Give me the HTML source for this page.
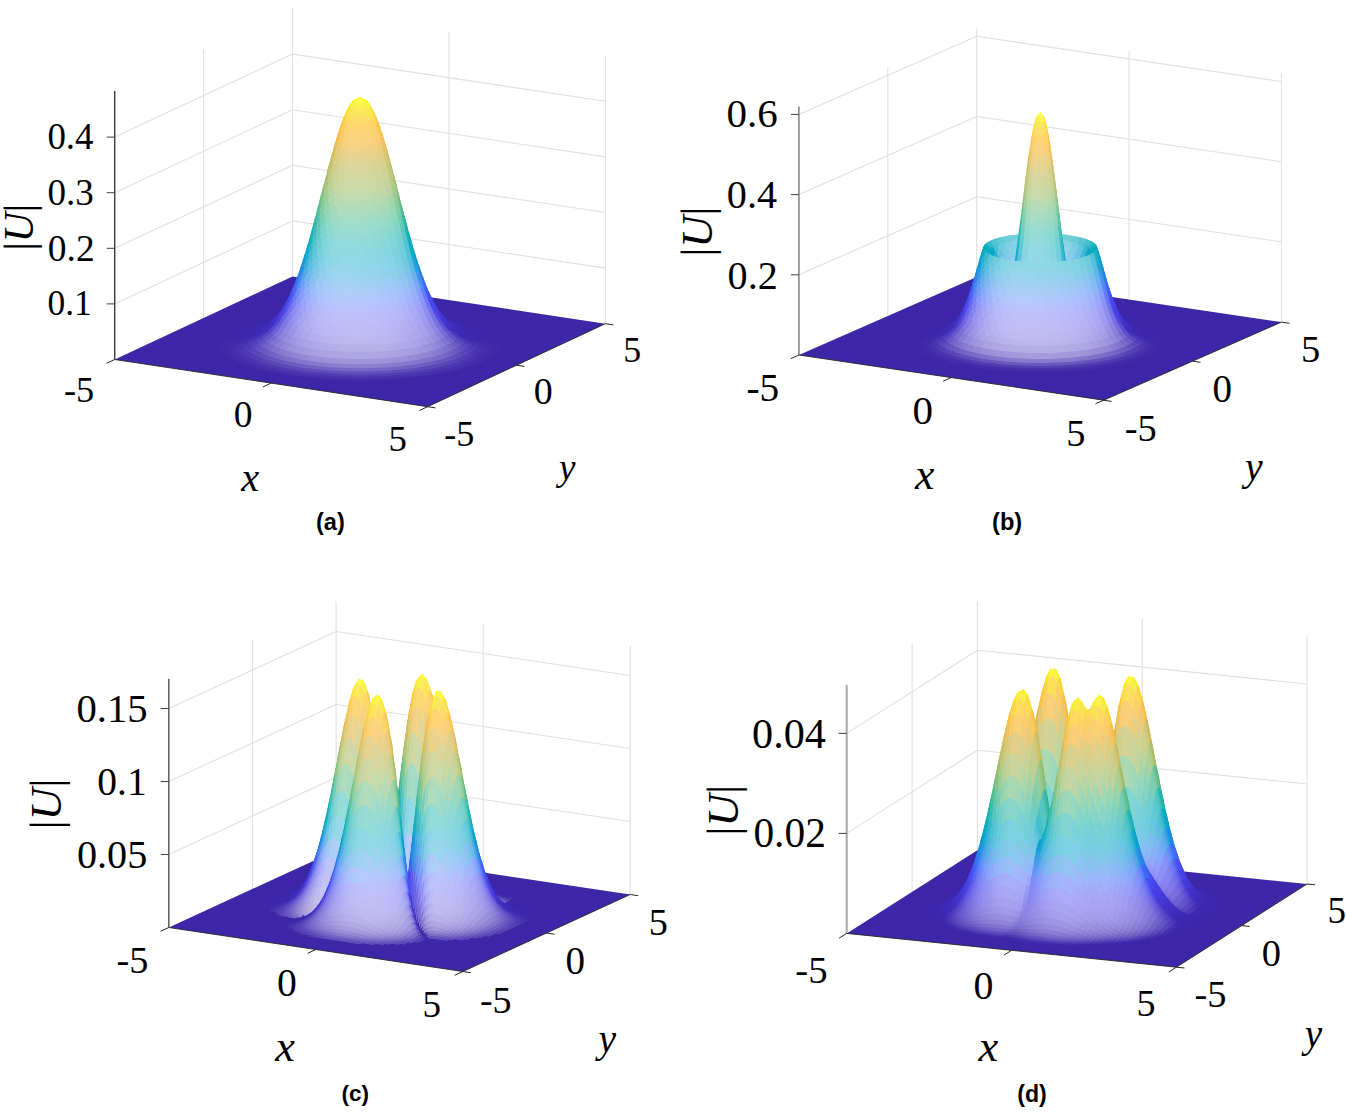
<!DOCTYPE html>
<html><head><meta charset="utf-8"><style>html,body{margin:0;padding:0;background:#fff;overflow:hidden}svg{display:block}.s{font-family:"Liberation Serif",serif}.i{font-style:italic}.b{font-family:"Liberation Sans",sans-serif;font-weight:bold}</style></head>
<body><svg width="1346" height="1113" viewBox="0 0 1346 1113">
<rect width="1346" height="1113" fill="#fff"/>
<g><line x1="114.7" y1="303.9" x2="292.5" y2="220.9" stroke="#e0e0e0" stroke-width="1.10"/>
<line x1="292.5" y1="220.9" x2="605.4" y2="268.1" stroke="#e0e0e0" stroke-width="1.10"/>
<line x1="114.7" y1="248.3" x2="292.5" y2="165.3" stroke="#e0e0e0" stroke-width="1.10"/>
<line x1="292.5" y1="165.3" x2="605.4" y2="212.5" stroke="#e0e0e0" stroke-width="1.10"/>
<line x1="114.7" y1="192.7" x2="292.5" y2="109.7" stroke="#e0e0e0" stroke-width="1.10"/>
<line x1="292.5" y1="109.7" x2="605.4" y2="156.9" stroke="#e0e0e0" stroke-width="1.10"/>
<line x1="114.7" y1="137.1" x2="292.5" y2="54.1" stroke="#e0e0e0" stroke-width="1.10"/>
<line x1="292.5" y1="54.1" x2="605.4" y2="101.3" stroke="#e0e0e0" stroke-width="1.10"/>
<line x1="203.6" y1="318.0" x2="203.6" y2="49.5" stroke="#e0e0e0" stroke-width="1.10"/>
<line x1="292.5" y1="276.5" x2="292.5" y2="8.0" stroke="#e0e0e0" stroke-width="1.10"/>
<line x1="448.9" y1="300.1" x2="448.9" y2="31.6" stroke="#e0e0e0" stroke-width="1.10"/>
<line x1="605.4" y1="323.7" x2="605.4" y2="55.2" stroke="#e0e0e0" stroke-width="1.10"/></g>
<g><path d="M114.7 359.5 L427.6 406.7 L605.4 323.7 L292.5 276.5 Z" fill="#3d26a7"/>
<path d="M442.9 311.1l1.6-.8-9.1-1.9-1.5.9z" fill="#3e26a9"/>
<path d="M284.5 309.5l-1.5-.8-9 1.9 1.6.8z" fill="#3e26a9"/>
<path d="M438.7 312.5l4.9-1.9-9-1.8-4.4 1.9z" fill="#3e27a9"/>
<path d="M288.4 310.9l-4.5-1.9-8.9 1.9 4.9 1.8z" fill="#3e27a9"/>
<path d="M450.8 312.8l1.7-.8-8.7-2.1-1.6.8z" fill="#3e26a9"/>
<path d="M276.3 311l-1.6-.8-8.6 2.1 1.7.8z" fill="#3e26a9"/>
<path d="M446.2 314l5.2-1.7-8.5-2.1-4.9 1.8z" fill="#3e27a9"/>
<path d="M280.6 312.3l-4.9-1.8-8.5 2.1 5.3 1.7z" fill="#3e27a9"/>
<path d="M458.2 314.5l1.8-.7-8.2-2.3-1.7.8z" fill="#3e26a9"/>
<path d="M268.5 312.6l-1.7-.8-8.1 2.3 1.8.7z" fill="#3e26a9"/>
<path d="M286.9 313l-4.8-1.6-8.6 2 5.3 1.6z" fill="#3e27aa"/>
<path d="M453.2 315.7l5.7-1.7-8.2-2.2-5.2 1.7z" fill="#3e27a9"/>
<path d="M442.4 315.2l5.3-1.5-8.5-2.1-4.9 1.6z" fill="#3e27aa"/>
<path d="M273.2 313.8l-5.3-1.7-8.1 2.3 5.8 1.6z" fill="#3e27a9"/>
<path d="M465.1 316.4l1.9-.7-7.7-2.4-1.8.7z" fill="#3e26a9"/>
<path d="M261.2 314.4l-1.9-.8-7.6 2.5 2 .7z" fill="#3e26a9"/>
<path d="M279.4 314.5l-5.2-1.5-8.1 2.2 5.7 1.4z" fill="#3e27aa"/>
<path d="M449.3 316.9l5.7-1.4-8-2.2-5.3 1.4z" fill="#3e27aa"/>
<path d="M459.8 317.4l6-1.5-7.6-2.3-5.7 1.6z" fill="#3e27a9"/>
<path d="M266.2 315.5l-5.7-1.6-7.5 2.4 6.1 1.5z" fill="#3e27a9"/>
<path d="M285.7 314.8l-5.2-1.1-8.1 2.1 5.6 1.1z" fill="#3e27ab"/>
<path d="M471.5 318.4l2.1-.7-7.2-2.5-1.9.7z" fill="#3e26a9"/>
<path d="M272.5 316.1l-5.7-1.4-7.5 2.4 6 1.3z" fill="#3e27aa"/>
<path d="M254.3 316.3l-1.9-.7-7.1 2.5 2.1.7z" fill="#3e26a9"/>
<path d="M445.3 317.8l5.8-1-7.8-2.3-5.4 1.1z" fill="#3e27ab"/>
<path d="M455.7 318.7l6.1-1.3-7.5-2.4-5.7 1.4z" fill="#3e27aa"/>
<path d="M465.9 319.3l6.3-1.3-7-2.5-6.1 1.4z" fill="#3e27a9"/>
<path d="M259.7 317.3l-6.1-1.5-6.9 2.6 6.4 1.3z" fill="#3e27a9"/>
<path d="M278.7 316.4l-5.6-1-7.6 2.3 6 1z" fill="#3e27ab"/>
<path d="M477.4 320.5l2.1-.6-6.6-2.7-2 .7z" fill="#3e26a9"/>
<path d="M265.9 317.9l-6-1.3-7 2.5 6.4 1.2z" fill="#3e27aa"/>
<path d="M451.6 319.6l6.2-.9-7.3-2.4-5.8.9z" fill="#3e27ab"/>
<path d="M461.6 320.6l6.5-1.1-6.9-2.6-6.1 1.3z" fill="#3e27aa"/>
<path d="M248 318.3l-2-.7-6.5 2.7 2.1.6z" fill="#3e26a9"/>
<path d="M471.5 321.4l6.6-1.3-6.5-2.6-6.4 1.3z" fill="#3e27a9"/>
<path d="M272.1 318.1l-6-.9-7 2.5 6.4.8z" fill="#3e27ab"/>
<path d="M281.8 316.9l-5.7-.4-7.4 2.4 6.1.3z" fill="#3e28ad"/>
<path d="M253.7 319.2l-6.4-1.3-6.4 2.6 6.7 1.2z" fill="#3e27a9"/>
<path d="M446.3 319.5l6.2-.3-7.3-2.4-5.9.4z" fill="#3e28ad"/>
<path d="M457.3 321.5l6.6-.8-6.8-2.5-6.1.8z" fill="#3e27ab"/>
<path d="M259.9 319.7l-6.4-1.1-6.4 2.7 6.7 1z" fill="#3e27aa"/>
<path d="M482.7 322.7l2.2-.5-6-2.8-2.1.6z" fill="#3e26a9"/>
<path d="M467 322.6l6.8-1-6.3-2.7-6.5 1.1z" fill="#3e27aa"/>
<path d="M242.2 320.4l-2.1-.6-5.9 2.8 2.2.6z" fill="#3e26a9"/>
<path d="M476.5 323.5l6.9-1.1-5.9-2.8-6.7 1.2z" fill="#3e27a9"/>
<path d="M275.5 318.7l-6.2-.3-6.8 2.6 6.5.1z" fill="#3e28ad"/>
<path d="M266.1 320l-6.4-.8-6.3 2.6 6.7.7z" fill="#3e27ab"/>
<path d="M248.2 321.2l-6.7-1.2-5.8 2.8 7 1.1z" fill="#3e27a9"/>
<path d="M452 321.5l6.5-.2-6.6-2.6-6.3.3z" fill="#3e28ad"/>
<path d="M462.5 323.5l6.8-.6-6-2.7-6.6.7z" fill="#3e27ab"/>
<path d="M254.4 321.7l-6.7-1-5.8 2.8 7 .9z" fill="#3e27aa"/>
<path d="M487.4 325.1l2.3-.5-5.4-3-2.2.6z" fill="#3e26a9"/>
<path d="M471.8 324.7l7.1-.8-5.7-2.8-6.8.9z" fill="#3e27aa"/>
<path d="M446.6 320.6l6.6.8-6.6-2.7-6.3-.6z" fill="#3f29b0"/>
<path d="M237 322.6l-2.2-.5-5.2 2.9 2.2.5z" fill="#3e26a9"/>
<path d="M278.8 318.4l-6.3.6-6.5 2.7 6.7-.8z" fill="#3f29b0"/>
<path d="M269.6 320.6l-6.5-.2-6.1 2.7 6.8.1z" fill="#3e28ad"/>
<path d="M481 325.7l7.2-1-5.3-2.9-7 1.1z" fill="#3e27a9"/>
<path d="M260.7 321.9l-6.8-.6-5.7 2.8 7 .5z" fill="#3e27ab"/>
<path d="M457.1 323.5l6.9 0-6-2.7-6.6.1z" fill="#3e28ad"/>
<path d="M243.3 323.3l-7-1.1-5.2 3 7.2.9z" fill="#3e27a9"/>
<path d="M467 325.6l7.2-.4-5.4-2.8-6.9.5z" fill="#3e27ab"/>
<path d="M249.5 323.8l-7-.8-5.1 2.9 7.2.7z" fill="#3e27aa"/>
<path d="M451.6 322.7l7 .9-5.9-2.8-6.7-.8z" fill="#3f29b0"/>
<path d="M476 326.9l7.3-.7-5-2.9-7.1.8z" fill="#3e27aa"/>
<path d="M491.5 327.5l2.3-.5-4.7-3-2.3.5z" fill="#3e26a9"/>
<path d="M273.2 320.3l-6.7.8-5.8 2.9 7.1-1z" fill="#3f29b0"/>
<path d="M264.4 322.6l-6.9 0-5.4 2.8 7.2-.1z" fill="#3e28ad"/>
<path d="M232.4 324.9l-2.3-.5-4.5 3.1 2.3.4z" fill="#3e26a9"/>
<path d="M255.8 324l-7-.5-5.1 2.9 7.3.3z" fill="#3e27ab"/>
<path d="M484.8 328l7.5-.9-4.7-3-7.2 1z" fill="#3e27a9"/>
<path d="M461.5 325.7l7.2.1-5.3-2.9-6.9 0z" fill="#3e28ad"/>
<path d="M238.9 325.5l-7.3-.9-4.5 3 7.5.8z" fill="#3e27a9"/>
<path d="M446.1 320.7l7.1 2.2-5.8-2.9-6.7-2.1z" fill="#402bb5"/>
<path d="M471 327.9l7.4-.3-4.8-3-7.1.4z" fill="#3e27ab"/>
<path d="M245.2 326l-7.3-.7-4.4 3 7.5.6z" fill="#3e27aa"/>
<path d="M455.9 324.9l7.3 1.1-5.1-3-7-.9z" fill="#3f29b0"/>
<path d="M276.9 318.9l-6.9 2.1-5.3 3 7.2-2.3z" fill="#402bb5"/>
<path d="M479.6 329.2l7.5-.5-4.3-3.1-7.3.7z" fill="#3e27aa"/>
<path d="M268.3 322.4l-7.1.9-5 3 7.4-1.1z" fill="#3f29b0"/>
<path d="M494.9 329.9l2.4-.4-4-3.1-2.4.4z" fill="#3e26a9"/>
<path d="M259.8 324.7l-7.2.1-4.6 3 7.4-.3z" fill="#3e28ad"/>
<path d="M251.5 326.1l-7.3-.3-4.3 3 7.5.2z" fill="#3e27ab"/>
<path d="M488.1 330.3l7.6-.6-4-3.2-7.4.8z" fill="#3e27a9"/>
<path d="M228.4 327.3l-2.3-.4-3.9 3.1 2.4.4z" fill="#3e26a9"/>
<path d="M465.3 327.9l7.4.4-4.5-3.1-7.2-.2z" fill="#3e28ad"/>
<path d="M235.1 327.7l-7.5-.7-3.8 3.1 7.6.6z" fill="#3e27a9"/>
<path d="M450.3 322.9l7.4 2.4-5-3.1-7-2.2z" fill="#402bb5"/>
<path d="M474.2 330.1l7.6 0-4-3.1-7.4.2z" fill="#3e27ab"/>
<path d="M241.5 328.2l-7.5-.5-3.7 3.1 7.6.4z" fill="#3e27aa"/>
<path d="M459.5 327.1l7.5 1.3-4.3-3.1-7.3-1.1z" fill="#3f29b0"/>
<path d="M272.3 321l-7.2 2.3-4.5 3.2 7.5-2.6z" fill="#402bb5"/>
<path d="M482.5 331.6l7.7-.4-3.6-3.1-7.5.5z" fill="#3e27aa"/>
<path d="M264 324.5l-7.3 1.2-4.2 3.1 7.6-1.3z" fill="#3f29b0"/>
<path d="M255.9 326.8l-7.4.4-3.9 3.1 7.6-.5z" fill="#3e28ad"/>
<path d="M497.7 332.5l2.4-.4-3.3-3.2-2.8.2z" fill="#3e26a9"/>
<path d="M445.6 318.7l7 5.1-4.9-2.4-6.7-4.9z" fill="#412dbc"/>
<path d="M247.9 328.3l-7.5-.1-3.6 3.1 7.7 0z" fill="#3e27ab"/>
<path d="M490.7 332.7l7.8-.5-3.3-3.2-7.6.6z" fill="#3e27a9"/>
<path d="M468.3 330.2l7.7.6-3.7-3.2-7.5-.4z" fill="#3e28ad"/>
<path d="M278.6 316.8l-6.8 4.9-4.8 2.4 7-5.1z" fill="#412dbc"/>
<path d="M225.5 329.5l-2.8-.1-3.6 3.4 2.8.1z" fill="#3e26a9"/>
<path d="M453.7 325.1l7.6 2.7-4-3.2-7.4-2.5z" fill="#402bb5"/>
<path d="M232.4 329.9l-8.1-.4-3.2 3.2 7.8.4z" fill="#3e27a9"/>
<path d="M476.8 332.5l7.8.1-3.2-3.2-7.7.1z" fill="#3e27ab"/>
<path d="M238.9 330.3l-8.2-.1-3 3.2 7.9.2z" fill="#3e27aa"/>
<path d="M462.3 329.5l7.8 1.5-3.5-3.2-7.5-1.4z" fill="#3f29b0"/>
<path d="M268.5 323.2l-7.5 2.6-3.6 3.2 7.7-2.8z" fill="#402bb5"/>
<path d="M484.8 334l8.3 0-3.3-3.5-8.1.2z" fill="#3e27aa"/>
<path d="M260.5 326.8l-7.6 1.3-3.3 3.3 7.8-1.6z" fill="#3f29b0"/>
<path d="M252.7 329.1l-7.7.6-3 3.2 7.8-.7z" fill="#3e28ad"/>
<path d="M448.1 321.7l7.7 4.6-3.5-3.2-7.5-4.4z" fill="#412dbc"/>
<path d="M281.5 312.9l-5.5 5.9-4.3 2.5 5.8-6z" fill="#4331c7"/>
<path d="M499.8 335l2.8-.1-2.9-3.4-2.8.1z" fill="#3e26a9"/>
<path d="M244.9 330.6l-7.7.1-2.8 3.2 7.8-.2z" fill="#3e27ab"/>
<path d="M470.6 332.6l7.9.7-2.9-3.2-7.7-.6z" fill="#3e28ad"/>
<path d="M274.8 319l-7.5 4.4-3.4 3.2 7.8-4.6z" fill="#412dbc"/>
<path d="M492.7 335.1l8.2-.1-2.8-3.5-8.1.3z" fill="#3e27a9"/>
<path d="M222.7 332.1l-2.8-.2-2.7 3.5 2.8.1z" fill="#3e26a9"/>
<path d="M456.2 327.5l7.8 2.9-3.1-3.3-7.6-2.7z" fill="#402bb5"/>
<path d="M229.7 332.3l-8.1-.3-2.7 3.5 8.2.1z" fill="#3e27a9"/>
<path d="M478.7 334.9l8.3.5-2.8-3.5-8.2-.3z" fill="#3e27ab"/>
<path d="M444 316.6l5.8 6.1-3.7-2.6-5.6-6z" fill="#4331c7"/>
<path d="M236.3 332.7l-8.2 0-2.5 3.5 8.3-.2z" fill="#3e27aa"/>
<path d="M464.3 331.9l7.9 1.7-2.5-3.3-7.8-1.6z" fill="#3f29b0"/>
<path d="M265.4 325.5l-7.7 2.8-2.6 3.3 7.9-3z" fill="#402bb5"/>
<path d="M283.8 308.8l-4.5 6.2-3.6 2.7 4.7-6.4z" fill="#4436d2"/>
<path d="M486.4 336.4l8.3.2-2.4-3.5-8.1 0z" fill="#3e27aa"/>
<path d="M257.8 329.1l-7.8 1.5-2.4 3.4 7.9-1.8z" fill="#3f29b0"/>
<path d="M250.6 331.2l-8.3 1-2.6 3.6 8.4-1.2z" fill="#3e28ad"/>
<path d="M450.1 324.1l7.9 4.8-2.5-3.3-7.7-4.7z" fill="#412dbc"/>
<path d="M278.2 315.2l-6.3 5.4-2.5 3.3 6.4-5.5z" fill="#4331c7"/>
<path d="M242.9 332.8l-8.2.4-2.3 3.5 8.3-.6z" fill="#3e27ab"/>
<path d="M436.6 306.5l3.6 6.2-3.3-2.8-3.6-6.1z" fill="#463cdd"/>
<path d="M501.2 337.6l2.7 0-2-3.5-2.7 0z" fill="#3e26a9"/>
<path d="M271.9 321.2l-7.7 4.7-2.4 3.3 8-4.8z" fill="#412dbc"/>
<path d="M472.2 335l8.4 1.2-2.5-3.6-8.2-1z" fill="#3e28ad"/>
<path d="M494 337.6l8.2 0-1.9-3.5-8.1.1z" fill="#3e27a9"/>
<path d="M457.9 329.9l7.9 3.1-2.1-3.4-7.8-2.9z" fill="#402bb5"/>
<path d="M220.5 334.6l-2.7 0-1.7 3.5 2.6 0z" fill="#3e26a9"/>
<path d="M440.8 312.7l4.6 6.4-3-2.8-4.5-6.3z" fill="#4436d2"/>
<path d="M227.6 334.7l-8.1-.1-1.8 3.5 8.2 0z" fill="#3e27a9"/>
<path d="M479.9 337.3l8.2.7-1.8-3.6-8.1-.4z" fill="#3e27ab"/>
<path d="M445.1 319.7l6.5 5.7-2-3.4-6.4-5.6z" fill="#4331c7"/>
<path d="M429.1 291.9l2.3 5.7-3.1-2.8-2.2-5.7z" fill="#484cf0"/>
<path d="M296.3 283.8l-2.2 6-3 2.8 2.3-6.1z" fill="#4557f4"/>
<path d="M288.2 300.1l-2.9 5.7-2.7 2.9 2.9-5.8z" fill="#4741e4"/>
<path d="M234.3 335.1l-8.1.2-1.5 3.5 8.2-.3z" fill="#3e27aa"/>
<path d="M465.6 334.3l8.3 2.2-1.9-3.7-8.3-2z" fill="#3f29b0"/>
<path d="M431.7 297.3l2.9 6.5-2.7-2.9-2.8-6.3z" fill="#4747ea"/>
<path d="M281.1 311.1l-5.3 5.8-1.7 3.4 5.3-6z" fill="#4436d2"/>
<path d="M263.2 327.8l-7.9 3.1-1.6 3.4 8-3.3z" fill="#402bb5"/>
<path d="M290.8 294.8l-2.8 6.3-2.6 2.9 2.9-6.4z" fill="#4747ea"/>
<path d="M415.2 253.8l1.8 6.7-3.2-2.8-1.7-6.7z" fill="#0a9bd3"/>
<path d="M487.3 338.9l8.2.3-1.4-3.5-8.1-.2z" fill="#3e27aa"/>
<path d="M256.1 331.1l-8.3 2.1-1.7 3.7 8.3-2.3z" fill="#3f29b0"/>
<path d="M434.9 303.5l2.9 5.8-2.5-2.9-2.8-5.7z" fill="#4741e4"/>
<path d="M417.2 260l1.8 6.5-3-2.9-1.7-6.4z" fill="#1491dc"/>
<path d="M248.5 333.6l-8.1 1.2-1.5 3.5 8.2-1.3z" fill="#3e28ad"/>
<path d="M451.3 326.4l8 5.2-1.4-3.5-7.9-4.9z" fill="#412dbc"/>
<path d="M292.8 290.1l-2.2 5.7-2.4 2.9 2.3-5.7z" fill="#484cf0"/>
<path d="M275.9 317.5l-6.4 5.7-1.4 3.4 6.5-5.8z" fill="#4331c7"/>
<path d="M241.1 335.2l-8.1.5-1.3 3.6 8.2-.8z" fill="#3e27ab"/>
<path d="M437.2 309.5l4.4 5.8-1.4-3.4-4.3-5.7z" fill="#463cdd"/>
<path d="M323.2 196.9l-1.3 6.5-3.5 2.8 1.5-6.6z" fill="#5cbe8a"/>
<path d="M419.3 266.2l1.8 6.2-2.5-2.8-1.8-6.2z" fill="#2087e5"/>
<path d="M401.8 205.5l1.4 6.6-3.3-2.9-1.3-6.4z" fill="#4bbc93"/>
<path d="M269.9 323.5l-7.9 5-1.2 3.4 7.9-5.2z" fill="#412dbc"/>
<path d="M473 337.4l8.2 1.4-1.2-3.6-8.2-1.2z" fill="#3e28ad"/>
<path d="M501.9 340.2l2.6.1-1.1-3.6-2.6 0z" fill="#3e26a9"/>
<path d="M334.5 156.7l-1.3 6.2-4.2 2.7 1.5-6.3z" fill="#bfbc60"/>
<path d="M314.9 225.6l-1.3 6.2-2.9 2.9 1.4-6.3z" fill="#15b1b4"/>
<path d="M421.3 271.9l1.7 6-2.3-2.9-1.7-6z" fill="#2c7cee"/>
<path d="M494.7 340.1l8.1.2-1-3.6-8.1 0z" fill="#3e27a9"/>
<path d="M403.4 211.5l1.4 6.5-3-2.9-1.3-6.4z" fill="#3bb99c"/>
<path d="M335.9 151.4l-1.3 6.1-4.1 2.6 1.5-6.3z" fill="#c8bc5c"/>
<path d="M325.9 185.6l-1.3 6.5-3.3 2.8 1.4-6.6z" fill="#80bf7a"/>
<path d="M306.8 252l-1.7 6.6-2.4 3 1.7-6.8z" fill="#0a9bd3"/>
<path d="M423.2 277.3l1.8 5.8-2.2-3-1.7-5.6z" fill="#3672f6"/>
<path d="M405.1 217.5l1.4 6.4-2.9-2.9-1.3-6.4z" fill="#2db7a5"/>
<path d="M337.2 146.2l-1.3 6-3.9 2.5 1.5-6.2z" fill="#d3bb57"/>
<path d="M458.7 332.3l8.3 3.8-1.3-3.8-8.3-3.6z" fill="#402bb5"/>
<path d="M441.1 315.7l5.3 6.1-1-3.4-5.3-6z" fill="#4436d2"/>
<path d="M425.2 282.5l2.2 6.6-2.1-3-2.1-6.5z" fill="#4063f8"/>
<path d="M317.6 214.8l-1.3 6.3-2.7 3 1.4-6.5z" fill="#2db7a5"/>
<path d="M338.5 141.2l-1.3 5.8-3.8 2.4 1.5-6z" fill="#dfbb50"/>
<path d="M298.8 274.7l-1.7 5.6-2.1 3 1.8-5.7z" fill="#3672f6"/>
<path d="M219 337.2l-2.6 0-.8 3.6 2.6-.1z" fill="#3e26a9"/>
<path d="M406.6 223.3l1.4 6.4-2.5-2.9-1.4-6.3z" fill="#20b4ad"/>
<path d="M226.2 337.2l-8.1 0-.8 3.6 8.1-.2z" fill="#3e27a9"/>
<path d="M339.8 136.3l-1.3 5.7-3.6 2.2 1.5-5.8z" fill="#ebba4a"/>
<path d="M309.5 242.3l-1.3 5.8-2.2 3 1.3-5.9z" fill="#06a6c7"/>
<path d="M390 160l1.5 6.4-3.4-2.8-1.3-6.3z" fill="#bfbc60"/>
<path d="M341.4 130.5l-1.6 6.6-3.4 2.1 1.9-6.7z" fill="#f6bb43"/>
<path d="M388.5 154.6l1.5 6.2-3.2-2.7-1.3-6.2z" fill="#c8bc5c"/>
<path d="M320.3 203.7l-1.4 6.4-2.4 3 1.4-6.6z" fill="#4bbc93"/>
<path d="M426.8 289.2l3 5.8-.9-3.3-3-5.8z" fill="#4557f4"/>
<path d="M357.7 99l-1.8 5.5-4 .7 3-5.7z" fill="#f9f047"/>
<path d="M283.4 307.2l-4.3 5.9-.8 3.4 4.4-6z" fill="#463cdd"/>
<path d="M302.3 264.3l-1.7 6.2-1.8 3 1.7-6.3z" fill="#2087e5"/>
<path d="M409.8 234.8l1.3 6.2-2.1-3-1.3-6.1z" fill="#0dadbb"/>
<path d="M343.1 125.1l-1.7 6.2-3.2 2 1.9-6.4z" fill="#f9bf3e"/>
<path d="M391.6 165.9l1.5 6.4-3-2.9-1.3-6.3z" fill="#b6bd64"/>
<path d="M387 149.2l1.5 6.2-3.1-2.6-1.3-6.1z" fill="#d3bb57"/>
<path d="M480.3 339.7l8.2.9-.8-3.6-8.1-.6z" fill="#3e27ab"/>
<path d="M365.7 99.6l3.3 5.8-3.9-.8-2.2-5.6z" fill="#f9ef41"/>
<path d="M445.8 322.1l6.5 6-.8-3.5-6.4-5.8z" fill="#4331c7"/>
<path d="M331.2 163.2l-1.3 6.3-2.9 3 1.4-6.5z" fill="#b6bd64"/>
<path d="M429.2 294.8l3 5.5-.8-3.4-3-5.4z" fill="#484cf0"/>
<path d="M385.5 144l1.5 6-3-2.4-1.3-5.9z" fill="#dfbb50"/>
<path d="M294 286.1l-3 5.8-.8 3.4 3.1-5.9z" fill="#4557f4"/>
<path d="M344.7 120l-1.6 5.9-3 1.8 1.9-6z" fill="#fcc239"/>
<path d="M411.3 240.4l1.4 6-1.9-3-1.3-5.9z" fill="#07aac1"/>
<path d="M384 139l1.5 5.9-2.9-2.4-1.3-5.7z" fill="#ebba4a"/>
<path d="M322.9 192.4l-1.3 6.5-2.1 3 1.3-6.6z" fill="#6ebf81"/>
<path d="M382.2 133l1.8 6.8-2.7-2.2-1.7-6.6z" fill="#f6bb43"/>
<path d="M346.4 115.3l-1.7 5.5-2.8 1.7 1.9-5.7z" fill="#fdc734"/>
<path d="M303.9 258.9l-1.6 6.5-1.7 3 1.7-6.5z" fill="#1491dc"/>
<path d="M412.9 245.9l1.3 5.8-1.7-3-1.3-5.8z" fill="#06a6c7"/>
<path d="M286.2 302.5l-3.7 5.5-.5 3.3 3.6-5.5z" fill="#4741e4"/>
<path d="M394.8 177.8l1.3 6.6-2.3-3-1.3-6.5z" fill="#a2be6c"/>
<path d="M355.7 99.4l-2.7 5.5-2.9.8 3.4-5.8z" fill="#f9ee32"/>
<path d="M233.1 337.6l-8.1.3-.6 3.5 8.2-.5z" fill="#3e27aa"/>
<path d="M380.3 127.4l1.8 6.5-2.5-2.1-1.7-6.3z" fill="#f9bf3e"/>
<path d="M465.9 336.7l8.2 2.4-.7-3.6-8.1-2.2z" fill="#3f29b0"/>
<path d="M348.4 110.2l-2.1 6-2.5 1.5 2.3-6.2z" fill="#fbd22c"/>
<path d="M431.6 300.2l3.6 6.2-.5-3.4-3.6-6.1z" fill="#4747ea"/>
<path d="M314.9 221.4l-1.2 6.3-1.8 3 1.3-6.3z" fill="#20b4ad"/>
<path d="M296.1 280.6l-2.9 6.3-.6 3.4 3-6.4z" fill="#4063f8"/>
<path d="M414.4 251.2l1.3 5.7-1.6-3-1.2-5.7z" fill="#06a2cb"/>
<path d="M378.4 122.1l1.9 6.1-2.5-1.9-1.6-5.9z" fill="#fcc239"/>
<path d="M279.4 313.5l-5.3 6-.5 3.5 5.3-6.3z" fill="#4436d2"/>
<path d="M396.3 183.8l1.3 6.7-2-3-1.3-6.6z" fill="#94bf72"/>
<path d="M366.9 100.1l3.6 5.8-2.7-.8-2.9-5.6z" fill="#f8ed28"/>
<path d="M262 329.9l-8.2 3.6-.6 3.8 8.2-3.8z" fill="#402bb5"/>
<path d="M376.5 117.3l1.9 5.6-2.3-1.7-1.7-5.5z" fill="#fdc734"/>
<path d="M325.6 181l-1.2 6.6-1.9 3 1.3-6.6z" fill="#94bf72"/>
<path d="M307.1 248.4l-2.1 5.4-.6 3.3 2.2-5.5z" fill="#06a2cb"/>
<path d="M415.1 256.6l2.5 6.5-.6-3.3-2.4-6.4z" fill="#0a9bd3"/>
<path d="M351 104.8l-2.6 6.2-2.3 1.3 2.9-6.5z" fill="#f9df23"/>
<path d="M288.9 297.2l-3.6 6.1-.4 3.4 3.6-6.2z" fill="#4747ea"/>
<path d="M397.8 189.9l1.3 6.7-1.7-3.1-1.3-6.5z" fill="#80bf7a"/>
<path d="M254.6 333.6l-8.1 2.3-.5 3.6 8.2-2.4z" fill="#3f29b0"/>
<path d="M487.5 341.3l8.1.5-.4-3.5-8.1-.4z" fill="#3e27aa"/>
<path d="M374.2 111.8l2.3 6.3-2.1-1.6-2.1-6.1z" fill="#fbd22c"/>
<path d="M434.5 306.3l3.6 5.6-.3-3.3-3.6-5.5z" fill="#4741e4"/>
<path d="M317.7 210.4l-1.3 6.5-1.4 3 1.3-6.5z" fill="#3bb99c"/>
<path d="M360 96.4l1.9 3.2-3 0z" fill="#f9f920"/>
<path d="M416.9 262.8l2.5 6.3-.3-3.3-2.5-6.3z" fill="#1491dc"/>
<path d="M299.7 270.8l-2.5 5.7-.3 3.4 2.5-5.8z" fill="#2c7cee"/>
<path d="M399.3 196l1.3 6.7-1.5-3.1-1.2-6.6z" fill="#6ebf81"/>
<path d="M359.8 96.7l4.1 3-2.5-.1z" fill="#f9f91a"/>
<path d="M247.3 336.1l-8.1 1.3-.3 3.5 8.1-1.5z" fill="#3e28ad"/>
<path d="M354.3 99.8l-3.4 5.8-2 1 3.8-6z" fill="#f8ec1b"/>
<path d="M451.5 328.8l8.2 5.8-.5-3.8-8.1-5.6z" fill="#412dbc"/>
<path d="M309.9 238.4l-2.1 5.8-.3 3.3 2.1-5.8z" fill="#07aac1"/>
<path d="M291.1 292.5l-3 5.5-.2 3.4 3-5.6z" fill="#484cf0"/>
<path d="M274.5 319.9l-6.5 6-.1 3.4 6.5-6.1z" fill="#4331c7"/>
<path d="M367.5 100.8l3.8 6.1-1.7-1.1-3.4-5.8z" fill="#f8ec1b"/>
<path d="M240 337.6l-8 .7-.3 3.6 8.1-.9z" fill="#3e27ab"/>
<path d="M437.4 311.9l4.4 6.1-.1-3.4-4.3-6z" fill="#463cdd"/>
<path d="M320.4 199.2l-2.1 6.3-.2 3.4 2.1-6.5z" fill="#5cbe8a"/>
<path d="M418.8 269l2.4 6 0-3.3-2.5-6z" fill="#2087e5"/>
<path d="M401.4 208.3l2.1 6.4-.2-3.3-2.1-6.3z" fill="#4bbc93"/>
<path d="M268.9 325.5l-8.1 5.6-.3 3.8 8.1-5.8z" fill="#412dbc"/>
<path d="M473.1 339.9l8.1 1.5-.2-3.6-8.1-1.3z" fill="#3e28ad"/>
<path d="M331 158.9l-2 6.1-.2 3.3 2.1-6.2z" fill="#bfbc60"/>
<path d="M332.5 153.5l-2.1 5.9-.1 3.3 2.1-6.1z" fill="#c8bc5c"/>
<path d="M312.7 228l-2.1 6 .1 3.3 2-6.1z" fill="#15b1b4"/>
<path d="M360.3 96.8l-6.6 3.3-1 1z" fill="#f9f916"/>
<path d="M334 148.2l-2.1 5.8-.1 3.1 2.1-6z" fill="#d3bb57"/>
<path d="M420.6 274.7l2.5 5.8.1-3.3-2.5-5.8z" fill="#2c7cee"/>
<path d="M335.5 143l-2.1 5.7-.1 3 2.1-5.8z" fill="#dfbb50"/>
<path d="M337 138l-2.1 5.6-.1 2.8 2.1-5.6z" fill="#ebba4a"/>
<path d="M402.8 214.3l2.1 6.4.1-3.4-2.1-6.2z" fill="#3bb99c"/>
<path d="M338.8 132.1l-2.4 6.5-.1 2.7 2.5-6.6z" fill="#f6bb43"/>
<path d="M340.7 126.5l-2.5 6.2 0 2.5 2.4-6.3z" fill="#f9bf3e"/>
<path d="M359.8 96.8l7.7 4.5-.8-1z" fill="#f9f916"/>
<path d="M501.8 342.9l2.6 0-.1-3.5-2.6-.1z" fill="#3e26a9"/>
<path d="M494.6 342.6l8.1.3-.1-3.5-8.1-.2z" fill="#3e27a9"/>
<path d="M342.5 121.3l-2.4 5.7-.1 2.5 2.5-5.9z" fill="#fcc239"/>
<path d="M344.4 116.5l-2.5 5.3 0 2.3 2.5-5.5z" fill="#fdc734"/>
<path d="M346.7 111.1l-2.9 5.9 0 2.1 2.9-6.1z" fill="#fbd22c"/>
<path d="M349.6 105.5l-3.5 6.1 0 2 3.6-6.4z" fill="#f9df23"/>
<path d="M323.2 187.9l-2.1 6.4.3 3.3 2-6.5z" fill="#80bf7a"/>
<path d="M305 254.4l-2.5 6.5.3 3.3 2.4-6.6z" fill="#0a9bd3"/>
<path d="M422.4 280.1l2.5 5.6.3-3.3-2.5-5.5z" fill="#3672f6"/>
<path d="M353.3 100.3l-4.3 5.6 0 1.8 4.3-6z" fill="#f8ec1b"/>
<path d="M404.3 220.2l2 6.3.3-3.3-2.1-6.2z" fill="#2db7a5"/>
<path d="M360.3 96.8l-7.5 3.9-.2 1.2z" fill="#f9f916"/>
<path d="M458.6 334.7l8.1 3.9 0-3.6-8.1-3.7z" fill="#402bb5"/>
<path d="M359.8 96.8l7.5 5.2.2-1.1z" fill="#f9f916"/>
<path d="M441 318.1l5.2 6.3.3-3.4-5.3-6.2z" fill="#4436d2"/>
<path d="M315.5 217.2l-2.1 6.2.5 3.3 2-6.3z" fill="#2db7a5"/>
<path d="M424.3 285.3l2.9 6.5.4-3.4-3-6.4z" fill="#4063f8"/>
<path d="M366.6 101.8l4.2 6.1.5-1.6-4.2-5.9z" fill="#f8ec1b"/>
<path d="M297.3 277.1l-2.4 5.5.4 3.3 2.4-5.6z" fill="#3672f6"/>
<path d="M405.7 226.1l2 6.2.5-3.3-2-6.1z" fill="#20b4ad"/>
<path d="M370.2 107.4l3.5 6.5.6-1.9-3.5-6.3z" fill="#f9df23"/>
<path d="M373.1 113.3l2.9 6.2.6-2-2.9-6.1z" fill="#fbd22c"/>
<path d="M375.4 118.9l2.4 5.6.7-2.2-2.4-5.4z" fill="#fdc734"/>
<path d="M377.3 123.9l2.4 6.1.7-2.4-2.4-5.9z" fill="#fcc239"/>
<path d="M225.5 339.7l-8.1.2.1 3.5 8.1-.4z" fill="#3e27a9"/>
<path d="M218.3 339.8l-2.6.1.1 3.5 2.6 0z" fill="#3e27a9"/>
<path d="M360.3 96.8l-7.8 4.6 1 1z" fill="#f9f924"/>
<path d="M379.1 129.3l2.4 6.5.7-2.5-2.4-6.3z" fill="#f9bf3e"/>
<path d="M326 176.6l-2 6.4.7 3.3 2-6.5z" fill="#a2be6c"/>
<path d="M381 135.1l2.3 6.8.8-2.7-2.4-6.6z" fill="#f6bb43"/>
<path d="M382.8 141.3l2 5.7.8-2.8-2-5.6z" fill="#ebba4a"/>
<path d="M307.8 244.7l-2 5.7.6 3.3 2-5.8z" fill="#06a6c7"/>
<path d="M384.3 146.4l2 5.9.8-2.9-2-5.8z" fill="#dfbb50"/>
<path d="M385.8 151.7l2 6.1.8-3-2-6z" fill="#d3bb57"/>
<path d="M359.8 96.8l6.5 5.7 1.2-.8z" fill="#f9f92a"/>
<path d="M407.1 231.8l2 6.2.7-3.3-2-6.1z" fill="#15b1b4"/>
<path d="M387.3 157.2l1.9 6.2.9-3.2-2-6.1z" fill="#c8bc5c"/>
<path d="M388.8 162.7l1.9 6.4.9-3.3-2-6.2z" fill="#bfbc60"/>
<path d="M318.3 206l-2 6.5.9 3.2 2-6.5z" fill="#4bbc93"/>
<path d="M426.5 291.5l2.9 6.1.6-3.3-2.9-6z" fill="#4557f4"/>
<path d="M301 266.7l-2.4 6.2.7 3.2 2.4-6.2z" fill="#2087e5"/>
<path d="M360.3 96.7l-7.3 5.4 1.8.7z" fill="#faf933"/>
<path d="M408.5 237.5l2 6.1.8-3.3-2-6z" fill="#0dadbb"/>
<path d="M282.4 309.7l-4.3 6.1.6 3.3 4.3-6.2z" fill="#463cdd"/>
<path d="M390.1 168.5l2 6.5 1.1-3.3-2-6.3z" fill="#b6bd64"/>
<path d="M359.8 96.7l5 6.2 2-.6z" fill="#faf937"/>
<path d="M480.1 342.2l8 1 .3-3.6-8.1-.8z" fill="#3e27ab"/>
<path d="M352.8 100.8l-4.1 6.3 1.5 1.5 3.9-6.6z" fill="#f8ed2c"/>
<path d="M328.8 165.5l-1.9 6.4 1.2 3.2 2-6.5z" fill="#b6bd64"/>
<path d="M445.4 324.5l6.6 6.6.4-3.8-6.6-6.4z" fill="#4331c7"/>
<path d="M310.7 234.5l-2 6 1 3.3 2-6.1z" fill="#0dadbb"/>
<path d="M428.8 297.2l2.9 5.7.7-3.3-2.9-5.6z" fill="#484cf0"/>
<path d="M360.3 96.7l-6 6 2.3.5z" fill="#fafa3c"/>
<path d="M292.9 288.5l-2.9 6.1.8 3.3 2.9-6.1z" fill="#4557f4"/>
<path d="M409.9 243.1l2 5.9 1-3.2-2-5.9z" fill="#07aac1"/>
<path d="M391.5 174.4l1.9 6.6 1.4-3.2-2-6.5z" fill="#adbe68"/>
<path d="M359.9 96.7l3 6.6 2.4-.5z" fill="#fafa3e"/>
<path d="M365.7 102.1l3.7 6.7 1.9-1.4-4.1-6.4z" fill="#f9ee36"/>
<path d="M349.1 106.3l-3.3 6.7 1.8 1.8 3.1-7z" fill="#f9e232"/>
<path d="M360.2 96.6l-4.1 6.5 2.7.3z" fill="#fafa40"/>
<path d="M321.2 194.8l-1.9 6.5 1.3 3.2 1.9-6.6z" fill="#6ebf81"/>
<path d="M360 96.6l.7 6.8 2.7-.2z" fill="#fafa41"/>
<path d="M302.8 261.4l-2.4 6.4 1 3.3 2.4-6.5z" fill="#1491dc"/>
<path d="M360.1 96.6l-1.8 6.8 2.8 0z" fill="#fafa42"/>
<path d="M411.4 248.5l1.9 5.8 1.1-3.2-2-5.8z" fill="#06a6c7"/>
<path d="M285.3 305l-3.6 5.6.9 3.4 3.5-5.8z" fill="#4741e4"/>
<path d="M392.9 180.4l1.9 6.6 1.5-3.2-1.9-6.5z" fill="#a2be6c"/>
<path d="M346.1 112.1l-2.7 6.5 2.1 2 2.5-6.7z" fill="#fbd53a"/>
<path d="M232.6 340l-8.1.5.4 3.5 8.1-.6z" fill="#3f28aa"/>
<path d="M465.5 339.1l8 2.6.5-3.6-8-2.3z" fill="#3f29b0"/>
<path d="M313.7 223.9l-2 6.2 1.4 3.2 1.9-6.3z" fill="#20b4ad"/>
<path d="M431 302.6l3.5 6.4.9-3.3-3.5-6.3z" fill="#4747ea"/>
<path d="M369 108l2.9 7 2.3-1.6-3.3-6.8z" fill="#f9e33d"/>
<path d="M412.8 253.8l1.9 5.7 1.3-3.2-2-5.7z" fill="#06a2cb"/>
<path d="M295.2 283.1l-2.9 6.5 1.1 3.3 2.9-6.6z" fill="#4063f8"/>
<path d="M278.8 315.5l-5.4 6.7.8 3.8 5.3-6.9z" fill="#4436d2"/>
<path d="M394.2 186.4l1.9 6.7 1.7-3.2-1.9-6.6z" fill="#94bf72"/>
<path d="M343.8 117.7l-2.2 5.9 2.2 2.1 2-6.1z" fill="#fdca41"/>
<path d="M261.3 332.5l-8 3.7.6 3.6 8-3.9z" fill="#412cb5"/>
<path d="M353.3 101.5l-3.8 6.6 2.7 1.1 3.1-6.9z" fill="#f9ef43"/>
<path d="M324.2 183.5l-2 6.5 1.9 3.2 1.9-6.7z" fill="#94bf72"/>
<path d="M341.9 122.6l-2.2 6.3 2.4 2.3 2-6.4z" fill="#fcc646"/>
<path d="M306.1 250.8l-2 5.7 1.4 3.2 2-5.7z" fill="#06a2cb"/>
<path d="M414.1 259l2.4 6.7 1.3-3.2-2.3-6.7z" fill="#0a9bd3"/>
<path d="M288.2 299.6l-3.5 6.4 1.1 3.3 3.5-6.4z" fill="#4747ea"/>
<path d="M371.5 114.1l2.4 6.7 2.6-1.8-2.7-6.4z" fill="#fbd846"/>
<path d="M395.6 192.5l1.8 6.7 2-3.2-2-6.6z" fill="#80bf7a"/>
<path d="M254.1 336.1l-8.1 2.4.7 3.6 8-2.6z" fill="#432db1"/>
<path d="M340 128l-2.2 6.7 2.6 2.5 2-6.9z" fill="#f9c34b"/>
<path d="M487 343.8l8.1.6.5-3.5-8.1-.5z" fill="#3e27aa"/>
<path d="M364.3 102.4l2.8 7 3.1-1-3.7-6.7z" fill="#f9f048"/>
<path d="M316.6 212.9l-1.9 6.4 1.9 3.2 1.8-6.5z" fill="#3bb99c"/>
<path d="M433.7 308.7l3.5 5.9 1.2-3.3-3.6-6.2z" fill="#4741e4"/>
<path d="M299 273.3l-2.4 5.9 1.4 3.2 2.3-6z" fill="#2c7cee"/>
<path d="M415.9 265.2l2.3 6.5 1.5-3.2-2.3-6.5z" fill="#1491dc"/>
<path d="M373.6 119.9l1.9 6.1 2.8-2-2.2-5.8z" fill="#fdce4e"/>
<path d="M338.1 133.7l-2.2 7.1 2.8 2.6 2-7.2z" fill="#f6c050"/>
<path d="M396.9 198.5l1.9 6.7 2.1-3.1-1.9-6.6z" fill="#6ebf81"/>
<path d="M246.9 338.5l-8.1 1.5.8 3.5 8-1.6z" fill="#422cae"/>
<path d="M336.2 139.8l-1.7 6.1 2.8 2.7 1.6-6.2z" fill="#edbf56"/>
<path d="M450.8 331.2l7.9 5.8.9-3.5-7.9-5.7z" fill="#412dbc"/>
<path d="M327.1 171.9l-1.8 6.9 2.6 3.5 1.7-7z" fill="#aebe69"/>
<path d="M309.1 240.9l-1.9 6 1.8 3.1 1.9-6z" fill="#07aac1"/>
<path d="M375.2 125.1l2 6.5 2.9-2.1-2.1-6.3z" fill="#fcca53"/>
<path d="M349.9 107.3l-3 7 3.2 1.3 2.5-7.2z" fill="#fae54c"/>
<path d="M398.3 204.6l1.7 7.1 2.3-3.6-1.8-7z" fill="#5cbe8a"/>
<path d="M334.7 144.9l-1.7 6.3 2.9 2.8 1.7-6.4z" fill="#e1c05c"/>
<path d="M290.5 295l-2.9 5.7 1.5 3.3 2.8-5.8z" fill="#484cf0"/>
<path d="M274.2 322.1l-6.5 6.5 1.1 3.6 6.4-6.6z" fill="#4331c7"/>
<path d="M354.5 102l-3.1 7 3.6.7 2.1-7.1z" fill="#f9f04e"/>
<path d="M239.7 340.1l-8.1.9.8 3.5 8.1-1.1z" fill="#412aac"/>
<path d="M333.2 150.2l-1.7 6.4 3.1 3 1.6-6.6z" fill="#d6c063"/>
<path d="M376.9 130.7l1.9 6.8 3.2-2.2-2.2-6.7z" fill="#fac758"/>
<path d="M319.6 201.3l-1.8 7 2.4 3.5 1.8-7.1z" fill="#5cbe8a"/>
<path d="M417.6 271.3l2.3 6.3 1.7-3.2-2.4-6.2z" fill="#2087e5"/>
<path d="M436.5 314.3l4.2 6.6 1.3-3.6-4.3-6.6z" fill="#463cdd"/>
<path d="M362.5 102.6l1.7 7.2 3.8-.6-2.8-7z" fill="#faf04f"/>
<path d="M399.6 210.6l1.8 7.1 2.4-3.6-1.8-6.9z" fill="#4bbc93"/>
<path d="M331.7 155.6l-1.7 6.5 3.2 3.2 1.6-6.7z" fill="#ccc168"/>
<path d="M366.8 108.5l2.3 7.3 3.6-1.2-2.9-7z" fill="#fae652"/>
<path d="M268.5 328.1l-8 5.7 1.1 3.6 7.9-5.9z" fill="#4531be"/>
<path d="M472.3 342.3l8 1.7.9-3.5-8-1.5z" fill="#4029ad"/>
<path d="M378.5 136.6l1.9 7.2 3.4-2.4-2.1-7z" fill="#f7c45d"/>
<path d="M330.2 161.2l-1.7 6.6 3.3 3.2 1.6-6.8z" fill="#c4c16c"/>
<path d="M312.1 230.1l-1.8 6.6 2.3 3.6 1.8-6.8z" fill="#15b1b4"/>
<path d="M347.2 113.4l-2.5 6.6 3.7 1.5 2-6.8z" fill="#fcdb55"/>
<path d="M419.3 277l2.3 6.5 1.8-3.6-2.3-6.5z" fill="#2c7cee"/>
<path d="M401 216.6l1.7 7 2.6-3.5-1.8-6.9z" fill="#3bb99c"/>
<path d="M356.2 102.4l-2.1 7.2 4.2.4.8-7.3z" fill="#faf153"/>
<path d="M380.2 142.9l1.5 6.2 3.6-2.5-1.7-6.1z" fill="#eec463"/>
<path d="M360.4 102.8l.4 7.3 4.3-.4-1.7-7.2z" fill="#faf153"/>
<path d="M493.9 345.1l8.1.4.8-3.5-8.1-.3z" fill="#3e27a9"/>
<path d="M322.7 190.1l-1.7 7 3 3.3 1.7-7.1z" fill="#86c281"/>
<path d="M358.2 102.7l-.8 7.3 4.3 0-.4-7.3z" fill="#faf154"/>
<path d="M501.1 345.5l2.6.1.8-3.5-2.6-.1z" fill="#3e27a9"/>
<path d="M304.6 256.4l-2.2 7.2 2.2 3.6 2.2-7.3z" fill="#0a9bd3"/>
<path d="M421.1 282.5l2.2 6.2 2-3.6-2.3-6.2z" fill="#3672f6"/>
<path d="M381.5 148.1l1.5 6.4 3.8-2.6-1.8-6.3z" fill="#e4c56a"/>
<path d="M402.3 222.5l1.7 6.9 2.7-3.4-1.8-6.8z" fill="#2db7a5"/>
<path d="M368.8 114.9l1.9 6.9 4-1.4-2.3-6.6z" fill="#fcdd5c"/>
<path d="M345 119.2l-2 5.9 4 1.6 1.6-6.1z" fill="#fed25d"/>
<path d="M351.7 108.1l-2.5 7.2 4.4.9 1.6-7.3z" fill="#fae758"/>
<path d="M382.8 153.6l1.5 6.5 4-2.8-1.8-6.4z" fill="#d9c570"/>
<path d="M457.6 337.1l7.9 4.1 1.3-3.5-8-3.9z" fill="#412cb5"/>
<path d="M315.2 219.4l-1.7 6.7 2.8 3.4 1.7-6.9z" fill="#34b9a8"/>
<path d="M439.8 320.4l5.2 6.9 1.6-3.6-5.3-6.7z" fill="#4436d2"/>
<path d="M297.2 279.2l-2.3 6.1 2.1 3.6 2.2-6.2z" fill="#3672f6"/>
<path d="M403.7 228.4l1.7 6.7 2.7-3.3-1.8-6.7z" fill="#20b4ad"/>
<path d="M422.8 287.7l2.7 7 2.1-3.5-2.8-7z" fill="#4063f8"/>
<path d="M384.1 159.1l1.5 6.7 4.1-2.9-1.7-6.5z" fill="#d0c675"/>
<path d="M364 109l1.4 7.4 4.6-.8-2.3-7.3z" fill="#fae759"/>
<path d="M326 178.9l-1.8 6.9 3.7 3.1 1.6-7z" fill="#acc57c"/>
<path d="M343.3 124.3l-2 6.4 4.3 1.7 1.6-6.5z" fill="#fccf63"/>
<path d="M225.4 342.2l-8.1.3 1 3.5 8.1-.5z" fill="#3f28aa"/>
<path d="M307.8 246.9l-1.8 6.2 2.6 3.4 1.7-6.3z" fill="#0da9c8"/>
<path d="M370.4 120.9l1.5 6.1 4.4-1.4-1.9-6z" fill="#fed464"/>
<path d="M405 234.1l1.7 6.7 2.9-3.4-1.8-6.5z" fill="#15b1b4"/>
<path d="M385.4 164.8l1.6 6.8 4.2-3-1.7-6.6z" fill="#c9c779"/>
<path d="M218.2 342.5l-2.6.1 1.1 3.5 2.5-.1z" fill="#3f27a9"/>
<path d="M318.5 208.3l-1.8 6.9 3.4 3.2 1.6-6.9z" fill="#5bc29d"/>
<path d="M301.1 268.9l-2.3 6.6 2.5 3.4 2.2-6.7z" fill="#268ae5"/>
<path d="M424.9 293.9l2.7 6.6 2.2-3.5-2.8-6.5z" fill="#4557f4"/>
<path d="M341.6 129.8l-2 6.8 4.6 1.8 1.6-6.9z" fill="#facd68"/>
<path d="M406.3 239.8l1.7 6.5 3-3.3-1.8-6.4z" fill="#10aebc"/>
<path d="M386.7 170.7l1.6 6.8 4.3-3-1.7-6.7z" fill="#c2c87e"/>
<path d="M354.3 108.7l-1.6 7.4 5 .5.6-7.5z" fill="#fae85d"/>
<path d="M282.5 311.9l-4.2 6.6 2 3.4 4.1-6.6z" fill="#4c42de"/>
<path d="M349.5 114.5l-2 6.7 4.9 1.1 1.3-7z" fill="#fcde62"/>
<path d="M479 344.6l8.1 1.1 1.2-3.4-8.1-1z" fill="#402aac"/>
<path d="M371.7 126.2l1.5 6.5 4.8-1.6-1.9-6.4z" fill="#fcd16a"/>
<path d="M329.3 167.9l-1.7 6.7 4.5 3 1.5-6.9z" fill="#c2c87d"/>
<path d="M360.8 109.2l.4 7.4 5.1-.3-1.4-7.4z" fill="#fae85c"/>
<path d="M311 236.8l-1.8 6.4 3.1 3.3 1.7-6.6z" fill="#1fb3c0"/>
<path d="M444.1 326.9l6.3 6.6 1.8-3.4-6.4-6.5z" fill="#4332c7"/>
<path d="M388.1 176.6l1.5 6.9 4.4-3-1.7-6.8z" fill="#bbc983"/>
<path d="M407.7 245.4l1.7 6.4 3-3.3-1.8-6.3z" fill="#0fadc3"/>
<path d="M293.1 290.8l-2.7 6.5 2.3 3.4 2.7-6.6z" fill="#4b5df5"/>
<path d="M357.4 109.1l-.6 7.4 5.3.1-.4-7.5z" fill="#fae85e"/>
<path d="M427.1 299.6l2.7 6.1 2.3-3.4-2.8-6.1z" fill="#484cf0"/>
<path d="M365.2 115.5l1.2 6.9 5.1-.9-1.8-6.8z" fill="#fcde63"/>
<path d="M339.9 135.7l-2 7.1 4.9 2 1.6-7.2z" fill="#f8cb6e"/>
<path d="M321.8 197.1l-1.7 6.9 3.9 3.1 1.6-7z" fill="#83c893"/>
<path d="M389.4 182.5l1.5 7 4.4-2.9-1.7-6.9z" fill="#b4cb88"/>
<path d="M409 250.8l1.7 6.2 3.1-3.2-1.8-6.2z" fill="#12abc9"/>
<path d="M373 131.8l1.4 7 5.2-1.7-1.9-6.8z" fill="#facf70"/>
<path d="M303.1 263.7l-2.1 6.8 2.9 3.3 2.1-6.9z" fill="#2599df"/>
<path d="M285.6 307.3l-3.4 6 2.2 3.4 3.4-6.2z" fill="#514be6"/>
<path d="M347.8 120.4l-1.7 6.1 5.4 1.1 1.1-6.2z" fill="#fed66b"/>
<path d="M338.1 142l-1.6 6.1 5.2 2.1 1.3-6.3z" fill="#f0cb74"/>
<path d="M464.2 341.5l8 2.7 1.6-3.4-8-2.5z" fill="#4630b2"/>
<path d="M232.8 342.5l-8.2.6 1.4 3.5 8.1-.8z" fill="#412aab"/>
<path d="M314.3 226.2l-1.8 6.6 3.6 3.2 1.6-6.8z" fill="#3cbdb7"/>
<path d="M390.7 188.6l1.5 6.9 4.5-2.9-1.7-6.9z" fill="#a9cc8e"/>
<path d="M410.3 256.1l1.7 6.1 3.2-3.2-1.8-6.1z" fill="#17a9cf"/>
<path d="M429.1 305l3.3 6.8 2.5-3.4-3.4-6.7z" fill="#4847ea"/>
<path d="M295.7 285.4l-2.7 6.9 2.7 3.4 2.6-7z" fill="#4e6ff9"/>
<path d="M279.1 318.2l-5.2 6.7 2.2 3.4 5-6.8z" fill="#5245d5"/>
<path d="M352.9 115.2l-1.4 6.9 5.7.6.5-7z" fill="#fcdf67"/>
<path d="M325.2 185.9l-1.6 6.9 4.6 2.8 1.5-6.9z" fill="#a8cb8c"/>
<path d="M374.3 137.9l1.4 7.3 5.5-1.8-1.8-7.2z" fill="#f8cd75"/>
<path d="M261.6 335l-8 3.9 1.8 3.5 7.9-4.2z" fill="#4e3bba"/>
<path d="M336.7 147.2l-1.6 6.2 5.5 2.2 1.3-6.3z" fill="#e7cb7b"/>
<path d="M366.2 121.5l.9 6.3 5.7-1-1.5-6.1z" fill="#fed66b"/>
<path d="M361.1 115.7l.3 7.1 5.9-.5-1.2-6.9z" fill="#fcdf66"/>
<path d="M306.8 253.2l-1.8 6 3.3 3.1 1.7-6z" fill="#22add1"/>
<path d="M392 194.6l1.5 7 4.5-2.9-1.6-6.9z" fill="#9acd96"/>
<path d="M411.7 261.3l2 7.1 3.3-3.2-2.2-7.1z" fill="#1fa4d7"/>
<path d="M288.7 302l-3.4 6.7 2.6 3.3 3.3-6.8z" fill="#5656ec"/>
<path d="M346.4 125.6l-1.6 6.5 5.8 1.3 1-6.7z" fill="#fdd371"/>
<path d="M356.9 115.6l-.6 7.1 6 0-.3-7z" fill="#fcdf68"/>
<path d="M254.5 338.6l-8.1 2.6 1.8 3.4 7.9-2.7z" fill="#4b36b5"/>
<path d="M317.7 215.3l-1.7 6.7 4.1 3 1.6-6.8z" fill="#5dc5ad"/>
<path d="M485.8 346.2l8.1.8 1.5-3.4-8.1-.7z" fill="#4029aa"/>
<path d="M335.4 152.6l-1.6 6.4 5.7 2.3 1.3-6.5z" fill="#decc81"/>
<path d="M393.3 200.7l1.5 7 4.6-2.9-1.7-6.9z" fill="#8ecd9d"/>
<path d="M375.5 144.3l1.2 6.3 5.8-2-1.5-6.1z" fill="#f1cd7c"/>
<path d="M299.7 275.6l-2.2 6.3 3.1 3.2 2.1-6.4z" fill="#438bef"/>
<path d="M431.8 311.1l3.3 6.2 2.6-3.4-3.4-6z" fill="#504ae6"/>
<path d="M413.4 267.5l2 6.9 3.4-3.2-2.2-6.8z" fill="#2d9de0"/>
<path d="M328.8 174.7l-1.6 6.8 5.4 2.7 1.4-6.9z" fill="#c0cd8b"/>
<path d="M247.3 341l-8.1 1.7 1.8 3.4 8-1.8z" fill="#4731b0"/>
<path d="M367 126.9l.9 6.7 6.2-1.1-1.5-6.6z" fill="#fdd371"/>
<path d="M334 158.1l-1.6 6.6 6 2.4 1.3-6.7z" fill="#d6cd86"/>
<path d="M449.2 333.5l7.7 6 2.2-3.3-7.9-5.9z" fill="#4f3cc1"/>
<path d="M310.1 243.3l-1.7 6.2 3.8 3.1 1.6-6.4z" fill="#2fb7cb"/>
<path d="M394.6 206.7l1.5 7 4.6-2.9-1.6-6.9z" fill="#82cda5"/>
<path d="M351.7 121.2l-1.1 6.3 6.2.6.5-6.3z" fill="#fed770"/>
<path d="M376.6 149.7l1.1 6.4 6.1-2-1.5-6.3z" fill="#e8ce82"/>
<path d="M345 131.3l-1.6 6.9 6.2 1.3 1.1-7z" fill="#fbd277"/>
<path d="M291.3 297.4l-2.7 6 2.9 3.3 2.7-6.1z" fill="#5d61f1"/>
<path d="M361.4 121.9l.2 6.3 6.4-.5-.9-6.3z" fill="#fed76e"/>
<path d="M321.2 204.1l-1.7 6.8 4.8 2.9 1.5-7z" fill="#80cca3"/>
<path d="M274.7 324.7l-6.3 6.6 2.4 3.3 6.2-6.7z" fill="#5848cd"/>
<path d="M240.2 342.5l-8.1 1.1 1.7 3.4 8-1.2z" fill="#442dad"/>
<path d="M415 273.5l2 6.7 3.4-3.2-2.1-6.5z" fill="#3e97e8"/>
<path d="M395.9 212.8l1.5 6.9 4.7-2.9-1.7-6.8z" fill="#76ccad"/>
<path d="M332.6 163.8l-1.6 6.6 6.3 2.6 1.3-6.8z" fill="#d0ce8a"/>
<path d="M434.4 316.6l4.1 6.7 2.7-3.3-4.2-6.6z" fill="#564de0"/>
<path d="M356.4 121.8l-.5 6.3 6.6 0-.2-6.3z" fill="#fed770"/>
<path d="M377.6 155.2l1.2 6.6 6.4-2.2-1.6-6.4z" fill="#e0cf88"/>
<path d="M269.1 330.7l-7.9 5.8 2.3 3.3 7.7-6z" fill="#5745c4"/>
<path d="M313.6 232.9l-1.7 6.5 4.3 2.9 1.6-6.6z" fill="#45c1c3"/>
<path d="M367.8 132.7l.9 7 6.6-1.1-1.4-7z" fill="#fbd177"/>
<path d="M470.8 344.7l8 1.8 1.9-3.4-8.1-1.7z" fill="#452faf"/>
<path d="M397.2 218.7l1.6 6.9 4.6-2.9-1.6-6.7z" fill="#6ccbb5"/>
<path d="M416.6 279.3l2.1 6.3 3.5-3.1-2.2-6.3z" fill="#4b90f0"/>
<path d="M350.7 126.6l-1 6.6 6.8.7.4-6.7z" fill="#fdd576"/>
<path d="M343.6 137.3l-1.6 7.3 6.7 1.4 1.1-7.4z" fill="#f9d07d"/>
<path d="M324.9 192.8l-1.7 6.9 5.4 2.7 1.5-7z" fill="#a0cf9c"/>
<path d="M378.6 160.9l1.2 6.7 6.7-2.3-1.5-6.6z" fill="#d8d08e"/>
<path d="M398.6 224.7l1.5 6.8 4.7-2.9-1.7-6.7z" fill="#64cabc"/>
<path d="M361.6 127.3l.2 6.7 7-.5-.9-6.7z" fill="#fdd474"/>
<path d="M306.1 259.2l-2.1 7.1 3.9 3 2-7.1z" fill="#39aedb"/>
<path d="M492.5 347.5l8.1.6 1.8-3.4-8.2-.5z" fill="#3f28aa"/>
<path d="M418.3 284.8l2.1 6 3.5-3.1-2.2-6z" fill="#5789f7"/>
<path d="M317.2 222.1l-1.7 6.7 4.8 2.8 1.6-6.8z" fill="#60c8bb"/>
<path d="M499.6 348.1l2.7.2 1.7-3.6-2.6-.1z" fill="#3f27a9"/>
<path d="M356 127.2l-.4 6.7 7.1 0-.2-6.7z" fill="#fdd576"/>
<path d="M368.6 138.8l.9 7.4 7.1-1.2-1.5-7.3z" fill="#f9d07d"/>
<path d="M399.9 230.5l1.5 6.7 4.7-2.8-1.7-6.6z" fill="#5dc8c3"/>
<path d="M379.6 166.7l1.2 6.8 7-2.4-1.5-6.6z" fill="#d3d192"/>
<path d="M328.7 181.5l-1.6 6.9 6.2 2.5 1.3-7z" fill="#bdd196"/>
<path d="M342.2 143.7l-1.3 6.2 7.1 1.5.8-6.3z" fill="#f2d084"/>
<path d="M437.6 322.7l5 6.9 2.9-3.2-5.1-6.8z" fill="#5d51d8"/>
<path d="M298.5 282l-2.1 6 3.6 3 2.1-6.1z" fill="#5b8cf7"/>
<path d="M455.7 339.5l7.8 4.2 2.4-3.3-7.9-4.1z" fill="#513ebb"/>
<path d="M420 290l2.5 7 3.6-3.2-2.6-6.9z" fill="#637ff9"/>
<path d="M349.8 132.3l-1.1 7.1 7.4.7.4-7.1z" fill="#fbd37c"/>
<path d="M309.6 249.6l-1.7 6.1 4.4 2.9 1.5-6.2z" fill="#3fbbd4"/>
<path d="M401.2 236.3l1.5 6.6 4.8-2.8-1.7-6.6z" fill="#57c7c9"/>
<path d="M381 172.5l1.2 6.9 6.9-2.3-1.5-6.8z" fill="#cdd295"/>
<path d="M332.7 170.4l-1.5 6.8 7.1 2.3 1.1-6.9z" fill="#cdd294"/>
<path d="M320.9 210.9l-1.6 6.9 5.4 2.7 1.4-7z" fill="#7dceb1"/>
<path d="M361.8 133.1l.2 7.1 7.6-.6-.9-7z" fill="#fbd37a"/>
<path d="M226.1 344.6l-8.2.6 2 3.4 8-.6z" fill="#4029aa"/>
<path d="M341.1 149l-1.3 6.4 7.4 1.6.9-6.5z" fill="#ead18a"/>
<path d="M302.7 271.6l-2.1 6.5 4.1 3 1.9-6.7z" fill="#51a1eb"/>
<path d="M369.4 145.3l.7 6.3 7.5-1.3-1.2-6.2z" fill="#f2d083"/>
<path d="M402.5 242l1.5 6.4 4.8-2.8-1.7-6.4z" fill="#53c5cf"/>
<path d="M382.3 178.4l1.2 7 6.9-2.4-1.5-6.8z" fill="#c8d399"/>
<path d="M422 296.2l2.6 6.5 3.6-3.1-2.6-6.4z" fill="#6b79f6"/>
<path d="M218.9 345.1l-2.7.1 2 3.5 2.6-.1z" fill="#3f28a9"/>
<path d="M355.6 133l-.4 7.1 7.7 0-.2-7.1z" fill="#fbd37c"/>
<path d="M283.8 314.6l-4.1 6.5 3.3 3.2 4-6.7z" fill="#6860e3"/>
<path d="M313.2 239.4l-1.7 6.4 4.9 2.8 1.6-6.5z" fill="#4ec3cd"/>
<path d="M403.8 247.5l1.5 6.4 4.8-2.8-1.6-6.3z" fill="#51c3d4"/>
<path d="M477.3 347l8 1.3 2.3-3.4-8.2-1.2z" fill="#432dad"/>
<path d="M383.7 184.4l1.2 7 6.8-2.3-1.5-7z" fill="#c2d49d"/>
<path d="M348.9 138.5l-1.1 7.3 7.9.8.4-7.4z" fill="#f9d282"/>
<path d="M324.8 199.6l-1.6 7 6.1 2.5 1.4-7z" fill="#9bd2a8"/>
<path d="M339.9 154.5l-1.3 6.5 7.9 1.7.8-6.6z" fill="#e2d290"/>
<path d="M294.7 293.4l-2.6 6.5 3.8 3 2.5-6.5z" fill="#6d7bf7"/>
<path d="M441.7 329.2l6.1 6.8 3.1-3.2-6.3-6.7z" fill="#6253d0"/>
<path d="M370 150.8l.7 6.4 7.9-1.3-1.2-6.5z" fill="#ead189"/>
<path d="M424.1 301.9l2.6 6.1 3.7-3.1-2.6-6z" fill="#7074f3"/>
<path d="M362 139.3l.3 7.4 8.1-.6-.9-7.4z" fill="#f9d180"/>
<path d="M405.1 253l1.5 6.2 4.9-2.8-1.7-6.2z" fill="#52c2d8"/>
<path d="M385 190.4l1.3 7.1 6.7-2.4-1.5-6.9z" fill="#b9d5a2"/>
<path d="M305.2 266.3l-2.1 6.8 4.6 2.9 1.9-6.9z" fill="#51aee5"/>
<path d="M316.9 228.7l-1.6 6.7 5.5 2.6 1.4-6.7z" fill="#63cac6"/>
<path d="M328.8 188.3l-1.5 6.9 6.9 2.4 1.2-7.1z" fill="#b7d4a1"/>
<path d="M287.1 309.9l-3.3 6.1 3.6 3.1 3.2-6.3z" fill="#6e6aea"/>
<path d="M338.8 160.1l-1.3 6.7 8.2 1.7.9-6.7z" fill="#dbd395"/>
<path d="M355.2 139.2l-.4 7.4 8.4.1-.3-7.5z" fill="#f9d282"/>
<path d="M406.4 258.3l1.6 6 4.8-2.8-1.7-6z" fill="#55c0dc"/>
<path d="M386.4 196.5l1.2 7 6.7-2.3-1.5-7z" fill="#acd6a9"/>
<path d="M347.9 145l-.8 6.2 8.3.9.3-6.4z" fill="#f2d289"/>
<path d="M370.6 156.3l.7 6.7 8.3-1.5-1.1-6.5z" fill="#e2d28f"/>
<path d="M462.2 343.9l7.8 2.9 2.7-3.3-8-2.8z" fill="#4f3bb6"/>
<path d="M426.2 307.2l3.1 6.9 3.8-3.1-3.3-6.7z" fill="#7373ef"/>
<path d="M233.7 345l-8.2.8 2.3 3.4 8.1-.9z" fill="#422cab"/>
<path d="M297.6 288l-2.6 6.9 4.3 3 2.4-7z" fill="#708bfa"/>
<path d="M333.1 177l-1.4 6.9 7.7 2.1 1.1-7z" fill="#cad59d"/>
<path d="M280.5 320.8l-5 6.8 3.4 3.1 4.9-7z" fill="#6c61db"/>
<path d="M309.2 255.7l-1.6 6 4.9 2.8 1.6-6.1z" fill="#4fbdda"/>
<path d="M387.7 202.6l1.3 7 6.6-2.4-1.5-6.9z" fill="#a2d6af"/>
<path d="M407.7 263.4l1.9 7.2 4.9-2.8-2-7.1z" fill="#5abce1"/>
<path d="M362.2 145.8l.2 6.4 8.6-.7-.7-6.3z" fill="#f2d186"/>
<path d="M320.8 217.7l-1.5 6.8 6.1 2.6 1.3-6.9z" fill="#7bd0bd"/>
<path d="M262.8 337.5l-7.9 4.1 2.9 3.3 7.7-4.3z" fill="#5b49bf"/>
<path d="M337.7 165.9l-1.3 6.8 8.6 1.8.8-6.9z" fill="#d6d49a"/>
<path d="M290.5 304.6l-3.2 6.7 3.9 3 3.1-6.8z" fill="#7474ef"/>
<path d="M371.2 162.1l.8 6.8 8.6-1.6-1.1-6.7z" fill="#dbd395"/>
<path d="M301.9 278.1l-2.1 6.3 4.6 2.9 2-6.4z" fill="#67a1f3"/>
<path d="M389.1 208.6l1.2 7 6.7-2.3-1.5-7z" fill="#98d6b5"/>
<path d="M347.2 150.4l-.9 6.4 8.8.9.3-6.5z" fill="#ebd38f"/>
<path d="M354.8 145.7l-.3 6.3 8.8.1-.2-6.3z" fill="#f2d288"/>
<path d="M255.6 341.1l-7.9 2.8 2.8 3.3 7.8-3z" fill="#533fb8"/>
<path d="M409.4 269.7l1.8 6.9 5-2.8-2.1-6.9z" fill="#63b6e8"/>
<path d="M483.9 348.6l8 1 2.5-3.4-8.1-.8z" fill="#412bab"/>
<path d="M428.7 313.4l3.2 6.2 3.8-3-3.2-6.2z" fill="#7672eb"/>
<path d="M313 245.8l-1.6 6.3 5.5 2.6 1.4-6.3z" fill="#57c5d5"/>
<path d="M324.9 206.5l-1.5 6.9 6.8 2.3 1.2-7z" fill="#96d5b3"/>
<path d="M362.4 151.3l.2 6.5 9-.7-.7-6.5z" fill="#ead28d"/>
<path d="M390.4 214.7l1.3 6.9 6.6-2.4-1.5-6.8z" fill="#8ed5bc"/>
<path d="M248.5 343.4l-8.1 1.9 2.8 3.3 7.9-2z" fill="#4c37b2"/>
<path d="M446.7 335.7l7.5 6.3 3.3-3.2-7.8-6z" fill="#6453c9"/>
<path d="M371.9 168l.7 6.8 9.1-1.6-1.2-6.8z" fill="#d6d499"/>
<path d="M411 275.7l1.9 6.6 4.9-2.7-2.1-6.6z" fill="#6db0ee"/>
<path d="M293.4 300l-2.6 6 4.3 3 2.5-6.2z" fill="#7a7ef4"/>
<path d="M329.2 195.1l-1.4 6.9 7.4 2.2 1.2-7.1z" fill="#afd7ab"/>
<path d="M346.4 155.9l-.8 6.6 9.2 1 .3-6.7z" fill="#e3d495"/>
<path d="M391.8 220.7l1.2 6.9 6.6-2.4-1.5-6.8z" fill="#86d4c2"/>
<path d="M276.4 327.3l-6.2 6.7 3.6 3.1 6-6.9z" fill="#6d60d3"/>
<path d="M316.9 235.3l-1.5 6.5 6 2.6 1.4-6.6z" fill="#67ccce"/>
<path d="M354.5 151.1l-.3 6.5 9.3.2-.2-6.6z" fill="#ebd38f"/>
<path d="M241.4 345l-8.2 1.2 2.7 3.4 8-1.4z" fill="#4731ae"/>
<path d="M431.3 318.9l3.8 6.7 4-3-4-6.6z" fill="#7871e6"/>
<path d="M333.7 183.6l-1.3 7 8.3 1.9.9-7z" fill="#c6d7a4"/>
<path d="M373.3 173.8l.8 7 8.9-1.6-1.1-6.9z" fill="#d1d59d"/>
<path d="M412.6 281.4l1.9 6.4 5-2.8-2.1-6.3z" fill="#76aaf4"/>
<path d="M270.6 333.1l-7.7 6.1 3.4 3.1 7.5-6.3z" fill="#6757ca"/>
<path d="M362.6 156.9l.2 6.7 9.4-.7-.7-6.7z" fill="#e2d393"/>
<path d="M393.1 226.6l1.3 6.8 6.5-2.4-1.5-6.7z" fill="#7fd3c8"/>
<path d="M338.6 172.3l-1.2 6.9 9 1.6.8-6.9z" fill="#d2d7a0"/>
<path d="M468.5 347l8 2.1 2.9-3.3-8.1-1.9z" fill="#4b36b2"/>
<path d="M321 224.4l-1.5 6.8 6.6 2.4 1.3-6.9z" fill="#7bd2c6"/>
<path d="M309.1 261.7l-2 7.1 5.5 2.6 1.8-7.1z" fill="#5fbee2"/>
<path d="M345.7 161.6l-.9 6.8 9.7 1 .3-6.8z" fill="#ddd59a"/>
<path d="M374.8 179.8l.8 7 8.8-1.7-1.2-6.9z" fill="#ccd6a0"/>
<path d="M394.4 232.5l1.3 6.7 6.5-2.4-1.5-6.7z" fill="#79d2ce"/>
<path d="M414.3 286.9l1.9 6.1 4.9-2.7-2-6.1z" fill="#7ea5f9"/>
<path d="M354.2 156.7l-.3 6.7 9.8.1-.2-6.6z" fill="#e3d495"/>
<path d="M490.5 349.9l8 .8 2.7-3.4-8.2-.6z" fill="#4029aa"/>
<path d="M362.7 162.7l.2 6.8 9.9-.8-.7-6.7z" fill="#dcd498"/>
<path d="M325.3 213.2l-1.4 6.9 7.2 2.2 1.2-7z" fill="#91d6bd"/>
<path d="M376.2 185.8l.9 7.1 8.7-1.7-1.2-7z" fill="#c6d7a4"/>
<path d="M395.8 238.3l1.3 6.6 6.4-2.4-1.5-6.6z" fill="#74d0d3"/>
<path d="M301.3 284.4l-2 6.1 5.1 2.7 1.9-6.1z" fill="#79a1f9"/>
<path d="M313 252l-1.5 6.2 5.9 2.5 1.4-6.2z" fill="#62c7db"/>
<path d="M415.9 292.2l2.3 7 5.1-2.8-2.5-6.9z" fill="#869dfb"/>
<path d="M434.4 325l4.8 7 4.1-3-5-6.9z" fill="#7a70df"/>
<path d="M344.9 167.5l-.8 6.9 10.1 1 .3-6.9z" fill="#d8d79f"/>
<path d="M453.1 341.8l7.6 4.4 3.5-3.2-7.9-4.2z" fill="#5f4dc1"/>
<path d="M329.8 201.8l-1.3 7 7.9 2 1-7.1z" fill="#a9d9b4"/>
<path d="M397.1 243.9l1.3 6.6 6.4-2.5-1.5-6.4z" fill="#71cfd7"/>
<path d="M497.5 350.6l2.7.3 2.7-3.5-2.8-.2z" fill="#3f28a9"/>
<path d="M377.7 191.9l.8 7.1 8.6-1.8-1.2-7z" fill="#bed8a9"/>
<path d="M353.9 162.5l-.3 6.8 10.2.1-.2-6.8z" fill="#ddd59a"/>
<path d="M305.8 274l-1.9 6.6 5.4 2.6 1.8-6.7z" fill="#71b2ee"/>
<path d="M334.5 190.3l-1.2 7 8.7 1.8.9-7.1z" fill="#c0d9ac"/>
<path d="M339.6 178.8l-1.1 7 9.4 1.4.7-7z" fill="#ced8a6"/>
<path d="M317.1 241.7l-1.5 6.5 6.5 2.4 1.4-6.5z" fill="#6ccdd6"/>
<path d="M362.9 168.6l.2 6.9 10.4-.8-.8-6.9z" fill="#d7d69c"/>
<path d="M398.4 249.5l1.4 6.4 6.4-2.4-1.6-6.4z" fill="#6fcedb"/>
<path d="M417.9 298.3l2.4 6.6 5-2.7-2.5-6.5z" fill="#8b96f8"/>
<path d="M379.1 198l.9 7.1 8.5-1.8-1.2-7z" fill="#b3d9af"/>
<path d="M227.4 347.1l-8.2.7 2.8 3.4 8.1-.8z" fill="#412aaa"/>
<path d="M286.2 317.1l-3.9 6.6 4.5 2.9 3.8-6.8z" fill="#8079e8"/>
<path d="M399.7 254.9l1.4 6.3 6.4-2.4-1.6-6.2z" fill="#70ccdf"/>
<path d="M321.4 231l-1.5 6.7 7.2 2.2 1.2-6.7z" fill="#7cd3cf"/>
<path d="M297.7 295.9l-2.6 6.5 5.2 2.7 2.3-6.6z" fill="#8792f8"/>
<path d="M353.6 168.4l-.3 6.9 10.7.2-.2-7z" fill="#d8d69e"/>
<path d="M380.5 204.1l1 7.1 8.4-1.8-1.3-7.1z" fill="#aad9b5"/>
<path d="M364.5 174.5l.2 7 10.3-.8-.8-7z" fill="#d2d7a0"/>
<path d="M474.9 349.3l8 1.5 3.1-3.3-8.1-1.3z" fill="#4630ae"/>
<path d="M220.3 347.7l-2.7.2 2.8 3.5 2.7-.3z" fill="#4029aa"/>
<path d="M346.3 173.8l-.8 6.9 10.3.9.3-7.1z" fill="#d4d8a3"/>
<path d="M420 304.1l2.4 6.2 5-2.8-2.5-6.1z" fill="#8e91f5"/>
<path d="M308.8 268.7l-1.9 6.9 6 2.5 1.7-6.9z" fill="#70bcea"/>
<path d="M438.4 331.4l5.9 7 4.2-3-6.1-6.8z" fill="#796cd7"/>
<path d="M401.1 260.3l1.3 6.1 6.4-2.5-1.6-6z" fill="#72cae2"/>
<path d="M325.8 219.9l-1.3 6.9 7.7 2 1.1-6.9z" fill="#8fd7c6"/>
<path d="M381.9 210.2l1 7.1 8.3-1.9-1.3-7z" fill="#a0d9bb"/>
<path d="M289.8 312.3l-3.1 6.2 4.8 2.8 3-6.3z" fill="#8582ed"/>
<path d="M340.7 185.3l-.9 7.1 9.7 1.2.5-7.1z" fill="#cadaab"/>
<path d="M366 180.6l.3 7.1 10.2-1-.8-7z" fill="#cdd8a4"/>
<path d="M330.5 208.5l-1.2 7 8.4 1.8.9-7z" fill="#a3dabd"/>
<path d="M313.2 258.1l-1.5 6 6.5 2.4 1.3-6.1z" fill="#6dc8e0"/>
<path d="M335.5 196.9l-1.1 7.1 9 1.6.8-7.2z" fill="#b7dbb4"/>
<path d="M402.4 265.4l1.7 7.2 6.3-2.4-1.8-7.2z" fill="#76c7e6"/>
<path d="M300.9 290.5l-2.4 6.9 5.6 2.7 2.2-7.1z" fill="#899ffb"/>
<path d="M355.2 174.5l-.3 7 10.7 0-.2-7z" fill="#d3d7a2"/>
<path d="M422 309.4l2.9 7 5.1-2.8-3.1-6.8z" fill="#8f8ef2"/>
<path d="M383.4 216.3l.9 7 8.3-1.9-1.3-7z" fill="#98d8c1"/>
<path d="M459.3 346.1l7.7 3.2 3.7-3.2-7.9-3z" fill="#5845ba"/>
<path d="M283.1 323.2l-4.9 7 4.6 2.9 4.6-7.2z" fill="#8077e0"/>
<path d="M235.3 347.4l-8.2 1 3.2 3.3 8-1.1z" fill="#442dac"/>
<path d="M317.5 248l-1.5 6.4 7 2.2 1.3-6.4z" fill="#72cfdc"/>
<path d="M347.7 180.1l-.7 7 10.5.7.1-7.1z" fill="#cfd9a7"/>
<path d="M367.5 186.7l.4 7.1 10.1-1-.9-7.1z" fill="#c8d9a8"/>
<path d="M305.6 280.5l-2 6.3 6 2.6 1.7-6.4z" fill="#81b1f5"/>
<path d="M404 271.7l1.7 7 6.4-2.5-1.9-6.9z" fill="#7dc2ec"/>
<path d="M293.6 307l-3.1 6.8 5.2 2.8 2.9-7z" fill="#8b8bf2"/>
<path d="M384.8 222.3l1 6.9 8.1-1.9-1.3-6.9z" fill="#90d8c7"/>
<path d="M264.9 339.9l-7.8 4.4 4 3.1 7.5-4.6z" fill="#6655c4"/>
<path d="M321.9 237.5l-1.4 6.6 7.6 2.1 1.1-6.7z" fill="#7ed4d6"/>
<path d="M356.7 180.7l-.1 7.1 10.6-.2-.3-7.1z" fill="#cfd9a6"/>
<path d="M424.6 315.5l2.9 6.3 5.1-2.7-3.1-6.2z" fill="#8f8cef"/>
<path d="M369.1 192.8l.4 7.2 9.9-1.1-.8-7.1z" fill="#c1daad"/>
<path d="M386.2 228.2l1 6.9 8.1-1.9-1.3-6.8z" fill="#8ad7cd"/>
<path d="M257.7 343.5l-8 3 3.9 3.2 7.7-3.2z" fill="#5b48bb"/>
<path d="M405.8 277.7l1.7 6.7 6.2-2.5-1.9-6.6z" fill="#85bdf1"/>
<path d="M342 191.8l-.9 7.1 10 1.1.4-7.1z" fill="#c3dbb0"/>
<path d="M481.4 351l8 1.1 3.3-3.3-8.1-1z" fill="#432cac"/>
<path d="M326.6 226.5l-1.3 6.8 8.1 1.9 1-6.9z" fill="#8dd8ce"/>
<path d="M443.3 337.9l7.3 6.5 4.3-3-7.5-6.2z" fill="#7566ce"/>
<path d="M296.8 302.4l-2.4 6.1 5.6 2.7 2.3-6.2z" fill="#9093f6"/>
<path d="M336.6 203.5l-1.1 7.1 9.4 1.4.7-7.1z" fill="#b1dcbb"/>
<path d="M331.4 215.1l-1.1 7 8.7 1.7.9-7z" fill="#9edbc5"/>
<path d="M250.4 345.8l-8 2.1 3.8 3.2 7.8-2.2z" fill="#513cb4"/>
<path d="M387.6 234.1l1 6.8 8-2-1.3-6.7z" fill="#85d6d2"/>
<path d="M349.1 186.4l-.5 7.1 10.5.5.1-7.1z" fill="#cadaab"/>
<path d="M370.6 199l.5 7.1 9.8-1.1-.9-7.1z" fill="#b6dab3"/>
<path d="M407.4 283.4l1.7 6.5 6.3-2.5-1.9-6.3z" fill="#8cb8f6"/>
<path d="M358.3 186.9l-.1 7.1 10.6-.3-.4-7.1z" fill="#cadaaa"/>
<path d="M279 329.7l-6 6.9 4.7 2.9 5.8-7.1z" fill="#7f72d9"/>
<path d="M313.6 263.9l-1.8 7.2 6.9 2.3 1.6-7.2z" fill="#78c8e7"/>
<path d="M427.1 321l3.6 6.9 5.2-2.8-3.9-6.7z" fill="#8f89eb"/>
<path d="M243.2 347.4l-8.1 1.4 3.7 3.3 7.9-1.6z" fill="#4934b0"/>
<path d="M389 239.9l1 6.7 7.9-2-1.3-6.6z" fill="#81d5d7"/>
<path d="M273.1 335.5l-7.5 6.3 4.5 2.9 7.2-6.5z" fill="#7667cf"/>
<path d="M372.1 205.1l.6 7.2 9.6-1.3-.9-7z" fill="#addbb8"/>
<path d="M409 289l1.7 6.1 6.3-2.5-1.9-6z" fill="#93b3fa"/>
<path d="M318 254.2l-1.4 6.2 7.4 2.1 1.2-6.3z" fill="#7ad0e1"/>
<path d="M343.3 198.3l-.8 7.1 10.2 1 .3-7.2z" fill="#badcb7"/>
<path d="M465.6 349.3l7.8 2.2 3.9-3.2-8-2z" fill="#503bb4"/>
<path d="M390.3 245.6l1.1 6.6 7.9-2-1.3-6.5z" fill="#7ed3db"/>
<path d="M359.8 193.1l.1 7.2 10.5-.4-.4-7.1z" fill="#c2dbaf"/>
<path d="M350.6 192.8l-.4 7.1 10.6.4-.1-7.2z" fill="#c3dbb0"/>
<path d="M305.4 286.7l-1.9 6.1 6.4 2.5 1.7-6.2z" fill="#8fb0fa"/>
<path d="M322.6 243.8l-1.3 6.5 7.9 2 1.1-6.6z" fill="#80d4db"/>
<path d="M373.6 211.3l.6 7.1 9.6-1.3-1-7.1z" fill="#a5dbbe"/>
<path d="M410.6 294.2l2.2 7.1 6.3-2.5-2.4-7z" fill="#9aacfb"/>
<path d="M337.7 210.1l-.9 7.1 9.6 1.2.6-7.1z" fill="#aaddc2"/>
<path d="M391.7 251.2l1.1 6.4 7.8-2-1.3-6.4z" fill="#7dd2de"/>
<path d="M310.3 276.2l-1.8 6.6 6.8 2.4 1.6-6.8z" fill="#87bef1"/>
<path d="M327.4 233l-1.2 6.7 8.5 1.8.9-6.8z" fill="#8cd8d5"/>
<path d="M332.4 221.7l-1.1 6.9 9.1 1.6.8-7z" fill="#9adbcc"/>
<path d="M430.3 327.1l4.5 7.2 5.2-2.8-4.8-7z" fill="#8d85e4"/>
<path d="M487.8 352.3l8 1 3.6-3.4-8.2-.8z" fill="#412aaa"/>
<path d="M361.4 199.4l.1 7.1 10.5-.4-.5-7.2z" fill="#b8dbb5"/>
<path d="M375.1 217.4l.7 7.1 9.4-1.4-1-7z" fill="#9ddac4"/>
<path d="M393.1 256.7l1.1 6.3 7.8-2.1-1.4-6.2z" fill="#7ed1e2"/>
<path d="M449.6 344l7.4 4.7 4.5-3.1-7.7-4.4z" fill="#6b5bc6"/>
<path d="M412.8 300.4l2.1 6.6 6.2-2.5-2.3-6.5z" fill="#9da6f9"/>
<path d="M352.1 199.2l-.3 7.1 10.6.2-.1-7.1z" fill="#b9dcb6"/>
<path d="M344.7 204.8l-.7 7.1 10.3.8.2-7.2z" fill="#b2ddbc"/>
<path d="M394.5 262l1.1 6.1 7.7-2-1.4-6.1z" fill="#7fcfe4"/>
<path d="M376.6 223.5l.7 7 9.4-1.4-1-7z" fill="#96daca"/>
<path d="M494.6 353.1l2.8.3 3.6-3.4-2.8-.2z" fill="#4029aa"/>
<path d="M313.8 270.9l-1.8 6.9 7.4 2.2 1.5-7z" fill="#86c6ed"/>
<path d="M301.8 298.2l-2.3 6.6 6.3 2.4 2.1-6.7z" fill="#99a3f9"/>
<path d="M363 205.6l.1 7.2 10.5-.6-.6-7.1z" fill="#b0dcba"/>
<path d="M289.8 319.4l-3.8 6.8 5.6 2.7 3.6-6.9z" fill="#918beb"/>
<path d="M318.6 260.1l-1.3 6.1 7.8 2.1 1.1-6.2z" fill="#81d0e5"/>
<path d="M229.4 349.6l-8.2.8 3.7 3.3 8-.9z" fill="#412bab"/>
<path d="M414.7 306.1l2.2 6.3 6.3-2.5-2.4-6.2z" fill="#9fa2f7"/>
<path d="M339 216.6l-.9 7.1 9.9 1.1.5-7.1z" fill="#a3ddc8"/>
<path d="M395.8 267.2l1.5 7.2 7.6-2.1-1.6-7.2z" fill="#83cde9"/>
<path d="M378.1 229.5l.7 6.9 9.3-1.5-1-6.8z" fill="#90d9cf"/>
<path d="M323.4 250l-1.3 6.4 8.3 1.9 1-6.5z" fill="#84d5e0"/>
<path d="M353.7 205.5l-.3 7.2 10.6.1-.1-7.2z" fill="#b1dcbc"/>
<path d="M333.5 228.2l-1 6.8 9.4 1.4.7-6.9z" fill="#97dbd2"/>
<path d="M328.4 239.3l-1.2 6.7 8.8 1.6.9-6.7z" fill="#8cd8da"/>
<path d="M471.8 351.6l7.9 1.7 4.1-3.2-8.1-1.6z" fill="#4934b0"/>
<path d="M434.3 333.6l5.5 7.1 5.3-2.8-5.9-7z" fill="#8a7fdc"/>
<path d="M364.5 211.8l.3 7.2 10.3-.7-.6-7.1z" fill="#a8dcc0"/>
<path d="M293.7 314.6l-3 6.3 6 2.6 2.7-6.4z" fill="#9794f0"/>
<path d="M346.1 211.2l-.6 7.2 10.4.6.2-7.1z" fill="#aaddc2"/>
<path d="M305.5 292.7l-2.3 7.1 6.8 2.3 2.1-7.1z" fill="#9badfb"/>
<path d="M379.6 235.4l.7 6.8 9.2-1.5-1.1-6.7z" fill="#8bd8d4"/>
<path d="M222.4 350.3l-2.9.2 3.8 3.4 2.8-.3z" fill="#4029aa"/>
<path d="M397.5 273.5l1.4 7 7.7-2.1-1.7-7z" fill="#8ac8ee"/>
<path d="M310.5 282.7l-1.8 6.4 7.2 2.2 1.5-6.5z" fill="#94bdf6"/>
<path d="M416.9 311.5l2.6 7 6.3-2.5-3-7z" fill="#9f9ff4"/>
<path d="M286.6 325.5l-4.6 7.1 5.6 2.7 4.4-7.3z" fill="#9088e4"/>
<path d="M366.1 218l.3 7.1 10.3-.7-.7-7.1z" fill="#a0dcc6"/>
<path d="M355.2 211.8l-.2 7.2 10.7-.1-.3-7.1z" fill="#a9ddc1"/>
<path d="M399.4 279.4l1.5 6.8 7.4-2.1-1.7-6.7z" fill="#92c4f2"/>
<path d="M381 241.2l.8 6.7 9.1-1.5-1.1-6.7z" fill="#88d7d9"/>
<path d="M297.7 309.3l-2.8 6.9 6.3 2.5 2.7-7.1z" fill="#9c9bf4"/>
<path d="M340.3 223.1l-.8 7 10 .9.5-7z" fill="#9edcce"/>
<path d="M455.7 348.4l7.6 3.3 4.6-3-7.8-3.2z" fill="#604dbd"/>
<path d="M237.5 349.8l-8.1 1.2 4.1 3.2 7.9-1.3z" fill="#452fad"/>
<path d="M419.4 317.6l2.7 6.4 6.2-2.5-2.9-6.3z" fill="#9f9cf1"/>
<path d="M347.6 217.6l-.5 7.1 10.4.5.2-7.1z" fill="#a3ddc8"/>
<path d="M267.8 342.3l-7.6 4.5 5 3 7.3-4.8z" fill="#7060c7"/>
<path d="M382.5 246.9l.8 6.7 9-1.6-1.1-6.6z" fill="#85d6dd"/>
<path d="M319.4 265.9l-1.6 7.3 8.2 1.9 1.3-7.3z" fill="#8acfea"/>
<path d="M334.7 234.5l-.9 6.8 9.6 1.3.6-6.8z" fill="#94dbd8"/>
<path d="M401.1 285.2l1.4 6.5 7.5-2.1-1.7-6.4z" fill="#98c0f7"/>
<path d="M367.7 224.2l.3 7 10.2-.8-.7-7z" fill="#99dbcc"/>
<path d="M324.3 256l-1.2 6.3 8.6 1.8.9-6.4z" fill="#89d5e4"/>
<path d="M329.4 245.5l-1.1 6.6 9.1 1.5.8-6.6z" fill="#8dd8df"/>
<path d="M301.4 304.6l-2.3 6.3 6.8 2.3 2.1-6.2z" fill="#a0a3f7"/>
<path d="M356.8 218.1l-.2 7.1 10.7-.1-.3-7.1z" fill="#a2dcc7"/>
<path d="M260.5 345.8l-7.8 3.3 4.8 3 7.5-3.4z" fill="#6250be"/>
<path d="M383.9 252.6l.9 6.4 8.9-1.6-1.1-6.4z" fill="#85d5e0"/>
<path d="M439.2 340.1l6.9 6.6 5.3-2.8-7.3-6.5z" fill="#8275d3"/>
<path d="M478.2 353.3l7.9 1.3 3.7-3.1-7.6-1.3z" fill="#452ead"/>
<path d="M402.7 290.8l1.5 6.2 7.4-2.2-1.7-6.1z" fill="#9ebbfb"/>
<path d="M369.2 230.2l.4 7 10.1-.9-.7-6.9z" fill="#94dad1"/>
<path d="M341.7 229.4l-.7 6.9 10.1.9.4-7z" fill="#99dcd3"/>
<path d="M253.1 348.2l-7.9 2.3 4.7 3 7.6-2.4z" fill="#5542b6"/>
<path d="M422 323.1l3.3 7 6.3-2.6-3.7-6.8z" fill="#9e98ed"/>
<path d="M282.7 332l-5.8 7 5.8 2.8 5.4-7.3z" fill="#8c82dd"/>
<path d="M349.1 224l-.4 7 10.5.4 0-7.1z" fill="#9ddcce"/>
<path d="M385.4 258l.9 6.4 8.8-1.6-1.1-6.3z" fill="#86d4e4"/>
<path d="M310.8 288.8l-1.7 6.2 7.5 2.1 1.5-6.2z" fill="#9ebbfb"/>
<path d="M316 278.2l-1.6 6.7 7.9 2 1.3-6.8z" fill="#97c7f3"/>
<path d="M358.3 224.3l0 7.1 10.6-.3-.3-7z" fill="#9cdccd"/>
<path d="M276.5 337.7l-7.3 6.6 5.5 2.7 6.9-6.7z" fill="#8174d3"/>
<path d="M245.8 349.7l-8 1.6 4.5 3.2 7.8-1.8z" fill="#4c37b1"/>
<path d="M404.3 296l1.8 7.2 7.5-2.2-2.1-7.1z" fill="#a4b5fc"/>
<path d="M370.7 236.2l.5 6.9 10-1-.7-6.8z" fill="#90d9d6"/>
<path d="M336 240.8l-.9 6.7 9.8 1.1.6-6.7z" fill="#92dbdc"/>
<path d="M386.8 263.4l.9 6.2 8.8-1.7-1.1-6.1z" fill="#88d3e6"/>
<path d="M330.5 251.6l-1 6.5 9.4 1.4.7-6.5z" fill="#8fd8e3"/>
<path d="M325.3 261.9l-1.1 6.2 8.8 1.6.9-6.2z" fill="#8ed5e8"/>
<path d="M461.9 351.5l7.7 2.4 4.8-3-8-2.3z" fill="#5541b6"/>
<path d="M320 272.8l-1.5 7 8.5 1.8 1.2-7z" fill="#95cdef"/>
<path d="M359.9 230.5l0 6.9 10.6-.3-.4-6.9z" fill="#97dbd2"/>
<path d="M350.6 230.2l-.4 7 10.6.2 0-6.9z" fill="#98dcd3"/>
<path d="M372.3 242.1l.4 6.7 10-1-.8-6.7z" fill="#8cd9da"/>
<path d="M406.5 302.2l1.9 6.7 7.3-2.2-2.1-6.6z" fill="#a7b0fa"/>
<path d="M343.1 235.7l-.6 6.8 10.3.8.2-6.9z" fill="#96dbd8"/>
<path d="M425.2 329.1l4.2 7.4 6.2-2.6-4.5-7.2z" fill="#9b94e7"/>
<path d="M388.3 268.6l1.1 7.3 8.7-1.7-1.4-7.2z" fill="#8bd0ea"/>
<path d="M307.1 300.2l-2.2 6.7 7.5 2.2 1.8-6.8z" fill="#a7affa"/>
<path d="M373.8 247.9l.5 6.6 9.9-1.1-.8-6.6z" fill="#8ad8de"/>
<path d="M445.3 346.1l7.1 4.9 5.5-2.8-7.5-4.7z" fill="#7566c9"/>
<path d="M485 354.5l7.5 1.2 3.8-3.1-7.6-1.1z" fill="#422bab"/>
<path d="M361.5 236.5l.1 6.9 10.5-.4-.5-6.9z" fill="#93dad7"/>
<path d="M337.3 246.9l-.8 6.6 10 1 .4-6.6z" fill="#91dae0"/>
<path d="M389.9 274.9l1.1 7.1 8.8-1.7-1.5-7z" fill="#92ccef"/>
<path d="M408.5 308l1.9 6.3 7.4-2.2-2.2-6.3z" fill="#a9acf8"/>
<path d="M294.3 321.6l-3.5 6.9 6.7 2.5 3.2-7.1z" fill="#9f9aed"/>
<path d="M352.1 236.3l-.2 6.9 10.6.2-.1-6.9z" fill="#95dbd8"/>
<path d="M316.5 284.6l-1.5 6.4 8.2 1.9 1.3-6.5z" fill="#a1c5f7"/>
<path d="M311.2 294.7l-2 7.2 7.9 2 1.7-7.2z" fill="#a8b8fc"/>
<path d="M331.8 257.6l-1 6.3 9.5 1.3.7-6.4z" fill="#91d8e6"/>
<path d="M375.3 253.5l.6 6.5 9.8-1.1-.9-6.5z" fill="#8ad7e2"/>
<path d="M344.6 241.8l-.6 6.8 10.4.6.2-6.8z" fill="#93dbdc"/>
<path d="M392.1 280.9l1.2 6.8 8.5-1.7-1.5-6.8z" fill="#99c8f3"/>
<path d="M326.4 267.6l-1.3 7.3 9.2 1.5.9-7.3z" fill="#95d4ec"/>
<path d="M298.6 316.8l-2.8 6.4 7 2.3 2.5-6.5z" fill="#a4a1f2"/>
<path d="M363.1 242.5l.1 6.7 10.4-.4-.4-6.8z" fill="#90dadb"/>
<path d="M410.7 313.3l2.4 7.1 7.3-2.2-2.7-7z" fill="#a9a9f5"/>
<path d="M491.7 355.4l2.3.5 3.9-3.1-2.4-.5z" fill="#4029aa"/>
<path d="M429.2 335.6l5.2 7.3 6.3-2.6-5.6-7.1z" fill="#968ce0"/>
<path d="M232 352l-7.6 1.1 4 3.1 7.4-1.3z" fill="#422cab"/>
<path d="M376.8 259l.6 6.4 9.7-1.1-.8-6.4z" fill="#8bd6e5"/>
<path d="M393.7 286.7l1.3 6.6 8.4-1.8-1.5-6.5z" fill="#a0c4f7"/>
<path d="M353.7 242.4l-.2 6.8 10.6 0-.1-6.7z" fill="#92dadc"/>
<path d="M468.6 353.7l7.2 2 4.4-3-7.4-1.8z" fill="#4c37b1"/>
<path d="M303 311.4l-2.6 7 7.3 2.2 2.4-7.1z" fill="#a8a8f5"/>
<path d="M338.7 252.9l-.7 6.5 10 .9.4-6.5z" fill="#92d9e4"/>
<path d="M291.2 327.7l-4.4 7.3 6.6 2.4 4-7.4z" fill="#9c95e7"/>
<path d="M364.6 248.3l.2 6.7 10.4-.6-.5-6.6z" fill="#8ed9df"/>
<path d="M346 247.8l-.4 6.7 10.4.5.2-6.7z" fill="#92dae0"/>
<path d="M378.4 264.4l.6 6.3 9.6-1.2-.9-6.2z" fill="#8dd4e7"/>
<path d="M413.3 319.4l2.5 6.5 7.2-2.2-2.7-6.4z" fill="#a9a6f3"/>
<path d="M333 263.4l-.8 6.2 9.7 1.1.5-6.2z" fill="#95d7e9"/>
<path d="M395.4 292.3l1.2 6.3 8.4-1.8-1.5-6.3z" fill="#a5c0fb"/>
<path d="M322.7 279.9l-1.3 6.8 8.8 1.6 1.1-6.9z" fill="#a1ccf4"/>
<path d="M307.1 306.7l-2.1 6.3 7.8 2.1 1.8-6.4z" fill="#acaef8"/>
<path d="M225.2 352.8l-2.4.5 4 3.1 2.4-.5z" fill="#412aaa"/>
<path d="M451.5 350.5l7.2 3.5 5.6-2.8-7.6-3.4z" fill="#6755c0"/>
<path d="M355.3 248.3l-.2 6.7 10.6 0-.2-6.7z" fill="#90dae0"/>
<path d="M317.2 290.7l-1.5 6.2 8.5 1.8 1.3-6.3z" fill="#a9c3fb"/>
<path d="M366.2 254l.2 6.6 10.4-.6-.6-6.6z" fill="#8dd8e3"/>
<path d="M271.6 344.5l-7.3 4.8 5.8 2.8 7-5z" fill="#796acb"/>
<path d="M379.9 269.7l.7 7.3 9.7-1.2-1.2-7.3z" fill="#91d2eb"/>
<path d="M327.3 274.4l-1.2 7.1 9.4 1.4.9-7.1z" fill="#9dd1f1"/>
<path d="M240.5 352.2l-7.5 1.4 4.3 3 7.3-1.5z" fill="#4731ad"/>
<path d="M340.1 258.7l-.7 6.4 10.2.8.4-6.4z" fill="#94d9e7"/>
<path d="M397 297.6l1.5 7.2 8.5-1.8-1.8-7.2z" fill="#abbbfc"/>
<path d="M347.6 253.7l-.5 6.5 10.5.5.1-6.6z" fill="#92d9e4"/>
<path d="M416 324.9l3 7.1 7.2-2.2-3.4-7z" fill="#a8a3ef"/>
<path d="M434.3 342l6.5 6.9 6.2-2.6-7-6.7z" fill="#8c80d7"/>
<path d="M264 348.1l-7.5 3.4 5.7 2.9 7.2-3.6z" fill="#6857c1"/>
<path d="M367.7 259.6l.3 6.4 10.3-.7-.6-6.3z" fill="#8fd7e6"/>
<path d="M356.8 254.1l-.1 6.5 10.6-.1-.2-6.5z" fill="#90d9e3"/>
<path d="M287.2 334.1l-5.4 7.3 6.7 2.5 5-7.4z" fill="#988ee0"/>
<path d="M381.5 276l.8 7.2 9.6-1.3-1.1-7.1z" fill="#97cff0"/>
<path d="M474.9 355.4l7.2 1.6 4.5-3-7.4-1.5z" fill="#4630ad"/>
<path d="M399.4 303.7l1.6 6.9 8.3-1.9-1.9-6.8z" fill="#aeb6fa"/>
<path d="M334.3 269l-.9 7.3 9.9 1.1.6-7.4z" fill="#9ad6ed"/>
<path d="M256.5 350.5l-7.2 2.5 5 2.9 7.5-2.6z" fill="#5a46b8"/>
<path d="M280.7 339.9l-6.9 6.7 6.3 2.6 6.5-6.9z" fill="#8b7fd6"/>
<path d="M384 282.1l.9 6.8 9.3-1.3-1.2-6.9z" fill="#9ecbf4"/>
<path d="M313.4 302.1l-1.9 6.8 8.4 1.8 1.5-6.8z" fill="#b1b8fa"/>
<path d="M323.6 286.2l-1.3 6.5 9.1 1.5 1-6.5z" fill="#a9caf8"/>
<path d="M369.3 265.1l.3 6.2 10.3-.7-.7-6.3z" fill="#91d6e8"/>
<path d="M349.1 259.5l-.4 6.4 10.6.3 0-6.4z" fill="#93d9e7"/>
<path d="M341.5 264.4l-.5 6.3 10.2.7.3-6.3z" fill="#96d8e9"/>
<path d="M249.1 352l-7.4 1.9 4.8 2.9 7.1-2z" fill="#4f3ab2"/>
<path d="M358.4 259.8l0 6.4 10.5-.2-.3-6.4z" fill="#91d8e6"/>
<path d="M419.3 331l3.8 7.5 7.2-2.3-4.2-7.4z" fill="#a59ee9"/>
<path d="M318 296.5l-1.8 7.2 8.9 1.7 1.4-7.2z" fill="#b1bffc"/>
<path d="M401.3 309.6l1.6 6.4 8.4-1.9-2-6.4z" fill="#b0b2f8"/>
<path d="M457.6 353.6l7.4 2.7 5.2-2.9-7.3-2.5z" fill="#5946b8"/>
<path d="M385.6 287.9l1 6.6 9.2-1.4-1.2-6.5z" fill="#a5c7f8"/>
<path d="M370.9 270.4l.4 7.4 10.2-.9-.8-7.3z" fill="#95d4ec"/>
<path d="M299.8 323.6l-3.2 7.1 7.6 2.1 2.9-7.1z" fill="#a9a5ef"/>
<path d="M360 265.3l0 6.2 10.5-.2-.3-6.3z" fill="#93d7e9"/>
<path d="M330.4 281.3l-1.1 6.8 9.6 1.2.8-6.9z" fill="#a6cff5"/>
<path d="M350.6 265.1l-.3 6.2 10.6.2 0-6.2z" fill="#95d8e9"/>
<path d="M335.6 275.7l-1 7.1 10.1 1 .6-7.2z" fill="#a1d3f1"/>
<path d="M403.7 314.9l2 7.2 8.3-1.9-2.4-7.1z" fill="#b0b0f6"/>
<path d="M440.3 348.1l6.8 5.1 6.3-2.6-7.1-4.9z" fill="#7e70cd"/>
<path d="M304.5 318.8l-2.5 6.4 7.9 2.1 2.2-6.6z" fill="#aeacf3"/>
<path d="M343 269.9l-.6 7.4 10.4.6.3-7.4z" fill="#9ad6ed"/>
<path d="M387.3 293.5l.9 6.3 9.3-1.4-1.3-6.3z" fill="#aac4fb"/>
<path d="M372.5 276.8l.5 7.1 10.2-.8-.8-7.2z" fill="#9bd0f0"/>
<path d="M309.2 313.2l-2.3 7.2 8.3 1.9 2-7.2z" fill="#b2b1f6"/>
<path d="M324.6 292.2l-1.3 6.3 9.4 1.4.9-6.3z" fill="#b0c8fb"/>
<path d="M481.2 356.8l7.2 1.4 4.6-3.1-7.5-1.2z" fill="#422cab"/>
<path d="M423.3 337.5l4.8 7.5 7.2-2.4-5.2-7.3z" fill="#9f96e2"/>
<path d="M361.5 270.6l.1 7.4 10.6-.3-.4-7.4z" fill="#97d5ec"/>
<path d="M313.8 308.5l-1.8 6.4 8.7 1.7 1.5-6.4z" fill="#b5b7f9"/>
<path d="M352.2 270.5l-.3 7.4 10.6.1-.1-7.4z" fill="#99d6ed"/>
<path d="M406.4 321.1l2.1 6.6 8.1-2-2.4-6.5z" fill="#b0adf4"/>
<path d="M296.6 329.7l-4 7.4 7.5 2.2 3.6-7.5z" fill="#a69fea"/>
<path d="M375.3 282.9l.6 6.9 9.9-1-.9-6.8z" fill="#a2cdf4"/>
<path d="M388.9 298.8l1.2 7.3 9.3-1.4-1.5-7.3z" fill="#b0befc"/>
<path d="M331.5 287.5l-1 6.6 9.8 1.1.7-6.6z" fill="#adccf8"/>
<path d="M235.2 354.3l-7.4 1.3 4.7 3 7.2-1.4z" fill="#432cab"/>
<path d="M464.3 355.8l7 2.2 5.1-2.9-7.2-2z" fill="#4f3ab2"/>
<path d="M344.4 276.6l-.6 7.1 10.6.5.2-7.1z" fill="#a1d3f1"/>
<path d="M487.7 357.8l2.3.6 4.6-3.1-2.4-.5z" fill="#412aaa"/>
<path d="M363.1 277.1l.2 7.2 10.6-.4-.5-7.2z" fill="#9ed2f1"/>
<path d="M391.5 305.1l1.3 6.8 9.1-1.5-1.6-6.8z" fill="#b3bafb"/>
<path d="M338.8 282.4l-.8 6.8 10.2.8.4-6.9z" fill="#a8d0f5"/>
<path d="M376.9 288.8l.6 6.6 9.9-1-.9-6.6z" fill="#a8c9f8"/>
<path d="M409.1 326.6l2.7 7.2 8.1-2-3.1-7.1z" fill="#afaaf0"/>
<path d="M320.6 303.7l-1.6 6.8 9.2 1.5 1.2-6.8z" fill="#b7befb"/>
<path d="M353.7 277.1l-.2 7.1 10.7.1-.2-7.2z" fill="#a0d3f1"/>
<path d="M446.5 352.5l6.9 3.8 6.4-2.7-7.3-3.6z" fill="#6d5cc3"/>
<path d="M325.6 298l-1.4 7.3 9.6 1.3 1.1-7.3z" fill="#b6c4fc"/>
<path d="M276.1 346.7l-6.9 5 6.7 2.5 6.5-5.1z" fill="#8072ce"/>
<path d="M428.6 343.9l6.1 7.1 7-2.4-6.5-6.9z" fill="#958ada"/>
<path d="M228.6 355.3l-2.3.5 4.7 3 2.3-.5z" fill="#412aaa"/>
<path d="M366.2 283.3l.2 6.9 10.4-.5-.6-6.9z" fill="#a5cef4"/>
<path d="M292.6 336.2l-5 7.4 7.5 2.2 4.6-7.5z" fill="#a098e3"/>
<path d="M378.5 294.4l.7 6.4 9.9-1.1-1-6.3z" fill="#aec6fb"/>
<path d="M393.3 310.9l1.4 6.5 9.1-1.6-1.6-6.4z" fill="#b5b7f9"/>
<path d="M244 354.5l-7.2 1.6 5 2.9 7.1-1.8z" fill="#4832ae"/>
<path d="M268.4 350.3l-7.3 3.6 6.5 2.7 6.8-3.8z" fill="#6e5ec3"/>
<path d="M332.7 293.5l-.9 6.3 10 1 .6-6.3z" fill="#b3cafb"/>
<path d="M347.7 283.1l-.4 6.9 10.4.3.1-6.9z" fill="#a8d0f5"/>
<path d="M285.7 342l-6.5 6.9 7.2 2.3 5.9-7.1z" fill="#9488d9"/>
<path d="M356.9 283.4l-.1 6.9 10.5-.1-.2-6.9z" fill="#a7cff5"/>
<path d="M340.1 288.5l-.7 6.6 10.3.7.4-6.6z" fill="#aecdf8"/>
<path d="M412.6 332.7l3.4 7.6 8-2.1-3.8-7.5z" fill="#aca6eb"/>
<path d="M260.7 352.7l-7 2.7 5.7 2.7 6.7-2.8z" fill="#5e4bba"/>
<path d="M367.8 289.3l.3 6.6 10.3-.6-.6-6.6z" fill="#abcbf8"/>
<path d="M470.6 357.6l7 1.7 5.1-2.9-7.2-1.6z" fill="#4832ae"/>
<path d="M395.9 316.3l1.7 7.3 9-1.7-2-7.2z" fill="#b5b5f6"/>
<path d="M380.2 299.8l.8 7.3 10-1.1-1.2-7.3z" fill="#b3c1fc"/>
<path d="M306.2 325.5l-2.8 7.1 8.4 1.9 2.5-7.2z" fill="#b1adf1"/>
<path d="M311.2 320.5l-2.2 6.6 8.7 1.7 1.9-6.6z" fill="#b5b3f4"/>
<path d="M316.3 314.9l-2 7.2 9.1 1.6 1.6-7.3z" fill="#b8b8f7"/>
<path d="M253 354.2l-7.1 2.1 5.5 2.8 6.8-2.2z" fill="#513cb3"/>
<path d="M321.3 310l-1.5 6.5 9.4 1.4 1.2-6.5z" fill="#babcf9"/>
<path d="M349.2 289.2l-.4 6.6 10.5.3.1-6.7z" fill="#aecdf8"/>
<path d="M358.5 289.4l-.1 6.7 10.6-.2-.3-6.6z" fill="#adccf8"/>
<path d="M453.1 355.6l6.7 2.9 5.9-2.7-7-2.7z" fill="#5e4bba"/>
<path d="M369.4 295l.3 6.4 10.4-.7-.7-6.4z" fill="#b0c8fb"/>
<path d="M383 306.1l.9 6.9 9.8-1.2-1.3-6.9z" fill="#b6bdfb"/>
<path d="M334 299.2l-1.1 7.3 10.2.9.7-7.3z" fill="#b9c6fc"/>
<path d="M341.5 294.4l-.6 6.4 10.3.6.4-6.4z" fill="#b4cafc"/>
<path d="M398.7 322.5l1.8 6.6 8.9-1.6-2.1-6.6z" fill="#b5b2f4"/>
<path d="M328.5 305l-1.2 6.9 9.8 1.2.9-7z" fill="#bbc1fb"/>
<path d="M434.7 350l6.3 5.3 7.1-2.4-6.8-5.1z" fill="#8578d0"/>
<path d="M416.8 339.2l4.2 7.6 8-2.1-4.8-7.5z" fill="#a69ee4"/>
<path d="M302.8 331.5l-3.6 7.6 8.3 1.9 3.2-7.6z" fill="#aea8eb"/>
<path d="M360 295.2l0 6.3 10.6-.2-.3-6.4z" fill="#b2c9fb"/>
<path d="M350.7 295l-.4 6.3 10.6.2 0-6.3z" fill="#b3cafb"/>
<path d="M371 300.4l.5 7.4 10.4-.7-.8-7.4z" fill="#b6c3fc"/>
<path d="M384.8 312l1 6.5 9.8-1.2-1.4-6.5z" fill="#b8baf9"/>
<path d="M476.8 358.9l7 1.6 5.2-2.9-7.2-1.4z" fill="#432dab"/>
<path d="M401.5 328.1l2.3 7.2 8.9-1.7-2.7-7.2z" fill="#b4aff1"/>
<path d="M342.9 300l-.7 7.4 10.6.5.3-7.4z" fill="#b9c6fc"/>
<path d="M459.4 357.9l6.7 2.3 5.8-2.8-7-2.1z" fill="#513db3"/>
<path d="M374 306.7l.6 7 10.2-.8-.9-6.9z" fill="#b8bffb"/>
<path d="M387.5 317.4l1.3 7.3 9.7-1.3-1.7-7.2z" fill="#b8b8f7"/>
<path d="M361.6 300.6l.1 7.4 10.7-.3-.5-7.3z" fill="#b8c5fc"/>
<path d="M329.5 311.3l-1.2 6.5 10.1 1 .8-6.5z" fill="#bdbff9"/>
<path d="M337.1 306l-.9 7 10.3.7.5-6.9z" fill="#bcc3fb"/>
<path d="M239.1 356.6l-7.2 1.4 5.4 2.9 6.9-1.6z" fill="#442dac"/>
<path d="M352.2 300.5l-.3 7.4 10.7.1-.1-7.4z" fill="#b9c6fc"/>
<path d="M324.2 316.3l-1.7 7.3 9.7 1.2 1.3-7.3z" fill="#bcbcf7"/>
<path d="M298.8 338l-4.6 7.6 8.4 2 4-7.7z" fill="#a79fe5"/>
<path d="M422.3 345.6l5.5 7.3 7.8-2.2-6.1-7.1z" fill="#9b91dc"/>
<path d="M281.4 348.7l-6.6 5.2 7.5 2.3 6.1-5.3z" fill="#8779d0"/>
<path d="M440.9 354.4l6.5 4 7.2-2.5-7-3.8z" fill="#7363c5"/>
<path d="M483.1 360.1l2.2.6 5.2-2.9-2.2-.6z" fill="#412baa"/>
<path d="M318.7 322l-1.9 6.7 9.5 1.4 1.5-6.7z" fill="#bab8f5"/>
<path d="M405.3 334.2l2.9 7.6 8.7-1.7-3.4-7.6z" fill="#b1abec"/>
<path d="M313.4 327.1l-2.5 7.2 9.2 1.6 2.1-7.3z" fill="#b7b3f2"/>
<path d="M291.4 343.8l-6 7.2 7.9 2.1 5.5-7.3z" fill="#9a90dc"/>
<path d="M390.4 323.6l1.4 6.7 9.6-1.3-1.8-6.7z" fill="#b8b6f5"/>
<path d="M273.4 352.4l-7 3.8 7.3 2.5 6.5-4z" fill="#7363c5"/>
<path d="M375.7 312.7l.7 6.5 10.3-.8-1-6.5z" fill="#bbbcf9"/>
<path d="M364.7 307.1l.2 6.9 10.6-.4-.6-6.9z" fill="#bac1fb"/>
<path d="M346.1 306.7l-.5 7 10.5.4.2-7z" fill="#bcc3fb"/>
<path d="M248.2 356.7l-7 1.7 5.8 2.8 6.7-1.9z" fill="#4a34af"/>
<path d="M232.7 357.7l-2.3.6 5.4 2.9 2.2-.7z" fill="#422bab"/>
<path d="M355.4 307.1l-.2 6.9 10.6 0-.2-6.9z" fill="#bcc2fb"/>
<path d="M265.4 354.8l-6.6 2.8 6.4 2.6 6.3-3z" fill="#614fbc"/>
<path d="M338.3 312.3l-.8 6.5 10.4.7.5-6.6z" fill="#bec0fa"/>
<path d="M309.8 333.2l-3.2 7.6 9.1 1.7 2.7-7.8z" fill="#b3aeed"/>
<path d="M465.7 359.6l6.6 1.9 5.9-2.7-7-1.8z" fill="#4933af"/>
<path d="M378.6 318.2l.9 7.4 10.2-1-1.3-7.3z" fill="#bbbbf7"/>
<path d="M409.5 340.7l3.7 7.8 8.8-1.9-4.3-7.6z" fill="#aca4e6"/>
<path d="M393.3 329.2l1.9 7.4 9.5-1.4-2.3-7.3z" fill="#b7b3f2"/>
<path d="M257.6 356.4l-6.8 2.2 6.1 2.6 6.5-2.3z" fill="#533fb4"/>
<path d="M332.6 317.4l-1.3 7.3 10.3.9.8-7.3z" fill="#bebef8"/>
<path d="M366.4 313.1l.3 6.6 10.6-.5-.7-6.5z" fill="#bcbef9"/>
<path d="M447.6 357.6l6.3 3 6.5-2.6-6.6-2.9z" fill="#624fbc"/>
<path d="M428.3 351.8l5.8 5.4 7.9-2.2-6.3-5.3z" fill="#8b7ed2"/>
<path d="M347.5 312.9l-.5 6.5 10.7.3.1-6.5z" fill="#bec0fa"/>
<path d="M326.9 323.3l-1.5 6.7 9.9 1.1 1.1-6.8z" fill="#bdbbf5"/>
<path d="M356.9 313.2l-.1 6.5 10.8-.1-.3-6.5z" fill="#bebff9"/>
<path d="M381.7 324.5l1 6.7 10-1-1.4-6.7z" fill="#bbb9f5"/>
<path d="M321.3 328.5l-2.1 7.3 9.8 1.3 1.6-7.4z" fill="#bbb7f3"/>
<path d="M369.5 318.7l.4 7.4 10.5-.6-.9-7.4z" fill="#bdbdf7"/>
<path d="M397.3 335.4l2.4 7.8 9.4-1.5-2.9-7.7z" fill="#b5afed"/>
<path d="M341.5 318.2l-.8 7.4 10.5.5.4-7.4z" fill="#bfbff8"/>
<path d="M305.7 339.7l-4.1 7.7 9.1 1.7 3.4-7.8z" fill="#ada5e6"/>
<path d="M471.9 361l6.7 1.7 5.8-2.8-7-1.5z" fill="#442dac"/>
<path d="M415.3 347.1l4.9 7.4 8.5-1.9-5.5-7.2z" fill="#a197de"/>
<path d="M360.1 318.8l0 7.4 10.7-.2-.4-7.4z" fill="#bebef8"/>
<path d="M350.7 318.7l-.4 7.4 10.7.1 0-7.4z" fill="#bfbff8"/>
<path d="M287.4 350.6l-6.1 5.4 8.2 2.1 5.5-5.5z" fill="#8c80d2"/>
<path d="M454 359.8l6.3 2.5 6.4-2.6-6.6-2.3z" fill="#543fb4"/>
<path d="M297.8 345.6l-5.4 7.3 8.6 1.8 4.8-7.4z" fill="#a096de"/>
<path d="M335.5 324.2l-1.1 6.8 10.4.7.7-6.7z" fill="#bfbdf6"/>
<path d="M434.7 356.2l6.1 4.1 7.8-2.3-6.6-4z" fill="#7868c7"/>
<path d="M384.7 330.2l1.3 7.4 10.1-1.1-1.9-7.4z" fill="#bab6f2"/>
<path d="M317.5 334.6l-2.7 7.7 9.6 1.4 2.2-7.8z" fill="#b7b2ee"/>
<path d="M372.6 325.1l.5 6.7 10.5-.6-1-6.8z" fill="#bdbbf5"/>
<path d="M243.6 358.8l-6.9 1.6 5.9 2.7 6.7-1.7z" fill="#442eac"/>
<path d="M279 354.3l-6.5 4 7.9 2.3 6.1-4.2z" fill="#7868c7"/>
<path d="M477.9 362.3l2.1.7 5.9-2.8-2.2-.6z" fill="#422bab"/>
<path d="M401.7 342l3.1 7.9 9.4-1.6-3.8-7.8z" fill="#b0a8e7"/>
<path d="M329.7 329.6l-1.6 7.4 10.2.9 1.1-7.4z" fill="#bdbaf3"/>
<path d="M344.6 324.9l-.7 6.8 10.6.4.3-6.8z" fill="#bfbdf6"/>
<path d="M363.2 325.3l.2 6.8 10.6-.3-.5-6.8z" fill="#bebcf6"/>
<path d="M253.1 358.8l-6.8 1.9 6.4 2.6 6.4-2z" fill="#4b35af"/>
<path d="M270.8 356.8l-6.3 3 7.1 2.4 5.9-3.1z" fill="#6553bd"/>
<path d="M388.9 336.4l1.8 7.8 9.9-1.2-2.4-7.7z" fill="#b8b2ee"/>
<path d="M353.9 325.3l-.3 6.8 10.7 0-.2-6.8z" fill="#bfbdf6"/>
<path d="M237.4 360l-2.2.6 6 2.8 2.1-.7z" fill="#422cab"/>
<path d="M421.4 353.4l5.2 5.6 8.6-2-5.8-5.5z" fill="#9084d4"/>
<path d="M375.6 330.8l.9 7.4 10.4-.7-1.3-7.4z" fill="#bcb9f3"/>
<path d="M460.2 361.6l6.3 2.1 6.5-2.7-6.7-1.9z" fill="#4a35af"/>
<path d="M262.7 358.4l-6.5 2.4 6.8 2.5 6.1-2.5z" fill="#5641b5"/>
<path d="M441.5 359.4l5.9 3.1 7.2-2.4-6.3-3z" fill="#6553bd"/>
<path d="M313.2 341.1l-3.5 7.9 9.6 1.4 2.9-7.9z" fill="#b1aae8"/>
<path d="M338.5 330.4l-1.1 7.4 10.5.6.7-7.4z" fill="#bfbbf3"/>
<path d="M325.7 335.8l-2.2 7.8 10.1 1 1.6-7.8z" fill="#bab5ee"/>
<path d="M407.8 348.5l4.3 7.5 9.1-1.6-5-7.5z" fill="#a59bdf"/>
<path d="M366.4 331.2l.3 7.4 10.7-.4-.9-7.4z" fill="#bebaf3"/>
<path d="M304.9 347.1l-4.9 7.5 9.2 1.6 4.2-7.5z" fill="#a49bdf"/>
<path d="M347.7 331l-.7 7.4 10.8.3.1-7.5z" fill="#bfbbf3"/>
<path d="M357 331.2l-.1 7.5 10.7-.1-.3-7.5z" fill="#bfbbf3"/>
<path d="M294 352.3l-5.6 5.5 8.9 1.9 4.9-5.6z" fill="#9185d4"/>
<path d="M380 337.1l1.3 7.9 10.3-.9-1.8-7.8z" fill="#bab5ee"/>
<path d="M393.3 343.1l2.6 7.9 9.8-1.3-3.1-7.9z" fill="#b3ace8"/>
<path d="M427.9 357.8l5.6 4.3 8.4-2.1-6.1-4.1z" fill="#7c6dc9"/>
<path d="M466.4 363.1l6.4 1.8 6.4-2.7-6.7-1.7z" fill="#452eac"/>
<path d="M448 361.7l5.9 2.5 7.1-2.4-6.3-2.4z" fill="#5642b5"/>
<path d="M334.3 336.7l-1.6 7.8 10.4.8 1.1-7.9z" fill="#bcb7ef"/>
<path d="M285.3 356.1l-6 4.2 8.5 2 5.5-4.3z" fill="#7c6dc9"/>
<path d="M321.3 342.4l-2.9 7.9 10.1 1.2 2.2-8z" fill="#b4ade9"/>
<path d="M370.9 337.6l.8 7.9 10.6-.5-1.4-7.9z" fill="#bbb6ef"/>
<path d="M248.6 360.9l-6.6 1.7 6.5 2.7 6.4-1.9z" fill="#452fac"/>
<path d="M414 354.8l4.6 5.7 9.1-1.7-5.3-5.6z" fill="#9488d5"/>
<path d="M343.3 337.3l-1.1 7.9 10.7.4.4-7.9z" fill="#bdb8ef"/>
<path d="M276.8 358.6l-5.9 3.2 7.7 2.2 5.5-3.2z" fill="#6856be"/>
<path d="M472.1 364.5l2 .7 6.5-2.7-2.1-.7z" fill="#422cab"/>
<path d="M258.4 360.8l-6.4 2.1 7 2.5 6-2.2z" fill="#4c37b0"/>
<path d="M361.7 337.8l.1 7.9 10.8-.2-.8-7.9z" fill="#bcb7ef"/>
<path d="M399.8 349.6l3.6 7.7 9.6-1.4-4.3-7.6z" fill="#a89fe1"/>
<path d="M384.6 343.9l1.9 8 10.3-1-2.6-7.9z" fill="#b5aee9"/>
<path d="M352.4 337.7l-.4 7.9 10.7.1-.1-7.9z" fill="#bdb8ef"/>
<path d="M312.4 348.5l-4.1 7.6 9.6 1.3 3.5-7.6z" fill="#a89fe0"/>
<path d="M434.9 361.1l5.4 3.2 7.8-2.2-5.9-3.1z" fill="#6856be"/>
<path d="M268.5 360.3l-6.2 2.5 7.4 2.4 5.7-2.6z" fill="#5844b6"/>
<path d="M454.2 363.5l6 2.2 7-2.5-6.4-2.1z" fill="#4c36b0"/>
<path d="M242.7 362.2l-2.1.7 6.6 2.7 2-.8z" fill="#432cab"/>
<path d="M329.8 343.4l-2.2 8 10.4.8 1.6-8z" fill="#b6b0e9"/>
<path d="M301.2 353.9l-5 5.6 9.4 1.7 4.3-5.8z" fill="#9589d6"/>
<path d="M375.6 344.5l1.2 8 10.6-.7-1.9-8z" fill="#b7b0e9"/>
<path d="M420.6 359.3l5.1 4.4 8.9-1.9-5.6-4.3z" fill="#8071ca"/>
<path d="M338.7 344.1l-1.6 8.1 10.7.5.9-8.1z" fill="#b8b1ea"/>
<path d="M292.2 357.8l-5.5 4.3 9 1.8 4.9-4.4z" fill="#8071ca"/>
<path d="M391.5 350.6l2.8 7.7 10-1.1-3.5-7.7z" fill="#aba2e1"/>
<path d="M441.4 363.4l5.6 2.7 7.6-2.3-5.9-2.6z" fill="#5844b6"/>
<path d="M406 356l4 5.9 9.6-1.5-4.6-5.8z" fill="#988cd7"/>
<path d="M366.4 344.8l.5 8.1 10.8-.4-1.2-8.1z" fill="#b8b1ea"/>
<path d="M320.5 349.7l-3.5 7.6 10.1 1.1 2.7-7.7z" fill="#aba2e1"/>
<path d="M460.4 365l6 1.9 7-2.5-6.4-1.9z" fill="#452fac"/>
<path d="M347.8 344.6l-.9 8.1 10.9.2.2-8.1z" fill="#b8b2ea"/>
<path d="M357.1 344.8l-.2 8.1 10.9 0-.5-8.2z" fill="#b8b2ea"/>
<path d="M283.4 360.4l-5.5 3.3 8.3 2 5-3.4z" fill="#6b59bf"/>
<path d="M254.2 362.9l-6.3 1.9 7.1 2.5 6-2z" fill="#462fad"/>
<path d="M308.9 355.2l-4.3 5.8 9.8 1.5 3.6-6z" fill="#988dd7"/>
<path d="M427.7 362.6l4.9 3.4 8.4-2-5.4-3.3z" fill="#6b59c0"/>
<path d="M264.3 362.7l-6 2.2 7.5 2.4 5.7-2.3z" fill="#4d38b0"/>
<path d="M382.8 351.3l2 7.8 10.4-.9-2.8-7.7z" fill="#ada4e2"/>
<path d="M274.7 362.1l-5.7 2.7 7.9 2.1 5.3-2.7z" fill="#5946b7"/>
<path d="M465.8 366.5l1.9.7 7.1-2.5-2.1-.8z" fill="#432cab"/>
<path d="M328.9 350.6l-2.7 7.7 10.4.9 2-7.8z" fill="#ada4e2"/>
<path d="M447.6 365.2l5.7 2.3 7.5-2.3-6-2.2z" fill="#4d37b0"/>
<path d="M412.9 360.6l4.4 4.5 9.5-1.6-5.1-4.5z" fill="#8374cc"/>
<path d="M248.6 364.3l-2.1.8 7.2 2.5 1.9-.8z" fill="#432dab"/>
<path d="M397.7 357.1l3.3 5.9 10-1.2-4-5.9z" fill="#9a8fd8"/>
<path d="M299.5 359.3l-4.9 4.4 9.5 1.6 4.3-4.6z" fill="#8374cc"/>
<path d="M373.8 351.8l1.3 7.8 10.6-.6-2-7.8z" fill="#aea6e3"/>
<path d="M337.6 351.3l-1.9 7.8 10.6.6 1.2-7.9z" fill="#aea6e3"/>
<path d="M434.4 365l5.1 2.8 8.2-2.1-5.6-2.7z" fill="#5a46b7"/>
<path d="M317 356.4l-3.6 5.9 10.2 1.2 2.9-6z" fill="#9b90d8"/>
<path d="M364.8 352l.4 7.9 10.8-.3-1.2-7.9z" fill="#afa6e3"/>
<path d="M346.6 351.8l-1.2 7.8 10.8.3.4-7.9z" fill="#afa7e3"/>
<path d="M290.4 362l-5 3.4 8.8 1.8 5-3.6z" fill="#6d5cc0"/>
<path d="M355.7 352l-.4 7.9 10.8 0-.4-7.9z" fill="#afa7e3"/>
<path d="M453.9 366.7l5.7 2.1 7.5-2.4-6-1.9z" fill="#4630ad"/>
<path d="M419.7 363.8l4.8 3.7 8.9-1.8-4.9-3.5z" fill="#6d5cc1"/>
<path d="M389 357.9l2.6 6 10.3-1-3.2-6z" fill="#9c91d9"/>
<path d="M260.3 364.8l-6 2 7.6 2.4 5.7-2.1z" fill="#4630ad"/>
<path d="M404.8 361.7l3.7 4.6 9.9-1.3-4.4-4.6z" fill="#8577cd"/>
<path d="M281.5 363.8l-5.3 2.7 8.4 2.1 4.9-2.9z" fill="#5b48b7"/>
<path d="M270.8 364.5l-5.7 2.3 8 2.2 5.3-2.4z" fill="#4e39b1"/>
<path d="M307.4 360.6l-4.3 4.6 9.9 1.3 3.6-4.7z" fill="#8577cd"/>
<path d="M325.6 357.4l-2.9 6 10.5.9 2.1-6.1z" fill="#9d92d9"/>
<path d="M440.7 366.9l5.2 2.4 8.1-2.2-5.7-2.3z" fill="#4e39b1"/>
<path d="M458.9 368.3l1.9.9 7.6-2.4-2-.8z" fill="#432dab"/>
<path d="M380.1 358.5l1.8 6.1 10.6-.8-2.5-6z" fill="#9e93d9"/>
<path d="M255 366.3l-1.9.8 7.7 2.4 1.8-.8z" fill="#442dab"/>
<path d="M427 366.4l4.6 2.9 8.6-1.9-5.1-2.8z" fill="#5c48b8"/>
<path d="M334.4 358.1l-2.2 6.1 10.7.6 1.4-6.1z" fill="#9e93d9"/>
<path d="M297.9 363.4l-4.4 3.5 9.2 1.7 4.3-3.8z" fill="#6f5ec1"/>
<path d="M396.3 362.6l3.1 4.8 10.2-1.2-3.8-4.7z" fill="#877ace"/>
<path d="M371 358.9l1 6.1 10.8-.5-1.8-6.1z" fill="#9f94da"/>
<path d="M411.7 365l4.2 3.8 9.8-1.5-4.8-3.7z" fill="#705fc2"/>
<path d="M315.6 361.7l-3.7 4.7 10.3 1.1 2.9-4.8z" fill="#8779cd"/>
<path d="M343.4 358.7l-1.4 6.1 10.9.3.6-6.1z" fill="#9f94da"/>
<path d="M361.8 359l.2 6.2 10.9-.2-1-6.2z" fill="#9f95da"/>
<path d="M446.9 368.4l5.3 2.2 8.1-2.2-5.7-2.1z" fill="#4730ad"/>
<path d="M352.6 359l-.6 6.1 10.9.1-.2-6.2z" fill="#9f95da"/>
<path d="M288.7 365.3l-4.8 2.9 8.9 1.8 4.3-3z" fill="#5d49b8"/>
<path d="M277.7 366.2l-5.3 2.4 8.5 2 4.9-2.5z" fill="#4f3ab1"/>
<path d="M266.9 366.6l-5.7 2.1 8.2 2.2 5.2-2.2z" fill="#4731ad"/>
<path d="M433.2 368.3l4.8 2.6 8.6-2-5.2-2.5z" fill="#4f3ab1"/>
<path d="M387.6 363.3l2.3 4.9 10.5-.9-3.1-4.8z" fill="#897bce"/>
<path d="M324.1 362.6l-2.9 4.8 10.5.9 2.2-4.9z" fill="#897bce"/>
<path d="M305.9 364.7l-4.4 3.7 10.1 1.3 3.7-3.8z" fill="#7160c2"/>
<path d="M419.1 367.6l4.1 3.1 9.1-1.8-4.6-2.9z" fill="#5d4ab8"/>
<path d="M451.6 370.1l1.7.9 8.1-2.3-1.8-.8z" fill="#442dab"/>
<path d="M403.5 366l3.5 3.9 10.1-1.3-4.2-3.7z" fill="#7161c2"/>
<path d="M261.9 368.2l-1.8.9 8.2 2.2 1.7-.9z" fill="#442dac"/>
<path d="M378.6 363.9l1.6 4.8 10.7-.6-2.4-4.8z" fill="#8a7dcf"/>
<path d="M333 363.3l-2.3 4.9 10.7.6 1.5-4.9z" fill="#8a7dcf"/>
<path d="M296.4 366.7l-4.4 3 9.3 1.6 3.8-3.1z" fill="#5e4bb9"/>
<path d="M439.5 369.9l4.9 2.3 8.5-2-5.3-2.2z" fill="#4731ad"/>
<path d="M369.5 364.2l.8 4.9 10.8-.4-1.6-4.9z" fill="#8b7ecf"/>
<path d="M314.1 365.7l-3.6 3.9 10.3 1.1 3-4z" fill="#7362c3"/>
<path d="M342 363.9l-1.5 4.9 10.8.3.7-4.9z" fill="#8b7dcf"/>
<path d="M285 367.7l-4.8 2.5 8.9 1.9 4.4-2.6z" fill="#503bb2"/>
<path d="M394.9 366.9l2.9 3.9 10.3-1-3.5-3.9z" fill="#7362c3"/>
<path d="M360.3 364.3l.1 4.9 10.8-.1-.8-4.9z" fill="#8b7ecf"/>
<path d="M351.1 364.2l-.7 4.9 10.9.1-.1-4.9z" fill="#8b7ecf"/>
<path d="M273.9 368.3l-5.2 2.2 8.6 2 4.8-2.3z" fill="#4731ad"/>
<path d="M425.4 369.7l4.3 2.6 9-1.8-4.7-2.6z" fill="#503bb2"/>
<path d="M410.5 368.6l4 3.3 9.5-1.6-4.1-3z" fill="#5e4bb9"/>
<path d="M322.7 366.6l-3 4 10.6.8 2.2-4z" fill="#7463c3"/>
<path d="M443.8 371.7l1.6.9 8.6-2.1-1.7-.8z" fill="#442dac"/>
<path d="M304.4 367.9l-3.9 3.1 9.7 1.4 3.7-3.3z" fill="#5f4cb9"/>
<path d="M386.1 367.5l2.2 4 10.5-.8-2.9-3.9z" fill="#7464c3"/>
<path d="M269.3 370l-1.7.9 8.7 2 1.6-.9z" fill="#442eac"/>
<path d="M292.8 369.1l-4.4 2.6 9.3 1.7 3.9-2.7z" fill="#513cb2"/>
<path d="M402.1 369.5l3.4 3.4 9.8-1.3-3.6-3.2z" fill="#5f4cb9"/>
<path d="M431.7 371.3l4.5 2.4 8.9-1.9-4.9-2.3z" fill="#4831ad"/>
<path d="M331.6 367.3l-2.3 4.1 10.6.6 1.6-4.1z" fill="#7564c4"/>
<path d="M377.1 368l1.4 4 10.7-.5-2.1-4z" fill="#7565c4"/>
<path d="M417.3 370.8l3.8 2.8 9.4-1.6-4.3-2.7z" fill="#513cb2"/>
<path d="M281.4 369.8l-4.9 2.3 9.1 1.9 4.3-2.4z" fill="#4832ad"/>
<path d="M340.6 367.9l-1.6 4 10.8.4.8-4.1z" fill="#7565c4"/>
<path d="M312.7 368.9l-3.7 3.4 10.4 1 3-3.4z" fill="#604dba"/>
<path d="M368 368.2l.7 4.1 10.8-.3-1.5-4.1z" fill="#7565c4"/>
<path d="M349.7 368.2l-.8 4.1 10.8.1 0-4.1z" fill="#7665c4"/>
<path d="M358.8 368.3l0 4.1 10.8-.1-.7-4.1z" fill="#7665c4"/>
<path d="M393.4 370.3l2.7 3.4 10.5-.9-3.4-3.4z" fill="#604dba"/>
<path d="M435.6 373.2l1.5.9 9-1.9-1.6-.9z" fill="#442eac"/>
<path d="M300.9 370.3l-3.9 2.8 9.7 1.4 3.4-2.8z" fill="#523db2"/>
<path d="M277.2 371.6l-1.6.9 9.1 1.9 1.5-1z" fill="#452eac"/>
<path d="M321.3 369.8l-3 3.4 10.5.9 2.4-3.5z" fill="#614eba"/>
<path d="M408.8 371.8l3.3 2.9 9.7-1.4-3.8-2.8z" fill="#513db2"/>
<path d="M423.6 372.5l4 2.5 9.3-1.7-4.4-2.4z" fill="#4832ae"/>
<path d="M384.6 370.9l2 3.5 10.6-.8-2.7-3.4z" fill="#614eba"/>
<path d="M289.2 371.2l-4.4 2.4 9.4 1.7 3.9-2.5z" fill="#4832ae"/>
<path d="M330.1 370.5l-2.3 3.5 10.7.6 1.6-3.5z" fill="#614fba"/>
<path d="M375.6 371.3l1.3 3.5 10.7-.5-2-3.5z" fill="#624fba"/>
<path d="M309.3 371.4l-3.4 2.8 10 1.3 3.2-3.1z" fill="#523db3"/>
<path d="M399.7 372.5l3.1 3.1 10.1-1.2-3.3-2.9z" fill="#523db2"/>
<path d="M339.1 371l-1.6 3.6 10.7.3.9-3.5z" fill="#624fba"/>
<path d="M427 374.5l1.4 1 9.4-1.8-1.5-.9z" fill="#452eac"/>
<path d="M366.5 371.5l.6 3.5 10.7-.2-1.2-3.6z" fill="#624fba"/>
<path d="M348.2 371.4l-.9 3.5 10.8.2.2-3.6z" fill="#624fba"/>
<path d="M415.2 373.6l3.5 2.6 9.7-1.5-4-2.5z" fill="#4832ae"/>
<path d="M357.4 371.5l-.2 3.6 10.8-.1-.6-3.5z" fill="#624fba"/>
<path d="M285.4 373l-1.5 1 9.5 1.7 1.4-1z" fill="#452eac"/>
<path d="M297.4 372.4l-3.9 2.5 9.7 1.5 3.4-2.6z" fill="#4933ae"/>
<path d="M318 372.3l-3.3 3.1 10.7.8 2.5-3.1z" fill="#533eb3"/>
<path d="M390.9 373.2l2.4 3.1 10.7-.8-3.1-3.1z" fill="#533eb3"/>
<path d="M326.8 373l-2.5 3.1 10.8.7 1.8-3.2z" fill="#533eb3"/>
<path d="M418.2 375.6l1.2 1.1 9.8-1.6-1.4-1z" fill="#452fac"/>
<path d="M406.5 374.5l3 2.7 10-1.3-3.5-2.6z" fill="#4933ae"/>
<path d="M381.9 373.7l1.7 3.2 10.8-.6-2.5-3.2z" fill="#533eb3"/>
<path d="M305.8 373.5l-3.4 2.6 10.1 1.3 3.3-2.8z" fill="#4933ae"/>
<path d="M294 374.3l-1.3 1.1 9.8 1.5 1.2-1.1z" fill="#452fac"/>
<path d="M335.9 373.6l-1.9 3.2 10.9.4 1.1-3.2z" fill="#533fb3"/>
<path d="M372.8 374l1 3.2 10.8-.4-1.7-3.2z" fill="#533fb3"/>
<path d="M345.1 374l-1.2 3.2 10.9.2.4-3.2z" fill="#533fb3"/>
<path d="M363.5 374.2l.4 3.2 10.8-.2-1-3.2z" fill="#533fb3"/>
<path d="M354.3 374.2l-.4 3.2 10.9 0-.3-3.2z" fill="#533fb3"/>
<path d="M397.2 375.2l2.8 2.8 10.3-1.1-3-2.6z" fill="#4933ae"/>
<path d="M314.6 374.4l-2.9 2.7 10.3 1.1 2.7-2.9z" fill="#4933ae"/>
<path d="M409 376.6l1.1 1.1 10.1-1.4-1.3-1z" fill="#452fac"/>
<path d="M303 375.5l-1.3 1.1 10.2 1.2 1.1-1.1z" fill="#452fac"/>
<path d="M388.2 375.7l2.2 3 10.8-.7-2.9-2.9z" fill="#4933ae"/>
<path d="M323.5 375.2l-2.7 2.9 10.9.7 2-3z" fill="#4a34ae"/>
<path d="M399.2 377.2l1.3 1.3 10.4-1.1-1.1-1.1z" fill="#452fac"/>
<path d="M312.2 376.5l-1.1 1.1 10.4 1 1.3-1.3z" fill="#462fac"/>
<path d="M379.1 376.2l1.4 3 10.9-.6-2.1-2.9z" fill="#4a34ae"/>
<path d="M332.6 375.8l-2 3 10.9.4 1.4-3z" fill="#4a34ae"/>
<path d="M369.8 376.4l.8 3.1 10.9-.4-1.5-3z" fill="#4a34ae"/>
<path d="M341.9 376.2l-1.4 3 11 .3.6-3z" fill="#4a34ae"/>
<path d="M360.5 376.5l.1 3.1 10.9-.2-.8-3z" fill="#4a34ae"/>
<path d="M351.2 376.4l-.7 3.1 11 .1-.1-3.1z" fill="#4a34ae"/>
<path d="M389.7 377.8l1 1.4 11-.8-1.3-1.3z" fill="#462fac"/>
<path d="M321.6 377.3l-1.3 1.3 11 .7 1-1.4z" fill="#462fac"/>
<path d="M380.1 378.3l.7 1.3 11-.5-1-1.3z" fill="#462fac"/>
<path d="M331.2 377.9l-1 1.3 11.1.5.6-1.3z" fill="#462fac"/>
<path d="M370.4 378.6l.3 1.3 11.1-.3-.7-1.3z" fill="#462fac"/>
<path d="M340.9 378.3l-.6 1.4 11.1.3.3-1.4z" fill="#4630ac"/>
<path d="M360.6 378.7l0 1.3 11.1-.1-.4-1.4z" fill="#4630ac"/>
<path d="M350.7 378.6l-.3 1.4 11.1 0 0-1.3z" fill="#4630ac"/></g>
<g stroke-linecap="butt"><line x1="114.7" y1="359.5" x2="114.7" y2="91.0" stroke="#3a3a3a" stroke-width="1.40"/>
<line x1="114.7" y1="359.5" x2="427.6" y2="406.7" stroke="#262626" stroke-width="0.90"/>
<line x1="427.6" y1="406.7" x2="605.4" y2="323.7" stroke="#262626" stroke-width="0.90"/>
<line x1="114.7" y1="359.5" x2="106.5" y2="363.3" stroke="#262626" stroke-width="1.00"/>
<line x1="271.2" y1="383.1" x2="263.0" y2="386.9" stroke="#262626" stroke-width="1.00"/>
<line x1="427.6" y1="406.7" x2="419.4" y2="410.5" stroke="#262626" stroke-width="1.00"/>
<line x1="427.6" y1="406.7" x2="435.5" y2="407.9" stroke="#262626" stroke-width="1.00"/>
<line x1="516.5" y1="365.2" x2="524.4" y2="366.4" stroke="#262626" stroke-width="1.00"/>
<line x1="605.4" y1="323.7" x2="613.3" y2="324.9" stroke="#262626" stroke-width="1.00"/>
<line x1="114.7" y1="303.9" x2="106.7" y2="303.9" stroke="#404040" stroke-width="1.00"/>
<line x1="114.7" y1="248.3" x2="106.7" y2="248.3" stroke="#404040" stroke-width="1.00"/>
<line x1="114.7" y1="192.7" x2="106.7" y2="192.7" stroke="#404040" stroke-width="1.00"/>
<line x1="114.7" y1="137.1" x2="106.7" y2="137.1" stroke="#404040" stroke-width="1.00"/></g>
<g><line x1="798.9" y1="274.8" x2="976.7" y2="196.7" stroke="#e0e0e0" stroke-width="1.10"/>
<line x1="976.7" y1="196.7" x2="1281.5" y2="241.9" stroke="#e0e0e0" stroke-width="1.10"/>
<line x1="798.9" y1="194.6" x2="976.7" y2="116.5" stroke="#e0e0e0" stroke-width="1.10"/>
<line x1="976.7" y1="116.5" x2="1281.5" y2="161.7" stroke="#e0e0e0" stroke-width="1.10"/>
<line x1="798.9" y1="114.4" x2="976.7" y2="36.3" stroke="#e0e0e0" stroke-width="1.10"/>
<line x1="976.7" y1="36.3" x2="1281.5" y2="81.5" stroke="#e0e0e0" stroke-width="1.10"/>
<line x1="887.8" y1="316.0" x2="887.8" y2="67.6" stroke="#e0e0e0" stroke-width="1.10"/>
<line x1="976.7" y1="276.9" x2="976.7" y2="28.5" stroke="#e0e0e0" stroke-width="1.10"/>
<line x1="1129.1" y1="299.5" x2="1129.1" y2="51.1" stroke="#e0e0e0" stroke-width="1.10"/>
<line x1="1281.5" y1="322.1" x2="1281.5" y2="73.7" stroke="#e0e0e0" stroke-width="1.10"/></g>
<g><path d="M798.9 355.0 L1103.7 400.2 L1281.5 322.1 L976.7 276.9 Z" fill="#3d26a7"/>
<path d="M966.9 308.1l-.9-.7-8.9 1.8.9.7z" fill="#3e26a8"/>
<path d="M1123.4 309.9l.9-.6-8.8-1.8-.9.6z" fill="#3e26a8"/>
<path d="M970.6 309.6l-4.3-2.1-8.9 1.8 4.7 2z" fill="#3e26a8"/>
<path d="M1119.2 311.3l4.8-1.9-8.8-1.8-4.4 2z" fill="#3e26a8"/>
<path d="M958.7 309.4l-.9-.6-8.5 2 1 .6z" fill="#3e26a8"/>
<path d="M1131.1 311.5l1-.6-8.5-2-.9.6z" fill="#3e26a8"/>
<path d="M962.8 310.9l-4.7-2-8.5 2 5.2 1.8z" fill="#3e26a8"/>
<path d="M1126.5 312.8l5.3-1.8-8.5-2-4.8 1.9z" fill="#3e26a8"/>
<path d="M973.4 311.1l-4.4-1.9-8.8 1.8 4.8 1.9z" fill="#3e26a9"/>
<path d="M951 311l-1-.6-8.1 2.1 1.1.6z" fill="#3e26a8"/>
<path d="M1138.3 313.1l1.1-.5-8-2.2-1 .6z" fill="#3e26a8"/>
<path d="M1121.2 313.9l5.2-1.8-8.6-1.9-4.7 1.8z" fill="#3e26a9"/>
<path d="M955.5 312.3l-5.2-1.8-8 2.1 5.5 1.7z" fill="#3e26a8"/>
<path d="M1133.4 314.4l5.6-1.7-7.9-2.2-5.3 1.8z" fill="#3e26a8"/>
<path d="M965.7 312.4l-4.8-1.8-8.5 2 5.3 1.8z" fill="#3e26a9"/>
<path d="M943.6 312.6l-1-.5-7.5 2.3 1 .5z" fill="#3e26a8"/>
<path d="M1145.1 314.9l1.1-.5-7.5-2.3-1 .6z" fill="#3e26a8"/>
<path d="M971.8 313.3l-4.7-1.7-8.5 1.9 5.2 1.7z" fill="#3e27a9"/>
<path d="M1117.4 315.2l5.2-1.6-8.4-2-4.8 1.7z" fill="#3e27a9"/>
<path d="M1128.1 315.5l5.6-1.7-8-2.1-5.2 1.8z" fill="#3e26a9"/>
<path d="M948.5 313.9l-5.5-1.7-7.6 2.2 5.9 1.7z" fill="#3e26a8"/>
<path d="M1139.9 316.1l5.9-1.6-7.5-2.3-5.6 1.7z" fill="#3e26a8"/>
<path d="M958.4 313.9l-5.3-1.7-7.9 2.2 5.7 1.6z" fill="#3e26a9"/>
<path d="M964.5 314.7l-5.2-1.6-8 2.2 5.6 1.5z" fill="#3e27a9"/>
<path d="M1124.2 316.8l5.7-1.5-7.9-2.2-5.3 1.7z" fill="#3e27a9"/>
<path d="M936.8 314.4l-1.1-.5-7 2.4 1.1.5z" fill="#3e26a8"/>
<path d="M1151.4 316.9l1.1-.5-7-2.5-1 .6z" fill="#3e26a8"/>
<path d="M1134.6 317.2l5.9-1.5-7.5-2.3-5.6 1.6z" fill="#3e26a9"/>
<path d="M951.5 315.5l-5.6-1.6-7.4 2.3 6 1.6z" fill="#3e26a9"/>
<path d="M942 315.6l-5.9-1.6-7 2.4 6.2 1.5z" fill="#3e26a8"/>
<path d="M1145.8 317.9l6.3-1.5-7-2.4-5.9 1.6z" fill="#3e26a8"/>
<path d="M1118.9 317.5l5.7-1.2-8-2.2-5.2 1.3z" fill="#3e27aa"/>
<path d="M957.6 316.3l-5.6-1.5-7.4 2.3 6 1.4z" fill="#3e27a9"/>
<path d="M1130.5 318.5l6.1-1.3-7.4-2.4-5.6 1.5z" fill="#3e27a9"/>
<path d="M967.4 315.9l-5.3-1.3-7.8 2.2 5.7 1.2z" fill="#3e27aa"/>
<path d="M1140.5 319l6.3-1.4-6.9-2.4-6 1.5z" fill="#3e26a9"/>
<path d="M930.4 316.3l-1.1-.5-6.4 2.6 1.1.4z" fill="#3e26a8"/>
<path d="M1157.1 318.9l1.1-.5-6.4-2.5-1.1.5z" fill="#3e26a8"/>
<path d="M945.2 317.3l-6.1-1.5-6.8 2.4 6.4 1.4z" fill="#3e26a9"/>
<path d="M936 317.4l-6.3-1.5-6.4 2.5 6.5 1.4z" fill="#3e26a8"/>
<path d="M1151.2 319.9l6.6-1.4-6.4-2.6-6.2 1.5z" fill="#3e26a8"/>
<path d="M1125.3 319.2l6-1.1-7.4-2.3-5.6 1.2z" fill="#3e27aa"/>
<path d="M960.7 317.5l-5.8-1.2-7.2 2.4 6.1 1.1z" fill="#3e27aa"/>
<path d="M951.2 318l-6-1.4-6.8 2.5 6.3 1.2z" fill="#3e27a9"/>
<path d="M1136.3 320.4l6.4-1.3-6.8-2.4-6 1.3z" fill="#3e27a9"/>
<path d="M1145.9 321l6.6-1.3-6.3-2.6-6.3 1.4z" fill="#3e26a9"/>
<path d="M1120 319.3l6-.4-7.4-2.4-5.6.6z" fill="#3e27ab"/>
<path d="M924.6 318.3l-1.1-.5-5.9 2.7 1.2.5z" fill="#3e26a8"/>
<path d="M1162.2 321l1.2-.4-5.8-2.7-1.1.5z" fill="#3e26a8"/>
<path d="M939.3 319.1l-6.4-1.4-6.2 2.7 6.7 1.2z" fill="#3e26a9"/>
<path d="M930.5 319.3l-6.6-1.4-5.8 2.7 6.8 1.2z" fill="#3e26a8"/>
<path d="M1156.1 321.9l6.9-1.2-5.8-2.7-6.6 1.3z" fill="#3e26a8"/>
<path d="M1131 321.1l6.4-1-6.7-2.5-6.1 1.1z" fill="#3e27aa"/>
<path d="M963.7 318.1l-5.9-.5-7 2.5 6.3.4z" fill="#3e27ab"/>
<path d="M954.4 319.2l-6.1-1-6.6 2.6 6.5.9z" fill="#3e27aa"/>
<path d="M945.4 319.8l-6.4-1.2-6.2 2.6 6.7 1.1z" fill="#3e27a9"/>
<path d="M1141.5 322.3l6.7-1.1-6.1-2.6-6.4 1.2z" fill="#3e27a9"/>
<path d="M1150.7 323l7-1.1-5.8-2.7-6.6 1.2z" fill="#3e26a9"/>
<path d="M1125.7 321.2l6.5-.3-6.8-2.6-6 .5z" fill="#3e27ab"/>
<path d="M919.4 320.4l-1.2-.4-5.3 2.8 1.3.4z" fill="#3e26a8"/>
<path d="M1166.8 323.3l1.2-.5-5.2-2.8-1.2.5z" fill="#3e26a8"/>
<path d="M934 321l-6.7-1.2-5.6 2.8 7 1.1z" fill="#3e26a9"/>
<path d="M1136.2 323l6.7-.7-6.1-2.7-6.4.9z" fill="#3e27aa"/>
<path d="M925.5 321.3l-6.8-1.3-5.3 2.8 7.1 1.1z" fill="#3e26a8"/>
<path d="M1160.4 324l7.1-1.1-5.1-2.8-6.9 1.2z" fill="#3e26a8"/>
<path d="M957.7 319.9l-6.3-.3-6.4 2.6 6.7.2z" fill="#3e27ab"/>
<path d="M948.8 321.1l-6.5-.9-6 2.7 6.9.8z" fill="#3e27aa"/>
<path d="M940.1 321.7l-6.7-1.1-5.5 2.8 6.9.9z" fill="#3e27a9"/>
<path d="M1121.4 320.6l6.6.9-6.5-2.7-6.2-.7z" fill="#3f28ae"/>
<path d="M1146.1 324.4l7-1-5.5-2.7-6.7 1.1z" fill="#3e27a9"/>
<path d="M1130.8 323.2l6.8-.2-6-2.7-6.5.3z" fill="#3e27ab"/>
<path d="M1155 325.2l7.1-1-5-2.9-7 1.2z" fill="#3e26a9"/>
<path d="M963.7 318.6l-6.3.8-6.3 2.7 6.7-.9z" fill="#3f28ae"/>
<path d="M914.7 322.6l-1.2-.4-4.6 2.9 1.2.4z" fill="#3e26a8"/>
<path d="M1170.7 325.5l1.3-.3-4.6-2.9-1.2.4z" fill="#3e26a8"/>
<path d="M929.3 323.1l-7-1.1-4.9 2.9 7.2.9z" fill="#3e26a9"/>
<path d="M1140.6 325.1l7.1-.6-5.4-2.8-6.7.8z" fill="#3e27aa"/>
<path d="M921.1 323.3l-7.1-1-4.6 2.9 7.3.9z" fill="#3e26a8"/>
<path d="M1164.2 326.2l7.3-1-4.5-2.9-7.1 1.1z" fill="#3e26a8"/>
<path d="M952.3 321.8l-6.7-.1-5.6 2.8 7.1 0z" fill="#3e27ab"/>
<path d="M1065 234.6l1 6-10-1-.6-5.9z" fill="#8bd6e4"/>
<path d="M943.8 323.1l-6.9-.7-5.2 2.8 7.2.6z" fill="#3e27aa"/>
<path d="M1126.2 322.6l6.9 1-5.7-2.8-6.6-.9z" fill="#3f28ae"/>
<path d="M935.4 323.7l-7-.9-4.8 2.9 7.2.8z" fill="#3e27a9"/>
<path d="M1150 326.5l7.3-.8-4.8-2.8-7 .9z" fill="#3e27a9"/>
<path d="M1135.2 325.3l7.1 0-5.2-2.9-6.9.2z" fill="#3e27ab"/>
<path d="M1019.6 234.2l-.8 5.9-9.6 1.3 1.1-6z" fill="#83d3e2"/>
<path d="M958.4 320.5l-6.7 1-5.5 2.8 7-1.1z" fill="#3f28ae"/>
<path d="M1158.5 327.4l7.4-.9-4.3-2.9-7.2.9z" fill="#3e26a9"/>
<path d="M1029.2 239.8l-1.9-6.2-10.6.9 3.3 6.1z" fill="#77d1db"/>
<path d="M1073.1 235.8l1.2 6.1-9.3-1.4-.9-6z" fill="#84d4e2"/>
<path d="M1063.5 241l3.8-6.1-10.4-1.1-2.5 6.2z" fill="#75d0da"/>
<path d="M910.7 324.8l-1.3-.3-3.9 3 1.3.3z" fill="#3e26a8"/>
<path d="M1174 327.9l1.3-.3-3.9-3-1.2.3z" fill="#3e26a8"/>
<path d="M1144.4 327.3l7.3-.5-4.6-2.9-7 .6z" fill="#3e27aa"/>
<path d="M925.2 325.2l-7.2-.9-4.2 3 7.4.7z" fill="#3e26a9"/>
<path d="M917.2 325.5l-7.3-1-3.9 3 7.5.8z" fill="#3e26a8"/>
<path d="M1167.3 328.4l7.5-.8-3.9-3-7.3.9z" fill="#3e26a8"/>
<path d="M1011.3 235.2l-1.1 6-8.8 1.7 1.4-6.1z" fill="#7bd1e0"/>
<path d="M1020.9 240.5l-3.3-6.1-10 1.4 4.6 5.9z" fill="#73cfda"/>
<path d="M947.6 323.9l-7 0-4.8 2.9 7.3-.1z" fill="#3e27ab"/>
<path d="M939.4 325.1l-7.1-.5-4.4 3 7.3.3z" fill="#3e27aa"/>
<path d="M1130.2 324.7l7.3 1.2-4.9-2.9-6.9-1.1z" fill="#3f28ae"/>
<path d="M1070.9 242.2l5-5.8-9.6-1.6-3.8 6z" fill="#70cfd9"/>
<path d="M1064.8 246.2l.9-5.8-9.7-1.2-.6 5.9z" fill="#90d7e6"/>
<path d="M1080.3 237.4l1.5 6.1-8.4-1.8-1.3-6z" fill="#76cfdf"/>
<path d="M931.4 325.8l-7.3-.7-4.1 2.9 7.5.7z" fill="#3e27a9"/>
<path d="M1153.3 328.7l7.4-.6-4-3-7.3.8z" fill="#3e27a9"/>
<path d="M962 318.2l-6.5 3.9-5.4 2.2 6.8-4.1z" fill="#402ab4"/>
<path d="M1025.4 251l-.5-6.7-9.8 1.1.9 6.8z" fill="#8cd4e8"/>
<path d="M1138.8 327.4l7.4.3-4.4-3-7.2-.1z" fill="#3e27ab"/>
<path d="M953.7 322.5l-7 1.2-4.7 3 7.4-1.4z" fill="#3f28ae"/>
<path d="M1161.5 329.6l7.5-.6-3.6-3.1-7.4.8z" fill="#3e26a9"/>
<path d="M1019.6 245.7l-.8-5.9-9.2 1.5 1.1 5.8z" fill="#85d3e4"/>
<path d="M1013.2 241.5l-4.5-5.8-9 1.8 5.7 5.7z" fill="#6ccdd8"/>
<path d="M1003.8 236.6l-1.5 6.1-7.8 2 1.7-6.2z" fill="#6eccdd"/>
<path d="M1124.6 321.8l7.3 3.3-4.6-3-7-3.2z" fill="#402ab4"/>
<path d="M1022.4 256.5l-.6-6-9.4 1.4.8 5.9z" fill="#90d0ec"/>
<path d="M1067.5 257.9l.8-6-9.3-1.4-.6 6z" fill="#98d3ee"/>
<path d="M1069.9 253.1l1.1-6.7-9.1-1.5-.7 6.7z" fill="#8fd5e8"/>
<path d="M1072.5 247.7l1.1-5.8-8.8-1.7-.8 5.9z" fill="#88d4e5"/>
<path d="M1147.5 329.5l7.5-.3-3.8-3-7.3.4z" fill="#3e27aa"/>
<path d="M907.7 327l-1.7-.1-3.2 3.1 1.3.2z" fill="#3e26a8"/>
<path d="M1077.4 243.8l6-5.6-8.5-2-5 5.8z" fill="#67ccd6"/>
<path d="M921.7 327.4l-7.4-.8-3.5 3.1 7.6.6z" fill="#3e26a9"/>
<path d="M1176.6 330.3l1.8-.1-3.6-3.3-1.7.2z" fill="#3e26a8"/>
<path d="M1016.9 252l-.9-6.7-8.7 1.7 1.1 6.6z" fill="#86d1e6"/>
<path d="M914.4 327.5l-7.9-.6-3.2 3.1 7.6.6z" fill="#3e26a8"/>
<path d="M1086.4 239.2l1.8 6.2-7.4-2.1-1.5-6.2z" fill="#5fc7d9"/>
<path d="M1169.8 330.7l7.6-.6-3.1-3.1-8 .6z" fill="#3e26a8"/>
<path d="M943.6 326l-7.3.2-3.9 3 7.5-.3z" fill="#3e27ab"/>
<path d="M1019.4 262.4l-.7-6.4-8.9 1.7.9 6.2z" fill="#94cbf0"/>
<path d="M1133.4 326.9l7.5 1.4-3.9-3-7.3-1.3z" fill="#3f28ae"/>
<path d="M935.8 327.3l-7.4-.4-3.6 3.1 7.5.2z" fill="#3e27aa"/>
<path d="M1011.6 247l-1.1-5.9-8 1.9 1.3 5.8z" fill="#7dd0e2"/>
<path d="M928 328l-7.5-.6-3.3 3.1 7.6.4z" fill="#3e27a9"/>
<path d="M1155.9 331l7.6-.4-3.3-3.1-7.4.5z" fill="#3e27a9"/>
<path d="M1072.3 264.5l1-6.2-8.5-1.8-.7 6.3z" fill="#96ccf0"/>
<path d="M957.7 320.3l-7.2 3.3-4 3.1 7.5-3.5z" fill="#402ab4"/>
<path d="M1006.4 242.9l-5.7-5.6-7.7 2.3 6.6 5.3z" fill="#62cad5"/>
<path d="M1014.1 257.7l-.8-6-8.2 1.9 1.1 5.9z" fill="#88cceb"/>
<path d="M1074.5 259.5l1-5.9-8.1-1.9-.8 6z" fill="#8acdeb"/>
<path d="M1141.6 329.7l7.6.4-3.5-3.1-7.4-.2z" fill="#3e27ab"/>
<path d="M1076.6 254.8l1.3-6.6-7.8-2-1.1 6.7z" fill="#80cfe5"/>
<path d="M949.8 324.6l-7.3 1.4-3.7 3.1 7.5-1.6z" fill="#3f28ae"/>
<path d="M1078.9 249.5l1.4-5.8-7.6-2-1.1 5.8z" fill="#78cee1"/>
<path d="M997.3 238.2l-1.8 6.2-6.6 2.4 2-6.3z" fill="#54c3d7"/>
<path d="M1163.7 331.9l8.1-.3-3.2-3.3-8 .5z" fill="#3e26a9"/>
<path d="M1082.6 245.6l6.9-5.2-7.1-2.5-6 5.5z" fill="#5ac7d3"/>
<path d="M1009.3 253.4l-1.2-6.6-7.4 2.1 1.4 6.6z" fill="#7bcde4"/>
<path d="M962.6 315.4l-5.4 5.7-4.4 2.5 5.7-5.9z" fill="#412ebe"/>
<path d="M1127.6 324l7.6 3.6-3.6-3.2-7.4-3.4z" fill="#402ab4"/>
<path d="M1011.6 263.7l-.9-6.3-7.6 2.2 1.1 6.2z" fill="#8ac6ef"/>
<path d="M1091.3 241.3l2 6.4-6.1-2.6-1.9-6.3z" fill="#3fbcd2"/>
<path d="M1149.8 331.8l7.7-.1-2.9-3.1-7.6.2z" fill="#3e27aa"/>
<path d="M919.2 329.5l-7.9-.5-3.1 3.4 8.1.3z" fill="#3e26a9"/>
<path d="M904.8 329.4l-1.6-.1-2.8 3.3 1.6.1z" fill="#3e26a8"/>
<path d="M1178.6 332.8l1.6-.1-2.7-3.3-1.6.1z" fill="#3e26a8"/>
<path d="M911.7 329.8l-8-.5-2.8 3.4 8.1.3z" fill="#3e26a8"/>
<path d="M1004.7 248.6l-1.3-5.8-6.6 2.3 1.5 5.7z" fill="#6fcbdf"/>
<path d="M1171.6 333l8.1-.3-2.7-3.3-8 .4z" fill="#3e26a8"/>
<path d="M940.4 328.2l-7.5.4-3 3.2 7.7-.6z" fill="#3e27ab"/>
<path d="M1078.2 266.5l1.2-6.2-7-2.3-1 6.3z" fill="#7fc1ed"/>
<path d="M1135.8 329.1l7.7 1.7-2.9-3.2-7.6-1.5z" fill="#3f28ae"/>
<path d="M1007 259.3l-1-6-6.6 2.3 1.2 5.9z" fill="#79c6e8"/>
<path d="M1080 261.5l1.2-5.9-6.5-2.3-1.1 6z" fill="#71c3e7"/>
<path d="M933.2 329.3l-8 0-2.8 3.2 7.8 0z" fill="#3e27aa"/>
<path d="M1000.6 244.5l-6.5-5.2-6.2 2.7 7.3 4.9z" fill="#52c4d1"/>
<path d="M1081.8 256.9l1.5-6.6-6.2-2.4-1.4 6.7z" fill="#66c5e0"/>
<path d="M925.6 330.1l-8-.3-2.9 3.4 8.2 0z" fill="#3e27a9"/>
<path d="M1157.7 333.3l8.1-.1-2.7-3.3-8 .2z" fill="#3e27a9"/>
<path d="M1083.8 251.6l1.6-5.7-6-2.5-1.4 5.8z" fill="#5ec5db"/>
<path d="M954.3 322.4l-7.5 3.6-3 3.2 7.7-3.7z" fill="#402ab4"/>
<path d="M1123.8 319.3l5.7 6-3.6-2.6-5.5-5.8z" fill="#412ebe"/>
<path d="M991.7 240.4l-1.7 6-5 2.5 1.8-6.2z" fill="#1fb0ca"/>
<path d="M1143.6 332l7.8.7-2.6-3.2-7.6-.5z" fill="#3e27ab"/>
<path d="M946.7 326.8l-7.6 1.6-2.7 3.2 7.7-1.8z" fill="#3f28ae"/>
<path d="M1003 255.2l-1.4-6.6-5.8 2.5 1.6 6.5z" fill="#65c5e0"/>
<path d="M1086.5 247.6l7.5-4.8-5.5-2.8-6.8 5.2z" fill="#48c1ce"/>
<path d="M1165.3 334.3l8.1-.2-2.4-3.4-7.9.4z" fill="#3e26a9"/>
<path d="M959.2 317.6l-6.2 5.2-2.6 3.2 6.3-5.3z" fill="#412ebe"/>
<path d="M1129.7 326.3l7.7 3.8-2.5-3.2-7.6-3.7z" fill="#402ab4"/>
<path d="M1094.8 243.5l1.8 6.2-4.4-2.5-1.7-6.1z" fill="#13acc7"/>
<path d="M1151.4 334.1l8.1.3-2.4-3.4-8-.1z" fill="#3e27aa"/>
<path d="M999.1 250.5l-1.5-5.8-4.9 2.7 1.7 5.7z" fill="#4fbfd8"/>
<path d="M916.9 331.8l-8-.3-2.1 3.4 8.1.1z" fill="#3e26a9"/>
<path d="M902.6 331.8l-1.5 0-2 3.3 1.6.1z" fill="#3e26a8"/>
<path d="M1118.3 310.7l2.9 5.7-3.1-2.7-2.8-5.6z" fill="#4537d4"/>
<path d="M1179.9 335.3l1.5-.1-1.8-3.4-1.5.1z" fill="#3e26a8"/>
<path d="M909.5 332.1l-7.9-.3-2 3.4 8.1.1z" fill="#3e26a8"/>
<path d="M1172.8 335.4l8.1-.2-1.8-3.3-8 .3z" fill="#3e26a8"/>
<path d="M1001.4 261.2l-1.2-6-4.8 2.8 1.3 5.8z" fill="#54b6e2"/>
<path d="M1083.8 263.9l1.4-5.9-4.8-2.8-1.2 6z" fill="#4bb2e1"/>
<path d="M938.3 330.2l-8.1.8-2.4 3.5 8.2-1z" fill="#3e27ab"/>
<path d="M1121.5 316.1l3.6 5.6-2.8-2.7-3.6-5.5z" fill="#4332c9"/>
<path d="M1137.4 331.4l7.8 2-2-3.3-7.7-1.8z" fill="#3f28ae"/>
<path d="M996 246.4l-7.1-4.9-4.3 3 7.6 4.6z" fill="#38bcca"/>
<path d="M1085.3 259.2l1.7-6.5-4.5-2.8-1.5 6.6z" fill="#3eb6d8"/>
<path d="M930.8 331.6l-8 .2-2.1 3.4 8.1-.4z" fill="#3e27aa"/>
<path d="M1087 253.9l1.7-5.6-4.1-2.9-1.6 5.8z" fill="#38b7d3"/>
<path d="M923.4 332.3l-8 0-1.8 3.4 8-.1z" fill="#3e27a9"/>
<path d="M1158.9 335.6l8 .1-1.7-3.4-8 .1z" fill="#3e27a9"/>
<path d="M951.8 324.7l-7.7 3.8-1.9 3.3 7.8-4z" fill="#402ab4"/>
<path d="M968.9 299l-2.2 6-2.7 2.8 2.2-6.1z" fill="#4742e5"/>
<path d="M1124.8 322.2l6.4 5.6-1.8-3.3-6.3-5.4z" fill="#412ebe"/>
<path d="M987.6 242.5l-1.7 6.1-3.5 2.7 1.8-6.2z" fill="#06a8c4"/>
<path d="M944.4 329l-7.7 1.9-1.8 3.3 7.9-2.1z" fill="#3f28ae"/>
<path d="M961 314.2l-4.2 5-1.9 3.3 4.4-5.1z" fill="#4332c9"/>
<path d="M1144.8 334.4l8.1 1-1.8-3.5-8.1-.8z" fill="#3e27ab"/>
<path d="M998.2 257.2l-1.6-6.6-3.9 2.9 1.7 6.6z" fill="#2eb0d5"/>
<path d="M1110.7 292l1.7 5.9-2.7-2.8-1.7-5.9z" fill="#474df0"/>
<path d="M1088.9 249.9l7.7-4.5-3.5-3.1-7.4 4.8z" fill="#2eb8c7"/>
<path d="M970.5 294.6l-1.7 5.4-2.7 2.8 1.8-5.5z" fill="#4747ea"/>
<path d="M1112.6 297.4l1.8 5.5-2.6-2.8-1.7-5.5z" fill="#4747ea"/>
<path d="M963.6 309.6l-2.8 5.6-2.4 2.8 2.8-5.7z" fill="#4537d4"/>
<path d="M1166.2 336.7l8-.1-1.4-3.4-7.9.2z" fill="#3e26a9"/>
<path d="M956.8 319.8l-6.3 5.5-1.5 3.3 6.4-5.6z" fill="#412ebe"/>
<path d="M973.8 284.2l-1.7 6.3-2.5 2.8 1.8-6.4z" fill="#4459f5"/>
<path d="M1130.8 328.6l7.8 4.1-1.4-3.3-7.7-4z" fill="#402ab4"/>
<path d="M1096.8 245.9l1.8 6.3-2.8-2.8-1.7-6.2z" fill="#06a8c4"/>
<path d="M1114.7 302.6l2.2 6.1-2.3-2.9-2.2-6z" fill="#4742e5"/>
<path d="M965.6 305.3l-2.2 5.3-2.2 2.9 2.2-5.5z" fill="#463cde"/>
<path d="M984.4 248.8l-1.4 5.7-2.7 2.8 1.4-5.7z" fill="#06a3ca"/>
<path d="M1117.1 308.1l2.2 5.4-2.2-2.8-2.2-5.4z" fill="#463cde"/>
<path d="M1098.8 251.6l1.3 5.7-2.6-2.8-1.3-5.6z" fill="#06a3ca"/>
<path d="M995.2 252.6l-1.7-5.8-3 3.2 1.8 5.7z" fill="#08a6c8"/>
<path d="M976.5 274.8l-1.3 5.7-2.4 2.9 1.4-5.8z" fill="#3474f5"/>
<path d="M1152.1 336.5l8.1.5-1.3-3.5-7.9-.3z" fill="#3e27aa"/>
<path d="M1100.3 256.8l1.4 5.9-2.4-2.8-1.3-5.9z" fill="#089dd0"/>
<path d="M915.2 334.1l-7.9-.1-1.1 3.4 8 0z" fill="#3e26a9"/>
<path d="M1118.7 313.6l3.6 5.3-1.1-3.3-3.6-5.2z" fill="#4537d4"/>
<path d="M1101.9 262.2l1.3 6-2.2-2.9-1.3-5.9z" fill="#1194da"/>
<path d="M901 334.3l-1.4 0-1 3.4 1.4 0z" fill="#3e26a8"/>
<path d="M908 334.4l-7.9-.1-1 3.4 8 0z" fill="#3e26a8"/>
<path d="M1180.4 337.8l1.5-.1-.9-3.4-1.5.1z" fill="#3e26a8"/>
<path d="M979.1 264.8l-1.3 6-2.1 2.8 1.3-6z" fill="#1d8ae2"/>
<path d="M1103.4 267.7l1.4 6-2.1-2.9-1.3-6z" fill="#1d8ae2"/>
<path d="M1173.4 337.8l7.9 0-.8-3.5-8 .2z" fill="#3e26a8"/>
<path d="M936.4 332.6l-8 1-1.2 3.5 8.1-1.2z" fill="#3e27ab"/>
<path d="M971 290.7l-1.6 6-1.9 2.9 1.7-6z" fill="#474df0"/>
<path d="M992.9 248.4l-7.6-4.5-2.3 3.3 7.9 4.2z" fill="#10aebf"/>
<path d="M1086.9 261.9l1.8-6.6-2.5-3.4-1.7 6.7z" fill="#09a2cd"/>
<path d="M1121.7 319l4.3 5.3-.9-3.3-4.3-5.2z" fill="#4332c9"/>
<path d="M1105 273.1l1.3 5.9-1.9-2.9-1.3-5.8z" fill="#297feb"/>
<path d="M1138.1 333.7l8.1 2.5-1.2-3.6-8-2.2z" fill="#3f28ae"/>
<path d="M929.1 333.9l-7.9.4-1 3.4 8-.5z" fill="#3e27aa"/>
<path d="M981.8 254.7l-1.3 5.9-2 2.9 1.4-5.9z" fill="#089dd0"/>
<path d="M1088.4 256.7l1.8-5.8-2.1-3.5-1.8 5.9z" fill="#07a5c8"/>
<path d="M1106.5 278.5l1.3 5.7-1.8-2.9-1.2-5.7z" fill="#3474f5"/>
<path d="M921.9 334.7l-7.9.1-.9 3.4 8-.3z" fill="#3e27a9"/>
<path d="M974.1 280.8l-1.3 5.5-1.7 2.9 1.3-5.6z" fill="#3e66f8"/>
<path d="M1108 283.7l1.3 5.5-1.6-2.9-1.3-5.5z" fill="#3e66f8"/>
<path d="M1159.3 338l8 .2-.8-3.4-7.9-.1z" fill="#3e27a9"/>
<path d="M1065.5 258.9l.7 5.8-2.8-2.4-.6-5.7z" fill="#0a9cd3"/>
<path d="M950.1 326.9l-7.8 4.1-.8 3.4 7.9-4.3z" fill="#402ab4"/>
<path d="M966.8 301.3l-2.9 5.7-.7 3.3 3-5.8z" fill="#4742e5"/>
<path d="M984.9 244.7l-1.7 6.2-1.8 2.9 1.7-6.2z" fill="#06a8c4"/>
<path d="M1064.8 253.8l.6 6-2.7-2.4-.6-5.8z" fill="#06a2cb"/>
<path d="M1125.4 324.6l6.4 5.8-.6-3.3-6.4-5.7z" fill="#412ebe"/>
<path d="M1109.5 288.7l1.7 6.3-1.5-2.9-1.6-6.3z" fill="#4459f5"/>
<path d="M1064 248.6l.7 6.1-2.7-2.3-.6-6z" fill="#06a7c6"/>
<path d="M1063.3 243.2l.6 6.2-2.6-2.2-.6-6.2z" fill="#08abc0"/>
<path d="M1027 188l-.7 5.9-2.8 1.9.7-6z" fill="#a2c379"/>
<path d="M1062.5 237.6l.6 6.4-2.5-2.2-.6-6.3z" fill="#10afb9"/>
<path d="M943.1 331.1l-8 2.3-.9 3.5 8.1-2.4z" fill="#3f28ae"/>
<path d="M959.2 316.5l-4.3 5.3-.6 3.3 4.3-5.4z" fill="#4332c9"/>
<path d="M995.2 259.3l-1.9-6.3-1.7 3.1 1.9 6.3z" fill="#06a1cd"/>
<path d="M976.8 271l-1.2 5.9-1.5 2.9 1.2-5.9z" fill="#297feb"/>
<path d="M1110.5 294.7l2.5 5.7-.5-3.2-2.4-5.6z" fill="#474df0"/>
<path d="M1145.2 336.7l8 1.3-.7-3.5-7.9-1.1z" fill="#3e27ab"/>
<path d="M1089.6 252.2l7.9-4-1.4-3.5-7.7 4.4z" fill="#0eadbf"/>
<path d="M1061.3 228.5l.5 5.4-2.4-2-.5-5.4z" fill="#23b5ab"/>
<path d="M1028.6 174l-.7 5.8-2.7 1.7.8-5.8z" fill="#bbc16d"/>
<path d="M1060.1 219.1l.5 5.6-2.4-2-.4-5.5z" fill="#3bba9c"/>
<path d="M1059.5 214.4l.5 5.5-2.3-1.9-.4-5.5z" fill="#4abc94"/>
<path d="M968.5 296.9l-2.5 5.2-.5 3.3 2.5-5.3z" fill="#4747ea"/>
<path d="M1058.9 209.6l.5 5.6-2.3-1.9-.4-5.5z" fill="#59bd8c"/>
<path d="M1029.6 164.9l-.7 5.7-2.5 1.7.8-5.8z" fill="#c9c066"/>
<path d="M1112.4 300.1l2.5 5.3-.4-3.2-2.5-5.3z" fill="#4747ea"/>
<path d="M1058.3 204.8l.5 5.6-2.2-1.8-.4-5.6z" fill="#69be84"/>
<path d="M1057.7 199.9l.5 5.7-2.2-1.8-.4-5.6z" fill="#79bf7d"/>
<path d="M1057.1 195.1l.5 5.7-2.1-1.8-.5-5.5z" fill="#88bf77"/>
<path d="M1030.9 154.2l-.8 6.4-2.4 1.6.9-6.5z" fill="#e0be5a"/>
<path d="M1056.5 190.3l.5 5.6-2.1-1.6-.4-5.6z" fill="#9bbf6f"/>
<path d="M961.9 311.9l-3.6 5.4-.3 3.2 3.5-5.4z" fill="#4537d4"/>
<path d="M979.5 260.9l-2.1 5.7-.4 3.3 2.1-5.9z" fill="#1194da"/>
<path d="M1055.9 185.5l.5 5.6-2-1.6-.5-5.5z" fill="#a5be6b"/>
<path d="M1055.3 180.8l.5 5.6-2-1.6-.4-5.5z" fill="#aebe67"/>
<path d="M1166.3 339l8 .2-.4-3.5-7.9.1z" fill="#3e26a9"/>
<path d="M1054.7 176.1l.5 5.5-1.9-1.5-.5-5.5z" fill="#b6bd64"/>
<path d="M1054.1 171.5l.5 5.4-1.9-1.5-.4-5.4z" fill="#bebc60"/>
<path d="M955.3 322.1l-6.3 5.8-.3 3.3 6.3-5.9z" fill="#412ebe"/>
<path d="M971.9 286.5l-2.4 6.1-.2 3.2 2.4-6.1z" fill="#4459f5"/>
<path d="M1052.7 161.4l.6 6.4-1.7-1.4-.6-6.3z" fill="#d0bb58"/>
<path d="M1096.4 248.7l2.5 6-.2-3.2-2.5-6z" fill="#06a8c4"/>
<path d="M1131 330.9l8 4.7-.4-3.6-8-4.6z" fill="#402ab4"/>
<path d="M1114.2 305.3l2.9 5.9-.1-3.3-2.9-5.8z" fill="#4742e5"/>
<path d="M1052 156l.6 6.2-1.7-1.3-.6-6.2z" fill="#debb51"/>
<path d="M1051.2 150.8l.6 6-1.6-1.2-.6-6z" fill="#ecba4a"/>
<path d="M1038.4 115.6l-1.2 5.5-2.1.6 1.6-5.6z" fill="#f9ee45"/>
<path d="M1050.4 145.9l.7 5.8-1.6-1.3-.6-5.7z" fill="#f6bb43"/>
<path d="M964 307.6l-2.9 5.1-.2 3.3 3-5.2z" fill="#463cde"/>
<path d="M982.3 251.1l-2.1 5.5-.1 3.2 2-5.5z" fill="#06a3ca"/>
<path d="M1049.7 141.2l.6 5.5-1.5-1.1-.6-5.5z" fill="#f8be3f"/>
<path d="M1098.2 254.3l2.1 5.5 0-3.2-2.1-5.4z" fill="#06a3ca"/>
<path d="M1116.5 310.8l2.9 5.3 0-3.3-2.9-5.1z" fill="#463cde"/>
<path d="M1048.7 135.7l.9 6.3-1.5-1.1-.7-6.2z" fill="#fbc23a"/>
<path d="M1047.8 130.7l.9 5.8-1.4-1-.8-5.8z" fill="#fdc734"/>
<path d="M1046.9 126.2l.8 5.3-1.3-.9-.8-5.3z" fill="#fbd32c"/>
<path d="M974.7 277.1l-2 5.6 0 3.2 2.1-5.6z" fill="#3474f5"/>
<path d="M992.9 254.7l-1.9-5.3-.8 3.2 2 5.3z" fill="#06a5c8"/>
<path d="M1099.7 259.5l2 5.7.1-3.2-2-5.7z" fill="#089dd0"/>
<path d="M1152.1 338.8l8 .7-.2-3.4-7.9-.5z" fill="#3e27aa"/>
<path d="M1045.7 121.3l1.1 5.7-1.3-.9-1-5.5z" fill="#f9de24"/>
<path d="M1044.2 116.6l1.4 5.5-1.1-.7-1.3-5.4z" fill="#f8ea1c"/>
<path d="M914.3 336.5l-8 0-.1 3.5 8-.2z" fill="#3e26a9"/>
<path d="M1101.1 264.8l2 5.9.3-3.2-2-5.8z" fill="#1194da"/>
<path d="M1118.7 315.9l3.5 5.5.2-3.2-3.5-5.5z" fill="#4537d4"/>
<path d="M1028.4 160.6l-.4 6.3-.8 1.6.5-6.3z" fill="#d0bb58"/>
<path d="M900.1 336.8l-1.4 0 0 3.4 1.4 0z" fill="#3e26a8"/>
<path d="M907.2 336.8l-8 0 0 3.4 7.9-.1z" fill="#3e26a8"/>
<path d="M1040.4 111.7l-3.9 4.9 0 .7z" fill="#f9f816"/>
<path d="M977.5 267.1l-2 5.9.3 3.2 2-5.9z" fill="#1d8ae2"/>
<path d="M1102.5 270.3l2 5.9.5-3.2-2.1-5.8z" fill="#1d8ae2"/>
<path d="M1040 111.7l3.8 6 .2-.9z" fill="#f9f816"/>
<path d="M1173.2 340.1l8 .2 0-3.4-7.9 0z" fill="#3e26a8"/>
<path d="M1180.3 340.3l1.4 0 0-3.5-1.4.1z" fill="#3e26a8"/>
<path d="M1043.3 117.1l1.9 5.5.5-1.1-1.9-5.3z" fill="#f8ea1c"/>
<path d="M1044.7 122l1.6 5.6.6-1.2-1.6-5.5z" fill="#f9de24"/>
<path d="M1045.9 126.9l1.4 5.2.5-1.2-1.3-5.2z" fill="#fbd32c"/>
<path d="M1046.8 131.5l1.4 5.7.6-1.3-1.4-5.7z" fill="#fdc734"/>
<path d="M1047.7 136.5l1.4 6.3.6-1.4-1.4-6.2z" fill="#fbc23a"/>
<path d="M1040.4 111.7l-4.1 5.3.6.7z" fill="#f9f824"/>
<path d="M1048.7 142.1l1.1 5.5.7-1.5-1.2-5.4z" fill="#f8be3f"/>
<path d="M1049.4 146.9l1.2 5.7.6-1.5-1.1-5.7z" fill="#f6bb43"/>
<path d="M1050.1 151.9l1.2 5.9.7-1.6-1.2-5.8z" fill="#ecba4a"/>
<path d="M1050.9 157.1l1.1 6.2.7-1.7-1.1-6z" fill="#debb51"/>
<path d="M1040 111.7l3.2 6 .8-.5z" fill="#faf92e"/>
<path d="M1051.6 162.6l1.2 6.3.7-1.7-1.2-6.3z" fill="#d0bb58"/>
<path d="M935.4 335l-8 1.1.1 3.5 7.9-1.4z" fill="#3e27ab"/>
<path d="M1052.4 168.2l1 5.3.7-1.8-1-5.2z" fill="#c6bc5d"/>
<path d="M969.7 293.1l-2.4 5.8.4 3.2 2.4-5.8z" fill="#474df0"/>
<path d="M1052.9 172.8l1.1 5.3.7-1.8-1-5.3z" fill="#bebc60"/>
<path d="M991.2 250.5l-8-4.2.2 3.6 7.9 3.9z" fill="#0aacbe"/>
<path d="M1053.5 177.4l1.1 5.5.7-1.9-1-5.4z" fill="#b6bd64"/>
<path d="M1054.1 182.2l1.1 5.5.7-1.9-1-5.5z" fill="#aebe67"/>
<path d="M1054.7 187l1 5.5.8-1.9-1-5.5z" fill="#a5be6b"/>
<path d="M1104 275.7l2 5.8.5-3.1-2-5.8z" fill="#297feb"/>
<path d="M1055.3 191.8l1 5.5.8-1.9-1-5.5z" fill="#9bbf6f"/>
<path d="M1121.5 321.3l4.3 5.5.4-3.3-4.3-5.4z" fill="#4332c9"/>
<path d="M1055.9 196.6l1 5.6.8-2-1-5.5z" fill="#87bf77"/>
<path d="M1137.8 336l8 2.6.1-3.4-7.9-2.4z" fill="#3f28ae"/>
<path d="M1056.5 201.5l1 5.6.8-2.1-1-5.5z" fill="#79bf7d"/>
<path d="M1057.1 206.4l1 5.5.8-2.1-1-5.5z" fill="#69be84"/>
<path d="M1040.4 111.7l-3.8 5.7 1 .4z" fill="#faf93a"/>
<path d="M1057.7 211.2l1 5.6.8-2.2-1-5.5z" fill="#59bd8c"/>
<path d="M1058.3 216.1l1 5.5.8-2.2-1-5.5z" fill="#49bc94"/>
<path d="M1058.9 220.9l1 5.4.8-2.2-1-5.4z" fill="#3bb99c"/>
<path d="M1059.5 225.6l1 5.4.8-2.3-1-5.3z" fill="#2eb7a4"/>
<path d="M1036.4 116.2l-1.8 5.8 1.2 1.1 1.6-5.9z" fill="#f8eb27"/>
<path d="M1060.1 230.3l1 5.4.8-2.4-1-5.3z" fill="#23b4ab"/>
<path d="M1040 111.7l2.5 6.2 1.2-.4z" fill="#faf940"/>
<path d="M1060.7 235l1 5.3.8-2.4-1-5.3z" fill="#19b2b2"/>
<path d="M1061.2 239.6l1.2 6.3.9-2.5-1.2-6.2z" fill="#0fafb9"/>
<path d="M1062 245.2l1.2 6.1.9-2.5-1.2-6.1z" fill="#08abc0"/>
<path d="M1062.7 250.7l1.2 6 .9-2.6-1.2-6z" fill="#06a7c6"/>
<path d="M1063.5 256l1.1 5.8 1-2.6-1.2-5.8z" fill="#06a2cb"/>
<path d="M1064.2 261.1l1.2 5.7.9-2.7-1.2-5.6z" fill="#0a9cd3"/>
<path d="M1040.3 111.7l-3.1 6 1.3.3z" fill="#faf945"/>
<path d="M1034.9 120.9l-1.4 6 1.2 1.2 1.3-6z" fill="#f9e02d"/>
<path d="M928.3 336.3l-8 .5.2 3.5 7.9-.7z" fill="#3e27aa"/>
<path d="M1040.1 111.7l1.4 6.3 1.4-.2z" fill="#faf947"/>
<path d="M980.3 257.1l-2 5.8.6 3.1 2-5.8z" fill="#089dd0"/>
<path d="M1042.8 117.2l1.5 5.9 1.4-.9-1.7-5.8z" fill="#f9ec35"/>
<path d="M1087.8 258.7l2-5.2.1-3.2-2.1 5.2z" fill="#06a5c8"/>
<path d="M1105.4 281.1l1.9 5.6.7-3.1-2-5.6z" fill="#3474f5"/>
<path d="M1040.3 111.7l-2.2 6.2 1.5.2z" fill="#fafa4a"/>
<path d="M1033.7 125.8l-1.2 5.6 1.4 1.3 1-5.6z" fill="#fbd434"/>
<path d="M1040.1 111.7l.3 6.4 1.5-.1z" fill="#fafa4b"/>
<path d="M1040.2 111.6l-1 6.4 1.6.1z" fill="#fafa4c"/>
<path d="M1032.7 130.4l-1.1 6.1 1.4 1.4 1.1-6.2z" fill="#fdc93b"/>
<path d="M1044.1 122.1l1.2 6 1.5-1-1.3-5.9z" fill="#f9e23b"/>
<path d="M1031.8 135.4l-1.2 6.6 1.6 1.5 1-6.7z" fill="#fcc441"/>
<path d="M921.2 337l-8 .3.2 3.4 8-.4z" fill="#3e27a9"/>
<path d="M972.9 283.1l-2 5.4.7 3.2 2-5.5z" fill="#3e66f8"/>
<path d="M1036.6 116.7l-1.6 5.8 1.7.7 1.3-5.9z" fill="#f9ee44"/>
<path d="M1045.1 127.1l1 5.7 1.7-1.1-1.2-5.6z" fill="#fbd742"/>
<path d="M1030.8 141l-.9 5.8 1.6 1.5.8-5.9z" fill="#f9c146"/>
<path d="M1106.8 286.3l1.9 5.4.8-3.2-2-5.4z" fill="#3e66f8"/>
<path d="M1158.9 340.4l8 .4.3-3.5-8-.2z" fill="#3e27a9"/>
<path d="M1030.1 145.7l-1 6.1 1.7 1.6.8-6.2z" fill="#f6be4a"/>
<path d="M1042.1 117.3l1.1 5.9 1.9-.6-1.5-5.8z" fill="#f9ee4c"/>
<path d="M1046 131.8l.9 6.1 1.8-1.1-1.1-6.1z" fill="#fdcd4a"/>
<path d="M1029.3 150.7l-.9 6.3 1.7 1.7.8-6.4z" fill="#edbd50"/>
<path d="M1028.5 155.9l-.9 6.5 1.8 1.7.8-6.6z" fill="#e0bd57"/>
<path d="M965.9 303.7l-2.9 5.9.7 3.2 2.9-6z" fill="#4742e5"/>
<path d="M1035.2 121.6l-1.3 5.9 2 .8 1-6z" fill="#fae44b"/>
<path d="M949.4 329.1l-7.9 4.5.4 3.6 7.8-4.8z" fill="#402ab4"/>
<path d="M1046.8 137l.9 6.6 1.9-1.3-1.1-6.5z" fill="#fcc950"/>
<path d="M983.6 247.1l-2.4 6.1.9 3.1 2.4-6.1z" fill="#06a8c4"/>
<path d="M1027.8 161.3l-.9 6.7 1.8 1.8.9-6.8z" fill="#d2be5f"/>
<path d="M1108.2 291.2l2.3 6.3.9-3.1-2.3-6.3z" fill="#4459f5"/>
<path d="M1124.9 326.8l6.4 6.5.6-3.6-6.4-6.3z" fill="#412ebe"/>
<path d="M1037.2 117l-1.3 5.9 2.1.5.9-6z" fill="#f9ef53"/>
<path d="M1027 166.9l-.7 5.7 1.9 1.8.7-5.7z" fill="#c8bf63"/>
<path d="M1047.6 142.6l.8 5.8 1.9-1.3-.9-5.7z" fill="#f9c655"/>
<path d="M1026.4 171.5l-.7 5.7 1.9 1.9.7-5.8z" fill="#c1bf67"/>
<path d="M1043.1 122.3l.9 6 2.1-.6-1.2-5.9z" fill="#fae554"/>
<path d="M1041.2 117.4l.7 6 2.2-.4-1.1-5.9z" fill="#f9ef53"/>
<path d="M1034.1 126.6l-1 5.5 2.1.8.8-5.6z" fill="#fcdb53"/>
<path d="M1048.2 147.4l.8 6.1 2.1-1.4-.9-6z" fill="#f7c359"/>
<path d="M1025.8 176.1l-.7 5.9 2 1.9.6-5.9z" fill="#b9c06a"/>
<path d="M942.3 333.5l-7.9 2.4.4 3.5 7.9-2.6z" fill="#402aaf"/>
<path d="M1025.2 180.8l-.7 5.9 2 2 .7-5.9z" fill="#b1c06d"/>
<path d="M958.5 318.4l-4.4 5.9.8 3.3 4.2-5.6z" fill="#4332c9"/>
<path d="M975.8 273.4l-2 5.8 1 3.1 1.9-5.8z" fill="#297feb"/>
<path d="M1048.9 152.5l.8 6.3 2.1-1.4-.9-6.3z" fill="#eec35f"/>
<path d="M1088.4 254.7l8.1-3.8.8-3.5-7.8 3.9z" fill="#0aacbe"/>
<path d="M1024.6 185.6l-.7 5.9 2.1 2.1.6-6z" fill="#a9c171"/>
<path d="M1038 117.2l-.9 6 2.4.3.4-6.1z" fill="#faf058"/>
<path d="M1109.9 297l2.4 6 1-3.2-2.4-5.9z" fill="#474df0"/>
<path d="M1144.6 339.1l8 1.4.5-3.5-7.9-1.2z" fill="#3e27ab"/>
<path d="M1033.2 131.2l-1 6.1 2.3.8.8-6.1z" fill="#fed25b"/>
<path d="M1024 190.4l-.7 6 2.1 2.1.7-6.1z" fill="#9fc175"/>
<path d="M1040.1 117.4l.2 6.1 2.5-.2-.7-6z" fill="#faef56"/>
<path d="M1049.6 157.8l.7 6.5 2.3-1.5-.9-6.4z" fill="#e2c366"/>
<path d="M1043.9 127.4l.7 5.6 2.4-.7-1-5.5z" fill="#fcdd5c"/>
<path d="M1023.4 195.3l-.7 5.9 2.1 2.2.7-6.1z" fill="#8dc27d"/>
<path d="M1039 117.4l-.4 6 2.6 0-.2-6z" fill="#faf058"/>
<path d="M1036 122l-1 6 2.4.5.7-6z" fill="#fae75b"/>
<path d="M1022.8 200.1l-.7 6 2.2 2.2.7-6.1z" fill="#7fc283"/>
<path d="M1050.2 163.3l.8 6.6 2.3-1.5-.9-6.6z" fill="#d6c46d"/>
<path d="M1022.2 205l-.7 5.9 2.2 2.2.7-6z" fill="#70c18a"/>
<path d="M1032.4 136.3l-1 6.6 2.4.9.8-6.6z" fill="#fcce61"/>
<path d="M967.6 299.3l-2.3 5.4 1 3.2 2.3-5.5z" fill="#4747ea"/>
<path d="M1050.9 168.9l.6 5.7 2.4-1.6-.7-5.6z" fill="#cec572"/>
<path d="M1041.8 122.5l.5 6 2.6-.4-.9-6z" fill="#fae75b"/>
<path d="M1021.6 209.8l-.7 6 2.3 2.2.7-6z" fill="#61c191"/>
<path d="M1044.5 132.1l.8 6.2 2.5-.8-1-6.1z" fill="#fed464"/>
<path d="M1111.7 302.5l2.3 5.4 1.1-3.1-2.3-5.5z" fill="#4747ea"/>
<path d="M1051.4 173.6l.6 5.7 2.5-1.6-.7-5.7z" fill="#c7c575"/>
<path d="M1021 214.6l-.8 5.9 2.4 2.3.7-5.9z" fill="#52bf99"/>
<path d="M1020.4 219.4l-.8 5.9 2.5 2.3.7-5.9z" fill="#45bda1"/>
<path d="M1031.5 142l-.8 5.7 2.5 1 .7-5.8z" fill="#facc66"/>
<path d="M1051.9 178.3l.7 5.8 2.5-1.7-.7-5.7z" fill="#c0c679"/>
<path d="M1035.1 127.1l-.8 5.6 2.7.5.5-5.6z" fill="#fcde64"/>
<path d="M1019.8 224.2l-.8 5.8 2.5 2.4.7-5.9z" fill="#39bba8"/>
<path d="M1037.2 122.3l-.7 6 2.8.3.3-6z" fill="#fae761"/>
<path d="M1052.4 183.1l.7 5.8 2.6-1.7-.8-5.8z" fill="#b9c77c"/>
<path d="M1019.2 228.9l-.8 5.7 2.6 2.5.6-5.9z" fill="#2fb8af"/>
<path d="M1045.2 137.4l.7 6.6 2.7-.9-1-6.5z" fill="#fcd16a"/>
<path d="M961.2 314.3l-3.5 5.5 1.1 3.3 3.4-5.7z" fill="#4537d4"/>
<path d="M978.7 263.2l-2 6 1.4 3.1 1.9-6z" fill="#1194da"/>
<path d="M1040.2 122.6l.2 6 2.8-.2-.5-6z" fill="#fae75e"/>
<path d="M1030.8 146.8l-.8 5.9 2.6 1.1.7-6z" fill="#f8ca6b"/>
<path d="M1018.6 233.5l-.8 5.7 2.6 2.5.7-5.8z" fill="#26b6b6"/>
<path d="M1053 187.9l.6 5.9 2.7-1.8-.8-5.8z" fill="#b2c780"/>
<path d="M1042.2 127.6l.5 5.7 2.8-.5-.7-5.6z" fill="#fcde63"/>
<path d="M1038.7 122.5l-.3 6.1 2.9 0-.2-6.1z" fill="#fae760"/>
<path d="M1165.7 341.4l8 .3.6-3.4-8-.2z" fill="#3e26a9"/>
<path d="M1018 238.1l-.9 6.7 2.6 2.5.8-6.8z" fill="#1db3bd"/>
<path d="M1053.5 192.8l.6 5.9 2.7-1.8-.7-5.9z" fill="#a9c884"/>
<path d="M1017.2 243.6l-.9 6.6 2.7 2.6.8-6.6z" fill="#17b0c3"/>
<path d="M1034.4 131.8l-.8 6.1 2.9.6.5-6.2z" fill="#fed66c"/>
<path d="M1045.8 143.1l.6 5.7 2.8-.9-.7-5.7z" fill="#facf70"/>
<path d="M1030.1 151.8l-.8 6.2 2.8 1.1.6-6.2z" fill="#f0ca71"/>
<path d="M1054 197.7l.6 5.9 2.8-1.8-.7-5.9z" fill="#99c98b"/>
<path d="M1016.5 249.1l-.9 6.4 2.7 2.7.8-6.5z" fill="#15acc9"/>
<path d="M1054.5 202.6l.7 5.9 2.8-1.9-.7-5.8z" fill="#8dc991"/>
<path d="M971.3 288.9l-2.3 6.3 1.3 3.1 2.3-6.4z" fill="#4459f5"/>
<path d="M954.9 324.2l-6.4 6.3.9 3.5 6.4-6.4z" fill="#412ebe"/>
<path d="M1036.6 127.5l-.5 5.6 3 .3.2-5.7z" fill="#fce069"/>
<path d="M1015.7 254.4l-.9 6.2 2.8 2.8.9-6.3z" fill="#16a8ce"/>
<path d="M1095.3 250.9l2.3 6.3 1.6-3.1-2.3-6.2z" fill="#06a8c4"/>
<path d="M1029.4 157.1l-.8 6.4 2.9 1.1.7-6.4z" fill="#e6ca78"/>
<path d="M1113.3 307.6l2.8 6.1 1.3-3.2-2.8-6z" fill="#4742e5"/>
<path d="M1042.6 132.4l.5 6.2 3-.5-.7-6.2z" fill="#fed66b"/>
<path d="M1046.3 147.9l.6 6.1 3-1-.8-6z" fill="#f8cd75"/>
<path d="M1055.1 207.5l.6 5.9 2.9-1.9-.7-5.9z" fill="#80c997"/>
<path d="M1130.2 333.2l7.8 4.8 1-3.4-7.9-4.7z" fill="#402ab4"/>
<path d="M1040.4 127.7l.1 5.7 3.1-.2-.5-5.7z" fill="#fcdf66"/>
<path d="M1015 259.6l-.9 6 2.8 2.8.9-6.1z" fill="#1aa2d6"/>
<path d="M1055.6 212.4l.6 5.9 3-2-.7-5.8z" fill="#74c89e"/>
<path d="M1033.7 137l-.8 6.6 3.1.6.6-6.6z" fill="#fcd372"/>
<path d="M1038.4 127.7l-.2 5.6 3.2.1-.1-5.7z" fill="#fcdf68"/>
<path d="M1028.7 162.6l-.8 6.5 3.1 1.2.6-6.6z" fill="#dbcb7f"/>
<path d="M1056.1 217.3l.6 5.8 3.1-2-.7-5.8z" fill="#67c7a5"/>
<path d="M1046.8 153l.6 6.3 3.1-1-.7-6.2z" fill="#f1cd7b"/>
<path d="M981.6 253.5l-1.9 5.7 1.7 3.1 1.9-5.7z" fill="#06a3ca"/>
<path d="M963.5 310l-2.8 5.3 1.3 3.2 2.8-5.4z" fill="#463cde"/>
<path d="M1056.6 222.1l.7 5.8 3.1-2-.7-5.8z" fill="#5cc5ad"/>
<path d="M1028 168.2l-.7 5.5 3.2 1.3.5-5.6z" fill="#d4cc84"/>
<path d="M1036.2 132.2l-.6 6.1 3.3.4.2-6.2z" fill="#fed871"/>
<path d="M1097 256.6l1.9 5.7 1.7-3.1-1.9-5.6z" fill="#06a3ca"/>
<path d="M1043 137.7l.5 6.6 3.3-.6-.8-6.5z" fill="#fcd372"/>
<path d="M1115.5 313.1l2.8 5.9 1.4-3.6-2.8-5.8z" fill="#463cde"/>
<path d="M1057.2 226.9l.6 5.8 3.2-2.1-.7-5.7z" fill="#52c3b3"/>
<path d="M1033 142.7l-.7 5.7 3.3.7.5-5.8z" fill="#fad278"/>
<path d="M1047.3 158.4l.6 6.4 3.3-1-.8-6.4z" fill="#e8ce82"/>
<path d="M1040.5 132.5l.1 6.2 3.4-.2-.5-6.2z" fill="#fed76f"/>
<path d="M1027.5 172.8l-.7 5.7 3.3 1.2.5-5.6z" fill="#cecd88"/>
<path d="M1057.7 231.7l.6 5.7 3.3-2.2-.7-5.6z" fill="#4ac2ba"/>
<path d="M1038.2 132.4l-.2 6.2 3.5.1-.1-6.2z" fill="#fed870"/>
<path d="M1058.2 236.4l.6 5.6 3.4-2.2-.7-5.6z" fill="#43c0c0"/>
<path d="M1026.9 177.5l-.7 5.7 3.4 1.4.5-5.8z" fill="#c9ce8b"/>
<path d="M974.3 279.5l-1.9 5.7 1.6 3.1 1.9-5.7z" fill="#3474f5"/>
<path d="M1047.8 163.9l.6 6.6 3.4-1-.7-6.6z" fill="#decf89"/>
<path d="M991.7 257.4l-1.3-5.4 2.2 2.8 1.3 5.4z" fill="#06a5c8"/>
<path d="M1032.4 147.5l-.6 6 3.5.7.4-6z" fill="#f9d07d"/>
<path d="M1043.4 143.4l.4 5.8 3.5-.6-.6-5.7z" fill="#fad177"/>
<path d="M1098.4 261.7l1.8 6 1.9-3.1-1.9-5.9z" fill="#089dd0"/>
<path d="M1058.7 241l.8 6.7 3.4-2.3-.8-6.6z" fill="#3cbdc6"/>
<path d="M1035.7 137.4l-.6 6.7 3.6.3.2-6.6z" fill="#fdd578"/>
<path d="M1151.3 341.2l7.9.8 1-3.4-8-.7z" fill="#3e27aa"/>
<path d="M1026.3 182.3l-.6 5.7 3.5 1.4.5-5.8z" fill="#c3cf8f"/>
<path d="M1059.4 246.7l.8 6.5 3.5-2.3-.9-6.5z" fill="#37bbcc"/>
<path d="M1048.3 169.6l.5 5.6 3.6-1.1-.7-5.5z" fill="#d7d08e"/>
<path d="M1040.6 137.8l.1 6.6 3.7-.2-.5-6.6z" fill="#fcd475"/>
<path d="M1025.8 187.1l-.7 5.8 3.6 1.4.5-5.8z" fill="#bdd093"/>
<path d="M1031.9 152.6l-.7 6.2 3.7.8.4-6.3z" fill="#f2d083"/>
<path d="M1060 252.2l.8 6.4 3.6-2.4-.9-6.3z" fill="#36b8d1"/>
<path d="M1043.7 148.3l.4 6 3.7-.6-.6-6z" fill="#f9d07c"/>
<path d="M1038 137.7l-.2 6.7 3.8 0-.1-6.6z" fill="#fdd577"/>
<path d="M914.1 338.9l-8 .2.8 3.4 8-.4z" fill="#3e26a9"/>
<path d="M1048.7 174.3l.5 5.7 3.7-1.2-.6-5.6z" fill="#d2d192"/>
<path d="M1099.7 267.1l1.9 6.1 1.9-3.1-1.9-6z" fill="#1194da"/>
<path d="M1117.6 318.2l3.4 6.1 1.6-3.5-3.5-6z" fill="#4537d4"/>
<path d="M1025.2 192l-.6 5.8 3.6 1.4.6-5.8z" fill="#b6d096"/>
<path d="M1060.7 257.6l.8 6.2 3.6-2.4-.8-6.2z" fill="#38b5d5"/>
<path d="M1035.2 143.2l-.5 5.8 3.8.3.2-5.8z" fill="#fbd47e"/>
<path d="M1049.1 179.1l.5 5.7 3.8-1.2-.6-5.7z" fill="#cdd295"/>
<path d="M1061.3 262.8l.8 6 3.8-2.4-.9-6z" fill="#3cb0dc"/>
<path d="M1031.3 157.9l-.7 6.5 3.9.8.4-6.5z" fill="#e9d18a"/>
<path d="M1024.7 196.9l-.7 5.8 3.8 1.5.5-5.9z" fill="#a9d19d"/>
<path d="M1040.7 143.5l0 5.9 4-.3-.4-5.8z" fill="#fbd37b"/>
<path d="M1044 153.4l.4 6.3 3.9-.6-.6-6.3z" fill="#f2d083"/>
<path d="M907 339.2l-7.9.1.8 3.4 8-.3z" fill="#3e26a8"/>
<path d="M977.3 269.5l-1.9 6 2 3.1 1.8-6.1z" fill="#1d8ae2"/>
<path d="M1049.5 183.9l.5 5.8 3.9-1.3-.6-5.7z" fill="#c9d399"/>
<path d="M1037.8 143.5l-.2 5.8 4 0 0-5.8z" fill="#fbd37d"/>
<path d="M1024.1 201.8l-.6 5.8 3.8 1.5.6-5.9z" fill="#9fd1a2"/>
<path d="M1101.1 272.5l1.7 6.6 2.1-3.5-1.8-6.5z" fill="#1d8ae2"/>
<path d="M1034.8 148.1l-.4 6 4 .4.2-6.1z" fill="#f9d283"/>
<path d="M900 339.3l-1.5 0 .9 3.4 1.4 0z" fill="#3e26a8"/>
<path d="M1172.4 342.5l7.9.3 1-3.4-8-.2z" fill="#3e26a8"/>
<path d="M1030.7 163.5l-.6 6.6 4 .8.5-6.6z" fill="#e0d291"/>
<path d="M1023.6 206.7l-.7 5.8 4 1.6.5-5.9z" fill="#95d1a8"/>
<path d="M1049.9 188.8l.5 5.8 4.1-1.3-.7-5.8z" fill="#c3d49d"/>
<path d="M1044.3 158.8l.4 6.5 4.1-.7-.6-6.4z" fill="#e9d189"/>
<path d="M1040.7 148.5l.1 6 4.2-.3-.4-6z" fill="#f9d180"/>
<path d="M1179.4 342.7l1.4.1 1-3.4-1.4 0z" fill="#3e26a8"/>
<path d="M1023 211.5l-.7 5.8 4.1 1.7.6-5.9z" fill="#8bd1ae"/>
<path d="M991.1 252.7l-7.8-3.5 2.1 3.4 7.6 3.1z" fill="#0aacbe"/>
<path d="M1050.3 193.7l.5 5.8 4.2-1.3-.6-5.8z" fill="#bdd5a0"/>
<path d="M1037.7 148.4l-.2 6 4.2.1-.1-6.1z" fill="#f9d282"/>
<path d="M1030.2 169.2l-.6 5.5 4.2.9.4-5.6z" fill="#dad396"/>
<path d="M969.5 295.1l-2.2 6.4 1.9 3.5 2.2-6.5z" fill="#474df0"/>
<path d="M1034.4 153.2l-.4 6.3 4.2.4.2-6.3z" fill="#f3d389"/>
<path d="M935.3 337.4l-8 1.3 1.2 3.4 7.9-1.5z" fill="#422bad"/>
<path d="M1102.4 278l1.8 6.4 2.2-3.5-1.8-6.3z" fill="#297feb"/>
<path d="M1120.2 323.5l4.2 6 1.7-3.4-4.2-5.8z" fill="#4332c9"/>
<path d="M1136.7 338.3l7.9 2.8 1.4-3.4-7.9-2.5z" fill="#402aaf"/>
<path d="M1022.5 216.4l-.7 5.8 4.2 1.6.5-5.8z" fill="#81d0b5"/>
<path d="M1044.6 164.4l.4 6.6 4.3-.7-.6-6.6z" fill="#e0d290"/>
<path d="M1050.7 198.6l.5 5.9 4.3-1.4-.6-5.8z" fill="#b2d6a7"/>
<path d="M1040.8 153.6l.1 6.3 4.4-.3-.4-6.3z" fill="#f2d186"/>
<path d="M1029.7 173.8l-.5 5.7 4.3.9.4-5.7z" fill="#d6d49a"/>
<path d="M1021.9 221.3l-.7 5.7 4.3 1.7.6-5.8z" fill="#79cfbb"/>
<path d="M1034 158.6l-.4 6.4 4.5.5.1-6.5z" fill="#ead490"/>
<path d="M1037.5 153.5l-.2 6.3 4.5.1-.1-6.3z" fill="#f3d288"/>
<path d="M1051.1 203.6l.5 5.8 4.4-1.4-.6-5.8z" fill="#a9d6ac"/>
<path d="M980.3 259.1l-1.8 6.3 2.4 3.4 1.7-6.4z" fill="#0b9fd1"/>
<path d="M928.2 338.7l-7.9.7 1.2 3.4 7.9-.9z" fill="#3f28aa"/>
<path d="M1044.9 170.1l.3 5.6 4.5-.7-.5-5.6z" fill="#dad395"/>
<path d="M1103.7 283.3l1.8 6.2 2.3-3.4-1.8-6.1z" fill="#3474f5"/>
<path d="M1021.3 226l-.6 5.7 4.4 1.8.5-5.8z" fill="#72cec1"/>
<path d="M1085.4 261l1.3-5.4 3-2.8-1.4 5.5z" fill="#06a5c8"/>
<path d="M1029.3 178.6l-.6 5.7 4.5.9.4-5.7z" fill="#d1d59d"/>
<path d="M1040.9 159l.1 6.5 4.6-.3-.4-6.5z" fill="#ead28d"/>
<path d="M1051.5 208.5l.5 5.9 4.5-1.5-.6-5.8z" fill="#a0d6b1"/>
<path d="M1020.8 230.8l-.7 5.6 4.5 1.8.6-5.7z" fill="#6bcdc7"/>
<path d="M1045.2 174.8l.3 5.7 4.6-.7-.5-5.7z" fill="#d5d499"/>
<path d="M1028.8 183.4l-.5 5.7 4.6 1 .4-5.8z" fill="#cdd6a1"/>
<path d="M1033.7 164.1l-.5 6.7 4.7.4.2-6.6z" fill="#e2d597"/>
<path d="M1037.3 158.9l-.1 6.5 4.7.1-.1-6.5z" fill="#ead38f"/>
<path d="M1051.9 213.4l.5 5.9 4.7-1.5-.6-5.8z" fill="#98d6b7"/>
<path d="M973 285.2l-1.9 5.9 2.3 3.4 1.8-6z" fill="#4068f8"/>
<path d="M921.2 339.4l-8 .4 1.3 3.4 7.9-.6z" fill="#3e27a9"/>
<path d="M1020.2 235.5l-.6 5.5 4.6 1.8.5-5.6z" fill="#66cccc"/>
<path d="M1105.1 288.5l1.7 6 2.4-3.4-1.8-5.9z" fill="#3e66f8"/>
<path d="M1157.8 342.7l8 .6 1.3-3.4-8-.4z" fill="#3e27a9"/>
<path d="M1045.4 179.6l.3 5.8 4.8-.8-.5-5.7z" fill="#d1d59c"/>
<path d="M1041 164.6l0 6.7 4.9-.4-.4-6.6z" fill="#e1d494"/>
<path d="M1028.4 188.2l-.6 5.8 4.8 1 .3-5.8z" fill="#c8d8a5"/>
<path d="M1052.4 218.4l.4 5.8 4.8-1.5-.6-5.8z" fill="#90d6bd"/>
<path d="M1019.7 240.1l-.8 6.5 4.7 1.9.7-6.6z" fill="#62cad1"/>
<path d="M1033.3 169.9l-.4 5.6 4.9.4.1-5.6z" fill="#dcd69c"/>
<path d="M1037.2 164.5l-.2 6.7 4.9 0 0-6.6z" fill="#e2d496"/>
<path d="M1052.8 223.3l.4 5.7 4.9-1.5-.6-5.7z" fill="#88d5c3"/>
<path d="M966 305.8l-2.7 6.4 2.2 3.3 2.6-6.5z" fill="#4b46e5"/>
<path d="M983.8 249.2l-2.1 6.6 2.7 3.2 2.1-6.6z" fill="#14acc8"/>
<path d="M1019 245.7l-.8 6.4 4.8 2 .7-6.5z" fill="#5fc8d6"/>
<path d="M1027.9 193.1l-.5 5.9 4.9 1 .3-5.9z" fill="#c3d8a9"/>
<path d="M1045.7 184.5l.2 5.8 5-.8-.5-5.8z" fill="#ccd6a0"/>
<path d="M949.4 331.5l-7.8 4.8 1.7 3.3 7.8-4.9z" fill="#4c38b9"/>
<path d="M1106.4 293.5l2.1 6.8 2.5-3.4-2.2-6.7z" fill="#4459f5"/>
<path d="M1041 170.4l.1 5.6 5-.4-.3-5.6z" fill="#dbd599"/>
<path d="M1123.5 329.1l6.1 6.5 2-3.3-6.3-6.3z" fill="#412ebe"/>
<path d="M1033 174.6l-.4 5.6 5 .5.2-5.7z" fill="#d8d7a0"/>
<path d="M1053.2 228.1l.4 5.7 5-1.6-.6-5.6z" fill="#82d4c8"/>
<path d="M1018.3 251.2l-.8 6.3 5 2 .6-6.4z" fill="#5fc6da"/>
<path d="M1027.5 198.1l-.6 5.8 5.1 1.1.3-5.9z" fill="#b9d9af"/>
<path d="M1045.9 189.4l.3 5.8 5.1-.8-.5-5.8z" fill="#c8d7a4"/>
<path d="M1037 170.3l-.1 5.6 5.1.1-.1-5.7z" fill="#dcd59b"/>
<path d="M1053.6 232.9l.4 5.6 5.2-1.6-.7-5.6z" fill="#7ed3cd"/>
<path d="M976.1 275.5l-1.8 6.3 2.6 3.2 1.8-6.3z" fill="#3083ec"/>
<path d="M1041.1 175.1l.1 5.7 5.2-.4-.3-5.7z" fill="#d7d69c"/>
<path d="M942.5 335.9l-7.9 2.6 1.6 3.4 7.8-2.9z" fill="#4833b2"/>
<path d="M1017.6 256.6l-.8 6.1 5.1 2 .7-6.1z" fill="#61c4de"/>
<path d="M958.7 321.1l-4.2 5.8 2.1 3.3 4-5.9z" fill="#4d3dcc"/>
<path d="M1086.3 256.4l7.4-3 2.9-3.2-7.7 3.3z" fill="#0aacbe"/>
<path d="M1032.7 179.3l-.4 5.8 5.2.5.2-5.8z" fill="#d4d8a3"/>
<path d="M1027 203l-.5 5.8 5.2 1.1.3-5.9z" fill="#b1dab4"/>
<path d="M1108.1 299.3l2.1 6.4 2.5-3.3-2.2-6.3z" fill="#474df0"/>
<path d="M1046.1 194.3l.3 5.9 5.3-.9-.5-5.8z" fill="#c2d8a8"/>
<path d="M1054 237.6l.4 5.6 5.3-1.6-.6-5.6z" fill="#79d2d2"/>
<path d="M1143.3 341.4l7.8 1.6 1.8-3.4-8-1.4z" fill="#402aac"/>
<path d="M1036.9 175l-.2 5.7 5.4 0-.1-5.6z" fill="#d8d69e"/>
<path d="M1041.2 179.9l0 5.7 5.4-.3-.3-5.8z" fill="#d2d7a0"/>
<path d="M1026.5 207.9l-.5 5.9 5.4 1.1.3-5.9z" fill="#aadab9"/>
<path d="M1032.4 184.2l-.4 5.8 5.4.5.1-5.8z" fill="#d0d9a7"/>
<path d="M1054.4 242.3l.6 6.6 5.3-1.7-.7-6.6z" fill="#76d1d7"/>
<path d="M1046.4 199.3l.3 5.8 5.4-.8-.5-5.9z" fill="#b8d9ae"/>
<path d="M968 301.5l-2.2 5.8 2.5 3.3 2.2-5.9z" fill="#5050eb"/>
<path d="M1036.8 179.8l-.2 5.7 5.5.1 0-5.8z" fill="#d3d8a2"/>
<path d="M1109.7 304.7l2.2 5.9 2.6-3.3-2.2-5.8z" fill="#4747ea"/>
<path d="M1026.1 212.9l-.5 5.8 5.5 1.1.3-5.8z" fill="#a2dabe"/>
<path d="M1041.2 184.7l.1 5.8 5.5-.3-.2-5.8z" fill="#ced8a4"/>
<path d="M1054.9 248l.6 6.5 5.5-1.8-.8-6.4z" fill="#74d0db"/>
<path d="M1032.1 189.1l-.4 5.8 5.6.5.1-5.8z" fill="#ccdaab"/>
<path d="M1046.6 204.2l.3 5.9 5.6-.9-.5-5.8z" fill="#b0d9b3"/>
<path d="M979.3 265.4l-1.8 6.4 3 3.2 1.7-6.5z" fill="#229cdc"/>
<path d="M961.7 316.5l-3.4 5.9 2.4 3.3 3.3-6z" fill="#5145d7"/>
<path d="M1025.6 217.8l-.5 5.8 5.7 1.1.3-5.8z" fill="#9bdac4"/>
<path d="M1036.6 184.6l-.1 5.8 5.7.1-.1-5.8z" fill="#cfd9a6"/>
<path d="M1055.4 253.6l.6 6.3 5.7-1.8-.8-6.3z" fill="#75cedf"/>
<path d="M1041.3 189.6l.1 5.9 5.7-.4-.3-5.8z" fill="#cad9a7"/>
<path d="M1031.7 194l-.3 5.8 5.7.6.2-5.9z" fill="#c7dbaf"/>
<path d="M1046.9 209.2l.3 5.9 5.7-1-.5-5.8z" fill="#a9dab8"/>
<path d="M1164.4 343.8l8 .4 1.6-3.4-8-.3z" fill="#3e26a9"/>
<path d="M1025.2 222.7l-.5 5.7 5.7 1.2.4-5.8z" fill="#95d9c9"/>
<path d="M1055.9 259l.6 6.2 5.8-1.9-.8-6.1z" fill="#78cde3"/>
<path d="M1036.5 189.5l-.1 5.9 5.9.1-.1-5.9z" fill="#cbdaaa"/>
<path d="M1047.1 214.2l.3 5.8 5.9-.9-.5-5.9z" fill="#a1dabe"/>
<path d="M971.9 291.1l-2.1 6.7 2.8 3.1 2.1-6.7z" fill="#5165f6"/>
<path d="M1041.3 194.6l.1 5.9 5.9-.4-.3-5.9z" fill="#c5daab"/>
<path d="M1031.4 198.9l-.3 5.9 5.9.6.1-5.9z" fill="#bedcb4"/>
<path d="M1092.7 253.1l2 6.6 3.4-3.1-2.1-6.5z" fill="#1eb0ca"/>
<path d="M955.3 326.7l-6.2 6.4 2.2 3.2 6.2-6.5z" fill="#5341c4"/>
<path d="M1111.3 309.8l2.6 6.5 2.7-3.2-2.7-6.4z" fill="#4843e5"/>
<path d="M1024.7 227.5l-.5 5.7 5.9 1.2.4-5.7z" fill="#90d9cf"/>
<path d="M1128.5 335.4l7.7 5 2.2-3.2-7.8-4.8z" fill="#4b37b9"/>
<path d="M1047.4 219.1l.3 5.9 6-1-.5-5.8z" fill="#9adac3"/>
<path d="M1036.4 194.5l-.2 5.9 6.1 0-.1-5.8z" fill="#c6dbad"/>
<path d="M1041.4 199.6l.1 5.9 6.1-.5-.3-5.8z" fill="#bbdbb1"/>
<path d="M1031.1 203.9l-.3 5.9 6.1.6.1-5.9z" fill="#b7ddb9"/>
<path d="M1024.3 232.3l-.6 5.6 6.1 1.3.4-5.7z" fill="#8dd8d3"/>
<path d="M982.6 255.8l-1.8 6 3.4 3 1.7-6z" fill="#23aed0"/>
<path d="M1094.3 258.8l1.7 6 3.5-3-1.8-6z" fill="#1fadcf"/>
<path d="M964.2 312.3l-2.7 5.6 2.7 3.2 2.6-5.7z" fill="#564de1"/>
<path d="M1047.6 224.1l.3 5.7 6.2-1-.5-5.7z" fill="#94d9c9"/>
<path d="M1113.4 315.4l2.6 5.7 2.8-3.1-2.7-5.7z" fill="#4d44df"/>
<path d="M1036.2 199.5l-.1 5.8 6.3.1-.1-5.9z" fill="#bddbb3"/>
<path d="M1023.8 237l-.5 5.5 6.2 1.3.4-5.6z" fill="#89d8d7"/>
<path d="M1030.8 208.9l-.3 5.8 6.2.7.2-5.9z" fill="#b0ddbe"/>
<path d="M1041.5 204.6l0 5.8 6.3-.4-.3-5.9z" fill="#b4dbb6"/>
<path d="M993.2 259.9l-1.4-5.4 4.2 2.6 1.3 5.3z" fill="#0ea8ca"/>
<path d="M975.2 281.7l-1.8 6.1 3.2 3.1 1.7-6.1z" fill="#4983f6"/>
<path d="M1047.9 228.9l.2 5.7 6.4-1-.5-5.7z" fill="#8fd8ce"/>
<path d="M1095.6 263.9l1.7 6.3 3.5-3-1.7-6.2z" fill="#23a8d5"/>
<path d="M1023.4 241.6l-.7 6.6 6.4 1.4.5-6.7z" fill="#87d7dc"/>
<path d="M1030.5 213.8l-.3 5.9 6.4.6.2-5.8z" fill="#aaddc4"/>
<path d="M1036.1 204.4l-.1 5.9 6.4.1 0-5.9z" fill="#b6dcb8"/>
<path d="M1041.5 209.5l.1 5.9 6.5-.4-.3-5.9z" fill="#addcbb"/>
<path d="M1149.7 343.5l7.9 1 2-3.4-8-.8z" fill="#3f28aa"/>
<path d="M1048.1 233.7l.3 5.7 6.5-1.1-.5-5.6z" fill="#8bd8d3"/>
<path d="M1022.8 247.3l-.6 6.5 6.6 1.4.4-6.5z" fill="#86d6e0"/>
<path d="M1030.2 218.8l-.3 5.8 6.6.6.1-5.8z" fill="#a4ddc9"/>
<path d="M1036 209.4l-.2 5.9 6.7.1-.1-5.9z" fill="#afddbd"/>
<path d="M1041.6 214.5l.1 5.9 6.6-.5-.3-5.8z" fill="#a5dcc1"/>
<path d="M1096.9 269.3l1.7 6.4 3.6-3-1.7-6.4z" fill="#2ea1de"/>
<path d="M1048.3 238.5l.3 5.6 6.7-1.1-.4-5.6z" fill="#88d7d7"/>
<path d="M1115.4 320.4l3.2 6 2.9-3.1-3.3-5.9z" fill="#5448d7"/>
<path d="M914.6 341.3l-8 .3 1.8 3.4 7.9-.5z" fill="#3e26a9"/>
<path d="M1029.9 223.7l-.3 5.8 6.8.6.1-5.8z" fill="#9eddce"/>
<path d="M1022.3 252.9l-.7 6.3 6.8 1.4.4-6.3z" fill="#88d5e4"/>
<path d="M1041.6 219.5l.1 5.8 6.9-.5-.3-5.8z" fill="#9fdbc6"/>
<path d="M1035.9 214.4l-.2 5.9 6.9.1-.1-5.9z" fill="#a8ddc3"/>
<path d="M978.5 271.8l-1.7 6.3 3.5 3 1.7-6.4z" fill="#3d9ae6"/>
<path d="M1048.6 243.2l.3 6.6 6.9-1.1-.5-6.6z" fill="#85d6db"/>
<path d="M1098.2 274.7l1.6 6.4 3.7-3-1.7-6.3z" fill="#3b99e6"/>
<path d="M907.6 341.5l-8.1.3 1.8 3.4 8-.4z" fill="#3e26a8"/>
<path d="M1029.6 228.6l-.4 5.7 7 .7.2-5.8z" fill="#9adcd3"/>
<path d="M1021.7 258.3l-.7 6.2 7 1.4.4-6.2z" fill="#8ad4e7"/>
<path d="M1041.7 224.4l.1 5.8 7-.5-.3-5.8z" fill="#99dbcc"/>
<path d="M1170.9 344.9l7.9.4 2-3.4-8.1-.3z" fill="#3e26a8"/>
<path d="M1035.7 219.4l-.1 5.8 7 .1-.1-5.8z" fill="#a2dcc8"/>
<path d="M992.7 254.9l-7.6-3 4.1 3.1 7.1 2.7z" fill="#0aacbe"/>
<path d="M1048.9 248.9l.3 6.5 7.1-1.1-.5-6.5z" fill="#84d5e0"/>
<path d="M900.5 341.8l-1.5 0 1.8 3.4 1.5-.1z" fill="#3e26a8"/>
<path d="M1099.5 280.2l1.6 6.2 3.7-2.9-1.7-6.2z" fill="#4892ee"/>
<path d="M970.8 297.8l-2.2 6.2 3.4 3.1 2-6.3z" fill="#6166f2"/>
<path d="M1029.3 233.4l-.4 5.6 7.2.7.1-5.6z" fill="#97dcd7"/>
<path d="M1177.8 345.2l1.5.1 2-3.4-1.6 0z" fill="#3e26a8"/>
<path d="M1041.8 229.3l0 5.7 7.2-.5-.2-5.7z" fill="#95dad1"/>
<path d="M1117.9 325.8l4 6 3-3.1-4.1-5.9z" fill="#5a4bd0"/>
<path d="M936 339.7l-7.9 1.6 2.3 3.3 7.9-1.7z" fill="#4630af"/>
<path d="M1035.6 224.3l-.1 5.8 7.2.1-.1-5.8z" fill="#9ddccd"/>
<path d="M1134.8 340.6l7.7 2.9 2.6-3.2-7.9-2.8z" fill="#4a35b3"/>
<path d="M1049.2 254.5l.4 6.4 7.2-1.2-.5-6.3z" fill="#86d4e3"/>
<path d="M981.9 261.8l-1.7 6.2 4 2.9 1.6-6.3z" fill="#35afd9"/>
<path d="M1029 238.1l-.4 5.6 7.4.7.1-5.6z" fill="#95dbdb"/>
<path d="M1100.8 285.5l1.6 6.1 3.8-2.9-1.7-6.1z" fill="#548af7"/>
<path d="M1041.8 234.1l.1 5.7 7.4-.5-.3-5.7z" fill="#91dad5"/>
<path d="M1035.5 229.2l-.2 5.7 7.4.1 0-5.7z" fill="#99dcd2"/>
<path d="M929 341l-8 .9 2.3 3.4 7.9-1.1z" fill="#412aab"/>
<path d="M1049.5 260l.4 6.2 7.5-1.2-.6-6.2z" fill="#88d3e6"/>
<path d="M1028.7 242.8l-.4 6.6 7.5.8.2-6.7z" fill="#93dbdf"/>
<path d="M1041.9 238.9l.1 5.6 7.5-.5-.3-5.6z" fill="#8fd9d9"/>
<path d="M974.5 287.8l-1.7 5.8 3.6 2.9 1.7-5.8z" fill="#5f81f9"/>
<path d="M1035.3 234l-.1 5.7 7.6.1-.1-5.7z" fill="#95dbd7"/>
<path d="M1102.1 290.7l1.6 5.9 3.8-3-1.7-5.8z" fill="#5f81f9"/>
<path d="M922 341.8l-8 .5 2.2 3.4 7.9-.8z" fill="#3f27a9"/>
<path d="M1156 345l7.9.7 2.4-3.3-8-.6z" fill="#3e27a9"/>
<path d="M1028.3 248.5l-.4 6.5 7.7.8.2-6.5z" fill="#93dae3"/>
<path d="M1041.9 243.6l.1 6.7 7.8-.6-.3-6.6z" fill="#8dd9dd"/>
<path d="M985.8 251.8l-2.1 6.5 4.4 2.8 1.9-6.6z" fill="#3ebbd1"/>
<path d="M1035.2 238.8l-.1 5.6 7.8.1-.1-5.6z" fill="#93dbdb"/>
<path d="M967.5 308.3l-2.7 6.4 3.5 3 2.5-6.5z" fill="#6763e9"/>
<path d="M1103.4 295.7l2 6.7 3.8-2.9-2.1-6.7z" fill="#6778f7"/>
<path d="M950.5 333.9l-7.7 5 2.9 3.1 7.6-5.1z" fill="#5a48bf"/>
<path d="M1121 331.3l6 6.6 3.2-3.1-6.2-6.4z" fill="#5f4ec8"/>
<path d="M1027.9 254.1l-.4 6.4 8 .8.2-6.4z" fill="#95d9e7"/>
<path d="M1035.1 243.5l-.2 6.6 8 .1-.1-6.6z" fill="#91dadf"/>
<path d="M1042 249.4l.1 6.5 8-.6-.3-6.5z" fill="#8cd8e1"/>
<path d="M1082.5 258.4l6.9-2.6 4.7-3-7.4 2.8z" fill="#0aacbe"/>
<path d="M977.9 278.1l-1.7 6.2 4.1 2.8 1.6-6.2z" fill="#5599ef"/>
<path d="M960 323.6l-4 5.9 3.3 3 3.9-6z" fill="#6658d3"/>
<path d="M943.6 338.3l-7.9 2.8 2.8 3.2 7.7-3z" fill="#503cb6"/>
<path d="M1105 301.5l2 6.3 3.9-2.9-2.1-6.2z" fill="#6d71f3"/>
<path d="M1027.6 259.6l-.5 6.2 8.2.8.2-6.2z" fill="#98d9e9"/>
<path d="M1042.1 255l.1 6.4 8.2-.6-.3-6.4z" fill="#8ed7e5"/>
<path d="M1034.9 249.2l-.2 6.5 8.3.2-.1-6.6z" fill="#91d9e3"/>
<path d="M1141.1 343.7l7.8 1.8 2.8-3.3-7.9-1.6z" fill="#452fae"/>
<path d="M969.8 304.1l-2.1 5.7 3.8 3 2-5.9z" fill="#6d6def"/>
<path d="M1106.6 307l2 5.8 4-2.9-2.1-5.8z" fill="#6f6fef"/>
<path d="M1042.2 260.5l.1 6.2 8.5-.6-.4-6.2z" fill="#91d6e8"/>
<path d="M1034.8 254.8l-.2 6.4 8.5.1-.1-6.3z" fill="#92d9e6"/>
<path d="M981.4 268l-1.6 6.3 4.5 2.7 1.5-6.3z" fill="#4aaee3"/>
<path d="M963.3 319l-3.2 5.9 3.6 3 3.1-6z" fill="#6c61dd"/>
<path d="M1034.6 260.3l-.2 6.2 8.8.1-.1-6.2z" fill="#95d8e9"/>
<path d="M1088.6 255.2l1.9 6.6 5-2.7-2-6.5z" fill="#52c2d6"/>
<path d="M974 293.6l-2.1 6.6 4.2 2.9 1.9-6.7z" fill="#7080f7"/>
<path d="M1162.4 346.1l8 .6 2.6-3.4-8.1-.4z" fill="#3e26a9"/>
<path d="M1108.2 312l2.4 6.4 4-2.9-2.6-6.3z" fill="#736feb"/>
<path d="M956.8 329.1l-6.1 6.5 3.5 3.1 5.9-6.7z" fill="#6758cb"/>
<path d="M985.1 258.2l-1.6 6 4.9 2.7 1.5-6z" fill="#4abdd9"/>
<path d="M1125.9 337.6l7.5 5.3 3.4-3.1-7.7-5.1z" fill="#5d4bc0"/>
<path d="M1090.2 260.9l1.6 6 5-2.7-1.7-5.9z" fill="#54c0db"/>
<path d="M966.1 314.8l-2.6 5.6 3.9 2.9 2.5-5.7z" fill="#726ae6"/>
<path d="M1110.2 317.6l2.5 5.8 4-2.9-2.6-5.7z" fill="#756de6"/>
<path d="M977.5 284.2l-1.6 6 4.5 2.8 1.6-6.1z" fill="#6a99f8"/>
<path d="M1091.5 266l1.5 6.3 5-2.7-1.6-6.2z" fill="#57bddf"/>
<path d="M1092.8 271.4l1.5 6.4 5-2.7-1.6-6.3z" fill="#5fb7e6"/>
<path d="M1147.3 345.8l7.9 1.1 3.1-3.2-8-1z" fill="#412aab"/>
<path d="M1112.2 322.6l3 6.1 4.1-2.9-3.2-6z" fill="#776ddf"/>
<path d="M981.2 274.2l-1.6 6.3 4.9 2.7 1.5-6.4z" fill="#60aceb"/>
<path d="M915.8 343.6l-8.1.5 2.8 3.3 8-.6z" fill="#3e26a9"/>
<path d="M1094.1 276.8l1.5 6.4 5-2.7-1.6-6.2z" fill="#69b1ec"/>
<path d="M995.5 257.8l-6.7-3.4 6.1 2 6.1 3.2z" fill="#0aacbe"/>
<path d="M908.8 343.9l-8.1.4 2.7 3.3 7.9-.5z" fill="#3e26a8"/>
<path d="M1095.4 282.3l1.5 6.2 5-2.6-1.6-6.2z" fill="#73abf2"/>
<path d="M1168.7 347.2l8 .5 2.8-3.3-8.1-.4z" fill="#3e26a8"/>
<path d="M973.3 300.2l-2.1 6.3 4.7 2.7 1.9-6.3z" fill="#7d81f4"/>
<path d="M985 264.1l-1.6 6.3 5.4 2.5 1.4-6.3z" fill="#58bddf"/>
<path d="M1114.6 328l3.8 6.1 4.2-2.9-4-6z" fill="#776bd8"/>
<path d="M1132 342.8l7.6 3.1 3.6-3.1-7.8-2.9z" fill="#5440b7"/>
<path d="M901.8 344.3l-1.6 0 2.7 3.4 1.6-.1z" fill="#3e26a8"/>
<path d="M1096.6 287.6l1.5 6.1 5.1-2.6-1.6-6.1z" fill="#7ca5f9"/>
<path d="M937.6 342.1l-7.9 1.7 3.4 3.2 7.8-1.9z" fill="#4a35b0"/>
<path d="M1175.6 347.6l1.6.2 2.8-3.4-1.6-.1z" fill="#3e26a8"/>
<path d="M977.3 290.2l-1.6 5.8 5 2.6 1.5-5.8z" fill="#7b97fa"/>
<path d="M930.6 343.4l-8.1 1.1 3.4 3.2 7.8-1.2z" fill="#432dac"/>
<path d="M1097.9 292.8l1.5 5.9 5.1-2.7-1.6-5.8z" fill="#839dfa"/>
<path d="M989.2 254.1l-1.9 6.5 5.9 2.5 1.7-6.6z" fill="#5dc6d9"/>
<path d="M923.5 344.1l-8.1.7 3.3 3.3 7.9-.9z" fill="#3f28aa"/>
<path d="M1077.3 260.2l5.8-3.1 6.7-1.9-6.6 3.3z" fill="#0aacbe"/>
<path d="M970.1 310.7l-2.5 6.4 4.6 2.7 2.4-6.4z" fill="#807ded"/>
<path d="M1099.2 297.8l1.8 6.7 5.1-2.6-1.9-6.7z" fill="#8996f9"/>
<path d="M1153.5 347.3l7.9.8 3.3-3.2-8-.7z" fill="#3f28a9"/>
<path d="M981.1 280.4l-1.6 6.2 5.4 2.6 1.5-6.3z" fill="#72abf2"/>
<path d="M952.6 336.2l-7.6 5.2 4.1 3 7.3-5.4z" fill="#6857c4"/>
<path d="M1117.7 333.4l5.7 6.8 4.3-2.8-6-6.7z" fill="#7567d0"/>
<path d="M1100.8 303.6l1.8 6.3 5.2-2.6-2-6.3z" fill="#8d90f6"/>
<path d="M962.5 325.9l-3.9 6.1 4.4 2.8 3.8-6.2z" fill="#7b6fd9"/>
<path d="M945.5 340.6l-7.8 3 3.9 3.1 7.6-3.3z" fill="#5845b9"/>
<path d="M985 270.3l-1.5 6.3 5.8 2.5 1.4-6.4z" fill="#68bbe7"/>
<path d="M972.7 306.4l-2 5.8 5.1 2.7 1.9-5.9z" fill="#8686f1"/>
<path d="M1138.1 345.9l7.8 2 3.9-3.2-8-1.8z" fill="#4a34b0"/>
<path d="M1102.4 309.1l1.8 5.8 5.2-2.6-2-5.8z" fill="#8e8ef2"/>
<path d="M1083.3 257.1l1.6 6.6 6.4-2.3-1.8-6.6z" fill="#6ccbdc"/>
<path d="M966 321.3l-3.1 6.1 4.8 2.7 2.9-6.1z" fill="#8279e2"/>
<path d="M977.2 295.9l-1.9 6.7 5.4 2.6 1.8-6.8z" fill="#8896f9"/>
<path d="M989.1 260.5l-1.6 6 6.4 2.3 1.3-6z" fill="#66c7de"/>
<path d="M1104 314.1l2.3 6.5 5.1-2.7-2.5-6.4z" fill="#8f8bef"/>
<path d="M1084.9 262.8l1.3 6.1 6.4-2.4-1.5-6z" fill="#6ecae0"/>
<path d="M959.4 331.4l-5.9 6.7 4.5 2.9 5.7-6.9z" fill="#796bd1"/>
<path d="M1159.8 348.4l7.9.7 3.5-3.2-8-.7z" fill="#3e26a9"/>
<path d="M1086.2 267.9l1.3 6.4 6.4-2.4-1.5-6.3z" fill="#72c7e4"/>
<path d="M1122.5 339.8l7.2 5.4 4.4-2.9-7.4-5.3z" fill="#6c5bc6"/>
<path d="M981.1 286.5l-1.5 6.1 5.8 2.4 1.4-6.1z" fill="#83aaf9"/>
<path d="M969.2 317.1l-2.5 5.7 5.1 2.7 2.3-5.8z" fill="#8882ea"/>
<path d="M1105.9 319.7l2.4 5.8 5.2-2.6-2.5-5.8z" fill="#8f89eb"/>
<path d="M1087.5 273.3l1.3 6.4 6.3-2.3-1.5-6.4z" fill="#79c3ea"/>
<path d="M985.2 276.5l-1.5 6.3 6.3 2.3 1.3-6.3z" fill="#79b9ee"/>
<path d="M1088.7 278.8l1.4 6.4 6.3-2.4-1.5-6.3z" fill="#81beef"/>
<path d="M1107.9 324.7l2.9 6.1 5.2-2.6-3.1-6.1z" fill="#8e86e5"/>
<path d="M1144.2 348l7.8 1.3 4.1-3.1-8-1.2z" fill="#432dac"/>
<path d="M1090 284.2l1.4 6.3 6.3-2.3-1.5-6.3z" fill="#89b8f4"/>
<path d="M989.4 266.3l-1.5 6.3 6.7 2.2 1.3-6.3z" fill="#71c7e4"/>
<path d="M917.7 346l-8.1.6 3.7 3.3 8-.8z" fill="#3e27a9"/>
<path d="M977 302.5l-1.9 6.3 5.8 2.5 1.8-6.4z" fill="#9296f6"/>
<path d="M1091.3 289.6l1.4 6.1 6.3-2.4-1.5-6z" fill="#91b4fa"/>
<path d="M910.6 346.2l-8.1.6 3.6 3.3 7.9-.7z" fill="#3e26a8"/>
<path d="M1110.4 330l3.5 6.2 5.3-2.6-3.8-6.1z" fill="#8c82de"/>
<path d="M994 256.2l-1.7 6.6 7.2 2.1 1.5-6.7z" fill="#72cede"/>
<path d="M1070.9 261.8l5-2.9 8-1.6-5.8 3.1z" fill="#1eb3c3"/>
<path d="M1166 349.4l7.9.7 3.2-3.1-7.6-.7z" fill="#3e26a8"/>
<path d="M981.3 292.4l-1.5 5.8 6.2 2.4 1.4-5.9z" fill="#90a7fb"/>
<path d="M1128.4 344.9l7.4 3.4 4.7-3-7.7-3.2z" fill="#5c49bb"/>
<path d="M1092.6 294.8l1.4 5.8 6.3-2.3-1.5-5.9z" fill="#97adfb"/>
<path d="M940 344.4l-7.8 1.9 4.4 3.1 7.7-2.1z" fill="#4e39b2"/>
<path d="M903.8 346.7l-1.8.1 3.6 3.3 1.7-.1z" fill="#3e26a8"/>
<path d="M1172.7 350l1.7.2 3.2-3.1-1.3-.3z" fill="#3e26a8"/>
<path d="M1093.9 299.7l1.7 6.8 6.3-2.4-1.9-6.7z" fill="#9ca7fa"/>
<path d="M932.9 345.7l-7.5 1.4 3.8 3 7.8-1.5z" fill="#452fad"/>
<path d="M973.8 313l-2.4 6.4 5.8 2.5 2.2-6.5z" fill="#9491f0"/>
<path d="M985.5 282.6l-1.4 6.2 6.6 2.3 1.3-6.3z" fill="#88b8f4"/>
<path d="M925.7 346.4l-7.5 1 3.6 3.1 7.4-1.2z" fill="#4029aa"/>
<path d="M1150.8 349.3l7.3 1.2 3.8-3-7.5-1z" fill="#4029aa"/>
<path d="M1095.5 305.6l1.7 6.4 6.3-2.4-1.9-6.3z" fill="#9fa2f7"/>
<path d="M1113.4 335.5l5.5 7 5.3-2.7-5.7-6.8z" fill="#867ad6"/>
<path d="M989.9 272.4l-1.4 6.3 7 2.2 1.3-6.4z" fill="#7ec5eb"/>
<path d="M955.6 338.5l-7.4 5.4 5.1 2.8 7-5.6z" fill="#7364c9"/>
<path d="M1076.7 258.8l1.4 6.7 7.7-2-1.7-6.7z" fill="#79d0df"/>
<path d="M966 328.2l-3.8 6.1 5.5 2.6 3.6-6.2z" fill="#8c82de"/>
<path d="M976.9 308.7l-1.9 5.8 6.2 2.4 1.7-5.9z" fill="#9999f4"/>
<path d="M948.3 342.8l-7.6 3.3 4.9 2.9 7.3-3.5z" fill="#604dbc"/>
<path d="M1097.1 311l1.7 6 6.3-2.4-1.9-5.9z" fill="#9f9ff4"/>
<path d="M994.3 262.5l-1.3 6.1 7.5 2 1.2-6.1z" fill="#7acee3"/>
<path d="M1078.3 264.5l1.1 6.1 7.7-2-1.4-6.1z" fill="#7ccfe3"/>
<path d="M981.7 298.1l-1.8 6.7 6.6 2.3 1.6-6.8z" fill="#9aa6fa"/>
<path d="M969.8 323.6l-2.9 6.1 5.8 2.5 2.7-6.2z" fill="#938ce6"/>
<path d="M1134.4 348l7.6 2.2 4.9-3-7.9-2z" fill="#4e39b2"/>
<path d="M1079.6 269.6l1.2 6.4 7.6-2-1.4-6.3z" fill="#7fcce7"/>
<path d="M1098.7 316l2.2 6.6 6.2-2.4-2.3-6.5z" fill="#9f9df1"/>
<path d="M1006.1 261.5l-5.3-2.9 8.8 1.3 4.3 2.8z" fill="#34bac9"/>
<path d="M986 288.6l-1.4 6.1 6.9 2.2 1.3-6.2z" fill="#95b6fa"/>
<path d="M1081 275l1.1 6.5 7.5-2.1-1.3-6.4z" fill="#86c9ec"/>
<path d="M962.9 333.7l-5.7 6.8 5.6 2.6 5.4-7z" fill="#877bd6"/>
<path d="M973.3 319.3l-2.3 5.8 6.1 2.4 2.2-5.9z" fill="#9994ed"/>
<path d="M1100.7 321.7l2.1 5.8 6.3-2.4-2.3-5.8z" fill="#9f9aee"/>
<path d="M1118.2 341.8l6.8 5.6 5.5-2.7-7.2-5.4z" fill="#7869cb"/>
<path d="M990.4 278.5l-1.3 6.4 7.4 2 1.2-6.4z" fill="#8cc3f0"/>
<path d="M1157 350.4l7.4 1.1 3.8-3-7.5-.9z" fill="#3e26a9"/>
<path d="M1082.3 280.5l1.2 6.4 7.4-2-1.3-6.4z" fill="#8ec4f1"/>
<path d="M1063.5 263.1l3.9-2.7 9.3-1.3-5 2.9z" fill="#3cbdcb"/>
<path d="M995.1 268.3l-1.3 6.3 7.8 1.9 1.1-6.4z" fill="#83cee8"/>
<path d="M1083.6 286l1.2 6.3 7.4-2.1-1.3-6.2z" fill="#95c0f5"/>
<path d="M1102.7 326.6l2.7 6.3 6.2-2.4-2.9-6.2z" fill="#9e97e8"/>
<path d="M1000.1 258l-1.4 6.7 8.3 1.7 1.2-6.7z" fill="#82d3e1"/>
<path d="M1085 291.3l1.2 6.2 7.3-2.1-1.3-6.1z" fill="#9cbbfa"/>
<path d="M981.8 304.6l-1.7 6.4 6.9 2.2 1.6-6.4z" fill="#a2a5f7"/>
<path d="M1141 350l7.1 1.7 4.5-3-7.4-1.5z" fill="#452fad"/>
<path d="M986.6 294.4l-1.4 5.9 7.3 2.1 1.2-5.9z" fill="#a0b4fb"/>
<path d="M1086.3 296.5l1.2 5.9 7.3-2-1.3-5.9z" fill="#a2b6fc"/>
<path d="M1105.2 332l3.3 6.3 6.3-2.4-3.6-6.2z" fill="#9b92e2"/>
<path d="M920.3 348.2l-7.5 1 4 3 7.3-1.1z" fill="#3e27a9"/>
<path d="M991.1 284.6l-1.3 6.2 7.7 2 1.2-6.3z" fill="#98c1f6"/>
<path d="M1069.2 260.1l1.1 6.8 8.7-1.6-1.4-6.7z" fill="#81d3e1"/>
<path d="M1087.6 301.5l1.5 6.8 7.3-2.1-1.6-6.8z" fill="#a6b0fa"/>
<path d="M913.1 348.5l-7.5.9 3.9 3 7.3-1z" fill="#3e26a8"/>
<path d="M1124.1 346.9l7.1 3.6 5.6-2.8-7.4-3.4z" fill="#6452be"/>
<path d="M978.6 315l-2.2 6.6 6.8 2.2 2-6.6z" fill="#a3a0f2"/>
<path d="M995.9 274.2l-1.2 6.5 8.1 1.8 1-6.5z" fill="#8ecced"/>
<path d="M1163.2 351.5l7.3 1 3.9-3-7.5-.9z" fill="#3e26a8"/>
<path d="M943.3 346.6l-7.3 2.2 5 2.9 6.9-2.4z" fill="#523eb4"/>
<path d="M1000.8 264.3l-1.1 6.1 8.6 1.6.9-6.1z" fill="#88d3e6"/>
<path d="M1070.8 265.9l.9 6.2 8.6-1.7-1.1-6.1z" fill="#84d2e5"/>
<path d="M1089.2 307.4l1.5 6.4 7.3-2.1-1.7-6.4z" fill="#a9acf8"/>
<path d="M936 347.9l-7.3 1.6 4.6 2.9 7-1.7z" fill="#4731ae"/>
<path d="M906.4 349.1l-1.3.4 3.9 3 1.2-.4z" fill="#3e26a8"/>
<path d="M1072.2 271.1l.9 6.4 8.6-1.7-1.2-6.4z" fill="#87d0e8"/>
<path d="M1169.7 352.2l1.3.3 3.9-3-1.3-.3z" fill="#3e26a8"/>
<path d="M1108.3 337.4l5.1 7.2 6.3-2.5-5.4-7z" fill="#9388da"/>
<path d="M982.1 310.7l-1.7 5.9 7.2 2.2 1.6-6z" fill="#a7a7f5"/>
<path d="M970.4 330.3l-3.5 6.3 6.5 2.3 3.3-6.3z" fill="#9a91e2"/>
<path d="M1090.8 312.8l1.5 6 7.3-2.1-1.7-5.9z" fill="#aaaaf5"/>
<path d="M1055.4 264l2.7-2.6 10.1-.8-3.9 2.7z" fill="#4ec3d0"/>
<path d="M928.7 348.6l-7.4 1.3 4.4 2.9 7.2-1.4z" fill="#412aaa"/>
<path d="M959.4 340.6l-7 5.6 6 2.6 6.7-5.7z" fill="#7e6fcd"/>
<path d="M987.2 300l-1.6 6.8 7.6 2 1.4-6.8z" fill="#a8b2fa"/>
<path d="M1147.1 351.5l7.1 1.3 4.5-2.9-7.3-1.2z" fill="#4029aa"/>
<path d="M1073.6 276.5l.9 6.5 8.5-1.7-1.1-6.5z" fill="#8dcced"/>
<path d="M991.9 290.5l-1.2 6.1 7.9 1.9 1.1-6.2z" fill="#a3c0fa"/>
<path d="M974.6 325.7l-2.8 6.2 6.9 2.2 2.5-6.3z" fill="#a19ae9"/>
<path d="M952 345l-7.4 3.5 5.8 2.7 7-3.7z" fill="#6755bf"/>
<path d="M1092.6 317.8l1.9 6.6 7.2-2.1-2.1-6.6z" fill="#aaa7f3"/>
<path d="M996.8 280.3l-1.2 6.4 8.4 1.7 1-6.4z" fill="#99caf2"/>
<path d="M1074.9 282l1 6.4 8.5-1.7-1.2-6.4z" fill="#95c8f2"/>
<path d="M1007.3 259.5l-1.2 6.8 9.3 1.4.9-6.8z" fill="#8bd6e4"/>
<path d="M1001.8 269.9l-1 6.4 8.8 1.6.9-6.4z" fill="#8fd3ea"/>
<path d="M1130.5 350l6.8 2.5 5.3-2.8-7.1-2.3z" fill="#523eb4"/>
<path d="M978.5 321.4l-2.2 5.8 7.2 2.2 1.9-6z" fill="#a6a2ef"/>
<path d="M1076.3 287.4l1 6.4 8.4-1.7-1.2-6.3z" fill="#9cc4f6"/>
<path d="M1094.5 323.5l1.9 5.9 7.3-2.1-2.2-5.9z" fill="#aaa5f0"/>
<path d="M967.3 335.8l-5.4 7 6.6 2.4 5-7.2z" fill="#9388da"/>
<path d="M1060.8 261.2l.8 6.8 9.6-1.2-1.2-6.8z" fill="#86d5e3"/>
<path d="M1077.7 292.8l1 6.2 8.3-1.8-1.2-6.1z" fill="#a3c0fa"/>
<path d="M1113.1 343.7l6.5 5.9 6.4-2.5-6.9-5.7z" fill="#8375ce"/>
<path d="M987.7 306.5l-1.6 6.4 7.9 1.9 1.4-6.4z" fill="#aeb1f8"/>
<path d="M1096.6 328.4l2.5 6.3 7.1-2.1-2.6-6.3z" fill="#a8a2eb"/>
<path d="M992.8 296.3l-1.2 5.9 8.2 1.8 1-6z" fill="#abbdfc"/>
<path d="M1079.1 298l1 6 8.3-1.8-1.2-5.9z" fill="#a9bbfc"/>
<path d="M1153.2 352.6l7.1 1.2 4.6-2.9-7.3-1.1z" fill="#3e27a9"/>
<path d="M1008.3 265.8l-.9 6.1 9.4 1.3.7-6.2z" fill="#90d6e7"/>
<path d="M1062.4 267l.7 6.2 9.5-1.3-1-6.1z" fill="#89d4e6"/>
<path d="M997.8 286.3l-1.1 6.3 8.6 1.6.9-6.3z" fill="#a3c8f7"/>
<path d="M1002.9 275.8l-1 6.5 9.1 1.5.8-6.5z" fill="#98d1ef"/>
<path d="M1080.4 303l1.3 6.9 8.3-1.8-1.5-6.8z" fill="#adb6fb"/>
<path d="M1063.9 272.2l.7 6.4 9.4-1.3-1-6.4z" fill="#8dd2e9"/>
<path d="M1099.2 333.8l3 6.4 7.2-2.2-3.3-6.3z" fill="#a59de5"/>
<path d="M1136.6 352.1l6.8 1.8 5.3-2.8-7.1-1.7z" fill="#4731ae"/>
<path d="M1015.4 260.8l-.9 6.7 9.9 1 .6-6.8z" fill="#8ed8e4"/>
<path d="M984.3 316.9l-1.9 6.6 7.7 2 1.7-6.7z" fill="#aeacf3"/>
<path d="M1082 308.9l1.3 6.5 8.3-1.8-1.5-6.5z" fill="#b0b2f9"/>
<path d="M1065.3 277.6l.7 6.5 9.4-1.3-1-6.5z" fill="#93ceee"/>
<path d="M1009.6 271.3l-.9 6.4 9.6 1.2.6-6.4z" fill="#95d5eb"/>
<path d="M923.6 350.5l-7.3 1.1 4.7 2.9 7.1-1.3z" fill="#3f27a9"/>
<path d="M1051.9 261.9l.4 6.8 10.2-.8-.8-6.8z" fill="#8ad6e3"/>
<path d="M1119 348.8l6.8 3.8 6.5-2.6-7.2-3.6z" fill="#6b5ac1"/>
<path d="M993.7 301.8l-1.4 6.8 8.5 1.7 1.2-6.9z" fill="#b2bbfb"/>
<path d="M1004.1 281.8l-1 6.5 9.3 1.3.7-6.5z" fill="#a1cef3"/>
<path d="M998.8 292.1l-1 6.2 8.8 1.6.9-6.3z" fill="#acc6fb"/>
<path d="M1066.8 283.2l.7 6.4 9.3-1.3-1-6.5z" fill="#9acbf2"/>
<path d="M988.3 312.6l-1.5 5.9 8.2 1.9 1.3-6z" fill="#b2b2f6"/>
<path d="M1083.6 314.4l1.3 6 8.3-1.8-1.6-6z" fill="#b0b0f6"/>
<path d="M916.2 350.8l-7.3 1 4.5 2.9 7.1-1.2z" fill="#3e26a8"/>
<path d="M947.3 348.8l-7 2.4 5.7 2.7 6.6-2.6z" fill="#5642b5"/>
<path d="M1159.3 353.6l7.1 1.2 4.6-2.9-7.3-1.1z" fill="#3e26a8"/>
<path d="M975.8 332.3l-3.3 6.3 7.4 2.2 3-6.5z" fill="#a59ce5"/>
<path d="M1102.4 339.2l4.7 7.3 7.2-2.2-5.1-7.2z" fill="#9d93dd"/>
<path d="M1068.2 288.7l.8 6.3 9.2-1.4-1-6.3z" fill="#a1c7f6"/>
<path d="M1016.6 266.9l-.7 6.2 10.1.8.4-6.2z" fill="#93d7e8"/>
<path d="M1085.6 319.4l1.7 6.6 8.1-1.8-1.9-6.6z" fill="#b1aef4"/>
<path d="M1053.5 267.7l.4 6.2 10.1-.8-.7-6.2z" fill="#8dd5e7"/>
<path d="M939.7 350.1l-7 1.7 5.4 2.8 6.8-1.9z" fill="#4933ae"/>
<path d="M1024.1 261.6l-.6 6.8 10.4.6.3-6.9z" fill="#8fd8e5"/>
<path d="M980.3 327.6l-2.5 6.3 7.7 2 2.2-6.4z" fill="#aba5ec"/>
<path d="M964.1 342.7l-6.6 5.8 6.9 2.4 6.2-6z" fill="#8679d0"/>
<path d="M1069.7 294l.7 6.3 9.2-1.5-1-6.1z" fill="#a8c3fb"/>
<path d="M1042.6 262.2l.1 6.8 10.5-.3-.4-6.9z" fill="#8dd7e4"/>
<path d="M1010.9 277.1l-.8 6.6 9.7 1 .6-6.5z" fill="#9dd3f0"/>
<path d="M909.7 351.5l-1.3.4 4.6 2.9 1.2-.4z" fill="#3e26a8"/>
<path d="M932.3 350.8l-7.2 1.4 5.2 2.8 6.8-1.5z" fill="#422bab"/>
<path d="M1055 273l.4 6.4 10.1-.9-.7-6.4z" fill="#90d3ea"/>
<path d="M1142.7 353.5l6.8 1.5 5.3-2.7-7.1-1.4z" fill="#412aaa"/>
<path d="M1165.7 354.4l1.2.4 4.6-2.9-1.2-.3z" fill="#3e26a8"/>
<path d="M984.6 323.2l-2 6 8.1 1.8 1.7-6z" fill="#b0acf1"/>
<path d="M956.4 347.1l-7.1 3.6 6.7 2.6 6.7-3.9z" fill="#6d5cc2"/>
<path d="M1005.3 287.7l-.9 6.4 9.4 1.3.7-6.4z" fill="#aaccf7"/>
<path d="M1033.3 262.1l-.3 6.8 10.6.1-.1-6.8z" fill="#8ed7e4"/>
<path d="M1087.5 325.1l1.7 6 8.1-1.9-1.9-6z" fill="#b0acf1"/>
<path d="M1000 297.8l-1.1 6 9.1 1.4.8-6z" fill="#b3c3fc"/>
<path d="M1071.1 299.3l.8 6 9.1-1.5-1-5.9z" fill="#aebffc"/>
<path d="M994.5 308.2l-1.3 6.5 8.7 1.6 1.1-6.5z" fill="#b7b9f9"/>
<path d="M1018 272.4l-.6 6.4 10.2.8.3-6.5z" fill="#97d6eb"/>
<path d="M1056.5 278.4l.5 6.6 9.9-1-.7-6.5z" fill="#97d0ef"/>
<path d="M972.6 337.7l-5 7.2 7.4 2.2 4.6-7.4z" fill="#9c92dd"/>
<path d="M1025.5 267.7l-.4 6.2 10.4.4.2-6.2z" fill="#93d7e8"/>
<path d="M1044.2 268.1l.1 6.2 10.5-.4-.4-6.2z" fill="#90d6e7"/>
<path d="M1125.5 352l6.4 2.6 6.1-2.6-6.8-2.5z" fill="#5642b6"/>
<path d="M1072.5 304.3l1 6.9 9.1-1.5-1.3-6.9z" fill="#b2bafb"/>
<path d="M1089.8 330l2.1 6.4 8-1.9-2.4-6.3z" fill="#afa9ec"/>
<path d="M1034.8 268.1l-.2 6.2 10.6 0-.1-6.2z" fill="#92d7e8"/>
<path d="M1012.2 283l-.7 6.5 9.8 1 .5-6.5z" fill="#a5d0f4"/>
<path d="M1107.3 345.5l6 6 7.2-2.3-6.4-5.8z" fill="#8b7ed2"/>
<path d="M1058 284l.5 6.5 9.9-1-.7-6.5z" fill="#9ecdf3"/>
<path d="M1045.7 273.4l.2 6.5 10.4-.5-.4-6.5z" fill="#93d4eb"/>
<path d="M1006.6 293.5l-.9 6.2 9.6 1.2.6-6.2z" fill="#b1cafb"/>
<path d="M1074.1 310.2l1 6.5 9.1-1.5-1.3-6.5z" fill="#b4b7f9"/>
<path d="M991 318.6l-1.8 6.7 8.6 1.7 1.5-6.7z" fill="#b6b4f5"/>
<path d="M1019.5 278.1l-.6 6.6 10.2.6.4-6.5z" fill="#9ed3f0"/>
<path d="M1027 273.1l-.3 6.5 10.4.3.1-6.5z" fill="#97d6eb"/>
<path d="M1059.5 289.5l.5 6.4 9.9-1-.8-6.4z" fill="#a5c9f7"/>
<path d="M1001.1 303.3l-1.2 6.9 9.3 1.3.9-6.9z" fill="#b8c0fb"/>
<path d="M1092.4 335.4l2.7 6.5 8-1.9-3-6.5z" fill="#aca4e7"/>
<path d="M1036.3 273.4l-.1 6.5 10.6-.1-.2-6.4z" fill="#95d5eb"/>
<path d="M1148.8 354.7l6.8 1.4 5.3-2.8-7.1-1.3z" fill="#3f27a9"/>
<path d="M1047.3 278.9l.2 6.6 10.4-.6-.5-6.5z" fill="#9ad1ef"/>
<path d="M995.4 314.2l-1.3 6 8.9 1.6 1.1-6.1z" fill="#b9b9f7"/>
<path d="M1075.7 315.7l1.1 6.1 9-1.6-1.3-6z" fill="#b5b5f7"/>
<path d="M1061 295l.6 6.2 9.7-1.1-.8-6.2z" fill="#abc6fb"/>
<path d="M1013.6 288.9l-.7 6.4 10 .9.4-6.4z" fill="#accdf7"/>
<path d="M1028.6 278.8l-.3 6.5 10.5.3 0-6.6z" fill="#9dd3f0"/>
<path d="M1021 283.9l-.6 6.5 10.3.6.3-6.5z" fill="#a5d0f4"/>
<path d="M1078 320.7l1.3 6.7 8.9-1.6-1.7-6.6z" fill="#b5b3f5"/>
<path d="M1048.8 284.5l.3 6.6 10.3-.6-.5-6.6z" fill="#a1cef3"/>
<path d="M1037.9 279l0 6.6 10.5-.2-.2-6.5z" fill="#9cd2ef"/>
<path d="M1131.6 354l6.5 2 6-2.6-6.8-1.9z" fill="#4933ae"/>
<path d="M1007.9 299.1l-.8 6 9.6 1.1.6-6z" fill="#b7c6fc"/>
<path d="M1062.5 300.2l.6 6 9.7-1.1-.8-6z" fill="#b1c1fc"/>
<path d="M982 334.1l-2.9 6.4 8.2 1.9 2.6-6.5z" fill="#ada5e7"/>
<path d="M1113.3 350.6l6.3 4 7.3-2.4-6.8-3.8z" fill="#7160c3"/>
<path d="M986.8 329.3l-2.2 6.3 8.5 1.8 1.9-6.4z" fill="#b3aeed"/>
<path d="M1095.8 340.8l4.2 7.4 8-2-4.7-7.2z" fill="#a49ae0"/>
<path d="M1002.2 309.6l-1.2 6.5 9.5 1.3.9-6.5z" fill="#bcbefa"/>
<path d="M1050.4 290.1l.3 6.4 10.2-.6-.5-6.4z" fill="#a8cbf7"/>
<path d="M1064 305.3l.7 6.9 9.7-1.1-1-7z" fill="#b5bdfb"/>
<path d="M1015 294.6l-.6 6.2 10 .8.4-6.2z" fill="#b2cbfb"/>
<path d="M927.5 352.6l-7.1 1.3 5.4 2.8 6.8-1.4z" fill="#3f28a9"/>
<path d="M1030.1 284.5l-.3 6.5 10.6.2 0-6.5z" fill="#a4d0f4"/>
<path d="M1039.5 284.7l0 6.5 10.5-.2-.3-6.5z" fill="#a3cff3"/>
<path d="M991.5 324.9l-1.7 6 8.8 1.6 1.4-6.1z" fill="#b8b4f2"/>
<path d="M1079.8 326.4l1.4 6.1 8.9-1.6-1.7-6z" fill="#b5b1f2"/>
<path d="M952 350.8l-6.6 2.6 6.5 2.5 6.2-2.7z" fill="#5945b7"/>
<path d="M1022.4 289.7l-.4 6.4 10.3.5.2-6.4z" fill="#accdf7"/>
<path d="M969.6 344.6l-6.2 6 7.7 2.1 5.7-6.1z" fill="#8d81d3"/>
<path d="M920 353l-7.1 1.1 5.1 2.8 6.9-1.3z" fill="#3e26a8"/>
<path d="M1051.9 295.6l.3 6.2 10.3-.7-.6-6.2z" fill="#aec8fb"/>
<path d="M1154.9 355.7l6.8 1.3 5.3-2.8-7.1-1.2z" fill="#3e26a8"/>
<path d="M1009.2 304.5l-.9 6.9 9.8 1.1.7-7z" fill="#bbc3fb"/>
<path d="M944.2 352.2l-6.7 1.9 6.1 2.6 6.4-2.1z" fill="#4a34af"/>
<path d="M1065.6 311.2l.8 6.6 9.6-1.2-1-6.5z" fill="#b8baf9"/>
<path d="M1041 290.3l.1 6.4 10.5-.2-.3-6.4z" fill="#aaccf7"/>
<path d="M1082.2 331.4l1.8 6.5 8.8-1.7-2.1-6.4z" fill="#b4afee"/>
<path d="M1031.6 290.2l-.2 6.4 10.6.1-.1-6.4z" fill="#abcdf7"/>
<path d="M961.6 349l-6.8 3.9 7.5 2.3 6.2-4z" fill="#7262c4"/>
<path d="M978.7 339.5l-4.6 7.3 8.2 2 4.1-7.5z" fill="#a49ae0"/>
<path d="M998.4 320.1l-1.5 6.7 9.2 1.4 1.2-6.8z" fill="#bcbaf5"/>
<path d="M936.5 352.9l-6.8 1.5 5.8 2.7 6.6-1.7z" fill="#432cab"/>
<path d="M1016.5 300.1l-.7 6 10.2.8.4-6z" fill="#b8c7fc"/>
<path d="M1053.4 300.9l.4 6 10.2-.7-.6-6.1z" fill="#b3c3fc"/>
<path d="M1137.7 355.5l6.6 1.7 5.9-2.7-6.9-1.5z" fill="#422bab"/>
<path d="M1023.9 295.3l-.4 6.3 10.4.4.2-6.2z" fill="#b2cbfb"/>
<path d="M1003.2 315.6l-1 6 9.6 1.2.8-6z" fill="#bdbdf8"/>
<path d="M1067.2 316.8l.8 6.1 9.7-1.3-1.1-6z" fill="#b9b9f7"/>
<path d="M913.6 353.8l-1.2.4 5.2 2.8 1.2-.4z" fill="#3e26a8"/>
<path d="M1042.6 295.8l.1 6.3 10.4-.3-.3-6.3z" fill="#b0c9fb"/>
<path d="M1161 356.6l1.2.5 5.3-2.8-1.3-.4z" fill="#3e26a8"/>
<path d="M1100.8 347.2l5.4 6.2 8.1-2.1-6-6.1z" fill="#9285d4"/>
<path d="M1119.8 353.9l6 2.7 6.8-2.4-6.4-2.7z" fill="#5a46b7"/>
<path d="M1033.2 295.8l-.2 6.2 10.6.1-.1-6.3z" fill="#b2cafb"/>
<path d="M1055 305.9l.4 7 10.2-.8-.7-6.9z" fill="#b7c0fb"/>
<path d="M1084.9 336.8l2.3 6.6 8.8-1.7-2.7-6.5z" fill="#b1aae9"/>
<path d="M1069.7 321.8l1 6.7 9.5-1.2-1.4-6.7z" fill="#b9b7f5"/>
<path d="M1010.5 310.8l-.9 6.5 10 1 .6-6.6z" fill="#bec0fa"/>
<path d="M1025.5 300.8l-.4 6 10.4.4.2-6z" fill="#b8c7fc"/>
<path d="M1044.1 301.2l.2 6 10.4-.4-.4-6z" fill="#b5c5fc"/>
<path d="M1017.9 305.4l-.7 7 10.3.7.4-7z" fill="#bcc4fb"/>
<path d="M1034.8 301.2l-.2 6 10.6 0-.2-6z" fill="#b7c6fc"/>
<path d="M1056.6 311.9l.5 6.6 10.1-.8-.7-6.6z" fill="#babcf9"/>
<path d="M994.1 330.8l-1.9 6.4 9.2 1.5 1.5-6.5z" fill="#b9b4ef"/>
<path d="M999.2 326.3l-1.5 6 9.5 1.3 1.1-6.1z" fill="#bcb9f3"/>
<path d="M989 335.7l-2.6 6.5 8.9 1.6 2.2-6.6z" fill="#b3ace9"/>
<path d="M1071.4 327.6l1.2 6 9.5-1.3-1.4-6z" fill="#b9b5f3"/>
<path d="M1045.7 306.3l.2 7 10.4-.4-.4-7z" fill="#b9c1fb"/>
<path d="M1143.8 356.7l6.5 1.5 5.9-2.7-6.8-1.4z" fill="#3f28a9"/>
<path d="M1027 306l-.4 7 10.5.3.1-7z" fill="#bcc3fb"/>
<path d="M1088.5 342.3l3.7 7.5 8.7-1.8-4.2-7.4z" fill="#a9a0e2"/>
<path d="M1011.7 316.7l-.8 6 10.1.9.6-6.1z" fill="#bfbff8"/>
<path d="M1058.2 317.5l.5 6.1 10.2-.8-.8-6.1z" fill="#bbbbf7"/>
<path d="M1006.4 321.3l-1.2 6.8 9.8 1 .9-6.8z" fill="#bfbdf6"/>
<path d="M1036.3 306.3l-.1 7 10.6 0-.2-7z" fill="#bbc3fb"/>
<path d="M1019.3 311.7l-.6 6.5 10.3.6.4-6.6z" fill="#bfc1fa"/>
<path d="M1126 355.9l6.1 2.1 6.6-2.5-6.4-2z" fill="#4a35af"/>
<path d="M1107 352.3l5.8 4.1 8-2.1-6.4-4z" fill="#7666c6"/>
<path d="M1074 332.6l1.5 6.5 9.4-1.4-1.8-6.4z" fill="#b8b3ef"/>
<path d="M1047.3 312.3l.2 6.6 10.5-.5-.5-6.5z" fill="#bcbefa"/>
<path d="M975.8 346.3l-5.7 6.2 8.5 1.9 5-6.3z" fill="#9387d5"/>
<path d="M1060.9 322.6l.8 6.8 9.9-1-1-6.7z" fill="#bcbaf5"/>
<path d="M985.4 341.1l-4 7.5 8.9 1.6 3.5-7.5z" fill="#aaa1e2"/>
<path d="M957.4 352.8l-6.2 2.7 7.2 2.4 5.8-2.9z" fill="#5c49b8"/>
<path d="M1028.5 312.2l-.4 6.6 10.6.2.1-6.6z" fill="#bec0fa"/>
<path d="M1037.9 312.4l-.1 6.6 10.6-.1-.2-6.6z" fill="#bec0fa"/>
<path d="M932 354.7l-6.8 1.5 6.1 2.6 6.4-1.5z" fill="#3f28a9"/>
<path d="M1020.7 317.5l-.6 6.1 10.5.5.3-6.1z" fill="#c0c0f8"/>
<path d="M1048.9 318l.3 6.1 10.4-.5-.5-6.1z" fill="#bdbdf8"/>
<path d="M1076.9 338l1.9 6.7 9.3-1.5-2.3-6.6z" fill="#b5aeea"/>
<path d="M967.4 350.8l-6.2 4.1 8.1 2.1 5.7-4.2z" fill="#7767c6"/>
<path d="M949.3 354.1l-6.3 2.1 6.8 2.4 6-2.1z" fill="#4c36b0"/>
<path d="M924.3 355.1l-6.9 1.3 5.8 2.7 6.6-1.5z" fill="#3e26a8"/>
<path d="M1007.4 327.4l-1.1 6.1 10 1 .8-6.1z" fill="#bfbcf4"/>
<path d="M1062.6 328.4l.8 6.1 10.1-1-1.2-6.1z" fill="#bcb8f3"/>
<path d="M1149.9 357.7l6.6 1.4 5.8-2.6-6.8-1.4z" fill="#3e26a8"/>
<path d="M1015 322.3l-.9 6.7 10.2.8.6-6.8z" fill="#c0bff6"/>
<path d="M1093.7 348.6l4.8 6.4 8.7-1.9-5.4-6.2z" fill="#978bd6"/>
<path d="M1002.1 332.1l-1.6 6.5 9.7 1.1 1.2-6.5z" fill="#bcb8f0"/>
<path d="M941.4 354.9l-6.5 1.7 6.4 2.5 6.3-1.8z" fill="#432dab"/>
<path d="M1030 317.9l-.3 6.2 10.6.2 0-6.2z" fill="#c0c0f8"/>
<path d="M1039.4 318.1l0 6.2 10.7-.2-.3-6.2z" fill="#bfbff8"/>
<path d="M1132.2 357.4l6.1 1.8 6.6-2.5-6.5-1.7z" fill="#432cab"/>
<path d="M1051.8 323.1l.4 6.8 10.4-.6-.8-6.8z" fill="#bebcf6"/>
<path d="M996.6 337.1l-2.2 6.6 9.5 1.3 1.8-6.7z" fill="#b7b1eb"/>
<path d="M1113.4 355.6l5.6 2.9 7.5-2.3-6-2.8z" fill="#5d4ab8"/>
<path d="M1065.4 333.5l1.1 6.5 9.9-1-1.5-6.5z" fill="#bbb6ef"/>
<path d="M918.2 356l-1.2.5 5.8 2.6 1.1-.4z" fill="#3e26a8"/>
<path d="M1155.8 358.7l1.1.5 5.9-2.7-1.2-.4z" fill="#3e26a8"/>
<path d="M1024 322.9l-.6 6.8 10.5.4.2-6.8z" fill="#c1bff6"/>
<path d="M1080.7 343.5l3 7.6 9.4-1.5-3.7-7.5z" fill="#aea5e3"/>
<path d="M1042.5 323.3l.1 6.9 10.5-.3-.4-6.8z" fill="#bfbdf6"/>
<path d="M1016.2 328.3l-.8 6.1 10.3.7.5-6.1z" fill="#c0bdf4"/>
<path d="M1053.5 329l.5 6.1 10.3-.6-.8-6.2z" fill="#bebaf3"/>
<path d="M1033.2 323.3l-.2 6.8 10.5.1-.1-6.9z" fill="#c0bef6"/>
<path d="M1010.5 333.1l-1.2 6.5 10.1.9.9-6.6z" fill="#bfbaf0"/>
<path d="M992.9 342.5l-3.5 7.6 9.5 1.4 2.9-7.7z" fill="#aea6e3"/>
<path d="M1068.3 338.9l1.5 6.8 9.9-1.2-1.9-6.6z" fill="#b8b2eb"/>
<path d="M1100.1 353.8l5.2 4.3 8.7-1.9-5.9-4.2z" fill="#7b6bc7"/>
<path d="M982.6 347.9l-5 6.3 9 1.7 4.5-6.4z" fill="#988dd7"/>
<path d="M1138.2 358.6l6.2 1.6 6.6-2.5-6.6-1.6z" fill="#3f28a9"/>
<path d="M1025.3 328.9l-.5 6.2 10.6.3.2-6.1z" fill="#c1bdf4"/>
<path d="M1044.1 329.3l.2 6.1 10.6-.3-.5-6.2z" fill="#bfbcf4"/>
<path d="M1119.7 357.6l5.7 2.3 7.3-2.3-6.1-2.2z" fill="#4c37b0"/>
<path d="M1056.4 334.1l.7 6.6 10.3-.8-1.1-6.5z" fill="#bdb8f0"/>
<path d="M1004.8 338.2l-1.8 6.7 10 1 1.3-6.7z" fill="#bab4eb"/>
<path d="M1034.7 329.2l-.2 6.2 10.7 0-.2-6.2z" fill="#c0bdf4"/>
<path d="M963.4 354.6l-5.7 2.8 7.8 2.2 5.3-3z" fill="#5f4cba"/>
<path d="M973.9 352.5l-5.7 4.2 8.8 1.9 5.1-4.4z" fill="#7b6cc8"/>
<path d="M1086 349.9l4.2 6.5 9.3-1.6-4.8-6.4z" fill="#9b90d8"/>
<path d="M1019.4 333.8l-.9 6.6 10.5.6.4-6.6z" fill="#c0bbf0"/>
<path d="M1047.2 334.5l.3 6.6 10.5-.5-.7-6.6z" fill="#bebaf0"/>
<path d="M937.1 356.7l-6.5 1.6 6.7 2.5 6.1-1.7z" fill="#3f28a9"/>
<path d="M1072.4 344.5l2.4 7.7 9.9-1.2-3.1-7.6z" fill="#b1a9e4"/>
<path d="M955.1 356l-6 2.2 7.4 2.3 5.6-2.3z" fill="#4d38b0"/>
<path d="M1059.4 339.6l1 6.8 10.3-.8-1.5-6.7z" fill="#bab4eb"/>
<path d="M1028.5 334.3l-.4 6.6 10.6.2 0-6.6z" fill="#c0bbf0"/>
<path d="M1037.8 334.5l0 6.6 10.6-.1-.3-6.6z" fill="#bfbbf0"/>
<path d="M929.2 357.1l-6.6 1.4 6.4 2.6 6.2-1.6z" fill="#3e26a8"/>
<path d="M1106.5 357.2l5.1 3 8.1-2.1-5.6-2.9z" fill="#604dba"/>
<path d="M1144.4 359.6l6.3 1.6 6.4-2.6-6.5-1.5z" fill="#3e26a8"/>
<path d="M946.9 356.8l-6.2 1.8 7.1 2.4 5.8-1.9z" fill="#442dac"/>
<path d="M1013.4 339.1l-1.3 6.7 10.3.8.9-6.8z" fill="#bcb6ec"/>
<path d="M1000.8 343.7l-2.9 7.7 10 1.1 2.3-7.7z" fill="#b2aae5"/>
<path d="M1126 359.1l5.8 2 7.2-2.4-6.2-1.8z" fill="#432dab"/>
<path d="M990.1 349.3l-4.4 6.5 9.6 1.4 3.7-6.6z" fill="#9c91d9"/>
<path d="M1050.2 340.1l.6 6.8 10.5-.6-1-6.7z" fill="#bcb6ec"/>
<path d="M1092.6 355.1l4.6 4.5 9.3-1.7-5.3-4.4z" fill="#7e6fc9"/>
<path d="M923.3 358.1l-1.1.5 6.4 2.6 1.1-.5z" fill="#3e26a8"/>
<path d="M1022.4 339.8l-.9 6.7 10.6.4.4-6.7z" fill="#bdb7ec"/>
<path d="M1150 360.7l1.1.5 6.4-2.5-1.1-.5z" fill="#3e26a8"/>
<path d="M1063.7 345.3l1.7 7.8 10.3-1-2.4-7.7z" fill="#b3abe5"/>
<path d="M1040.9 340.2l.1 6.8 10.7-.2-.6-6.8z" fill="#bdb7ec"/>
<path d="M1077.9 351l3.4 6.6 9.9-1.4-4.2-6.5z" fill="#9f94d9"/>
<path d="M1031.6 340.1l-.4 6.8 10.7.1-.1-6.8z" fill="#bdb7ec"/>
<path d="M1009.3 344.7l-2.3 7.7 10.3.9 1.7-7.8z" fill="#b4ace5"/>
<path d="M1113 359.2l5.2 2.5 7.9-2.2-5.7-2.3z" fill="#4e38b1"/>
<path d="M981 354l-5.2 4.4 9.4 1.6 4.4-4.5z" fill="#7f70c9"/>
<path d="M970.1 356.2l-5.3 3 8.5 2 4.8-3.1z" fill="#624fbb"/>
<path d="M1132.1 360.3l5.9 1.8 7.1-2.4-6.2-1.6z" fill="#3f28a9"/>
<path d="M1054.7 345.8l1.1 7.8 10.6-.6-1.8-7.8z" fill="#b5ade6"/>
<path d="M961.4 357.7l-5.6 2.3 8.1 2.2 5.1-2.5z" fill="#4f39b1"/>
<path d="M998 350.5l-3.7 6.6 10.1 1.1 3-6.6z" fill="#a095da"/>
<path d="M1018.1 345.4l-1.7 7.8 10.7.6.9-7.9z" fill="#b5aee6"/>
<path d="M1099 358.6l4.6 3.1 8.7-1.9-5.1-3z" fill="#6250bb"/>
<path d="M942.8 358.6l-6.2 1.7 7.3 2.4 5.8-1.8z" fill="#4029a9"/>
<path d="M1045.5 346.1l.5 7.8 10.7-.3-1.1-7.8z" fill="#b6aee6"/>
<path d="M952.9 358.6l-5.8 2 7.7 2.2 5.4-2.1z" fill="#442eac"/>
<path d="M1069.4 351.8l2.7 6.7 10.2-1-3.4-6.6z" fill="#a197da"/>
<path d="M1084.7 356.3l4 4.5 9.7-1.4-4.7-4.5z" fill="#8173ca"/>
<path d="M1119.4 360.7l5.4 2.1 7.7-2.2-5.8-2z" fill="#442dac"/>
<path d="M934.6 359l-6.3 1.6 7 2.4 5.9-1.7z" fill="#3e26a8"/>
<path d="M1027.1 345.9l-.9 7.8 10.7.3.3-7.9z" fill="#b6afe6"/>
<path d="M1138.4 361.4l5.9 1.7 7-2.4-6.2-1.6z" fill="#3e26a8"/>
<path d="M1036.3 346.1l-.3 7.9 10.9-.1-.5-7.8z" fill="#b6afe6"/>
<path d="M988.5 355.3l-4.5 4.5 9.8 1.4 3.8-4.6z" fill="#8273ca"/>
<path d="M1006.4 351.5l-3 6.6 10.5.9 2.2-6.7z" fill="#a298db"/>
<path d="M977.3 357.7l-4.8 3.2 9 1.7 4.3-3.2z" fill="#6452bc"/>
<path d="M929 360.2l-1.1.5 7 2.4 1-.5z" fill="#3e26a8"/>
<path d="M1105.7 360.7l4.8 2.5 8.4-2-5.2-2.4z" fill="#4f3ab1"/>
<path d="M1143.6 362.6l1.1.6 7-2.5-1.1-.5z" fill="#3e26a8"/>
<path d="M1060.6 352.5l1.9 6.7 10.5-.7-2.7-6.7z" fill="#a399db"/>
<path d="M1125.5 362l5.5 1.9 7.6-2.2-5.8-1.8z" fill="#4029a9"/>
<path d="M1076.4 357.2l3.3 4.7 10-1.2-3.9-4.6z" fill="#8476cb"/>
<path d="M1090.7 359.7l4.4 3.4 9.3-1.7-4.6-3.2z" fill="#6552bc"/>
<path d="M968.3 359.3l-5.1 2.5 8.6 1.9 4.6-2.6z" fill="#503bb2"/>
<path d="M1015.1 352.2l-2.2 6.8 10.7.6 1.4-6.8z" fill="#a49adb"/>
<path d="M1051.6 352.9l1 6.8 10.8-.5-1.9-6.8z" fill="#a49adc"/>
<path d="M996.6 356.4l-3.8 4.7 10.1 1.1 3.1-4.7z" fill="#8476cc"/>
<path d="M949 360.4l-5.8 1.8 7.8 2.2 5.4-1.9z" fill="#4029aa"/>
<path d="M1024.1 352.7l-1.4 6.8 10.8.4.6-6.9z" fill="#a59bdc"/>
<path d="M959.5 360.3l-5.4 2 8.2 2.1 5-2.2z" fill="#452fac"/>
<path d="M1112.3 362.2l4.9 2.2 8.3-2-5.4-2.1z" fill="#452eac"/>
<path d="M1042.4 353.1l.2 6.8 10.9-.2-1-6.8z" fill="#a59bdc"/>
<path d="M1033.2 353l-.6 6.8 10.9.1-.2-6.8z" fill="#a59bdc"/>
<path d="M940.5 360.8l-5.9 1.7 7.5 2.3 5.6-1.8z" fill="#3e26a9"/>
<path d="M1131.9 363.1l5.5 1.8 7.6-2.3-5.9-1.7z" fill="#3e26a8"/>
<path d="M985 359l-4.2 3.3 9.5 1.6 4-3.5z" fill="#6654bc"/>
<path d="M1067.8 358l2.5 4.7 10.4-.9-3.3-4.7z" fill="#8678cc"/>
<path d="M1098 362l4.2 2.6 9-1.7-4.8-2.6z" fill="#503bb2"/>
<path d="M1005 357.4l-3.1 4.7 10.5.9 2.3-4.8z" fill="#8678cc"/>
<path d="M1082.5 360.7l3.7 3.5 9.7-1.4-4-3.3z" fill="#6654bd"/>
<path d="M935.3 362.1l-1.1.5 7.5 2.3 1-.5z" fill="#3e26a8"/>
<path d="M975.7 360.7l-4.7 2.6 9.1 1.7 4.1-2.6z" fill="#513cb2"/>
<path d="M1136.8 364.4l1 .6 7.5-2.3-1-.6z" fill="#3e26a8"/>
<path d="M1118.4 363.6l5 2 8.2-2.1-5.4-1.9z" fill="#4029aa"/>
<path d="M1059 358.5l1.7 4.9 10.6-.7-2.5-4.8z" fill="#887acd"/>
<path d="M1013.7 358.1l-2.3 4.8 10.6.6 1.6-4.8z" fill="#887acd"/>
<path d="M993.1 360.2l-4 3.5 10.3 1.2 3.3-3.6z" fill="#6856bd"/>
<path d="M966.6 361.8l-5 2.2 8.7 1.8 4.5-2.2z" fill="#462fac"/>
<path d="M1104.7 363.6l4.5 2.3 8.7-1.9-4.9-2.2z" fill="#452fac"/>
<path d="M955.7 362.1l-5.4 1.9 8.3 2.1 5-2.1z" fill="#4029aa"/>
<path d="M1050 358.9l.9 4.9 10.7-.5-1.7-4.8z" fill="#897bcd"/>
<path d="M1022.6 358.6l-1.5 4.9 10.8.3.7-4.9z" fill="#897bcd"/>
<path d="M1073.9 361.6l3 3.6 10.5-1.1-3.8-3.5z" fill="#6856bd"/>
<path d="M1089.8 363.1l3.8 2.8 9.4-1.6-4.3-2.7z" fill="#513cb2"/>
<path d="M1040.8 359l.1 4.9 10.9-.2-.9-4.8z" fill="#897bce"/>
<path d="M1031.7 358.9l-.7 4.9 10.8.1-.1-4.9z" fill="#897bce"/>
<path d="M947 362.6l-5.6 1.8 7.9 2.1 5.3-1.9z" fill="#3e27a9"/>
<path d="M1124.9 364.6l5.2 2 8-2.2-5.5-1.8z" fill="#3e26a9"/>
<path d="M983.5 362l-4.2 2.7 9.6 1.5 3.5-2.8z" fill="#523db2"/>
<path d="M1001.6 361.2l-3.3 3.6 10.5.9 2.6-3.7z" fill="#6957be"/>
<path d="M1065.1 362.2l2.3 3.7 10.6-.8-3-3.6z" fill="#6957be"/>
<path d="M1110.9 365l4.6 2.1 8.6-1.9-5-2.1z" fill="#4029aa"/>
<path d="M942 363.9l-1 .6 8 2.1 1-.6z" fill="#3e26a8"/>
<path d="M1129.4 366.1l1 .6 8.1-2.2-1.1-.5z" fill="#3e26a8"/>
<path d="M974 363.2l-4.5 2.3 9.2 1.6 4-2.4z" fill="#4630ad"/>
<path d="M1096.8 364.8l3.9 2.4 9.2-1.7-4.4-2.3z" fill="#462fac"/>
<path d="M1080.9 363.9l3.6 3 9.8-1.3-3.7-2.8z" fill="#523db3"/>
<path d="M1010.4 361.9l-2.6 3.7 10.8.7 1.8-3.8z" fill="#6a58be"/>
<path d="M962.8 363.6l-4.9 2 8.8 1.9 4.5-2.1z" fill="#4029aa"/>
<path d="M1056.1 362.7l1.5 3.7 10.8-.5-2.3-3.8z" fill="#6a58be"/>
<path d="M991.7 363.1l-3.6 2.8 9.9 1.3 3.4-3z" fill="#533eb3"/>
<path d="M1019.4 362.5l-1.8 3.7 10.9.5 1-3.8z" fill="#6b59be"/>
<path d="M953.9 364.2l-5.3 1.9 8.5 2 4.8-2.1z" fill="#3e27a9"/>
<path d="M1117.6 366.1l4.7 2 8.5-2-5.2-1.9z" fill="#3e27a9"/>
<path d="M1047 362.9l.6 3.8 10.9-.3-1.4-3.8z" fill="#6b59bf"/>
<path d="M1028.5 362.8l-1 3.8 11 .2.1-3.8z" fill="#6b59bf"/>
<path d="M1037.7 363l-.1 3.8 10.9-.1-.6-3.8z" fill="#6b59bf"/>
<path d="M1072.3 364.7l2.9 3.1 10.1-1.2-3.1-2.8z" fill="#533eb3"/>
<path d="M1103 366.2l4.1 2.2 9.1-1.7-4.6-2.1z" fill="#4029aa"/>
<path d="M981.9 364.4l-4 2.4 9.5 1.5 3.5-2.5z" fill="#4630ad"/>
<path d="M1088.5 365.8l3.4 2.5 9.6-1.5-4-2.4z" fill="#4630ad"/>
<path d="M1000.2 364l-3.5 3.1 10.7.9 2.6-3.1z" fill="#533fb3"/>
<path d="M949.3 365.6l-1 .6 8.5 2 .9-.7z" fill="#3e26a8"/>
<path d="M1121.7 367.6l.9.6 8.5-2-1-.6z" fill="#3e26a8"/>
<path d="M970.4 365l-4.5 2.1 9.2 1.7 4-2.2z" fill="#412aaa"/>
<path d="M1063.5 365.3l2.1 3.1 10.7-.7-2.8-3.1z" fill="#533fb3"/>
<path d="M1008.9 364.8l-2.7 3.1 10.8.7 1.9-3.2z" fill="#543fb3"/>
<path d="M961.2 365.6l-4.8 2.1 8.8 1.8 4.4-2.2z" fill="#3e27a9"/>
<path d="M1109.8 367.4l4.3 2.1 8.9-1.8-4.7-2z" fill="#3e27a9"/>
<path d="M990.2 365.5l-3.5 2.5 9.8 1.2 3-2.6z" fill="#4730ad"/>
<path d="M1079.9 366.7l2.9 2.5 9.9-1.2-3.4-2.5z" fill="#4730ad"/>
<path d="M1054.5 365.7l1.3 3.2 10.8-.5-2.1-3.2z" fill="#543fb3"/>
<path d="M1017.9 365.3l-1.9 3.2 10.8.4 1.2-3.2z" fill="#5440b3"/>
<path d="M1094.7 367.3l3.7 2.3 9.4-1.5-4.1-2.3z" fill="#412aaa"/>
<path d="M1045.4 365.9l.5 3.2 10.8-.3-1.3-3.2z" fill="#5440b4"/>
<path d="M1027 365.7l-1.1 3.2 10.9.2.3-3.2z" fill="#5440b4"/>
<path d="M1036.2 365.9l-.3 3.2 10.9 0-.5-3.2z" fill="#5440b4"/>
<path d="M978.4 366.2l-4 2.3 9.5 1.5 3.6-2.4z" fill="#412aaa"/>
<path d="M957 367.1l-.9.7 8.8 1.8.9-.7z" fill="#3e26a8"/>
<path d="M1113.5 369l.9.6 8.9-1.8-.9-.6z" fill="#3e26a8"/>
<path d="M998.7 366.4l-2.9 2.6 10.1 1 2.7-2.8z" fill="#4731ad"/>
<path d="M1070.8 367.2l2.6 2.8 10.2-1-2.9-2.6z" fill="#4731ad"/>
<path d="M968.9 367l-4.4 2.1 9.2 1.6 3.9-2.2z" fill="#3e27a9"/>
<path d="M1101.7 368.5l3.9 2.3 9.3-1.7-4.4-2.1z" fill="#3e27a9"/>
<path d="M1086.2 368.2l3.1 2.5 9.8-1.4-3.6-2.3z" fill="#412aaa"/>
<path d="M1007.5 367.1l-2.8 2.8 10.8.7 2-2.9z" fill="#4731ad"/>
<path d="M1061.9 367.7l1.9 2.9 10.8-.7-2.7-2.8z" fill="#4731ad"/>
<path d="M986.7 367.3l-3.5 2.3 9.8 1.3 3.1-2.4z" fill="#412aaa"/>
<path d="M1016.4 367.6l-2 2.9 10.8.5 1.3-3z" fill="#4731ad"/>
<path d="M1052.9 368l1.1 3 10.8-.5-1.9-2.9z" fill="#4731ad"/>
<path d="M965.1 368.5l-.9.7 9.2 1.6.9-.6z" fill="#3e26a8"/>
<path d="M1105 370.2l.8.7 9.3-1.7-.9-.6z" fill="#3e26a8"/>
<path d="M1076.9 368.9l3.1 2.6 10.1-1.1-3.2-2.5z" fill="#412aaa"/>
<path d="M1025.5 368l-1.2 2.9 10.8.3.5-3z" fill="#4731ad"/>
<path d="M1043.8 368.2l.3 3 10.9-.3-1.2-2.9z" fill="#4731ad"/>
<path d="M1034.6 368.2l-.4 2.9 10.8 0-.3-2.9z" fill="#4731ad"/>
<path d="M976.9 368.2l-3.9 2.2 9.5 1.4 3.5-2.3z" fill="#3e27a9"/>
<path d="M1093.3 369.6l3.4 2.3 9.6-1.5-3.8-2.2z" fill="#3e27a9"/>
<path d="M995.3 368.2l-3 2.4 10.1 1.1 2.9-2.6z" fill="#412aaa"/>
<path d="M1068.1 369.5l2.3 2.7 10.4-1-2.6-2.5z" fill="#412aaa"/>
<path d="M1004.1 369l-2.9 2.6 10.8.7 2.2-2.7z" fill="#412aaa"/>
<path d="M973.5 369.8l-.8.7 9.6 1.4.8-.7z" fill="#3e26a8"/>
<path d="M1096.2 371.3l.7.7 9.7-1.5-.9-.7z" fill="#3e26a8"/>
<path d="M985.2 369.2l-3.4 2.3 9.8 1.3 3-2.4z" fill="#3e27a9"/>
<path d="M1084.7 370.4l2.9 2.4 9.9-1.3-3.4-2.3z" fill="#3e27a9"/>
<path d="M1059.1 369.9l1.6 2.8 10.8-.6-2.3-2.7z" fill="#412aaa"/>
<path d="M1013.1 369.5l-2.2 2.8 10.9.5 1.5-2.8z" fill="#412aaa"/>
<path d="M1049.9 370.2l.9 2.8 10.9-.4-1.6-2.7z" fill="#412aaa"/>
<path d="M1022.3 370l-1.5 2.7 10.9.3.7-2.8z" fill="#412aaa"/>
<path d="M1040.7 370.3l.1 2.8 10.9-.1-.8-2.9z" fill="#412aaa"/>
<path d="M1031.5 370.2l-.7 2.8 10.9.1-.1-2.8z" fill="#412aaa"/>
<path d="M993.8 370.1l-2.9 2.4 10.1 1 2.9-2.6z" fill="#3e27a9"/>
<path d="M1075.4 371l2.8 2.6 10.2-1.1-2.9-2.4z" fill="#3e27a9"/>
<path d="M982.3 370.9l-.7.7 9.9 1.3.7-.8z" fill="#3e26a8"/>
<path d="M1087.1 372.2l.7.7 9.9-1.2-.8-.8z" fill="#3e26a8"/>
<path d="M1002.6 370.8l-2.9 2.7 10.8.7 2.3-2.7z" fill="#3e27a9"/>
<path d="M1066.5 371.5l2.1 2.7 10.8-.7-2.8-2.6z" fill="#3e27a9"/>
<path d="M991.4 371.8l-.7.8 10.1 1.1 1.1-1z" fill="#3e26a8"/>
<path d="M1077.3 372.7l1 1 10.2-1.1-.7-.7z" fill="#3e26a8"/>
<path d="M1011.6 371.4l-2.2 2.7 10.9.5 1.5-2.7z" fill="#3e27a9"/>
<path d="M1057.5 371.9l1.4 2.7 10.8-.5-2.1-2.7z" fill="#3e27a9"/>
<path d="M1020.8 371.8l-1.5 2.8 10.8.3.8-2.8z" fill="#3e27a9"/>
<path d="M1048.3 372.1l.7 2.8 10.9-.3-1.4-2.8z" fill="#3e27a9"/>
<path d="M1000.7 372.6l-.7.8 10.4.9.9-1z" fill="#3e26a8"/>
<path d="M1067.9 373.3l.8 1 10.9-.7-1.1-1z" fill="#3e26a8"/>
<path d="M1029.9 372.1l-.7 2.7 10.8.1.1-2.7z" fill="#3e27a9"/>
<path d="M1039.2 372.2l-.1 2.7 10.9-.1-.7-2.7z" fill="#3e27a9"/>
<path d="M1010.1 373.2l-.8 1 10.9.5.6-1z" fill="#3e26a8"/>
<path d="M1058.4 373.7l.6 1 10.8-.5-.8-1z" fill="#3e26a8"/>
<path d="M1019.7 373.7l-.5 1 10.9.3.3-1z" fill="#3e26a8"/>
<path d="M1048.8 374l.3 1 10.9-.3-.6-1z" fill="#3e26a8"/>
<path d="M1029.4 373.9l-.3 1.1 10.9.1 0-1.1z" fill="#3e26a8"/>
<path d="M1039.1 374l0 1.1 10.9-.1-.3-1.1z" fill="#3e26a8"/></g>
<g stroke-linecap="butt"><line x1="798.9" y1="355.0" x2="798.9" y2="106.6" stroke="#8c8c8c" stroke-width="1.70"/>
<line x1="798.9" y1="355.0" x2="1103.7" y2="400.2" stroke="#262626" stroke-width="0.90"/>
<line x1="1103.7" y1="400.2" x2="1281.5" y2="322.1" stroke="#262626" stroke-width="0.90"/>
<line x1="798.9" y1="355.0" x2="790.7" y2="358.6" stroke="#262626" stroke-width="1.00"/>
<line x1="951.3" y1="377.6" x2="943.1" y2="381.2" stroke="#262626" stroke-width="1.00"/>
<line x1="1103.7" y1="400.2" x2="1095.5" y2="403.8" stroke="#262626" stroke-width="1.00"/>
<line x1="1103.7" y1="400.2" x2="1111.6" y2="401.4" stroke="#262626" stroke-width="1.00"/>
<line x1="1192.6" y1="361.1" x2="1200.5" y2="362.3" stroke="#262626" stroke-width="1.00"/>
<line x1="1281.5" y1="322.1" x2="1289.4" y2="323.3" stroke="#262626" stroke-width="1.00"/>
<line x1="798.9" y1="274.8" x2="790.9" y2="274.8" stroke="#404040" stroke-width="1.00"/>
<line x1="798.9" y1="194.6" x2="790.9" y2="194.6" stroke="#404040" stroke-width="1.00"/>
<line x1="798.9" y1="114.4" x2="790.9" y2="114.4" stroke="#404040" stroke-width="1.00"/></g>
<g><line x1="168.8" y1="854.5" x2="336.1" y2="777.5" stroke="#e0e0e0" stroke-width="1.10"/>
<line x1="336.1" y1="777.5" x2="630.2" y2="821.5" stroke="#e0e0e0" stroke-width="1.10"/>
<line x1="168.8" y1="781.5" x2="336.1" y2="704.5" stroke="#e0e0e0" stroke-width="1.10"/>
<line x1="336.1" y1="704.5" x2="630.2" y2="748.5" stroke="#e0e0e0" stroke-width="1.10"/>
<line x1="168.8" y1="708.5" x2="336.1" y2="631.5" stroke="#e0e0e0" stroke-width="1.10"/>
<line x1="336.1" y1="631.5" x2="630.2" y2="675.5" stroke="#e0e0e0" stroke-width="1.10"/>
<line x1="252.5" y1="889.0" x2="252.5" y2="640.3" stroke="#e0e0e0" stroke-width="1.10"/>
<line x1="336.1" y1="850.5" x2="336.1" y2="601.8" stroke="#e0e0e0" stroke-width="1.10"/>
<line x1="483.2" y1="872.5" x2="483.2" y2="623.8" stroke="#e0e0e0" stroke-width="1.10"/>
<line x1="630.2" y1="894.5" x2="630.2" y2="645.8" stroke="#e0e0e0" stroke-width="1.10"/></g>
<g><path d="M168.8 927.5 L462.9 971.5 L630.2 894.5 L336.1 850.5 Z" fill="#3d26a7"/>
<path d="M483.6 884.2l4.4 1.2 2.7-1.1-4.3-1z" fill="#3e27aa"/>
<path d="M488.9 886.1l4.3 1.2 2.8-1-4.4-1.1z" fill="#3e27ab"/>
<path d="M492.6 886.9l4.3 1.2 2.8-1.1-4.4-1.2z" fill="#3e27aa"/>
<path d="M297.4 887.5l4.4.5 2.7-1.4-4.4-.5z" fill="#3e27aa"/>
<path d="M486.8 886.2l4.3 1.4 2.8-.7-4.3-1.3z" fill="#3e27ac"/>
<path d="M490.5 887.1l4.3 1.4 2.8-.9-4.4-1.2z" fill="#3e27ab"/>
<path d="M295.3 888.4l4.5.4 2.6-1.4-4.4-.4z" fill="#3e27aa"/>
<path d="M494.1 888l4.4 1.3 2.8-1-4.4-1.2z" fill="#3e27ab"/>
<path d="M488.4 887.1l4.3 1.6 2.8-.6-4.3-1.4z" fill="#3e28ad"/>
<path d="M293.2 889.3l4.5.3 2.6-1.4-4.4-.4z" fill="#3e27ab"/>
<path d="M497.8 888.9l4.4 1.3 2.7-1.2-4.3-1.1z" fill="#3e27aa"/>
<path d="M492.1 888.2l4.3 1.5 2.8-.8-4.4-1.3z" fill="#3e27ac"/>
<path d="M296.9 889.3l4.5 0 2.6-1.3-4.4-.1z" fill="#3e28ac"/>
<path d="M291.1 890.2l4.5.3 2.6-1.5-4.4-.3z" fill="#3e27ab"/>
<path d="M495.7 889.2l4.4 1.5 2.7-1-4.3-1.3z" fill="#3e27ab"/>
<path d="M490 888.1l4.3 1.7 2.8-.5-4.3-1.5z" fill="#3f28ad"/>
<path d="M294.8 890.2l4.5-.1 2.6-1.4-4.4 0z" fill="#3e28ac"/>
<path d="M499.4 890.2l4.4 1.3 2.7-1.1-4.3-1.2z" fill="#3e27aa"/>
<path d="M289.1 891.1l4.4.3 2.6-1.5-4.4-.3z" fill="#3e27ab"/>
<path d="M493.6 889.3l4.4 1.7 2.8-.8-4.4-1.4z" fill="#3e28ac"/>
<path d="M487.9 887.5l4.2 2.2 2.9-.2-4.2-1.8z" fill="#3f29b0"/>
<path d="M292.7 891.1l4.5-.1 2.6-1.5-4.4.1z" fill="#3e28ac"/>
<path d="M497.3 890.5l4.4 1.5 2.7-.9-4.3-1.4z" fill="#3e27ab"/>
<path d="M287 892.1l4.4.2 2.7-1.5-4.5-.3z" fill="#3e27ab"/>
<path d="M491.6 889.1l4.2 2 2.9-.5-4.3-1.7z" fill="#3f28ae"/>
<path d="M296.4 890.7l4.5-.6 2.6-1.4-4.5.6z" fill="#3f29af"/>
<path d="M501 891.5l4.3 1.5 2.8-1.1-4.3-1.3z" fill="#3e27ab"/>
<path d="M290.7 892l4.4-.2 2.6-1.5-4.4.2z" fill="#3e28ad"/>
<path d="M495.2 890.5l4.3 1.8 2.8-.7-4.3-1.5z" fill="#3e28ad"/>
<path d="M504.7 892.5l4.3 1.3 2.8-1.2-4.4-1.2z" fill="#3e27aa"/>
<path d="M284.9 893l4.4.2 2.7-1.5-4.5-.2z" fill="#3e27ab"/>
<path d="M489.5 888.5l4.2 2.4 2.9-.1-4.2-2z" fill="#3f29b0"/>
<path d="M294.3 891.6l4.5-.7 2.6-1.4-4.5.6z" fill="#3f29af"/>
<path d="M498.9 891.8l4.3 1.7 2.8-1-4.3-1.4z" fill="#3e27ac"/>
<path d="M288.6 893l4.4-.2 2.6-1.6-4.4.2z" fill="#3e28ad"/>
<path d="M493.1 890.3l4.3 2.1 2.8-.5-4.2-1.7z" fill="#3f28ae"/>
<path d="M502.6 893l4.3 1.5 2.8-1.2-4.4-1.3z" fill="#3e27ab"/>
<path d="M282.8 894l4.4.2 2.7-1.6-4.5-.2z" fill="#3e27ab"/>
<path d="M292.3 892.6l4.4-.8 2.6-1.5-4.5.7z" fill="#3f29af"/>
<path d="M496.8 891.9l4.3 1.9 2.8-.8-4.3-1.6z" fill="#3f28ad"/>
<path d="M506.3 894l4.3 1.4 2.8-1.3-4.4-1.2z" fill="#3e27aa"/>
<path d="M286.5 893.9l4.4-.1 2.6-1.7-4.4.2z" fill="#3e28ad"/>
<path d="M491.1 889.8l4.2 2.5 2.8-.2-4.2-2.1z" fill="#3f29b1"/>
<path d="M500.5 893.3l4.3 1.7 2.8-1-4.3-1.5z" fill="#3e27ac"/>
<path d="M280.7 895l4.4.2 2.7-1.6-4.5-.2z" fill="#3e27ab"/>
<path d="M290.2 893.6l4.4-.8 2.6-1.6-4.5.7z" fill="#3f29af"/>
<path d="M494.7 891.7l4.3 2.3 2.8-.6-4.2-1.9z" fill="#3f28af"/>
<path d="M504.2 894.5l4.3 1.6 2.8-1.2-4.4-1.4z" fill="#3e27ab"/>
<path d="M284.4 895l4.4-.2 2.6-1.7-4.4.2z" fill="#3e28ad"/>
<path d="M489 888.9l4.1 3.2 2.9 0-4.1-2.5z" fill="#402ab3"/>
<path d="M293.9 892.7l4.4-1.4 2.6-1.8-4.5 1.5z" fill="#3f2ab3"/>
<path d="M498.4 893.5l4.3 2 2.8-.9-4.3-1.7z" fill="#3e28ad"/>
<path d="M278.6 896l4.4.3 2.7-1.7-4.5-.2z" fill="#3e27ab"/>
<path d="M288.1 894.6l4.4-.7 2.6-1.7-4.5.7z" fill="#3f29af"/>
<path d="M492.7 891.4l4.2 2.7 2.8-.4-4.2-2.2z" fill="#3f29b1"/>
<path d="M502.1 895l4.3 1.7 2.8-1.1-4.4-1.5z" fill="#3e27ac"/>
<path d="M282.3 896l4.4-.1 2.7-1.7-4.5.1z" fill="#3e28ac"/>
<path d="M291.8 893.8l4.5-1.4 2.5-1.8-4.5 1.4z" fill="#3f2ab3"/>
<path d="M496.3 893.5l4.3 2.4 2.8-.8-4.3-2z" fill="#3f28ae"/>
<path d="M505.7 896.2l4.4 1.5 2.8-1.2-4.4-1.4z" fill="#3e27aa"/>
<path d="M276.5 897l4.5.3 2.6-1.7-4.4-.2z" fill="#3e27ab"/>
<path d="M286 895.7l4.5-.6 2.5-1.8-4.5.6z" fill="#3f29af"/>
<path d="M490.6 890.9l4.1 3.2 2.9-.3-4.1-2.6z" fill="#3f2ab3"/>
<path d="M398.3 794.1l3.3-30.6 2.6-10.1-3.3 28.4z" fill="#59bd8c"/>
<path d="M500 895.3l4.3 2 2.8-1.1-4.3-1.7z" fill="#3e28ac"/>
<path d="M280.2 897.1l4.5-.1 2.6-1.7-4.5.1z" fill="#3e28ac"/>
<path d="M289.7 895l4.5-1.3 2.5-2-4.5 1.4z" fill="#3f2ab2"/>
<path d="M494.2 893.5l4.3 2.7 2.8-.7-4.2-2.3z" fill="#3f29b0"/>
<path d="M401.9 764.2l3.4-28.9 2.6-7.9-3.3 26.7z" fill="#aebe67"/>
<path d="M503.7 896.8l4.3 1.7 2.8-1.3-4.4-1.5z" fill="#3f28ab"/>
<path d="M274.4 898.1l4.5.3 2.6-1.7-4.4-.3z" fill="#3e27ab"/>
<path d="M283.9 896.8l4.5-.5 2.5-1.9-4.4.6z" fill="#3f28ae"/>
<path d="M293.4 893.6l4.5-2.2 2.4-2.1-4.5 2.3z" fill="#402bb7"/>
<path d="M396.2 812.7l4.2-32.4 1.5-16.1-4 29.2z" fill="#31b8a2"/>
<path d="M497.9 895.7l4.3 2.2 2.8-1-4.3-2z" fill="#412aae"/>
<path d="M507.3 898.1l4.4 1.4 2.7-1.4-4.3-1.3z" fill="#422cac"/>
<path d="M278.1 898.1l4.5.1 2.6-1.8-4.5 0z" fill="#3e28ac"/>
<path d="M414.7 688.6l4.1-11.4 2.6 5.8-4.1 10.6z" fill="#fae856"/>
<path d="M287.6 896.2l4.5-1.2 2.5-2-4.5 1.3z" fill="#3f29b2"/>
<path d="M492.1 893.5l4.3 3.2 2.8-.8-4.2-2.7z" fill="#432db3"/>
<path d="M399.9 781l3.3-30.9 2.6-15.4-3.3 28.9z" fill="#95bf71"/>
<path d="M501.6 897.4l4.3 1.9 2.8-1.3-4.4-1.6z" fill="#4731af"/>
<path d="M272.3 899.1l4.5.4 2.6-1.7-4.4-.3z" fill="#3e27aa"/>
<path d="M409.2 711.6l3.4-19.6 2.8-4.1-3.5 18z" fill="#fdc337"/>
<path d="M281.8 898l4.5-.4 2.5-2-4.4.6z" fill="#3f28ae"/>
<path d="M418.3 677.8l4.4-3.9 2.4 6.4-4.4 3.5z" fill="#faf54e"/>
<path d="M291.3 895l4.5-2 2.4-2.3-4.5 2.2z" fill="#402bb6"/>
<path d="M394.1 837.8l4.2-33.8 1.7-24.4-4.2 32.4z" fill="#09abbf"/>
<path d="M428.1 683.5l4.3 11.1 1.8 11.1-4.3-9.9z" fill="#fdcd3a"/>
<path d="M495.8 896.1l4.3 2.6 2.8-1.2-4.3-2.2z" fill="#4f3ab5"/>
<path d="M403.5 750.9l3.3-27 2.7-13.6-3.3 25.1z" fill="#cbbb5b"/>
<path d="M505.2 898.9l4.4 1.5 2.8-1.4-4.4-1.4z" fill="#4a34af"/>
<path d="M276 899.2l4.5.2 2.6-1.8-4.5-.1z" fill="#3e27ac"/>
<path d="M412.8 692.7l3.5-12.5 2.9-2.9-3.6 11.5z" fill="#f7e61f"/>
<path d="M285.5 897.4l4.5-.9 2.5-2.2-4.5 1.2z" fill="#3f29b1"/>
<path d="M422.2 674l4.4 4.8 2 5.9-4.4-4.3z" fill="#f9f325"/>
<path d="M397.8 804.7l4.2-32.2 1.7-23-4.2 30.7z" fill="#56bd8d"/>
<path d="M499.5 898.1l4.3 2.1 2.8-1.4-4.4-1.8z" fill="#5440b5"/>
<path d="M270.2 900.2l4.5.4 2.6-1.7-4.4-.4z" fill="#3e27aa"/>
<path d="M407.2 724.7l4.2-20.9 1.8-12.4-4.3 19.5z" fill="#f9bf3e"/>
<path d="M279.7 899.1l4.5-.2 2.5-2-4.4.4z" fill="#3f28ad"/>
<path d="M416.3 680.9l4.4-3.8 2.3-2.9-4.5 3.4z" fill="#f9f816"/>
<path d="M289.2 896.4l4.5-1.7 2.4-2.5-4.5 2z" fill="#402bb5"/>
<path d="M426 678.4l3.4 12.5 2.8 4.5-3.5-11.4z" fill="#f8e122"/>
<path d="M493.3 896.6l4.7 3 3.2-1.4-4.7-2.5z" fill="#6351be"/>
<path d="M401.4 773.1l4.2-28.2 1.8-21.6-4.2 26.9z" fill="#aebe67"/>
<path d="M503.1 899.8l4.4 1.6 2.8-1.5-4.4-1.5z" fill="#5540b4"/>
<path d="M273.9 900.3l4.5.3 2.6-1.9-4.5-.1z" fill="#3e27ab"/>
<path d="M410.8 704.4l4.3-13.2 1.8-11.5-4.3 12.3z" fill="#fad729"/>
<path d="M283.4 898.7l4.5-.7 2.5-2.2-4.5.9z" fill="#3f29b0"/>
<path d="M419.8 676.7l4.3 5.5 2.7-3.2-4.3-5z" fill="#fafa41"/>
<path d="M292.9 894.7l4.5-2.8 2.3-2.7-4.4 3.1z" fill="#412dbb"/>
<path d="M395.7 834.4l4.2-33.3 1.7-29.3-4.2 32.2z" fill="#14b0b6"/>
<path d="M429.6 690.1l3.5 19.2 2.8 2.5-3.5-17.2z" fill="#fdc53f"/>
<path d="M497 899l4.7 2.3 3.2-1.6-4.8-2z" fill="#6553bd"/>
<path d="M405.1 745.5l4.2-22 1.8-20.4-4.3 20.9z" fill="#dfbc52"/>
<path d="M414.3 691.7l4.4-4.4 2-11.2-4.4 4.1z" fill="#f9ef46"/>
<path d="M277.6 900.3l4.5-.1 2.6-2-4.5.3z" fill="#3e28ad"/>
<path d="M423.6 681.4l4 14 2.7-4.6-3.9-12.7z" fill="#f9eb4e"/>
<path d="M287.1 897.9l4.5-1.5 2.4-2.5-4.4 1.8z" fill="#402ab4"/>
<path d="M296.7 892.1l3.8-4.6 2-1.6-2.9 4z" fill="#422fc3"/>
<path d="M399.4 801.7l4.2-29.3 1.7-28.2-4.2 28.2z" fill="#6dc087"/>
<path d="M500.6 900.9l4.8 1.7 3.2-1.7-4.8-1.7z" fill="#6351bb"/>
<path d="M271.8 901.4l4.5.4 2.6-1.8-4.4-.3z" fill="#3e27ab"/>
<path d="M408.8 724.1l4.2-14.1 1.8-19.6-4.3 13.3z" fill="#fbc856"/>
<path d="M281.3 900l4.5-.5 2.5-2.2-4.5.7z" fill="#3f29af"/>
<path d="M417.8 687.2l4.4 6.1 2.4-11.9-4.4-5.7z" fill="#faf156"/>
<path d="M427.3 694.2l4.1 20.7 2.6-5.8-4-19z" fill="#fdd268"/>
<path d="M495 900.3l4.7 2.4 2.9-2-4.6-2.1z" fill="#7969c5"/>
<path d="M290.8 896.4l4.5-2.3 2.3-2.9-4.4 2.7z" fill="#412cb9"/>
<path d="M300.4 888.3l3.7-5.9 2.9-3.4-3.7 6.6z" fill="#4434ce"/>
<path d="M403 773.1l4.2-23 1.8-27.4-4.2 22.1z" fill="#bac577"/>
<path d="M275.5 901.5l4.5.1 2.6-2-4.5.1z" fill="#3e28ac"/>
<path d="M412.3 710.6l4.4-4.7 1.9-19.4-4.4 4.4z" fill="#fdd865"/>
<path d="M285 899.4l4.5-1.2 2.4-2.5-4.4 1.5z" fill="#3f2ab2"/>
<path d="M421.5 692.2l4.2 14.4 2.5-12.3-4.1-13.5z" fill="#fbe262"/>
<path d="M294.6 894.2l4.5-3.5 2.2-3.4-4.5 4z" fill="#422ec0"/>
<path d="M498.7 902.3l4.7 1.8 3-2.1-4.7-1.7z" fill="#7463c2"/>
<path d="M397.3 835l4.2-30 1.7-33.3-4.2 29.3z" fill="#2eb9bc"/>
<path d="M269.7 902.5l4.5.5 2.6-1.8-4.4-.4z" fill="#3e27ab"/>
<path d="M406.7 750.7l4.2-14.6 1.8-26.8-4.3 14z" fill="#ddca7b"/>
<path d="M279.2 901.4l4.5-.4 2.5-2.2-4.4.6z" fill="#3f28ae"/>
<path d="M313.7 863.2l3.5-12.4 2.7-5.9-3.5 13.5z" fill="#435ef7"/>
<path d="M415.8 705.8l4.3 5.9 2.4-19.6-4.4-5.6z" fill="#fdda6f"/>
<path d="M425.2 706l4.2 22 2.5-13.8-4.1-20.6z" fill="#fbd277"/>
<path d="M288.7 898.2l4.5-2 2.4-2.9-4.5 2.4z" fill="#402bb7"/>
<path d="M298.3 890.9l4.5-4.7 2.1-4.1-4.4 5.4z" fill="#4333ca"/>
<path d="M400.9 805.7l4.2-23.6 1.8-32.7-4.2 22.9z" fill="#7dca9f"/>
<path d="M307.9 876.5l3.5-9.3 2.8-5.3-3.5 10.3z" fill="#4745e8"/>
<path d="M273.4 902.7l4.5.2 2.6-2-4.5 0z" fill="#3e27ac"/>
<path d="M410.2 736.6l4.4-4.9 1.9-26.6-4.4 4.7z" fill="#f2d082"/>
<path d="M282.9 900.9l4.5-.9 2.5-2.5-4.5 1.2z" fill="#3f29b1"/>
<path d="M317.4 851.6l3.5-14.4 2.7-7.2-3.5 15.7z" fill="#2781ea"/>
<path d="M351.2 697.6l4-13.4 2.8 3.3-4 12.9z" fill="#fbe254"/>
<path d="M419.5 711.1l4.1 15.2 2.5-20.4-4.2-14.4z" fill="#fcd479"/>
<path d="M292.4 896.3l4.5-2.9 2.3-3.5-4.5 3.5z" fill="#412dbd"/>
<path d="M302.8 885.3l3.7-5 2-5-4.4 7.1z" fill="#4539d7"/>
<path d="M267.6 903.6l4.5.5 2.6-1.7-4.4-.5z" fill="#3e27aa"/>
<path d="M336.3 767l3.4-21.3 2.7-8-3.4 22.4z" fill="#a9be69"/>
<path d="M404.6 782.7l4.2-15.1 1.8-32.3-4.3 14.7z" fill="#bbd197"/>
<path d="M277.1 902.6l4.5-.1 2.5-2.2-4.4.4z" fill="#3f28ad"/>
<path d="M311.6 868l3.5-11.1 2.7-6.6-3.4 12.4z" fill="#4555f3"/>
<path d="M345.7 718.9l3.5-17.6 2.7-4.5-3.4 18.1z" fill="#fac03c"/>
<path d="M413.7 731.7l4.3 6.1 2.4-26.9-4.3-5.8z" fill="#f3d289"/>
<path d="M286.6 899.9l4.5-1.5 2.4-2.9-4.5 1.9z" fill="#402bb5"/>
<path d="M321.1 838l3.4-16.2 2.7-8.8-3.4 17.7z" fill="#079fcf"/>
<path d="M354.8 685.1l4.2-6.7 2.7 3.6-4.2 6.3z" fill="#faf547"/>
<path d="M423.1 725.6l4.2 23.2 2.5-21.5-4.1-22z" fill="#ead28c"/>
<path d="M330.6 795.8l3.4-20 2.6-10.1-3.3 21.6z" fill="#51bd8f"/>
<path d="M364.7 683.5l4.2 10.8 1.9 13-4.3-11.8z" fill="#fad832"/>
<path d="M296.2 893.6l4.5-4 2.1-4.2-4.4 4.7z" fill="#4331c6"/>
<path d="M398.9 840.8l4.2-24 1.7-35.5-4.2 23.6z" fill="#47c1cd"/>
<path d="M500.5 903.7l4.4.6 2.8-.7-4.4-.5z" fill="#3e27aa"/>
<path d="M306.4 879.4l3.8-6.6 1.9-6-4.3 8.9z" fill="#4741e4"/>
<path d="M408.1 768.1l4.4-5 1.9-32.2-4.4 4.9z" fill="#cfd69f"/>
<path d="M271.3 903.9l4.5.3 2.6-2-4.5-.1z" fill="#3e27ab"/>
<path d="M340 746.5l3.4-19.7 2.7-9.1-3.4 20.8z" fill="#cfbb59"/>
<path d="M315.3 857.7l3.5-12.8 2.7-8.2-3.5 14.4z" fill="#3375f4"/>
<path d="M280.8 902.3l4.5-.6 2.5-2.4-4.5.9z" fill="#3f29b0"/>
<path d="M349.4 702.1l3.5-12.8 2.7-4.8-3.5 13.1z" fill="#f9db26"/>
<path d="M417.4 737.2l4.1 15.7 2.5-27.3-4.2-15.2z" fill="#e4d494"/>
<path d="M290.3 898.4l4.5-2.3 2.3-3.5-4.4 2.9z" fill="#412dba"/>
<path d="M358.5 678.7l4.5 1.8 2.3 4.1-4.5-2.2z" fill="#f9f921"/>
<path d="M324.8 822.6l3.4-17.5 2.7-10.6-3.4 19.2z" fill="#0daeba"/>
<path d="M299.9 889.8l4.5-5.3 2-5-4.4 6.2z" fill="#4436d1"/>
<path d="M334.3 776.6l3.3-19.6 2.7-11.8-3.4 21.3z" fill="#98bf70"/>
<path d="M402.5 817.4l4.2-15.3 1.8-35.3-4.3 15.1z" fill="#7cd1c1"/>
<path d="M504.2 903.8l4.4.9 2.7-.7-4.3-.8z" fill="#3e27aa"/>
<path d="M275 903.9l4.5.1 2.6-2.2-4.5.2z" fill="#3e28ad"/>
<path d="M343.7 727.6l3.4-16.4 2.4-9.1-3.1 16.3z" fill="#f7bd41"/>
<path d="M309.5 873.3l4.4-9.4 1.8-7.5-4.3 10.8z" fill="#484bee"/>
<path d="M411.6 763l4.3 6.3 2.4-32.3-4.3-6.1z" fill="#d2d9a5"/>
<path d="M319.4 844.4l3.9-12.8 1.8-10.4-4.2 16z" fill="#1393db"/>
<path d="M284.5 901.7l4.5-1.2 2.4-2.9-4.5 1.6z" fill="#402ab3"/>
<path d="M353 690.1l4.4-5.9 2-5.6-4.4 6.3z" fill="#f8f219"/>
<path d="M421 752.3l4.2 24.1 2.5-28.3-4.1-23.2z" fill="#d0d8a3"/>
<path d="M294.1 896.2l4.5-3.3 2.1-4.2-4.4 4.1z" fill="#422fc2"/>
<path d="M328.5 805.9l4.3-17.8 1.7-12.9-4.2 19.8z" fill="#36b99f"/>
<path d="M362.4 680.3l3.6 10.7 2.8 4-3.6-11.1z" fill="#f8ec1c"/>
<path d="M396.8 875.7l4.2-24.2 1.7-35.4-4.2 24z" fill="#659ff3"/>
<path d="M303.7 884.9l4.4-6.6 1.9-6.3-4.3 7.8z" fill="#463ddf"/>
<path d="M337.9 757.7l4.3-17.6 1.8-13.8-4.3 19.4z" fill="#bebc60"/>
<path d="M406 802.6l4.4-5.2 1.9-35.1-4.4 5z" fill="#a1dac0"/>
<path d="M269.2 905l4.5.4 2.6-1.9-4.4-.3z" fill="#3e27ab"/>
<path d="M507.9 904.3l4.4 1 2.7-.8-4.3-1z" fill="#3e27aa"/>
<path d="M313.2 864.4l4.3-10.9 1.9-9.1-4.3 12.6z" fill="#4063f8"/>
<path d="M278.7 903.8l4.5-.3 2.5-2.5-4.5.6z" fill="#3f28af"/>
<path d="M347.3 711.9l4.3-11.3 1.9-11.8-4.3 12.5z" fill="#fccb31"/>
<path d="M415.3 768.7l4.2 16.2 2.4-32.7-4.1-15.8z" fill="#c9daac"/>
<path d="M288.2 900.5l4.5-1.8 2.3-3.4-4.4 2.4z" fill="#402cb8"/>
<path d="M322.7 832.1l4.3-15.1 1.8-12.4-4.3 17.2z" fill="#06a7c5"/>
<path d="M356.4 684.2l4.5 2.5 2.4-6.1-4.5-2z" fill="#fafa48"/>
<path d="M297.8 893.2l4.5-4.4 2-5.1-4.4 5.3z" fill="#4333cb"/>
<path d="M366.2 690.2l3.5 19 2.7 4.3-3.5-19.3z" fill="#fdcb35"/>
<path d="M332.2 788.7l4.2-17.1 1.8-15.2-4.2 19.4z" fill="#72bf80"/>
<path d="M400.4 852.1l4.2-15.6 1.8-35.2-4.2 15.4z" fill="#6ac7e0"/>
<path d="M502.1 903.5l4.3 1.2 2.8-.4-4.2-.9z" fill="#3e28ac"/>
<path d="M272.9 905.2l4.5.2 2.6-2.1-4.5 0z" fill="#3e27ac"/>
<path d="M341.6 740.7l4.3-14.3 1.8-15.8-4.3 16.2z" fill="#e3bb4f"/>
<path d="M307.4 878.7l4.4-7.9 1.9-7.7-4.4 9.4z" fill="#4746e9"/>
<path d="M409.5 797.4l4.3 6.3 2.4-35.2-4.3-6.3z" fill="#a8ddc5"/>
<path d="M511.6 904.9l4.3 1.2 2.8-1-4.4-1.1z" fill="#3e27aa"/>
<path d="M316.9 854l4.3-12.1 1.8-11.1-4.2 14.1z" fill="#2582e9"/>
<path d="M418.9 784.2l4.2 24.8 2.5-33.3-4.1-24.1z" fill="#a9dcc0"/>
<path d="M282.4 903.3l4.5-.7 2.5-2.8-4.5 1.1z" fill="#3f29b1"/>
<path d="M350.9 701.1l4.4-4.8 1.9-13-4.3 6z" fill="#f9e649"/>
<path d="M326.4 817.6l4.3-15.4 1.7-14.8-4.2 17.7z" fill="#1bb2b0"/>
<path d="M292 898.8l4.5-2.6 2.2-4.1-4.5 3.3z" fill="#412ebe"/>
<path d="M360.2 686l4.1 11 2.6-6.2-4.2-10.6z" fill="#faf051"/>
<path d="M267.1 906.1l4.5.5 2.6-1.8-4.4-.4z" fill="#3f28aa"/>
<path d="M301.5 889.1l4.5-5.4 2-6.2-4.4 6.6z" fill="#4539d7"/>
<path d="M335.9 772.1l4.2-15.2 1.8-17.5-4.3 17.6z" fill="#a8bf6c"/>
<path d="M404 837.1l4.3-5.3 1.9-35.2-4.4 5.2z" fill="#88d6e1"/>
<path d="M505.8 904.1l4.3 1.4 2.8-.6-4.3-1.1z" fill="#3e28ac"/>
<path d="M311.1 871.2l4.3-9.1 1.9-9.4-4.3 10.9z" fill="#4654f3"/>
<path d="M345.3 726.9l4.3-9.4 1.8-17.6-4.3 11.3z" fill="#f9c85d"/>
<path d="M276.6 905.1l4.5 0 2.5-2.3-4.4.3z" fill="#4029ae"/>
<path d="M413.2 803.1l4.2 16.5 2.5-35.4-4.2-16.3z" fill="#9cdcd0"/>
<path d="M515.3 905.6l4.3 1.2 2.8-1.1-4.4-1.1z" fill="#3e27aa"/>
<path d="M286.1 902.5l4.5-1.3 2.4-3.3-4.5 1.9z" fill="#402bb5"/>
<path d="M354.4 696.3l4.5 3.8 2.2-14.3-4.5-2.5z" fill="#f9ec5a"/>
<path d="M320.6 842.4l4.3-12.8 1.8-13.4-4.3 15.2z" fill="#099dd1"/>
<path d="M295.7 896.4l4.5-3.4 2.1-5-4.4 4.4z" fill="#4230c5"/>
<path d="M330.1 802.8l4.2-14.6 1.8-17.4-4.2 17.2z" fill="#4bbd99"/>
<path d="M363.9 696.3l4 19.1 2.7-6.4-4.1-18.8z" fill="#fdd864"/>
<path d="M270.8 906.4l4.5.3 2.6-2-4.5-.2z" fill="#4029ac"/>
<path d="M305.3 884.1l4.4-6.5 1.9-7.6-4.4 7.9z" fill="#4740e3"/>
<path d="M339.5 757.5l4.3-11.9 1.8-20-4.3 14.3z" fill="#cbc678"/>
<path d="M407.4 831.8l4.3 6.4 2.4-35.2-4.3-6.4z" fill="#94dae4"/>
<path d="M509.5 905l4.3 1.4 2.8-.8-4.3-1.2z" fill="#3e27ac"/>
<path d="M314.8 862.6l4.3-10 1.8-11.5-4.2 12.1z" fill="#386ff6"/>
<path d="M348.5 718.4l4.7-3.3 1.9-19.6-4.3 4.8z" fill="#fdd36d"/>
<path d="M280.3 904.9l4.5-.4 2.5-2.7-4.5.8z" fill="#422db1"/>
<path d="M324.3 830.2l4.3-12.8 1.8-15.9-4.3 15.3z" fill="#13aec3"/>
<path d="M358.1 699.3l4.2 11.9 2.5-14.9-4.2-10.9z" fill="#fce264"/>
<path d="M289.8 901.2l4.5-1.9 2.3-3.9-4.5 2.6z" fill="#432fbb"/>
<path d="M299.4 893.2l4.5-4.3 2-6-4.4 5.4z" fill="#4435cf"/>
<path d="M333.8 788.8l4.2-12.5 1.8-20.2-4.3 15.3z" fill="#8cc992"/>
<path d="M503.7 903.6l4.3 1.7 2.8-.2-4.2-1.3z" fill="#3f28ae"/>
<path d="M401.9 868.4l4.3-5.3 1.9-32.1-4.4 5.3z" fill="#a7c6f9"/>
<path d="M274.5 906.5l4.5.1 2.5-2.2-4.4.1z" fill="#432cae"/>
<path d="M309 878l4.3-7.4 1.9-9.3-4.3 9.1z" fill="#494aec"/>
<path d="M343.1 746.1l4.4-7 1.8-22.4-4.3 9.5z" fill="#e2cd81"/>
<path d="M411.1 837.6l4.2 16.7 2.5-35.4-4.2-16.5z" fill="#97d8ea"/>
<path d="M513.2 905.9l4.3 1.4 2.8-1-4.4-1.2z" fill="#3e27ab"/>
<path d="M284 904.4l4.5-.8 2.4-3.1-4.5 1.3z" fill="#4732b5"/>
<path d="M352.3 714.9l4.3 5.3 2.4-21.1-4.5-3.9z" fill="#fdd675"/>
<path d="M318.5 853.1l4.3-10.5 1.8-13.7-4.3 12.8z" fill="#2d90e5"/>
<path d="M293.6 899.4l4.5-2.6 2.1-4.7-4.4 3.5z" fill="#4937c2"/>
<path d="M361.8 710.5l4.1 19.9 2.6-15.6-4.2-19.1z" fill="#fbd376"/>
<path d="M328 818l4.3-11.8 1.7-18.7-4.2 14.5z" fill="#44c0bc"/>
<path d="M268.7 907.5l4.5.5 2.6-1.9-4.4-.4z" fill="#412bac"/>
<path d="M337.4 776.9l4.3-9.1 1.8-23-4.3 11.9z" fill="#bad095"/>
<path d="M303.1 889.2l4.5-5.1 1.9-7.3-4.3 6.5z" fill="#4e43dc"/>
<path d="M405.3 863.1l4.3 6.4 2.4-32.1-4.3-6.4z" fill="#b4cefa"/>
<path d="M507.4 904.7l4.3 1.7 2.8-.4-4.3-1.4z" fill="#3f28ad"/>
<path d="M278.2 906.4l4.5-.1 2.5-2.5-4.5.4z" fill="#4731b1"/>
<path d="M312.7 871.1l4.3-8 1.9-11.3-4.3 10z" fill="#5567f6"/>
<path d="M346.5 739.5l4.6-.4 2.2-25.2-4.6 3.3z" fill="#eed289"/>
<path d="M516.8 906.8l4.4 1.3 2.8-1-4.4-1.2z" fill="#3e27aa"/>
<path d="M322.2 843.2l4.3-10.2 1.8-16.3-4.3 12.7z" fill="#35b0d8"/>
<path d="M356 719.6l4.2 13.3 2.5-22.4-4.2-11.9z" fill="#fbd37c"/>
<path d="M287.7 903.5l4.5-1.3 2.3-3.7-4.4 2z" fill="#4d39bb"/>
<path d="M297.3 897l4.5-3.2 2-5.7-4.4 4.3z" fill="#5343cc"/>
<path d="M331.6 806.8l4.3-9.6 1.8-21.7-4.2 12.5z" fill="#74cdb7"/>
<path d="M272.4 907.7l4.5.4 2.6-2.1-4.5-.2z" fill="#442eae"/>
<path d="M306.9 884.5l4.3-5.8 2-8.9-4.4 7.4z" fill="#5d58e8"/>
<path d="M341 768.3l4.4-4.2 1.8-25.7-4.3 6.9z" fill="#ccd59c"/>
<path d="M409 868.9l4.2 16.8 2.5-32.1-4.2-16.7z" fill="#bec6fc"/>
<path d="M511.1 905.9l4.3 1.7 2.8-.8-4.3-1.3z" fill="#3e28ac"/>
<path d="M281.9 906.2l4.5-.5 2.5-2.9-4.5.9z" fill="#4c38b6"/>
<path d="M350.2 738.8l4.3 7.4 2.4-26.7-4.3-5.3z" fill="#ecd38e"/>
<path d="M316.4 863.6l4.3-8.2 1.8-13.5-4.2 10.4z" fill="#5e8df8"/>
<path d="M291.4 902.3l4.5-1.9 2.3-4.4-4.5 2.6z" fill="#5644c3"/>
<path d="M359.7 732.3l4.1 21 2.6-23.6-4.2-19.9z" fill="#ead38d"/>
<path d="M325.9 833.6l4.3-9 1.8-19.1-4.3 11.7z" fill="#50c2d5"/>
<path d="M335.3 797.7l4.3-6.1 1.8-24.6-4.3 9.1z" fill="#98d6b6"/>
<path d="M403.2 888.2l4.3 6.5 2.4-25.9-4.3-6.5z" fill="#c7c6f7"/>
<path d="M301 894.1l4.5-3.9 2-6.9-4.4 5.1z" fill="#6054d8"/>
<path d="M505.3 904.1l4.2 2.1 2.9-.1-4.2-1.7z" fill="#3f29b0"/>
<path d="M276.1 907.8l4.5.2 2.5-2.4-4.4.1z" fill="#4934b1"/>
<path d="M310.6 879.2l4.3-6.2 1.9-10.7-4.3 8z" fill="#6f70f0"/>
<path d="M344.5 764.1l4.5 2.8 2.2-28.7-4.6.4z" fill="#d3d8a3"/>
<path d="M514.7 907l4.4 1.6 2.8-.9-4.4-1.4z" fill="#3e27ac"/>
<path d="M285.6 905.6l4.5-.8 2.4-3.4-4.5 1.4z" fill="#5441bc"/>
<path d="M320.1 855.9l4.3-7.6 1.8-16.1-4.3 10.2z" fill="#66aaee"/>
<path d="M353.9 745.6l4.2 15 2.5-28.4-4.2-13.3z" fill="#dfd599"/>
<path d="M295.1 900.5l4.5-2.3 2.2-5.2-4.4 3.2z" fill="#6252cb"/>
<path d="M329.5 825.1l4.3-6.7 1.8-22-4.2 9.6z" fill="#6dced3"/>
<path d="M270.3 909l4.5.5 2.6-2.1-4.5-.3z" fill="#452fae"/>
<path d="M304.7 890.5l4.4-4.3 2-8.3-4.4 5.8z" fill="#7068e3"/>
<path d="M338.7 792l4.6-1.1 1.9-27.6-4.4 4.2z" fill="#addbb9"/>
<path d="M509 905.6l4.3 2 2.8-.4-4.3-1.7z" fill="#3f28ae"/>
<path d="M279.8 907.8l4.5-.1 2.5-2.7-4.5.4z" fill="#503bb6"/>
<path d="M348.1 766.2l4.3 9.7 2.4-30.5-4.2-7.4z" fill="#d0d9a7"/>
<path d="M314.2 873.5l4.4-6 1.9-12.9-4.3 8.2z" fill="#7f8bf7"/>
<path d="M518.4 908.1l4.4 1.5 2.7-1.1-4.3-1.3z" fill="#3e27ab"/>
<path d="M289.3 904.8l4.5-1.2 2.3-4-4.4 1.9z" fill="#5f4ec3"/>
<path d="M357.6 760l4.2 22.5 2.5-29.9-4.2-21z" fill="#cfd8a5"/>
<path d="M323.7 848.8l4.4-6.3 1.8-18.7-4.3 9z" fill="#70c0e8"/>
<path d="M332.8 819.3l4.7-3.5 1.9-25-4.4 6.1z" fill="#86d6d4"/>
<path d="M298.9 898.4l4.4-2.7 2.1-6.3-4.4 3.8z" fill="#7063d5"/>
<path d="M503.3 903l4.1 2.7 2.9.3-4.1-2.1z" fill="#3f2ab3"/>
<path d="M274 909.2l4.5.3 2.5-2.2-4.4-.1z" fill="#4a34b1"/>
<path d="M308.4 886.6l4.4-4.4 2-10-4.4 6.2z" fill="#827dec"/>
<path d="M342.4 790.6l4.3 5.4 2.4-30.1-4.6-2.8z" fill="#b2ddbd"/>
<path d="M512.7 907.1l4.3 1.8 2.8-.7-4.3-1.6z" fill="#3e28ad"/>
<path d="M283.5 907.5l4.5-.3 2.4-3.1-4.4.8z" fill="#5946bb"/>
<path d="M317.9 867.9l4.4-5.3 1.9-15.1-4.4 7.6z" fill="#8ca5fb"/>
<path d="M351.8 775.3l4.2 16.9 2.5-32.3-4.2-15z" fill="#c4dbaf"/>
<path d="M522.1 909.1l4.4 1.4 2.7-1.2-4.4-1.3z" fill="#3e27aa"/>
<path d="M293 903.7l4.5-1.5 2.3-4.8-4.5 2.3z" fill="#6c5dcb"/>
<path d="M327.3 842.9l4.4-3.8 1.9-21.4-4.3 6.6z" fill="#7ecee5"/>
<path d="M268.2 910.1l4.5.6 2.6-1.9-4.4-.5z" fill="#452fad"/>
<path d="M302.6 895.9l4.4-2.9 2.1-7.6-4.4 4.3z" fill="#8076df"/>
<path d="M336.6 815.8l4.5 2.2 2.2-28.1-4.6 1.2z" fill="#95dbd6"/>
<path d="M506.9 905l4.2 2.5 2.9-.2-4.2-2z" fill="#3f29b1"/>
<path d="M277.7 909.3l4.5.2 2.5-2.5-4.5.1z" fill="#503cb5"/>
<path d="M346.1 795.4l4.2 11.9 2.4-32.2-4.2-9.6z" fill="#a9ddc3"/>
<path d="M312.1 882.6l4.4-4.2 1.9-11.7-4.3 6z" fill="#9292f2"/>
<path d="M516.3 908.4l4.4 1.7 2.7-1-4.3-1.4z" fill="#3e27ac"/>
<path d="M287.2 907.1l4.5-.6 2.4-3.6-4.5 1.1z" fill="#6453c2"/>
<path d="M321.5 863l4.5-3.8 1.9-17.5-4.4 6.3z" fill="#97baf9"/>
<path d="M296.7 902.3l4.5-1.8 2.2-5.6-4.4 2.7z" fill="#7b6dd3"/>
<path d="M330.8 839.3l4.6-.2 2.2-24.5-4.6 3.5z" fill="#8ed6e7"/>
<path d="M502.3 902.2l3 2.5 2.9.8-4.1-2.6z" fill="#402bb7"/>
<path d="M271.9 910.4l4.5.6 2.6-2.1-4.5-.4z" fill="#4934b0"/>
<path d="M306.3 893.2l4.4-2.9 2-8.9-4.4 4.4z" fill="#9089e8"/>
<path d="M340.3 817.4l4.3 7.8 2.4-30-4.4-5.3z" fill="#96dcd9"/>
<path d="M510.6 906.9l4.2 2.2 2.9-.5-4.3-1.9z" fill="#3f28af"/>
<path d="M281.4 909.3l4.5 0 2.5-2.8-4.5.3z" fill="#5a46ba"/>
<path d="M315.7 878.8l4.5-3.3 1.9-13.7-4.3 5.3z" fill="#a2a4f7"/>
<path d="M349.7 806.7l4.2 18.8 2.5-34-4.2-17z" fill="#99dcd1"/>
<path d="M520 909.6l4.4 1.5 2.7-1.1-4.3-1.3z" fill="#3e27ab"/>
<path d="M290.9 906.4l4.5-.8 2.3-4.2-4.5 1.5z" fill="#7262c9"/>
<path d="M325 859.6l4.6-1.4 2-20-4.4 3.9z" fill="#a1c7f6"/>
<path d="M495.6 895.7l4.4 3.8 2.3 2.7-4.5-2.8z" fill="#422fc0"/>
<path d="M300.4 900.6l4.5-1.8 2.2-6.7-4.5 3z" fill="#8a7fdc"/>
<path d="M334.5 838.8l4.5 5.2 2.2-27-4.5-2.2z" fill="#96d9e8"/>
<path d="M504.9 904l4.1 3 2.9.2-4.1-2.4z" fill="#402ab3"/>
<path d="M275.6 910.7l4.4.4 2.6-2.3-4.4-.2z" fill="#503bb3"/>
<path d="M344 824.6l4.2 14 2.4-32-4.2-12z" fill="#92dae0"/>
<path d="M309.9 890.6l4.5-2.5 2-10.5-4.4 4.1z" fill="#a09bef"/>
<path d="M514.2 908.5l4.4 2 2.8-.8-4.3-1.7z" fill="#3f28ad"/>
<path d="M285.1 909.1l4.5-.1 2.4-3.3-4.5.6z" fill="#6554c0"/>
<path d="M319.2 876l4.7-1.8 1.9-15.8-4.4 3.8z" fill="#afb5fa"/>
<path d="M523.7 910.7l4.4 1.3 2.7-1.2-4.4-1.3z" fill="#3e27aa"/>
<path d="M294.6 905.6l4.5-.9 2.3-5-4.5 1.7z" fill="#8173d1"/>
<path d="M328.7 858.1l4.6 2.6 2.2-22.5-4.6.2z" fill="#aacef6"/>
<path d="M500.2 900.3l2.9 3.2 2.9 1.2-3.9-3.2z" fill="#412dbb"/>
<path d="M303.8 899.3l4.8-2 2.1-7.8-4.4 2.9z" fill="#9a91e3"/>
<path d="M338.2 842.9l4.2 10 2.5-28.5-4.3-7.8z" fill="#9ad8eb"/>
<path d="M269.8 911.6l4.4.7 2.7-2-4.5-.5z" fill="#4832af"/>
<path d="M508.5 906.4l4.2 2.6 2.9-.2-4.2-2.2z" fill="#3f29b1"/>
<path d="M279.3 910.8l4.4.3 2.6-2.5-4.5 0z" fill="#5845b8"/>
<path d="M313.4 888.5l4.7-1.6 2-12.2-4.4 3.3z" fill="#aeabf3"/>
<path d="M517.9 910l4.4 1.7 2.7-1-4.3-1.5z" fill="#3e27ac"/>
<path d="M288.7 908.8l4.6-.2 2.4-3.8-4.5.9z" fill="#7363c7"/>
<path d="M322.9 874.2l4.6 1.1 2.2-18.1-4.6 1.4z" fill="#b9c0fb"/>
<path d="M297.9 904.9l4.9-1.1 2.2-5.8-4.5 1.8z" fill="#9085d9"/>
<path d="M332.4 860.1l4.3 6.7 2.4-24.1-4.5-5.1z" fill="#b0cff8"/>
<path d="M502.8 902.7l4 3.7 3 .5-4.1-2.9z" fill="#402bb7"/>
<path d="M273.5 912l4.4.5 2.6-2.1-4.4-.4z" fill="#4e39b2"/>
<path d="M307.6 897.6l4.7-1.2 2.1-9.1-4.5 2.4z" fill="#a9a2ea"/>
<path d="M341.9 852.3l4.2 15.6 2.5-30-4.2-14z" fill="#a6d2f3"/>
<path d="M512.2 908.4l4.2 2.3 2.9-.6-4.3-1.9z" fill="#3f28ae"/>
<path d="M282.9 910.9l4.5.2 2.6-2.9-4.5.2z" fill="#6351be"/>
<path d="M317.1 887l4.6.2 2.3-14-4.6 1.8z" fill="#bab8f6"/>
<path d="M521.6 911.2l4.4 1.5 2.7-1.2-4.3-1.3z" fill="#3e27ab"/>
<path d="M292.1 908.7l4.9-.5 2.3-4.3-4.5.9z" fill="#8274cf"/>
<path d="M326.6 874.9l4.5 4.8 2.3-20-4.6-2.6z" fill="#bfc5fb"/>
<path d="M498.1 897.9l2.9 3.9 2.9 1.7-3.9-4z" fill="#422fc1"/>
<path d="M301.7 904l4.8-.8 2.5-7-4.8 1.9z" fill="#9f96e0"/>
<path d="M404.6 898.1l3.4-24.4 2.7-6.9-3.4 24.4z" fill="#4741e4"/>
<path d="M336.1 866.2l4.2 11.6 2.5-25.7-4.2-9.9z" fill="#b8cafc"/>
<path d="M506.4 905.7l4.2 3.1 2.9 0-4.2-2.6z" fill="#402ab3"/>
<path d="M311.3 896.5l4.6-.1 2.4-10.6-4.7 1.7z" fill="#b5b0ee"/>
<path d="M277.2 912.3l4.4.5 2.6-2.3-4.4-.3z" fill="#5541b6"/>
<path d="M515.8 910.2l4.3 2 2.8-1-4.3-1.7z" fill="#3e28ad"/>
<path d="M286.6 910.9l4.5.2 2.5-3.3-4.5.3z" fill="#7160c4"/>
<path d="M491.5 888l4.4 6.2 2.1 3.7-4.4-5z" fill="#4436d1"/>
<path d="M320.9 887l4.5 2.9 2.2-15.5-4.5-1.1z" fill="#c2c0f7"/>
<path d="M295.9 908.3l4.8-.4 2.6-5.2-4.8 1.2z" fill="#9185d6"/>
<path d="M330.3 878.7l4.3 8.3 2.4-21-4.3-6.7z" fill="#c2c4fa"/>
<path d="M500.8 901l3.9 4.4 2.9.9-3.9-3.6z" fill="#412dbb"/>
<path d="M305.5 903.3l4.7-.1 2.4-7.8-4.7 1.2z" fill="#ada5e5"/>
<path d="M408.3 874.5l3.4-30.6 2.7-6.8-3.4 30.5z" fill="#367cf2"/>
<path d="M510.1 908.2l4.2 2.7 2.9-.5-4.3-2.2z" fill="#3f29b0"/>
<path d="M280.8 912.5l4.5.5 2.6-2.6-4.5-.2z" fill="#5f4cba"/>
<path d="M315.1 896.3l4.5 1.7 2.3-11.7-4.6-.2z" fill="#bfbbf1"/>
<path d="M519.5 911.7l4.3 1.6 2.8-1.1-4.3-1.5z" fill="#3e27ab"/>
<path d="M290 911.1l4.8 0 2.9-3.9-4.9.5z" fill="#7f71cb"/>
<path d="M324.6 889.2l4.3 5.8 2.4-16.5-4.5-4.7z" fill="#c5c3f6"/>
<path d="M495.9 895l3 4.8 2.9 2.2-3.8-4.9z" fill="#4331c8"/>
<path d="M299.6 907.9l4.7.1 2.6-5.8-4.7.8z" fill="#a096dc"/>
<path d="M504.4 904.7l4 3.7 3 .2-4.1-3z" fill="#402bb6"/>
<path d="M275.1 913.6l4.4.6 2.6-2.1-4.4-.5z" fill="#523db3"/>
<path d="M309.2 903.1l4.6 1.1 2.4-8.7-4.6.1z" fill="#b9b2ea"/>
<path d="M513.7 910.3l4.3 2.2 2.8-.8-4.2-1.9z" fill="#3f28ae"/>
<path d="M318.8 897.6l4.4 4.1 2.3-12.8-4.5-2.9z" fill="#c5c1f1"/>
<path d="M284.5 912.7l4.5.5 2.6-2.8-4.5-.2z" fill="#6b5ac0"/>
<path d="M489.5 883.4l4.3 7.6 1.4 2.9-3.8-5.1z" fill="#463adb"/>
<path d="M523.2 912.9l4.3 1.5 2.8-1.3-4.4-1.3z" fill="#3e27aa"/>
<path d="M293.8 911l4.7.3 2.7-4.3-4.7.3z" fill="#8e81d2"/>
<path d="M328.2 894.4l4.3 9.2 2.4-17.4-4.2-8.2z" fill="#c7c3f4"/>
<path d="M498.7 899.1l3.9 5.1 2.9 1.2-3.9-4.2z" fill="#422ec0"/>
<path d="M303.4 907.9l4.6.8 2.5-6.4-4.7 0z" fill="#ada5e2"/>
<path d="M406.3 891l3.3-30.6 2.6-17-3.3 30.5z" fill="#435cf6"/>
<path d="M508 907.7l4.2 3.2 2.9-.3-4.2-2.7z" fill="#3f2ab3"/>
<path d="M278.7 913.9l4.5.7 2.6-2.3-4.4-.5z" fill="#5a46b7"/>
<path d="M313 903.8l4.5 2.8 2.3-9.5-4.5-1.7z" fill="#c1bbec"/>
<path d="M483.8 868.7l4.3 10.3 1.9 5.6-4.3-8.5z" fill="#4749ec"/>
<path d="M517.4 912l4.3 1.9 2.8-1-4.3-1.7z" fill="#3e28ac"/>
<path d="M322.5 900.9l4.2 6.6 2.5-13.3-4.3-5.8z" fill="#c7c3f0"/>
<path d="M287.8 913.1l4.9.4 2.9-3.3-4.9 0z" fill="#7969c7"/>
<path d="M493.1 890.6l3.6 7 2.9 2.5-3.7-5.9z" fill="#4435cf"/>
<path d="M297.5 911.2l4.7.6 2.6-4.7-4.7-.1z" fill="#9d92d8"/>
<path d="M502.3 903.5l4 4.3 2.9.5-4-3.7z" fill="#412cba"/>
<path d="M307.1 908.4l4.6 1.9 2.4-7-4.6-1.1z" fill="#b8b0e5"/>
<path d="M511.7 910.2l4.2 2.6 2.9-.6-4.3-2.3z" fill="#3f29b0"/>
<path d="M409.9 861.1l3.4-33.8 2.6-16.9-3.3 33.7z" fill="#06a1cc"/>
<path d="M478 849.4l4.3 13.2 1.9 7.4-4.3-11.1z" fill="#386ff6"/>
<path d="M282.4 914.3l4.5.7 2.6-2.5-4.5-.5z" fill="#6452bc"/>
<path d="M316.7 906l4.4 4.9 2.3-10.2-4.4-4.2z" fill="#c5c0ec"/>
<path d="M487.4 878.5l3.5 9.4 2.9 3.9-3.6-8z" fill="#4740e3"/>
<path d="M521.1 913.4l4.3 1.7 2.8-1.2-4.3-1.5z" fill="#3e27ab"/>
<path d="M291.6 913.4l4.8.6 2.8-3.6-4.8-.2z" fill="#8779cd"/>
<path d="M462.9 779.6l4.2 18.3 1.8 12.9-4.2-15.7z" fill="#46bb96"/>
<path d="M496.7 896.8l3.8 6.1 2.9 1.4-3.9-5.1z" fill="#4230c5"/>
<path d="M472.3 825.3l4.3 16.2 1.8 9.2-4.3-13.9z" fill="#099dd1"/>
<path d="M301.3 911.6l4.6 1.3 2.5-5.1-4.6-.8z" fill="#a9a0dd"/>
<path d="M404.2 916.2l4.2-30.6 1.7-25.8-4.2 30.5z" fill="#463ee1"/>
<path d="M505.9 907.1l4.2 3.6 2.9-.1-4.2-3z" fill="#402bb5"/>
<path d="M276.6 915.2l4.5.8 2.6-2.1-4.4-.6z" fill="#5440b4"/>
<path d="M310.9 909.8l4.4 3.3 2.4-7.4-4.4-2.7z" fill="#bfb8e7"/>
<path d="M413.6 828l3.3-34 2.6-16.6-3.3 33.7z" fill="#35b89f"/>
<path d="M515.3 912.3l4.3 2.1 2.8-.9-4.3-1.9z" fill="#3f28ad"/>
<path d="M482.1 863.4l3.1 10.9 2.7 5.5-3.5-10.6z" fill="#4654f3"/>
<path d="M285.7 914.8l4.9.7 3-2.8-4.9-.4z" fill="#705fc1"/>
<path d="M423 748.8l3.4-25.3 2.7-6.3-3.4 25z" fill="#edba49"/>
<path d="M457.1 749l4.3 18.7 1.7 13.2-4.2-16.3z" fill="#a7be6a"/>
<path d="M491 887.1l3.6 8.2 2.9 2.6-3.7-6.9z" fill="#4539d7"/>
<path d="M524.8 914.6l4.3 1.4 2.8-1.3-4.4-1.3z" fill="#3e27aa"/>
<path d="M295.4 913.8l4.7 1 2.7-3.8-4.7-.7z" fill="#9589d3"/>
<path d="M432.1 700.8l4.1-9.9 2.7 4.2-4.1 10.2z" fill="#f9f04d"/>
<path d="M500.3 902.1l3.9 5 2.9.7-3.9-4.3z" fill="#412ebe"/>
<path d="M466.6 797.3l4.2 18.8 1.8 10.5-4.3-16.4z" fill="#1bb2b0"/>
<path d="M305 912.6l4.5 2.2 2.5-5.4-4.5-1.8z" fill="#b3abe1"/>
<path d="M407.9 886.3l4.2-34 1.7-25.6-4.2 33.7z" fill="#2c7cee"/>
<path d="M441.8 693.5l4.3 7.1 2 9.9-4.4-5.9z" fill="#f9e43c"/>
<path d="M509.6 910.1l4.2 3 2.9-.6-4.3-2.5z" fill="#3f29b1"/>
<path d="M476.3 842.3l3.1 14.1 2.7 7-3.4-13.5z" fill="#2582e9"/>
<path d="M280.3 915.7l4.5.8 2.6-2.2-4.4-.6z" fill="#5d49b8"/>
<path d="M314.6 912.5l4.3 5.2 2.5-7.8-4.4-4.9z" fill="#c3bde7"/>
<path d="M485.3 873.6l3.5 10.8 2.8 3.9-3.5-9.4z" fill="#4746e9"/>
<path d="M417.3 794.8l3.3-31.2 2.6-16.2-3.3 30.8z" fill="#9fbe6d"/>
<path d="M451.3 721.1l4.3 17.3 1.8 11.9-4.3-15.4z" fill="#e3bb4e"/>
<path d="M519 913.9l4.3 1.8 2.8-1.1-4.3-1.6z" fill="#3e27ac"/>
<path d="M289.5 915.3l4.8.8 2.8-2.9-4.7-.7z" fill="#7d6ec7"/>
<path d="M460.8 767.1l4.2 20.5 1.8 11-4.2-18.2z" fill="#72bf80"/>
<path d="M426.6 724.2l3.5-18.1 2.7-6-3.5 17.8z" fill="#fdcb31"/>
<path d="M494.6 894.5l3.8 6.9 2.9 1.6-3.8-5.9z" fill="#4333cb"/>
<path d="M435.5 691.5l4.6-.7 2.7 3.6-4.6 1.2z" fill="#faf93b"/>
<path d="M470.2 815.6l3.4 18.5 2.7 8.2-3.4-16.4z" fill="#06a7c5"/>
<path d="M299.2 914.5l4.5 1.6 2.6-4-4.5-1.3z" fill="#a196d8"/>
<path d="M503.9 906.4l4 4.2 3 0-4.1-3.6z" fill="#402cb8"/>
<path d="M308.8 914.4l4.4 3.5 2.4-5.6-4.4-3.3z" fill="#bab2e2"/>
<path d="M411.5 852.9l4.2-34.3 1.7-25.2-4.1 33.9z" fill="#0badbc"/>
<path d="M445.5 700.1l4.3 13.6 1.9 8.7-4.3-12.4z" fill="#fccb31"/>
<path d="M513.2 912.5l4.3 2.4 2.8-.9-4.2-2.1z" fill="#3f28af"/>
<path d="M479.6 855.6l3.5 14 2.7 5.2-3.5-12.2z" fill="#4063f8"/>
<path d="M284 916.2l4.5.9 3-2.4-4.9-.7z" fill="#6654bc"/>
<path d="M421 764.3l4.2-25.7 1.7-15.7-4.2 25.2z" fill="#d4bb56"/>
<path d="M522.7 915.3l4.3 1.5 2.8-1.3-4.4-1.4z" fill="#3e27ab"/>
<path d="M455 737.8l3.4 20.8 2.7 9.9-3.4-18.9z" fill="#bebc60"/>
<path d="M488.9 883.6l3.6 9.3 2.9 2.7-3.7-8.1z" fill="#463ddf"/>
<path d="M293.2 915.9l4.7 1.2 2.8-3.1-4.7-1z" fill="#8a7ccc"/>
<path d="M430.2 706.9l4.4-9.7 1.9-6-4.3 9.4z" fill="#f8ec1c"/>
<path d="M464.5 787.1l3.3 21 2.7 8.8-3.4-19z" fill="#36b99f"/>
<path d="M498.2 900.6l3.9 5.8 2.9.7-3.9-4.9z" fill="#422fc2"/>
<path d="M302.9 915.8l4.5 2.4 2.6-4.1-4.5-2.3z" fill="#aba1db"/>
<path d="M405.8 917.7l4.2-34.1 1.7-32-4.2 33.9z" fill="#4845e7"/>
<path d="M439.6 690.7l3.6 7.8 2.9 2.8-3.7-7.4z" fill="#f8f219"/>
<path d="M507.5 909.9l4.2 3.3 2.9-.4-4.2-2.9z" fill="#402ab3"/>
<path d="M473.9 833.3l3.4 17.3 2.7 6.3-3.4-15.4z" fill="#1393db"/>
<path d="M415.2 819.3l4.2-31.7 1.7-24.6-4.2 31.1z" fill="#5fbe89"/>
<path d="M483.2 868.8l3.5 12.3 2.8 3.7-3.5-10.8z" fill="#484bee"/>
<path d="M449.2 713.2l3.4 18.7 2.7 7.2-3.4-17.5z" fill="#f7bd41"/>
<path d="M516.9 914.4l4.3 2 2.8-1.1-4.3-1.8z" fill="#3e28ad"/>
<path d="M287.3 916.9l4.8 1 3-2.5-4.8-.9z" fill="#7160c1"/>
<path d="M424.6 739.2l4.2-18.7 1.8-14.9-4.2 17.9z" fill="#fac03c"/>
<path d="M458.7 757.8l3.4 22.4 2.6 8.2-3.3-20.7z" fill="#98bf70"/>
<path d="M492.5 892.1l3.8 7.9 2.9 1.6-3.8-6.8z" fill="#4436d1"/>
<path d="M297 916.8l4.6 1.7 2.7-3.1-4.6-1.6z" fill="#9588d1"/>
<path d="M468.1 807.4l3.4 20.4 2.7 6.9-3.4-18.6z" fill="#0daeba"/>
<path d="M433.4 697.7l4.8-1.3 2.5-5.7-4.8.8z" fill="#fafa3f"/>
<path d="M501.8 905.6l4 4.7 3 .1-4.1-4z" fill="#412dba"/>
<path d="M306.7 918.1l4.2-1.8 2.6 1.3-4.3-4z" fill="#3e27a8"/>
<path d="M409.5 884.2l4.1-34.7 1.7-31.6-4.1 34.3z" fill="#1c8ae2"/>
<path d="M443.3 697.7l3.6 14.3 2.8 2.4-3.6-13.8z" fill="#fadc2f"/>
<path d="M511.2 912.6l4.2 2.7 2.8-.8-4.2-2.4z" fill="#3f29b0"/>
<path d="M477.5 849.9l3.5 15.5 2.7 4.7-3.5-13.9z" fill="#3375f4"/>
<path d="M418.9 788.2l4.2-26.7 1.7-23.7-4.2 25.8z" fill="#b1bd66"/>
<path d="M452.9 731.1l3.4 22 2.7 6-3.4-20.7z" fill="#cfbb59"/>
<path d="M520.6 915.9l4.3 1.7 2.8-1.3-4.4-1.5z" fill="#4029ac"/>
<path d="M486.9 880.3l3.5 10.4 2.9 2.6-3.7-9.3z" fill="#4741e4"/>
<path d="M291.1 917.6l4.7 1.3 2.9-2.5-4.7-1.2z" fill="#7c6cc5"/>
<path d="M496.1 899.2l3.9 6.4 2.9.8-3.9-5.6z" fill="#4331c6"/>
<path d="M428.2 721.1l4.3-10.7 1.9-14-4.3 9.7z" fill="#fbdb41"/>
<path d="M462.4 779.5l3.3 22.6 2.7 6.6-3.4-21.1z" fill="#51bd8f"/>
<path d="M300.9 918.4l4.2-.8 2.8.2-4.5-2.8z" fill="#3e26a8"/>
<path d="M437.3 696.1l4.3 7.6 2.5-5.4-4.2-8.1z" fill="#faf54d"/>
<path d="M471.8 827l3.4 18.9 2.7 5.2-3.4-17.2z" fill="#079fcf"/>
<path d="M505.4 909.6l4.2 3.8 2.9-.4-4.2-3.3z" fill="#402bb5"/>
<path d="M413.1 850.2l4.2-32.4 1.7-30.9-4.2 31.7z" fill="#1bb2b5"/>
<path d="M447 711.2l3.6 19.2 2.8 2-3.6-18.8z" fill="#fbc752"/>
<path d="M481.1 864.6l3.6 13.5 2.8 3.4-3.6-12.2z" fill="#4555f3"/>
<path d="M514.8 914.8l4.3 2.2 2.8-1.1-4.3-1.9z" fill="#422caf"/>
<path d="M422.5 762.1l4.3-19.9 1.7-22.5-4.2 18.8z" fill="#e2c160"/>
<path d="M456.6 752.3l3.4 23.5 2.7 5-3.4-22.4z" fill="#a9be69"/>
<path d="M524.3 917.1l4.3 1.4 2.8-1.3-4.4-1.3z" fill="#4029ab"/>
<path d="M490.5 889.9l3.7 8.7 2.9 1.6-3.8-7.8z" fill="#4539d7"/>
<path d="M431.5 711.1l4.7-2.6 2.2-13.1-4.6 1.3z" fill="#f9ec55"/>
<path d="M466 801.4l3.4 21.8 2.7 5.1-3.4-20.4z" fill="#1bb2b0"/>
<path d="M499.7 904.9l4 5.2 2.9.1-4-4.6z" fill="#412dbd"/>
<path d="M407.4 919.2l4.1-34.9 1.7-35.5-4.1 34.7z" fill="#5250ea"/>
<path d="M441 702.7l4.1 13.7 2.7-4.6-4.1-14.2z" fill="#fbe358"/>
<path d="M475.4 845.1l3.5 16.9 2.8 3.9-3.6-15.5z" fill="#2781ea"/>
<path d="M509.1 912.8l4.2 3 2.9-.8-4.3-2.7z" fill="#4631b4"/>
<path d="M416.8 818.4l4.2-27.8 1.7-29.8-4.2 26.7z" fill="#75c48e"/>
<path d="M450.6 729.6l3.6 22.4 3.1 1.8-3.8-22.3z" fill="#e1c66f"/>
<path d="M518.5 916.5l4.3 1.8 2.8-1.2-4.3-1.7z" fill="#432cae"/>
<path d="M484.8 877.3l3.6 11.5 2.8 2.2-3.6-10.3z" fill="#4745e8"/>
<path d="M426.2 742.8l4.2-12.1 1.8-21.1-4.2 10.7z" fill="#facb64"/>
<path d="M494 897.8l3.9 7.1 2.9.8-3.9-6.4z" fill="#4333ca"/>
<path d="M460.2 775.1l3.5 23.7 2.7 3.9-3.5-22.7z" fill="#72c38e"/>
<path d="M298.7 918.2l4.3-1.3 2.8.1-4.3 1.5z" fill="#3e27ab"/>
<path d="M503.3 909.4l4.2 4.1 2.9-.4-4.2-3.6z" fill="#4a36bb"/>
<path d="M435.3 708.3l4.3 6.1 2.4-11.8-4.3-7.2z" fill="#fae95e"/>
<path d="M469.7 822.4l3.4 20.1 2.8 3.9-3.5-18.9z" fill="#0aa6c9"/>
<path d="M411 884.9l4.2-33 1.7-34.9-4.2 32.5z" fill="#2b97e2"/>
<path d="M479 861.2l3.6 14.6 2.8 2.7-3.6-13.4z" fill="#435ef7"/>
<path d="M444.7 715.7l4.1 18.7 2.6-4.2-4-19.1z" fill="#fbd06c"/>
<path d="M512.7 915.2l4.3 2.4 2.8-1-4.3-2.2z" fill="#4732b2"/>
<path d="M420.5 791.3l4.2-21.4 1.7-28.4-4.2 19.9z" fill="#bcc880"/>
<path d="M454 750.8l3.9 24.4 3.1 1.2-3.9-23.7z" fill="#c0cb86"/>
<path d="M522.2 917.8l4.3 1.6 2.8-1.4-4.4-1.4z" fill="#422cac"/>
<path d="M488.4 888l3.7 9.5 2.9 1.3-3.8-8.6z" fill="#4a40dd"/>
<path d="M429.7 731.2l4.4-4.1 2.2-19.7-4.6 2.6z" fill="#fdd46f"/>
<path d="M463.9 798l3.4 22.7 2.8 3-3.5-21.8z" fill="#44c0b5"/>
<path d="M292.9 919l4.4.1 2.7-1.1-4.4 0z" fill="#3e27aa"/>
<path d="M497.6 904.2l4 5.7 3 .1-4.1-5.1z" fill="#4f3dc5"/>
<path d="M439 713.7l4.1 12.6 2.6-10.6-4.2-13.7z" fill="#fdd96a"/>
<path d="M473.3 841.7l3.5 17.9 2.8 2.8-3.6-16.8z" fill="#3194e5"/>
<path d="M507 912.9l4.2 3.3 2.9-.8-4.3-2.9z" fill="#4e3ab8"/>
<path d="M414.7 852.5l4.2-28.8 1.7-33.8-4.2 27.8z" fill="#35bbc0"/>
<path d="M448.4 733.6l4 21.9 2.7-3.7-4-22.3z" fill="#e5ce82"/>
<path d="M482.6 875l3.7 12.3 2.8 1.8-3.6-11.4z" fill="#5657ed"/>
<path d="M516.4 917.1l4.3 1.9 2.8-1.2-4.3-1.8z" fill="#4731b0"/>
<path d="M424.1 770.5l4.2-13.9 1.8-26.7-4.2 12.2z" fill="#d8cc84"/>
<path d="M491.9 896.7l3.9 7.7 2.9.6-3.9-7z" fill="#5749d3"/>
<path d="M457.7 774.1l3.9 24.3 3 .8-3.8-23.8z" fill="#94cf9f"/>
<path d="M433.2 727.1l4.5 4.5 2.2-18-4.3-6z" fill="#fdd575"/>
<path d="M501.3 909.2l4.1 4.5 3.3-.3-4.6-4.2z" fill="#5644c1"/>
<path d="M296.6 918.8l4.5-.3 2.6-1.4-4.4.6z" fill="#3e28ac"/>
<path d="M467.5 819.9l3.5 20.9 2.9 2.1-3.6-20.1z" fill="#36b9cf"/>
<path d="M306.1 916.1l4.1-2.9 2.9-.8-4.1 3.4z" fill="#402ab3"/>
<path d="M374.4 699.5l4.4-4.4 2.4 9.5-4.4 4.8z" fill="#faf155"/>
<path d="M409 920.7l4.1-33.4 1.7-36.1-4.1 33z" fill="#5a59eb"/>
<path d="M442.6 725.6l4.2 17.4 2.5-9.3-4.1-18.6z" fill="#f9d079"/>
<path d="M476.9 858.8l3.6 15.5 2.9 1.8-3.7-14.5z" fill="#5b7ff9"/>
<path d="M510.6 915.6l4.3 2.6 2.8-1-4.2-2.4z" fill="#4e39b5"/>
<path d="M452.1 754.8l3.9 24 2.8-3.8-4-24z" fill="#c8d194"/>
<path d="M418.4 824.3l4.2-22.8 1.7-32.3-4.2 21.3z" fill="#7acba6"/>
<path d="M486.2 886.5l3.8 10.2 3.2 1.3-4.1-9.8z" fill="#625ae5"/>
<path d="M520.1 918.6l4.3 1.6 2.8-1.3-4.4-1.5z" fill="#452fae"/>
<path d="M359.4 751.7l3.5-20.8 2.8-4.6-3.5 23.2z" fill="#e8c15d"/>
<path d="M290.8 919.8l4.5.2 2.6-1.5-4.4 0z" fill="#3e27aa"/>
<path d="M427.7 757.2l4.3-6.3 2-24.6-4.4 4.1z" fill="#ebd086"/>
<path d="M461.4 797.5l3.9 23.2 3 .3-3.8-22.8z" fill="#68cbbe"/>
<path d="M495.5 903.7l4 6.1 3.3.2-4.3-5.8z" fill="#5f4fcc"/>
<path d="M436.9 730.7l4.2 10.6 2.5-15.8-4.2-12.5z" fill="#fad37c"/>
<path d="M504.9 913.1l4.2 3.5 3.3-.7-4.6-3.3z" fill="#5744bd"/>
<path d="M300.3 918.2l4.5-.9 2.5-1.7-4.4 1.3z" fill="#3f29af"/>
<path d="M368.6 709.9l3.9-11.4 3 .8-4 12.8z" fill="#f9ea46"/>
<path d="M471.1 840l3.6 18.6 3.2 1.7-4-18.2z" fill="#4eabe5"/>
<path d="M344.3 829.5l3.4-20.4 2.7-7.7-3.4 23.3z" fill="#1eb3ae"/>
<path d="M412.6 888l4.2-29.7 1.7-35.3-4.2 28.8z" fill="#459be9"/>
<path d="M514.3 917.7l4.3 2.1 2.8-1.2-4.3-2z" fill="#4b36b2"/>
<path d="M378.3 695.4l4.4 5.1 1.9 9.6-4.3-5.4z" fill="#f9ee39"/>
<path d="M446.3 742.3l4.1 20.7 2.6-8.1-4.1-21.9z" fill="#ded18f"/>
<path d="M480.5 873.5l3.7 13 3.2 1.4-4-12.6z" fill="#6e71f2"/>
<path d="M353.7 780.4l3.5-21.4 2.6-8.6-3.3 24.2z" fill="#b0bd66"/>
<path d="M387.9 722.6l4.3 22 1.7 19.6-4.2-23.1z" fill="#dfbb51"/>
<path d="M422 802.1l4.3-15.8 1.7-30.4-4.2 13.9z" fill="#b4d19a"/>
<path d="M455.8 777.5l3.8 24.1 2.9-3.4-3.9-24.5z" fill="#a1d4aa"/>
<path d="M489.8 895.9l3.9 8.3 3.2.4-4.2-7.8z" fill="#695eda"/>
<path d="M294.5 919.7l4.5-.2 2.6-1.7-4.5.4z" fill="#3e28ac"/>
<path d="M363.1 731.6l3.5-16.1 2.7-6.4-3.4 18z" fill="#fcc338"/>
<path d="M431.1 751.1l4.5 1.7 2.2-22.4-4.5-4.5z" fill="#efd38c"/>
<path d="M329 885l3.5-12.2 2.8-5.4-3.5 14.3z" fill="#4654f3"/>
<path d="M465.1 819.8l3.9 21.2 3 0-3.9-20.9z" fill="#56c5d5"/>
<path d="M498.7 908.9l4.6 5.1 3.2-.4-4.4-4.6z" fill="#6251c7"/>
<path d="M305.2 916.6l3.3-1.2 2.5-2.2-4.5 2.3z" fill="#402ab3"/>
<path d="M338.5 853.6l3.5-17.1 2.6-8.3-3.4 19.9z" fill="#06a1cd"/>
<path d="M371.9 699.3l4.4-4 3.3.3-4.6 4.5z" fill="#f9f924"/>
<path d="M407 888.4l3.6 33.9 2.1-35.7-3.7 32.8z" fill="#3f28a9"/>
<path d="M440.6 740.6l4.1 15.5 2.5-13.8-4.1-17.4z" fill="#ecd28a"/>
<path d="M474.4 857.4l4 16.4 3.1.9-3.9-15.6z" fill="#7097f9"/>
<path d="M508.5 916l4.3 2.8 2.9-1-4.3-2.6z" fill="#5541b9"/>
<path d="M313.6 910.8l3.8-5 2.8-2.8-3.7 6.1z" fill="#4230c4"/>
<path d="M348 809.8l3.4-20.1 2.7-10.6-3.4 23z" fill="#5bbd8a"/>
<path d="M382.1 700.1l4.3 13.4 1.8 10.4-4.3-14.3z" fill="#fad729"/>
<path d="M416.3 858.9l4.2-24.1 1.7-34-4.2 22.8z" fill="#45bfce"/>
<path d="M450 762.3l4.1 22.4 2.6-7-4.1-23.5z" fill="#c7d59e"/>
<path d="M518 919.3l4.3 1.7 2.8-1.3-4.4-1.6z" fill="#4832b0"/>
<path d="M483.8 885.3l4.1 11.1 3.1.6-4-10.3z" fill="#7570ea"/>
<path d="M288.8 920.7l4.4.3 2.6-1.6-4.4-.2z" fill="#3e27aa"/>
<path d="M323.2 897.5l3.6-8.9 2.7-4.8-3.5 10.5z" fill="#4740e4"/>
<path d="M357.5 759.8l3.3-18.5 2.7-10.9-3.4 20.8z" fill="#d8bb54"/>
<path d="M425.6 786.9l4.3-8.6 1.9-28.1-4.3 6.2z" fill="#cad59d"/>
<path d="M459.4 800.4l3.9 23 2.9-3-3.9-23.4z" fill="#79d1c5"/>
<path d="M391.6 744l4.2 27.9 1.8 21-4.2-29.3z" fill="#aebe67"/>
<path d="M493.1 903.2l4.3 6.7 3.2-.1-4.2-6.2z" fill="#6d5fd2"/>
<path d="M298.2 919.3l4.5-.7 2.5-2-4.4 1z" fill="#3f29af"/>
<path d="M332.7 873.6l3.5-13.5 2.7-7.8-3.4 15.9z" fill="#3177f3"/>
<path d="M366.8 716.3l4.4-10 1.8-7.9-4.3 11.2z" fill="#f8e122"/>
<path d="M434.8 752.3l4.2 8.2 2.5-20-4.2-10.6z" fill="#e6d492"/>
<path d="M468.8 840.1l3.9 18.9 3-.3-3.9-18.6z" fill="#65b9e7"/>
<path d="M502.4 913.2l4.6 3.9 3.2-.7-4.5-3.6z" fill="#614fc2"/>
<path d="M308.9 914.7l3.4-1.9 2.3-2.9-4.5 3.3z" fill="#412cb9"/>
<path d="M342.2 837.2l3.4-17.6 2.7-11.1-3.4 20.5z" fill="#11afb7"/>
<path d="M375.9 695.5l4 5.1 2.9.5-4-5.5z" fill="#f9f91f"/>
<path d="M410.5 922.3l4.2-30.2 1.7-34.5-4.2 29.6z" fill="#635fea"/>
<path d="M444.2 755.4l4.2 18.9 2.5-12-4.1-20.7z" fill="#d5d49a"/>
<path d="M478.1 872.7l4 13.7 3.1.3-4-13z" fill="#8186f5"/>
<path d="M512.2 918.3l4.3 2.2 2.8-1.2-4.3-2.1z" fill="#503cb5"/>
<path d="M317.3 906.6l3.7-6.2 2.8-4.1-3.6 7.5z" fill="#4436d1"/>
<path d="M352 789.1l4-17.1 1.7-13.6-4.2 21.3z" fill="#a0be6d"/>
<path d="M385.8 712.9l3.4 20.7 2.6 11.7-3.3-22.1z" fill="#f9bf3e"/>
<path d="M419.9 835.4l4.3-17.7 1.7-32.1-4.2 15.8z" fill="#72cec0"/>
<path d="M453.7 783.9l4 22.7 2.7-6-4.1-23.6z" fill="#a1d7b4"/>
<path d="M487.5 895.4l4.1 8.8 3.1 0-4.1-8.2z" fill="#7970e0"/>
<path d="M521.7 920.6l4.3 1.4 2.8-1.4-4.4-1.4z" fill="#452fad"/>
<path d="M292.4 920.7l4.5 0 2.6-1.8-4.5.2z" fill="#3e28ac"/>
<path d="M326.9 889.4l3.5-10.2 2.8-6.8-3.5 12.1z" fill="#484cef"/>
<path d="M361.1 742.1l4.3-14.1 1.8-13-4.3 15.9z" fill="#f8be3f"/>
<path d="M395.3 771.3l4.2 31.8 1.7 22.5-4.2-33.3z" fill="#56bd8d"/>
<path d="M429 778.8l4.6-1.4 2.1-25.5-4.5-1.7z" fill="#d2d8a3"/>
<path d="M463.1 822.3l3.9 21.1 2.8-2.6-3.8-21.5z" fill="#69cbda"/>
<path d="M496.7 909.1l4.5 5.3 3.1-.6-4.3-4.9z" fill="#6e5ecc"/>
<path d="M301.9 918.5l4.5-1.3 2.5-2.5-4.5 1.8z" fill="#3f2ab3"/>
<path d="M370.3 706.7l4.5-3.2 2.1-8.3-4.5 3.6z" fill="#f9f43d"/>
<path d="M336.8 859.6l3.9-13 1.8-10.7-4.2 16.9z" fill="#1096d8"/>
<path d="M438.5 759.8l4.2 13.1 2.5-17.5-4.2-15.5z" fill="#d9d69c"/>
<path d="M472.5 858.1l3.9 16.3 2.9-.7-3.8-15.9z" fill="#81a7f9"/>
<path d="M506 916.4l4.7 3.1 3.3-1-4.7-2.8z" fill="#5c49bd"/>
<path d="M345.9 820.4l4.3-17 1.8-14.3-4.3 20z" fill="#3dba9b"/>
<path d="M379.5 699.5l4 12.7 2.8 1.9-3.7-13.7z" fill="#f8e836"/>
<path d="M447.9 773.6l4.1 20.6 2.6-10.2-4.1-22.4z" fill="#c0d8a8"/>
<path d="M311.5 912.9l4.5-3.5 2.2-3.9-4.5 4.6z" fill="#422fc1"/>
<path d="M414.2 892.8l4.2-25.2 1.7-33.5-4.2 24.1z" fill="#609af3"/>
<path d="M481.8 885.4l4 11.2 3.1-.2-4-10.7z" fill="#8582ed"/>
<path d="M515.9 920l4.4 1.8 2.7-1.3-4.3-1.7z" fill="#4c36b1"/>
<path d="M321.7 900l3.8-5.7 2-6.1-4.4 8.5z" fill="#463de0"/>
<path d="M355.4 772.6l4.2-15.8 1.8-16.1-4.2 18.3z" fill="#c1bc5f"/>
<path d="M457.3 805.8l4.1 21.8 2.6-5.1-4-22.6z" fill="#80d4cc"/>
<path d="M286.7 921.7l4.4.4 2.6-1.7-4.4-.3z" fill="#3e27aa"/>
<path d="M389.5 732.8l3.3 26.3 2.7 13.5-3.3-28z" fill="#cbbb5b"/>
<path d="M423.6 818.3l4.2-10.8 1.9-29.9-4.3 8.5z" fill="#99d7b8"/>
<path d="M491.1 903.3l4.3 7 3-.5-4.2-6.5z" fill="#7b6ed8"/>
<path d="M296.1 920.5l4.5-.4 2.5-2.2-4.4.7z" fill="#3f28ae"/>
<path d="M330.6 880l4.4-11 1.8-9.4-4.3 13.3z" fill="#3e67f8"/>
<path d="M364.8 728.6l4.3-8.9 1.8-14.2-4.3 10z" fill="#fdd14a"/>
<path d="M399 802.4l4.2 33.5 1.7 23.9-4.2-34.9z" fill="#09abbf"/>
<path d="M432.7 777.2l4.3 5.4 2.4-22.9-4.3-8.2z" fill="#d1d9a6"/>
<path d="M466.8 842.3l3.8 18.7 2.9-2.3-3.9-19z" fill="#75c0ea"/>
<path d="M500.4 913.6l4.5 4.1 3.2-.9-4.5-3.8z" fill="#6a5ac6"/>
<path d="M305.6 917.2l4.6-2 2.3-3.2-4.5 2.7z" fill="#402bb8"/>
<path d="M340.2 847.2l4.2-14.7 1.8-13.4-4.2 17.4z" fill="#07a9c3"/>
<path d="M373.9 703.4l4.4 4.7 2.4-8-4.4-5.2z" fill="#faf551"/>
<path d="M408.6 893.2l3.6 30.6 2.1-32.4-3.7 29.5z" fill="#3f28a9"/>
<path d="M442.1 772.2l4.2 16.5 2.5-15.1-4.1-18.8z" fill="#cad8a6"/>
<path d="M510.1 918.9l4.4 2.4 2.7-1.2-4.3-2.2z" fill="#5642b8"/>
<path d="M476.1 873.5l4 13.6 2.9-.8-3.9-13.4z" fill="#9095f7"/>
<path d="M349.6 803.9l4.3-15.7 1.7-16.9-4.2 18.4z" fill="#77bf7e"/>
<path d="M383.5 711.4l3.6 19 2.8 3.7-3.5-20.8z" fill="#fdc94a"/>
<path d="M417.9 868.2l4.2-19.2 1.7-32-4.2 17.7z" fill="#57c0dc"/>
<path d="M451.6 793.5l4.1 21 2.6-8.6-4.1-22.6z" fill="#9bd9be"/>
<path d="M485.5 895.7l4.1 8.9 3-.5-4.1-8.6z" fill="#877fe5"/>
<path d="M315.2 909.6l4.5-4.6 2.1-5-4.4 5.8z" fill="#4333cc"/>
<path d="M519.6 921.4l4.3 1.5 2.8-1.4-4.4-1.5z" fill="#4832af"/>
<path d="M324.8 894.7l4.4-8.1 1.9-7.9-4.3 9.9z" fill="#4746ea"/>
<path d="M290.3 921.9l4.5.1 2.6-1.9-4.4 0z" fill="#3e27ac"/>
<path d="M359 757.3l4.3-12.1 1.8-17.9-4.3 14z" fill="#e6c262"/>
<path d="M393.2 758.3l3.3 30 2.6 15.5-3.3-31.9z" fill="#95bf71"/>
<path d="M427.1 808l4.4-4.1 2.2-27.4-4.6 1.4z" fill="#aedbb9"/>
<path d="M461 826.8l4.1 20.1 2.6-4.3-4-20.8z" fill="#74cede"/>
<path d="M494.7 909.5l4.4 5.4 3.1-.8-4.3-5.1z" fill="#786bd1"/>
<path d="M299.8 920l4.5-.9 2.5-2.6-4.5 1.3z" fill="#3f29b1"/>
<path d="M334.4 869.5l4.3-11.7 1.8-11.9-4.3 14.2z" fill="#2385e6"/>
<path d="M368 720.6l4.7-3.2 2-14.7-4.4 3.2z" fill="#fbe35a"/>
<path d="M470.4 860l3.9 16.1 2.9-2.1-3.9-16.3z" fill="#8eb0fa"/>
<path d="M436.4 782l4.2 10.3 2.5-20.1-4.2-13.1z" fill="#c9daab"/>
<path d="M504 917l4.6 3.2 3.2-1.1-4.6-3z" fill="#6452c0"/>
<path d="M377.6 707.2l4.2 11.3 2.5-6.5-4.1-12.5z" fill="#fae859"/>
<path d="M309.4 915.3l4.5-2.7 2.2-4.1-4.4 3.7z" fill="#412ebe"/>
<path d="M343.8 833.1l4.3-14.3 1.8-16.2-4.3 17z" fill="#1fb3ae"/>
<path d="M412.1 923.8l4.2-25.8 1.7-31.1-4.2 25.1z" fill="#6a64e7"/>
<path d="M445.8 788l4.2 18.3 2.5-12.8-4.1-20.6z" fill="#aedab6"/>
<path d="M513.8 920.8l4.4 1.9 2.7-1.4-4.3-1.8z" fill="#503bb3"/>
<path d="M479.8 886.2l4 11.1 2.9-.9-3.9-11z" fill="#928ff0"/>
<path d="M284.6 922.8l4.4.5 2.7-1.8-4.5-.4z" fill="#3e27aa"/>
<path d="M353.3 788.8l4.2-13.5 1.8-19.3-4.2 15.8z" fill="#b1c57b"/>
<path d="M421.5 849.6l4.2-12.9 1.8-29.9-4.2 10.8z" fill="#6fcfd6"/>
<path d="M455.3 813.8l4.1 20.3 2.6-7.2-4.2-21.7z" fill="#82d5d4"/>
<path d="M319 905.4l4.4-5.6 2-6.3-4.4 6.9z" fill="#4539d8"/>
<path d="M387.3 729.6l3.5 24.2 2.7 5.9-3.5-26.4z" fill="#e4bf5a"/>
<path d="M489.1 903.8l4.2 7.1 3-.8-4.2-6.8z" fill="#867bdc"/>
<path d="M328.5 887.1l4.4-8.9 1.8-10-4.3 11z" fill="#4556f4"/>
<path d="M294 921.8l4.5-.1 2.6-2.3-4.5.5z" fill="#3f28ad"/>
<path d="M362.7 745.7l4.3-7.6 1.8-19.1-4.3 8.8z" fill="#f9cb6b"/>
<path d="M396.9 787.6l3.3 31.8 2.6 17.2-3.3-33.5z" fill="#31b8a2"/>
<path d="M430.6 804l4.5 2.5 2.2-24.7-4.3-5.4z" fill="#b2ddbd"/>
<path d="M464.7 846.1l3.9 18.3 2.8-4.1-4-18.5z" fill="#82c4ed"/>
<path d="M498.4 914.1l4.4 4.3 3.1-1-4.4-4z" fill="#7364ca"/>
<path d="M303.5 919.1l4.6-1.4 2.3-3.3-4.5 2z" fill="#402bb5"/>
<path d="M338 858.3l4.3-12 1.8-14.5-4.2 14.6z" fill="#0ca0d1"/>
<path d="M371.8 717.3l4.5 4.3 2.3-14.5-4.5-4.8z" fill="#fbe563"/>
<path d="M440.1 791.6l4.1 13.7 2.5-17.3-4.1-16.5z" fill="#b3dbb7"/>
<path d="M474.1 875.1l3.9 13.5 2.9-1.9-3.9-13.6z" fill="#9a9ff7"/>
<path d="M507.6 919.6l4.8 2.5 3.2-1.3-4.8-2.3z" fill="#5c49bb"/>
<path d="M381.3 717.8l4 17.2 2.7-4.7-4.1-19z" fill="#fdd26a"/>
<path d="M313.1 912.8l4.5-3.5 2.1-5.1-4.4 4.6z" fill="#4331c6"/>
<path d="M347.5 819.4l4.3-13.1 1.7-18.8-4.2 15.7z" fill="#5dc4a3"/>
<path d="M415.8 898.7l4.2-20.4 1.7-30-4.2 19.2z" fill="#7a93fa"/>
<path d="M449.5 805.7l4.1 18.9 2.6-10.8-4.2-21z" fill="#92d9cb"/>
<path d="M483.4 896.5l4.1 9 2.9-1.1-4-8.8z" fill="#928be8"/>
<path d="M517.5 922.2l4.4 1.6 2.7-1.4-4.4-1.5z" fill="#4a35b0"/>
<path d="M288.3 923l4.4.3 2.6-1.9-4.4-.2z" fill="#3e27ab"/>
<path d="M322.7 900.2l4.4-6.3 1.9-8.1-4.3 8.1z" fill="#4740e4"/>
<path d="M356.9 775.9l4.3-10.3 1.8-21.2-4.2 12.2z" fill="#cccb84"/>
<path d="M391 753l3.4 27.8 2.7 8.1-3.4-30z" fill="#aebe67"/>
<path d="M425.1 837.3l4.3-6.7 1.9-27.5-4.3 4.1z" fill="#88d7d4"/>
<path d="M458.9 833.4l4.1 18.8 2.6-6-4.1-20z" fill="#7dd0e2"/>
<path d="M492.7 910.1l4.3 5.5 3-1-4.2-5.3z" fill="#8275d5"/>
<path d="M297.7 921.5l4.5-.5 2.5-2.6-4.5.9z" fill="#3f29b0"/>
<path d="M332.2 878.7l4.4-9.5 1.8-12.2-4.3 11.8z" fill="#3f77f6"/>
<path d="M366 738.8l4.6-2.6 2.3-20-4.7 3.2z" fill="#fcd274"/>
<path d="M400.6 818.6l3.3 31.6 2.6 18.8-3.3-33.1z" fill="#06a2cb"/>
<path d="M434.3 805.8l4.3 7.3 2.4-21.6-4.3-10.2z" fill="#a9ddc2"/>
<path d="M468.4 863.2l3.9 15.6 2.8-3.4-4-16.3z" fill="#98b4fb"/>
<path d="M501.9 917.7l4.7 3.3 3.1-1.2-4.6-3.1z" fill="#6b5ac4"/>
<path d="M307.3 917.7l4.5-1.9 2.2-4-4.4 2.7z" fill="#422dbb"/>
<path d="M341.7 846.8l4.3-11.7 1.8-17-4.3 14.3z" fill="#2ab6c9"/>
<path d="M375.5 720.8l4.2 10 2.5-13-4.2-11.2z" fill="#fdda6c"/>
<path d="M443.7 804.7l4.2 15.7 2.5-14.8-4.1-18.3z" fill="#9cdbc7"/>
<path d="M410.2 899.1l3.6 26.2 2.1-28-3.7 25.1z" fill="#4029a9"/>
<path d="M477.7 887.7l4 11 2.9-1.7-4-11.2z" fill="#9c99f1"/>
<path d="M511.7 921.6l4.4 1.9 2.7-1.3-4.3-1.9z" fill="#5440b5"/>
<path d="M316.9 909.5l4.4-4.2 2-6.3-4.4 5.5z" fill="#483ad1"/>
<path d="M351.2 806.9l4.3-11.2 1.7-21.1-4.2 13.4z" fill="#92ce9d"/>
<path d="M385 734.2l3.8 22.2 2.9-2.5-4.1-24.4z" fill="#eccc7b"/>
<path d="M419.4 878.9l4.3-14.5 1.7-28.4-4.2 12.8z" fill="#77baed"/>
<path d="M453.2 823.9l4.1 18.5 2.6-9-4.2-20.2z" fill="#82d5dc"/>
<path d="M487.1 904.6l4.1 7.1 3-1.1-4.2-7z" fill="#8f85df"/>
<path d="M291.9 923.1l4.5.1 2.6-2.2-4.5.1z" fill="#4029ad"/>
<path d="M326.4 894.3l4.4-7 1.9-9.9-4.4 8.9z" fill="#5456ee"/>
<path d="M360.6 766.1l4.3-6.4 1.8-22.4-4.3 7.6z" fill="#ddcf8a"/>
<path d="M394.7 780l3.4 29.6 2.7 10.4-3.4-31.8z" fill="#59bd8c"/>
<path d="M428.5 831l4.6-.8 2.1-24.7-4.5-2.5z" fill="#95dbd6"/>
<path d="M462.6 851.5l4.1 16.7 2.6-4.9-4.1-17.8z" fill="#8ec4f1"/>
<path d="M496.3 914.9l4.4 4.2 3.1-1.1-4.4-4.1z" fill="#7b6dce"/>
<path d="M301.4 920.9l4.5-.8 2.4-3.2-4.4 1.4z" fill="#4631b5"/>
<path d="M335.9 869.7l4.3-9.6 1.8-14.6-4.2 12z" fill="#419ae8"/>
<path d="M369.7 736.1l4.5 3.9 2.3-19.5-4.5-4.3z" fill="#fcd47a"/>
<path d="M404.2 849.5l4.2 29.5 1.8 20.1-4.2-30.7z" fill="#4063f8"/>
<path d="M438 812.5l4.2 10.8 2.4-18.7-4.1-13.7z" fill="#9cdccc"/>
<path d="M472 877.8l4 13.1 2.8-2.9-4-13.6z" fill="#a2a5f8"/>
<path d="M505.5 920.4l4.8 2.5 3.2-1.3-4.8-2.4z" fill="#614fbd"/>
<path d="M311 915.9l4.5-2.6 2.2-4.8-4.5 3.5z" fill="#4e3cc4"/>
<path d="M345.4 835.7l4.3-10.7 1.8-19.5-4.3 13.2z" fill="#52c5c3"/>
<path d="M379.2 730.1l4.2 15.3 2.5-11.1-4.2-17.1z" fill="#fad279"/>
<path d="M413.7 925.3l4.2-20.9 1.7-26.8-4.2 20.3z" fill="#7168e1"/>
<path d="M447.4 819.7l4.2 16.6 2.5-12.4-4.2-18.9z" fill="#8cd8d7"/>
<path d="M481.4 897.9l4 8.8 2.9-1.6-4-9z" fill="#9a94e9"/>
<path d="M515.4 923.1l4.4 1.6 2.7-1.5-4.4-1.5z" fill="#4d38b1"/>
<path d="M320.6 905.7l4.4-4.9 2-7.7-4.4 6.3z" fill="#594fdf"/>
<path d="M388.6 755.3l3.8 25 3 1.1-3.9-28.6z" fill="#c7ce8c"/>
<path d="M423 865l4.3-8.8 1.9-26.4-4.3 6.7z" fill="#7fcde6"/>
<path d="M286.2 924.2l4.4.4 2.6-1.9-4.4-.3z" fill="#4029ab"/>
<path d="M354.8 796.2l4.3-8.5 1.8-22.9-4.2 10.3z" fill="#b7d29b"/>
<path d="M456.8 841.7l4.2 17.2 2.5-7.4-4.1-18.7z" fill="#85d0e7"/>
<path d="M490.7 911l4.2 5.5 3-1.2-4.3-5.5z" fill="#8a7ed8"/>
<path d="M295.6 923l4.5-.1 2.5-2.6-4.4.5z" fill="#4631b1"/>
<path d="M363.9 760.3l4.7-2.1 2.2-23.1-4.7 2.6z" fill="#e7d28d"/>
<path d="M466.3 867.5l4 15 2.7-4.6-4.1-15.3z" fill="#a1b6fb"/>
<path d="M330.1 887.7l4.4-7.4 1.8-11.9-4.3 9.5z" fill="#6575f6"/>
<path d="M398.4 808.8l3.4 29.6 2.6 12.4-3.3-31.6z" fill="#0eaeba"/>
<path d="M432.2 830l4.5 4.7 2.2-22.3-4.3-7.3z" fill="#95dbd9"/>
<path d="M499.9 918.5l4.6 3.3 3.1-1.2-4.6-3.3z" fill="#7161c6"/>
<path d="M339.6 860.6l4.3-9.4 1.8-16.8-4.2 11.7z" fill="#47b5dd"/>
<path d="M373.4 739.1l4.3 8.8 2.4-17.8-4.2-10.1z" fill="#fad27f"/>
<path d="M305.1 920.1l4.6-1.4 2.3-3.7-4.5 1.9z" fill="#513dbd"/>
<path d="M441.6 822.7l4.2 12.9 2.5-15.9-4.2-15.7z" fill="#91dad7"/>
<path d="M475.7 889.9l4 10.7 2.8-2.4-4-11.1z" fill="#a3a0f2"/>
<path d="M509.6 922.4l4.4 2 2.7-1.4-4.3-1.9z" fill="#5844b7"/>
<path d="M314.7 913.5l4.5-3.1 2.1-5.9-4.4 4.2z" fill="#5c4ecf"/>
<path d="M349.1 825.5l4.3-9.1 1.8-21.5-4.3 11.2z" fill="#76cfbd"/>
<path d="M382.9 744.7l4.1 19.5 2.6-8.7-4.2-21.9z" fill="#e5d18b"/>
<path d="M417.3 905l4.3-15.7 1.7-25.6-4.2 14.5z" fill="#8a8ef6"/>
<path d="M451.1 835.6l4.1 16.3 2.6-10.2-4.2-18.5z" fill="#87d5e3"/>
<path d="M485 905.9l4.1 7 2.9-1.6-4.1-7z" fill="#978ee1"/>
<path d="M324.3 901.1l4.4-5.4 1.9-9.2-4.3 7z" fill="#6a66ea"/>
<path d="M392.2 779.3l3.8 27 2.8 3.8-3.5-29.7z" fill="#8ccc9c"/>
<path d="M426.6 856.7l4.4-3.5 2.2-23.9-4.6.8z" fill="#8ed6e7"/>
<path d="M289.8 924.4l4.5.3 2.6-2.1-4.5-.2z" fill="#442eae"/>
<path d="M358.4 788.2l4.4-5.3 1.9-24-4.4 6.4z" fill="#c8d59e"/>
<path d="M460.5 858.2l4.1 15.4 2.6-6-4.1-16.8z" fill="#99c3f5"/>
<path d="M494.3 915.8l4.4 4.3 2.9-1.3-4.3-4.3z" fill="#8274d0"/>
<path d="M299.3 922.7l4.5-.4 2.5-3-4.5.9z" fill="#4f3bb7"/>
<path d="M367.7 758.1l4.5 3.4 2.2-22.6-4.5-3.9z" fill="#e8d491"/>
<path d="M402.1 837.6l3.4 28 2.6 14.1-3.3-29.6z" fill="#1c8be1"/>
<path d="M435.9 833.8l4.2 7.8 2.5-19-4.3-10.8z" fill="#91dade"/>
<path d="M469.9 881.3l4 12.5 2.8-3.7-4-13.3z" fill="#a8aaf7"/>
<path d="M503.5 921.2l4.7 2.6 3.1-1.3-4.7-2.5z" fill="#6655bf"/>
<path d="M333.8 880.7l4.3-7.5 1.9-13.9-4.3 9.6z" fill="#6c95f9"/>
<path d="M343.3 851.8l4.3-8.6 1.8-19-4.3 10.7z" fill="#57c4d8"/>
<path d="M377.1 747.3l4.2 13.3 2.5-15.9-4.2-15.3z" fill="#edd28b"/>
<path d="M479.3 899.7l4.1 8.6 2.8-2.1-4.1-8.9z" fill="#a19bea"/>
<path d="M308.9 918.8l4.5-1.7 2.2-4.6-4.4 2.6z" fill="#5d4cc5"/>
<path d="M411.8 905.4l3.6 21.4 2.1-23.2-3.7 20.3z" fill="#4029a9"/>
<path d="M445.3 835l4.2 13.9 2.5-13.3-4.2-16.6z" fill="#8bd7e2"/>
<path d="M513.3 923.9l4.4 1.7 2.7-1.5-4.4-1.5z" fill="#503bb3"/>
<path d="M318.4 910.7l4.5-3.6 2-7.1-4.4 4.8z" fill="#6c60db"/>
<path d="M352.7 816.9l4.3-6.9 1.9-23.1-4.3 8.5z" fill="#92d5b9"/>
<path d="M386.6 763.5l4 22.4 2.6-5.9-4.1-25.2z" fill="#cbd49b"/>
<path d="M488.6 912.1l4.3 5.5 2.9-1.5-4.3-5.5z" fill="#9185da"/>
<path d="M421 889.9l4.2-10.4 1.9-24.1-4.3 8.8z" fill="#96b1fb"/>
<path d="M454.8 851.3l4.1 15.3 2.5-8.4-4.1-17.2z" fill="#92cdef"/>
<path d="M293.5 924.4l4.5.2 2.6-2.4-4.5.1z" fill="#4b35b2"/>
<path d="M328 896.2l4.4-5.8 1.9-10.9-4.4 7.4z" fill="#7a7bf1"/>
<path d="M361.9 783.4l4.6-1.6 2.1-24.6-4.6 2.1z" fill="#cfd7a2"/>
<path d="M396.2 805.5l3.5 27.2 2.7 6.2-3.4-29.6z" fill="#36bbb7"/>
<path d="M430.1 853.3l4.5 1.6 2.2-21.4-4.5-4.7z" fill="#95d8e8"/>
<path d="M464.2 872.9l4.1 13.4 2.6-4.9-4.1-14.5z" fill="#a9b6fb"/>
<path d="M497.9 919.4l4.5 3.3 3-1.3-4.5-3.3z" fill="#7768c9"/>
<path d="M303 922.2l4.5-.7 2.4-3.5-4.5 1.3z" fill="#5a47be"/>
<path d="M371.3 760.7l4.3 7.6 2.4-21.1-4.2-8.8z" fill="#e1d597"/>
<path d="M439.5 841l4.3 10.2 2.4-16.3-4.2-12.9z" fill="#8fd8e4"/>
<path d="M337.5 873.7l4.3-7.4 1.9-15.8-4.3 9.3z" fill="#6facf0"/>
<path d="M405.8 864.9l3.3 25.2 2.5 13.9-3.2-25z" fill="#474ef0"/>
<path d="M473.6 892.8l4 10.2 2.8-3.1-4.1-10.8z" fill="#a8a5f2"/>
<path d="M507.5 923.3l4.4 2 3.2-1.4-4.8-2z" fill="#5c48b9"/>
<path d="M346.9 843.7l4.4-7.2 1.8-20.9-4.3 9.2z" fill="#6acdd5"/>
<path d="M449 848.3l4.1 14 2.6-11.1-4.2-16.3z" fill="#90d3ea"/>
<path d="M312.6 917.2l4.5-2.2 2.1-5.4-4.4 3.1z" fill="#6b5cce"/>
<path d="M380.8 760l4.1 17 2.6-13.5-4.2-19.5z" fill="#d8d599"/>
<path d="M415.2 926.8l4.3-16.3 1.7-21.9-4.2 15.6z" fill="#786ddc"/>
<path d="M482.9 907.5l4.2 6.8 2.8-1.9-4.1-7z" fill="#9d94e3"/>
<path d="M322.1 907.4l4.5-4 2-8.5-4.4 5.4z" fill="#7a72e5"/>
<path d="M287.7 925.6l4.5.5 2.6-2.1-4.4-.3z" fill="#4630ae"/>
<path d="M356.3 810.5l4.4-4.3 1.9-24.1-4.3 5.3z" fill="#a6d9b7"/>
<path d="M390.2 785.2l3.9 24.5 2.8-3.4-4-27z" fill="#a1d5ae"/>
<path d="M492.2 916.9l4.4 4.2 2.9-1.5-4.3-4.2z" fill="#887bd3"/>
<path d="M424.6 880l4.3-5.6 2-22-4.4 3.5z" fill="#a0c5f7"/>
<path d="M458.4 865.9l4.2 13.9 2.5-6.8-4.1-15.5z" fill="#a5c2fa"/>
<path d="M400 831.9l3.4 25.9 2.6 8.4-3.3-28z" fill="#079fcf"/>
<path d="M297.2 924.4l4.5-.1 2.5-2.7-4.5.4z" fill="#533fb7"/>
<path d="M331.7 890.9l4.3-5.8 1.9-12.7-4.3 7.6z" fill="#858ff7"/>
<path d="M365.6 781.7l4.5 2.9 2.2-24.2-4.5-3.4z" fill="#d1d8a5"/>
<path d="M433.8 854.4l4.3 5.1 2.4-18.6-4.3-7.9z" fill="#97d8ea"/>
<path d="M467.8 885.6l4.1 11.7 2.7-4.4-4.1-12.2z" fill="#adadf6"/>
<path d="M501.4 922.2l4.7 2.5 3.1-1.4-4.7-2.5z" fill="#6b5ac1"/>
<path d="M306.7 921.4l4.6-1 2.3-4.1-4.5 1.7z" fill="#6655c5"/>
<path d="M375 767.7l4.2 11.5 2.5-19.3-4.2-13.3z" fill="#d7d69e"/>
<path d="M443.2 850.5l4.2 11.4 2.5-13.7-4.2-13.9z" fill="#94d5ea"/>
<path d="M477.2 902.1l4.1 8.2 2.8-2.6-4.1-8.7z" fill="#a6a0eb"/>
<path d="M341.2 866.8l4.3-6.7 1.8-17.7-4.3 8.6z" fill="#70bde9"/>
<path d="M511.2 924.9l4.4 1.6 2.7-1.4-4.4-1.7z" fill="#523eb4"/>
<path d="M316.3 915.2l4.5-2.6 2.1-6.3-4.4 3.6z" fill="#786bd7"/>
<path d="M350.6 836.9l4.3-5.4 1.9-22.3-4.3 7z" fill="#7dd3d2"/>
<path d="M384.5 776.3l4.1 19.7 2.6-10.7-4.2-22.5z" fill="#c5d8a6"/>
<path d="M418.9 911.1l4.2-11.5 1.8-20.9-4.2 10.4z" fill="#9492f0"/>
<path d="M452.7 861.6l4.1 13.3 2.6-9-4.2-15.3z" fill="#a1c9f5"/>
<path d="M486.6 913.5l4.2 5.3 2.9-1.7-4.3-5.4z" fill="#968bdb"/>
<path d="M291.4 925.8l4.5.4 2.6-2.3-4.5-.1z" fill="#4c37b2"/>
<path d="M325.8 903.7l4.5-4.2 1.9-9.9-4.3 5.8z" fill="#8782ed"/>
<path d="M359.8 806.6l4.6-1.2 2.1-24.6-4.6 1.6z" fill="#b1dbb9"/>
<path d="M393.9 808.5l3.8 24.2 3 .4-3.9-28z" fill="#6fcec7"/>
<path d="M462.1 879.1l4.1 12.1 2.6-5.5-4.1-13.4z" fill="#afb6fa"/>
<path d="M428 874.9l4.6-1.3 2.1-19.7-4.5-1.5z" fill="#a9cdf6"/>
<path d="M495.8 920.5l4.5 3.2 3-1.4-4.5-3.3z" fill="#7c6dcb"/>
<path d="M335.4 885.5l4.3-5.6 1.9-14.4-4.3 7.4z" fill="#8da2fb"/>
<path d="M369.3 783.9l4.2 6.5 2.4-22.8-4.2-7.6z" fill="#cdd9a8"/>
<path d="M403.7 857.1l3.3 23.6 2.7 10-3.4-25.2z" fill="#3a6cf7"/>
<path d="M437.5 858.9l4.2 7.5 2.4-16-4.2-10.1z" fill="#9dd4ef"/>
<path d="M300.9 924.2l4.5-.3 2.5-3.2-4.5.8z" fill="#5d4bbd"/>
<path d="M471.5 896.2l4.1 9.6 2.7-3.6-4.1-10.4z" fill="#ada9f2"/>
<path d="M505 924.2l4.8 2.1 3.2-1.5-4.8-2z" fill="#5f4cbb"/>
<path d="M310.4 920.4l4.6-1.4 2.2-4.8-4.5 2.2z" fill="#7263cd"/>
<path d="M344.8 860.6l4.4-5.6 1.8-19.3-4.3 7.2z" fill="#75cae4"/>
<path d="M378.7 778.6l4.2 14.6 2.5-16.9-4.2-17z" fill="#cbd9a7"/>
<path d="M413.4 911.6l3.6 16.7 2.1-18.5-3.7 15.7z" fill="#4029a9"/>
<path d="M446.9 861.3l4.2 11.6 2.5-11.3-4.2-14z" fill="#a1cdf4"/>
<path d="M480.9 909.5l4.1 6.4 2.8-2.2-4.2-6.8z" fill="#a199e3"/>
<path d="M285.6 926.8l4.5.6 2.6-1.9-4.4-.5z" fill="#4630ae"/>
<path d="M320 912.9l4.5-2.9 2-7.4-4.4 4z" fill="#847adf"/>
<path d="M354 832.3l4.6-3.7 2-23.2-4.4 4.3z" fill="#8bd8d1"/>
<path d="M388.1 795.3l4.1 21.1 2.6-7.7-4.1-24.1z" fill="#9fd9bb"/>
<path d="M422.5 900.2l4.3-7.1 1.9-19.5-4.3 5.6z" fill="#a8abf8"/>
<path d="M456.3 874.3l4.2 12.1 2.5-7.3-4.1-13.9z" fill="#afbefc"/>
<path d="M490.2 918.2l4.3 4.1 2.9-1.7-4.3-4.2z" fill="#8c80d4"/>
<path d="M295.1 925.9l4.5.2 2.5-2.5-4.4.1z" fill="#533fb6"/>
<path d="M329.5 899.9l4.4-4.3 2-11.3-4.4 5.8z" fill="#9190f2"/>
<path d="M363.5 805.3l4.5 2.6 2.2-24.3-4.5-3z" fill="#b3ddbb"/>
<path d="M397.5 831.8l3.8 23.4 2.8 3.1-3.6-26.2z" fill="#49bdd8"/>
<path d="M431.7 873.5l4.5 2.7 2.2-17.5-4.4-5.1z" fill="#adcef7"/>
<path d="M465.8 890.5l4.1 10.7 2.6-4.9-4.1-11.3z" fill="#b1b0f5"/>
<path d="M499.4 923.2l4.6 2.5 3.1-1.4-4.7-2.6z" fill="#6e5ec3"/>
<path d="M339 880.4l4.4-5.1 1.9-15.9-4.3 6.6z" fill="#8fb3f9"/>
<path d="M407.4 879.9l3.3 20.5 2.7 11.2-3.4-21.6z" fill="#4743e6"/>
<path d="M475.2 904.8l4.1 7.7 2.7-2.9-4.1-8.3z" fill="#aaa3ea"/>
<path d="M304.6 923.8l4.5-.6 2.4-3.6-4.5 1.1z" fill="#6858c3"/>
<path d="M372.9 789.8l4.3 9.7 2.4-21-4.2-11.5z" fill="#c5dbae"/>
<path d="M441.1 865.8l4.3 8.8 2.4-13.4-4.2-11.4z" fill="#a7cef5"/>
<path d="M509.1 925.8l4.4 1.7 2.7-1.5-4.3-1.7z" fill="#5540b5"/>
<path d="M314.1 919.1l4.6-1.7 2.1-5.6-4.4 2.6z" fill="#7e71d4"/>
<path d="M484.5 915.2l4.2 5 2.9-1.9-4.3-5.3z" fill="#9a8fdc"/>
<path d="M348.5 855.4l4.3-4.2 1.9-20.5-4.3 5.5z" fill="#7ed0e3"/>
<path d="M382.4 792.5l4.1 16.9 2.6-14.1-4.2-19.6z" fill="#b2dbb6"/>
<path d="M416.8 928.3l4.3-12 1.8-17.4-4.3 11.5z" fill="#7e72d7"/>
<path d="M450.6 872.3l4.1 11.2 2.6-9.3-4.2-13.3z" fill="#aec4fc"/>
<path d="M289.3 927.1l4.5.5 2.6-2.1-4.4-.3z" fill="#4b35b0"/>
<path d="M323.7 910.3l4.5-3 2-8.6-4.4 4.2z" fill="#8f87e7"/>
<path d="M357.7 828.9l4.6-.8 2.2-23.6-4.6 1.2z" fill="#95dbd1"/>
<path d="M391.8 815.7l4.1 21.6 2.6-4.9-4.1-24.4z" fill="#7ed4d1"/>
<path d="M425.8 893.9l4.7-3.5 2.2-17.7-4.6 1.2z" fill="#b5bcfb"/>
<path d="M460 885.8l4.1 10.6 2.6-5.9-4.1-12.1z" fill="#b4b5f8"/>
<path d="M493.7 921.7l4.5 3.1 3-1.5-4.5-3.3z" fill="#7f71cc"/>
<path d="M333.2 895.9l4.4-4.1 2-12.6-4.4 5.5z" fill="#9a9cf6"/>
<path d="M298.8 925.9l4.5.1 2.5-2.9-4.5.4z" fill="#5c4abb"/>
<path d="M367.2 807.3l4.3 5.4 2.4-23.1-4.3-6.4z" fill="#afddbf"/>
<path d="M401.4 854.4l3.6 21.7 2.7 5.1-3.5-23.7z" fill="#438bef"/>
<path d="M435.4 875.6l4.4 5.5 2.3-15.5-4.3-7.4z" fill="#b2ccfa"/>
<path d="M469.4 900.1l4.1 8.7 2.7-3.9-4.1-9.7z" fill="#b0abf0"/>
<path d="M502.9 925.3l4.8 1.9 3.2-1.4-4.8-2.1z" fill="#624fbc"/>
<path d="M308.3 923.2l4.5-.8 2.4-4.2-4.5 1.4z" fill="#7465ca"/>
<path d="M342.7 875.7l4.4-4.2 1.9-17.3-4.4 5.6z" fill="#91bff4"/>
<path d="M376.6 798.9l4.2 12.4 2.5-18.8-4.2-14.6z" fill="#b2dcba"/>
<path d="M411 899.7l4.3 16.8 1.8 11.8-4.3-17.3z" fill="#4230c5"/>
<path d="M444.8 874l4.2 9.4 2.5-11.2-4.2-11.7z" fill="#b1c7fb"/>
<path d="M478.8 911.7l4.2 6.1 2.7-2.5-4.2-6.5z" fill="#a59ce3"/>
<path d="M317.8 917.5l4.5-1.9 2.2-6.4-4.5 2.8z" fill="#897edb"/>
<path d="M351.9 851.8l4.6-2.7 2-21.4-4.4 3.4z" fill="#86d5e2"/>
<path d="M386.1 808.8l4.1 18.2 2.5-11.2-4.1-21.2z" fill="#96d9c9"/>
<path d="M420.4 916.8l4.3-8.1 1.9-16.4-4.3 7.1z" fill="#9c96eb"/>
<path d="M454.2 882.9l4.2 10.4 2.5-7.6-4.1-12.1z" fill="#b6bbfa"/>
<path d="M488.1 919.6l4.3 3.9 2.9-1.7-4.4-4.1z" fill="#8f83d5"/>
<path d="M293 927.3l4.5.5 2.6-2.3-4.5-.2z" fill="#513db4"/>
<path d="M361.4 828l4.5 2.1 2.2-23.2-4.5-2.5z" fill="#98dcd3"/>
<path d="M395.5 836.5l3.8 21 2.9-2.3-4.1-23.6z" fill="#70cbe0"/>
<path d="M327.4 907.6l4.4-3.1 2-9.7-4.4 4.2z" fill="#9893ed"/>
<path d="M429.5 890.6l4.6.3 2.2-15.6-4.5-2.8z" fill="#bcc3fb"/>
<path d="M463.7 895.8l4.1 9.5 2.6-5.2-4.2-10.3z" fill="#b4b2f4"/>
<path d="M497.3 924.3l4.6 2.5 3.1-1.6-4.7-2.5z" fill="#7161c4"/>
<path d="M336.9 892.2l4.4-3.7 1.9-14-4.3 5.1z" fill="#a1a9f9"/>
<path d="M302.5 925.8l4.5-.1 2.5-3.2-4.5.5z" fill="#6755c1"/>
<path d="M370.8 812.2l4.3 8.1 2.4-21.5-4.2-9.7z" fill="#a5ddc5"/>
<path d="M405.2 875.3l3.4 19 2.7 6.7-3.4-20.5z" fill="#484cf0"/>
<path d="M439 880.1l4.3 6.5 2.4-12.7-4.2-8.8z" fill="#b7c7fc"/>
<path d="M473.1 907.9l4.1 7.1 2.7-3.2-4.2-7.8z" fill="#ada6e9"/>
<path d="M507 926.8l4.4 1.6 2.7-1.5-4.3-1.6z" fill="#5642b6"/>
<path d="M312 922.4l4.5-1 2.3-4.8-4.5 1.7z" fill="#7f72d1"/>
<path d="M346.3 871.9l4.4-3.2 2-18.3-4.4 4.2z" fill="#94c7f1"/>
<path d="M380.3 810.6l4.2 14.3 2.5-16.2-4.2-16.9z" fill="#9edbc8"/>
<path d="M415 917.2l3.6 12.6 2.2-14.3-3.8 11.5z" fill="#3f28a9"/>
<path d="M448.5 882.8l4.2 9.2 2.5-9.2-4.2-11.2z" fill="#b8bffb"/>
<path d="M482.4 917.1l4.3 4.7 2.8-2.1-4.3-5.1z" fill="#9d92dd"/>
<path d="M287.2 928.3l4.5.6 2.6-1.9-4.4-.5z" fill="#4933af"/>
<path d="M321.5 915.8l4.5-2 2.2-7.3-4.5 3z" fill="#9389e1"/>
<path d="M389.7 826.3l4.1 18.6 2.6-8.3-4.1-21.5z" fill="#83d5da"/>
<path d="M424 909.2l4.4-4.5 2-15.1-4.4 3.1z" fill="#b0adf3"/>
<path d="M457.9 892.6l4.2 9.3 2.5-6.1-4.1-10.7z" fill="#b7b7f6"/>
<path d="M491.7 922.9l4.4 3.1 3-1.6-4.5-3.2z" fill="#8274cd"/>
<path d="M355.6 849.3l4.6-.5 2.2-21.6-4.6.8z" fill="#8dd8e3"/>
<path d="M296.7 927.5l4.5.3 2.5-2.5-4.4-.1z" fill="#5946b8"/>
<path d="M365.1 829.6l4.5 4.9 2.2-22.6-4.4-5.4z" fill="#97dcd6"/>
<path d="M331.1 904.8l4.4-2.9 2-10.9-4.4 4.1z" fill="#a09df1"/>
<path d="M399.1 856.5l3.8 19.2 3.1.8-4-22.3z" fill="#79b2f1"/>
<path d="M433.2 890.6l4.5 3.1 2.3-13.8-4.5-5.5z" fill="#bec3fb"/>
<path d="M467.3 904.2l4.2 7.9 2.6-4.1-4.2-8.9z" fill="#b2adee"/>
<path d="M500.8 926.3l4.8 2 3.2-1.6-4.8-2z" fill="#6451bd"/>
<path d="M306.2 925.6l4.5-.3 2.4-3.7-4.5.8z" fill="#7262c7"/>
<path d="M340.5 888.8l4.5-3.1 1.9-15-4.4 4.2z" fill="#a6b3fb"/>
<path d="M374.5 819.7l4.2 10.3 2.5-19.4-4.2-12.4z" fill="#9adccf"/>
<path d="M408.9 893.5l3.4 16 2.7 7.7-3.4-17z" fill="#453ad9"/>
<path d="M442.7 886.1l4.3 7.2 2.4-10.6-4.2-9.4z" fill="#bbc1fb"/>
<path d="M476.7 914.2l4.2 5.6 2.7-2.6-4.2-6.2z" fill="#a79ee3"/>
<path d="M315.3 921.8l4.9-1.5 2.3-5.5-4.5 1.9z" fill="#8a7ed7"/>
<path d="M349.8 869.2l4.6-2 2.2-19.2-4.6 2.7z" fill="#97cef0"/>
<path d="M384 824.3l4.1 15.4 2.5-13.4-4.1-18.2z" fill="#8ed9d6"/>
<path d="M418.3 929.8l4.3-8.5 1.9-13.3-4.3 8z" fill="#8477d4"/>
<path d="M452.1 891.4l4.2 8.7 2.6-7.5-4.2-10.4z" fill="#babaf8"/>
<path d="M486 921.2l4.4 3.7 2.8-1.9-4.4-3.9z" fill="#9185d5"/>
<path d="M290.9 928.6l4.5.6 2.6-2.1-4.5-.4z" fill="#4e39b2"/>
<path d="M325.2 914l4.5-2.1 2.1-8.2-4.4 3z" fill="#9b94e6"/>
<path d="M359.3 848.7l4.5 1.9 2.2-21.4-4.5-2.2z" fill="#90d9e4"/>
<path d="M393.4 844.3l4.1 18.1 2.6-5.6-4.1-20.9z" fill="#80cfe5"/>
<path d="M427.4 905.2l4.6-1.6 2.3-13.6-4.6-.3z" fill="#bcbaf6"/>
<path d="M461.6 901.2l4.1 8.3 2.6-5.2-4.2-9.2z" fill="#b7b3f2"/>
<path d="M495.2 925.5l4.6 2.4 3.1-1.6-4.7-2.5z" fill="#7363c5"/>
<path d="M300.4 927.6l4.5.2 2.5-2.8-4.5.1z" fill="#6250bd"/>
<path d="M334.5 902.6l4.7-3.1 2-11.8-4.4 3.7z" fill="#a7a6f4"/>
<path d="M368.7 833.6l4.3 6.7 2.4-20.8-4.2-8.1z" fill="#94dbda"/>
<path d="M402.7 874.7l3.9 17.3 2.8 2.8-3.6-19.2z" fill="#7581f7"/>
<path d="M436.9 893l4.5 4.9 2.2-12-4.2-6.6z" fill="#bfc1f9"/>
<path d="M471 911.2l4.1 6.4 2.7-3.4-4.2-7.1z" fill="#aea7e8"/>
<path d="M504.9 927.8l4.4 1.6 2.7-1.5-4.3-1.6z" fill="#5844b6"/>
<path d="M309.5 925.4l4.9-.7 2.4-4.1-4.5 1z" fill="#7c6ecc"/>
<path d="M344 886.3l4.6-2.5 2.1-15.9-4.5 3.1z" fill="#aabcfc"/>
<path d="M378.2 829.3l4.2 11.9 2.5-17-4.2-14.3z" fill="#91dad9"/>
<path d="M412.6 908.8l4.3 12.6 1.8 8.4-4.3-13.1z" fill="#412dbd"/>
<path d="M480.3 919.1l4.3 4.4 2.8-2.2-4.3-4.8z" fill="#9e94dc"/>
<path d="M446.4 892.7l4.2 7.4 2.5-8.8-4.2-9.3z" fill="#bcbdf8"/>
<path d="M421.9 921.8l4.4-5.4 2-12.5-4.4 4.5z" fill="#a29ae5"/>
<path d="M455.8 899.4l4.2 8.3 2.5-6.5-4.1-9.3z" fill="#bab7f4"/>
<path d="M319.1 920.7l4.8-1.5 2.2-6.2-4.5 2z" fill="#9388dc"/>
<path d="M353.5 867.4l4.6-.2 2.2-19.3-4.6.5z" fill="#9ad1f0"/>
<path d="M387.6 839.1l4.2 15.8 2.5-10.6-4.1-18.6z" fill="#87d5e2"/>
<path d="M489.6 924.3l4.5 2.9 2.9-1.7-4.5-3.1z" fill="#8375cd"/>
<path d="M294.6 928.9l4.5.5 2.6-2.3-4.5-.3z" fill="#5540b5"/>
<path d="M328.6 912.5l4.8-2.3 2.1-9.1-4.5 2.9z" fill="#a39deb"/>
<path d="M363 850.1l4.5 4 2.2-20.8-4.5-4.9z" fill="#92d9e5"/>
<path d="M397.1 861.7l3.9 17.3 2.8-3.6-4.1-19.4z" fill="#91bef5"/>
<path d="M431.1 903.6l4.6 1.1 2.2-12-4.5-3.1z" fill="#c0bff6"/>
<path d="M465.2 908.5l4.2 6.9 2.6-4.2-4.2-8z" fill="#b4aeed"/>
<path d="M498.8 927.4l4.7 1.9 3.2-1.6-4.8-1.9z" fill="#6553bd"/>
<path d="M304.1 927.6l4.5.1 2.5-3.2-4.5.3z" fill="#6c5bc2"/>
<path d="M338.2 900.1l4.7-2.4 2-12.8-4.4 3.1z" fill="#adaef6"/>
<path d="M372.4 839.7l4.3 8.4 2.4-18.9-4.2-10.3z" fill="#90dae0"/>
<path d="M406.7 891.2l3.5 14.7 2.8 4.2-3.5-16.1z" fill="#4a43e4"/>
<path d="M440.6 897l4.4 5.8 2.3-10.2-4.2-7.3z" fill="#bfbff8"/>
<path d="M474.6 916.8l4.2 5.1 2.7-2.8-4.2-5.6z" fill="#a89fe2"/>
<path d="M313.2 924.9l4.9-.8 2.3-4.6-4.5 1.2z" fill="#8779d2"/>
<path d="M347.7 884.1l4.6-1.3 2.2-16.6-4.6 2z" fill="#acc3fb"/>
<path d="M381.9 840.6l4.2 12.9 2.5-14.5-4.2-15.4z" fill="#8cd8e2"/>
<path d="M416.6 922.2l3.6 9.1 2.2-10.8-3.8 8z" fill="#3f28a9"/>
<path d="M450 899.5l4.3 7.5 2.5-7.6-4.2-8.7z" fill="#bcbaf5"/>
<path d="M483.9 922.9l4.4 3.4 2.8-1.9-4.4-3.8z" fill="#9286d5"/>
<path d="M357.2 867.1l4.5 1.5 2.2-19-4.5-1.8z" fill="#9ed3f0"/>
<path d="M425.2 917.2l4.8-3 2.2-11.6-4.6 1.6z" fill="#b4afed"/>
<path d="M493.1 926.7l4.7 2.3 3-1.7-4.7-2.3z" fill="#7464c5"/>
<path d="M322.8 919.5l4.8-1.5 2.2-6.9-4.5 2.1z" fill="#9b92e1"/>
<path d="M391.3 854.2l4.1 15.5 2.6-8-4.1-18.1z" fill="#8fceed"/>
<path d="M459.5 906.6l4.2 7.1 2.5-5.2-4.2-8.4z" fill="#b8b3f0"/>
<path d="M332.4 910.6l4.7-2 2.1-9.9-4.5 2.6z" fill="#aaa5ef"/>
<path d="M298.3 929.2l4.5.4 2.5-2.5-4.4-.2z" fill="#5c49b9"/>
<path d="M366.7 853.3l4.3 5.5 2.4-19.3-4.3-6.7z" fill="#94d8e8"/>
<path d="M400.7 877.9l3.9 15.1 2.9-.9-4-17.8z" fill="#99a4f9"/>
<path d="M434.8 904.3l4.5 3 2.3-10.5-4.5-4.9z" fill="#c1bff6"/>
<path d="M468.9 914.6l4.2 5.6 2.6-3.4-4.2-6.4z" fill="#afa8e7"/>
<path d="M502.8 928.9l4.4 1.5 2.8-1.5-4.4-1.6z" fill="#5945b6"/>
<path d="M307.3 927.7l5-.2 2.4-3.5-4.5.4z" fill="#7666c7"/>
<path d="M341.9 898.1l4.6-1.7 2.3-13.7-4.7 2.5z" fill="#b2b4f8"/>
<path d="M376.1 847.5l4.2 9.8 2.5-16.8-4.2-11.9z" fill="#91d8e5"/>
<path d="M410.4 905.1l3.5 12.1 2.8 5-3.5-12.9z" fill="#4333cb"/>
<path d="M444.3 901.9l4.3 6 2.4-8.5-4.2-7.4z" fill="#bfbdf5"/>
<path d="M478.2 921.2l4.3 4 2.8-2.3-4.3-4.4z" fill="#9e94db"/>
<path d="M317 924.3l4.8-.8 2.6-5.5-4.8 1.6z" fill="#9084d7"/>
<path d="M351.4 882.9l4.6 0 2.2-16.6-4.6.2z" fill="#afc7fb"/>
<path d="M385.5 852.8l4.2 13.2 2.5-11.8-4.1-15.8z" fill="#91d4ea"/>
<path d="M419.8 931.3l4.4-5.7 2-10-4.4 5.4z" fill="#897dd2"/>
<path d="M453.7 906l4.3 6.7 2.5-6.1-4.3-7.9z" fill="#bbb7f2"/>
<path d="M487.5 925.8l4.5 2.7 2.9-1.8-4.5-2.9z" fill="#8375cd"/>
<path d="M292.5 930.2l4.5.7 2.6-2.1-4.5-.5z" fill="#503bb2"/>
<path d="M326.5 918.3l4.8-1.4 2.5-7.9-4.8 2.3z" fill="#a39be5"/>
<path d="M360.9 868.2l4.5 3.3 2.2-18.5-4.5-4z" fill="#a2d3f2"/>
<path d="M395 869l4.1 14.6 2.6-5.6-4.1-17z" fill="#a1c1f9"/>
<path d="M429 914.4l4.6-.4 2.3-10.2-4.6-1.1z" fill="#bdb9f0"/>
<path d="M463.1 912.8l4.2 5.9 2.6-4.1-4.2-7z" fill="#b5aeea"/>
<path d="M496.7 928.6l4.7 1.8 3.2-1.6-4.8-1.9z" fill="#6553bd"/>
<path d="M336.1 909l4.7-1.6 2.3-10.9-4.7 2.5z" fill="#afacf2"/>
<path d="M302 929.4l4.4.3 2.6-2.7-4.5-.1z" fill="#6552bd"/>
<path d="M370.3 858.2l4.3 6.9 2.4-17.7-4.2-8.4z" fill="#97d7eb"/>
<path d="M404.3 892.2l3.9 13 3.1 1.3-4-15.3z" fill="#8987ef"/>
<path d="M438.5 906.7l4.4 4 2.4-9-4.4-5.8z" fill="#c1bef5"/>
<path d="M472.5 919.5l4.3 4.5 2.7-2.8-4.3-5.1z" fill="#a89fe1"/>
<path d="M311.1 927.6l4.9-.4 2.8-4.1-4.9.8z" fill="#8071cd"/>
<path d="M379.8 856.7l4.2 10.5 2.5-14.5-4.2-12.8z" fill="#96d5eb"/>
<path d="M345.6 896.6l4.6-.8 2.3-13.9-4.7 1.2z" fill="#b6b9f9"/>
<path d="M414.1 916.4l3.5 9.6 2.8 5.3-3.6-9.9z" fill="#402bb7"/>
<path d="M447.9 907l4.4 5.9 2.4-7-4.3-7.1z" fill="#bebaf2"/>
<path d="M481.8 924.6l4.4 3.2 2.9-2-4.5-3.5z" fill="#9185d4"/>
<path d="M355.1 882.8l4.5 1.4 2.2-16.5-4.5-1.5z" fill="#b2c9fb"/>
<path d="M320.7 923.7l4.8-.9 2.6-5.9-4.8 1.5z" fill="#988ddb"/>
<path d="M389.2 865.4l4.2 12.9 2.5-9.3-4.1-15.5z" fill="#a0caf4"/>
<path d="M423.4 925.9l4.5-3.3 2-9.3-4.4 2.6z" fill="#a59ce1"/>
<path d="M457.4 911.8l4.2 5.9 2.6-5-4.3-7.1z" fill="#b9b3ed"/>
<path d="M491 928l4.7 2.2 3-1.7-4.7-2.3z" fill="#7363c4"/>
<path d="M296.2 930.6l4.4.5 2.6-2.2-4.4-.4z" fill="#5642b5"/>
<path d="M330.3 917.2l4.7-1.2 2.4-8.5-4.7 2z" fill="#a9a2e9"/>
<path d="M364.6 870.8l4.4 4.8 2.3-17.6-4.4-5.5z" fill="#a6d1f4"/>
<path d="M398.6 882.9l4 13.5 2.8-3.9-4.1-15.2z" fill="#a9aff9"/>
<path d="M432.7 913.9l4.5 1.4 2.3-9-4.5-2.9z" fill="#c0bbf0"/>
<path d="M466.8 918l4.2 4.9 2.7-3.4-4.3-5.7z" fill="#afa7e5"/>
<path d="M500.8 929.9l4.3 1.6 2.8-1.6-4.4-1.6z" fill="#5945b6"/>
<path d="M305.6 929.5l4.5.2 2.6-2.9-4.5 0z" fill="#6d5dc2"/>
<path d="M339.8 907.7l4.6-1 2.3-11.3-4.6 1.6z" fill="#b4b1f4"/>
<path d="M407.8 904.1l4.1 11.3 2.8 2.2-3.7-12.2z" fill="#6357da"/>
<path d="M442.2 910l4.3 4.4 2.4-7.6-4.3-6.1z" fill="#c0bcf2"/>
<path d="M476.1 923.4l4.3 3.6 2.8-2.4-4.4-4z" fill="#9d92da"/>
<path d="M374 864.5l4.3 7.9 2.4-15.8-4.2-9.8z" fill="#9fd3f0"/>
<path d="M314.8 927.3l4.9-.3 2.7-4.5-4.9.8z" fill="#897cd1"/>
<path d="M383.5 866.6l4.1 10.8 2.5-12.1-4.1-13.2z" fill="#a2cef4"/>
<path d="M349.3 895.9l4.6.2 2.2-14.1-4.6 0z" fill="#babdfa"/>
<path d="M418.3 926.4l3.5 6.9 2.3-8.5-3.9 4.9z" fill="#3f27a9"/>
<path d="M451.6 912l4.3 5.5 2.5-5.8-4.3-6.8z" fill="#bbb6ee"/>
<path d="M485.4 927.3l4.5 2.5 2.9-1.8-4.5-2.8z" fill="#8274cc"/>
<path d="M324.4 923l4.8-.7 2.5-6.5-4.8 1.5z" fill="#9f95df"/>
<path d="M358.8 883.8l4.5 2.6 2.2-15.9-4.5-3.3z" fill="#b5c9fc"/>
<path d="M392.9 877.7l4.1 12.3 2.6-7.1-4.2-14.6z" fill="#adbffc"/>
<path d="M426.8 923.1l4.7-1.5 2.3-8.5-4.6.4z" fill="#b4ace8"/>
<path d="M461 916.9l4.3 5 2.6-4-4.3-6z" fill="#b4ade8"/>
<path d="M494.6 929.7l4.8 1.8 3.1-1.7-4.8-1.8z" fill="#6552bc"/>
<path d="M299.9 930.9l4.4.5 2.6-2.4-4.4-.3z" fill="#5c49b9"/>
<path d="M334 916.2l4.6-.9 2.4-8.9-4.7 1.6z" fill="#aea8eb"/>
<path d="M368.2 874.7l4.3 5.5 2.4-15.9-4.2-6.8z" fill="#accef7"/>
<path d="M402.3 895.3l3.9 11.6 2.9-1.8-4-13.7z" fill="#a3a1f2"/>
<path d="M436.4 914.9l4.4 2.6 2.4-7.8-4.5-4z" fill="#c0bbef"/>
<path d="M470.4 922.2l4.3 3.9 2.7-2.7-4.3-4.6z" fill="#a69ddf"/>
<path d="M308.9 929.7l4.9.1 2.9-3.5-4.9.3z" fill="#7667c7"/>
<path d="M343.5 906.8l4.6-.4 2.3-11.5-4.6.8z" fill="#b8b6f5"/>
<path d="M411.9 914.6l3.6 8.9 2.9 2.9-3.7-9.6z" fill="#422ec0"/>
<path d="M479.7 926.5l4.4 2.8 2.9-2.1-4.5-3.2z" fill="#8f83d2"/>
<path d="M377.7 871.8l4.2 8.5 2.5-13.8-4.2-10.6z" fill="#a9cdf6"/>
<path d="M445.8 913.7l4.4 4.5 2.4-6.3-4.3-6z" fill="#bdb8ee"/>
<path d="M318.6 927l4.7-.3 2.7-4.9-4.8.9z" fill="#9185d6"/>
<path d="M353 895.9l4.5 1.2 2.3-13.8-4.6-1.4z" fill="#bcbffa"/>
<path d="M387.1 876.8l4.2 10.7 2.5-9.8-4.2-13z" fill="#aec6fb"/>
<path d="M421.3 932.7l4.5-3.5 2-7.4-4.4 3.3z" fill="#8c7fd1"/>
<path d="M455.3 916.7l4.3 4.8 2.5-4.7-4.3-5.9z" fill="#b8b1ea"/>
<path d="M488.9 929.3l4.7 2 3-1.7-4.7-2.1z" fill="#7262c3"/>
<path d="M328.1 922.4l4.7-.6 2.5-6.8-4.7 1.2z" fill="#a59de3"/>
<path d="M362.5 885.9l4.4 3.7 2.3-15.2-4.5-4.7z" fill="#b8c8fc"/>
<path d="M396.6 889.3l4.1 11.2 2.6-5.1-4.2-13.2z" fill="#b2b3f8"/>
<path d="M294.1 931.8l4.4.7 2.7-2-4.5-.6z" fill="#503bb2"/>
<path d="M430.6 921.7l4.5.2 2.4-7.5-4.6-1.4z" fill="#bab3ea"/>
<path d="M464.7 921.3l4.3 4.1 2.6-3.3-4.3-4.9z" fill="#ada5e3"/>
<path d="M498.7 931l4.4 1.5 2.7-1.6-4.4-1.5z" fill="#5844b6"/>
<path d="M303.5 931.1l4.5.5 2.6-2.5-4.5-.3z" fill="#6452bd"/>
<path d="M440.1 917l4.4 3.1 2.4-6.6-4.4-4.5z" fill="#beb8ed"/>
<path d="M474 925.6l4.4 3.2 2.7-2.4-4.4-3.7z" fill="#9b90d8"/>
<path d="M337.7 915.4l4.6-.5 2.4-9.2-4.7 1z" fill="#b3aeee"/>
<path d="M371.9 879.6l4.3 6.3 2.4-14.3-4.2-7.9z" fill="#b2cbfb"/>
<path d="M405.9 906l4 9.7 3-.1-4.1-11.4z" fill="#938ce7"/>
<path d="M312.7 929.8l4.8 0 2.9-3.8-4.9.4z" fill="#7f70cb"/>
<path d="M347.2 906.4l4.6.3 2.2-11.5-4.6-.2z" fill="#bbb9f5"/>
<path d="M381.4 879.7l4.2 8.8 2.5-11.8-4.2-10.8z" fill="#b2c7fc"/>
<path d="M415.5 922.7l3.7 6.9 2.9 3.1-3.7-7.2z" fill="#3f2ab2"/>
<path d="M449.5 917.5l4.3 4.3 2.5-5.3-4.3-5.5z" fill="#bab4eb"/>
<path d="M483.3 928.8l4.5 2.3 3-1.9-4.6-2.5z" fill="#8071ca"/>
<path d="M322.3 926.8l4.7-.3 2.6-5.2-4.7.7z" fill="#988dd9"/>
<path d="M356.7 896.8l4.5 2.1 2.2-13.4-4.5-2.6z" fill="#bec0fa"/>
<path d="M390.8 886.9l4.2 10.1 2.5-7.7-4.2-12.3z" fill="#b6bcfb"/>
<path d="M424.6 929.7l4.8-2.1 2.5-7.1-4.8 1.5z" fill="#a399dd"/>
<path d="M492.5 930.9l4.8 1.7 3.1-1.7-4.8-1.7z" fill="#6351bc"/>
<path d="M458.9 920.8l4.3 4.2 2.6-3.8-4.3-5.1z" fill="#b2aae5"/>
<path d="M297.8 932.2l4.4.7 2.6-2.1-4.4-.6z" fill="#5541b5"/>
<path d="M331.8 921.9l4.7-.4 2.5-7.2-4.7.9z" fill="#aba3e5"/>
<path d="M366.1 888.9l4.5 4.7 2.3-14.2-4.4-5.5z" fill="#bbc5fc"/>
<path d="M400.2 899.8l4.1 10.1 2.7-3.6-4.2-11.6z" fill="#afacf3"/>
<path d="M434.2 921.7l4.6 1.5 2.3-6.6-4.5-2.6z" fill="#bbb4ea"/>
<path d="M468.3 924.8l4.3 3.4 2.7-2.7-4.3-4z" fill="#a49add"/>
<path d="M307.2 931.4l4.5.4 2.6-2.7-4.5-.3z" fill="#6c5ac0"/>
<path d="M341.4 914.9l4.6 0 2.3-9.4-4.6.4z" fill="#b7b2ef"/>
<path d="M375.6 885.4l4.3 6.8 2.4-12.6-4.2-8.6z" fill="#b8c5fc"/>
<path d="M409.4 914.8l4.1 8 3.3 1.2-4.3-9.3z" fill="#7466d4"/>
<path d="M443.7 919.5l4.4 3.4 2.5-5.6-4.4-4.6z" fill="#bbb5ea"/>
<path d="M477.6 928.3l4.5 2.5 2.8-2.1-4.5-2.9z" fill="#8c7fd0"/>
<path d="M350.9 906.6l4.5 1 2.3-11.4-4.6-1.2z" fill="#bdbcf6"/>
<path d="M316.4 929.8l4.8 0 2.8-4-4.8.3z" fill="#8779cf"/>
<path d="M385 887.9l4.2 8.7 2.5-9.8-4.2-10.7z" fill="#b9c0fb"/>
<path d="M420 929.8l3.4 4.7 2.4-6.1-4 3.1z" fill="#3e27a9"/>
<path d="M453.1 921.1l4.4 3.9 2.5-4.3-4.3-4.9z" fill="#b5aee7"/>
<path d="M486.8 930.7l4.7 1.8 3.1-1.7-4.8-2z" fill="#705fc2"/>
<path d="M326 926.5l4.7-.2 2.6-5.5-4.8.6z" fill="#9f94dc"/>
<path d="M360.4 898.5l4.4 2.9 2.3-12.8-4.5-3.7z" fill="#bfc0f9"/>
<path d="M394.5 896.4l4.1 9.3 2.6-5.9-4.2-11.2z" fill="#b7b6f7"/>
<path d="M428.4 927.8l4.6-.5 2.5-6.3-4.7-.2z" fill="#aea5e2"/>
<path d="M462.5 924.4l4.4 3.5 2.6-3.2-4.3-4.2z" fill="#aaa1e0"/>
<path d="M496.6 932.1l4.4 1.5 2.7-1.6-4.4-1.5z" fill="#5743b5"/>
<path d="M301.4 932.6l4.5.6 2.6-2.2-4.4-.5z" fill="#5b47b7"/>
<path d="M335.6 921.5l4.6-.1 2.4-7.4-4.7.5z" fill="#afa8e7"/>
<path d="M369.8 892.8l4.4 5.3 2.3-12.9-4.3-6.3z" fill="#bdc3fb"/>
<path d="M403.9 909l4 8.5 2.8-2.1-4.1-10.1z" fill="#a7a0eb"/>
<path d="M437.9 922.8l4.5 2.1 2.4-5.7-4.4-3.1z" fill="#b9b2e8"/>
<path d="M471.9 927.7l4.4 2.8 2.8-2.3-4.5-3.3z" fill="#978bd6"/>
<path d="M310.5 931.8l4.9.2 2.9-3.1-4.9 0z" fill="#7363c4"/>
<path d="M379.3 891.6l4.2 7 2.5-10.8-4.3-8.8z" fill="#bcc1fb"/>
<path d="M413.3 922.1l3.9 6.3 2.9 1.4-3.9-7z" fill="#402cb8"/>
<path d="M447.4 922.3l4.4 3.3 2.5-4.7-4.4-4.3z" fill="#b7afe7"/>
<path d="M481.1 930.4l4.6 2 3-1.9-4.6-2.3z" fill="#7c6dc8"/>
<path d="M345.1 914.8l4.6.5 2.3-9.4-4.6-.4z" fill="#bab5f0"/>
<path d="M354.6 907.4l4.5 1.7 2.3-11.1-4.6-2.1z" fill="#bfbdf6"/>
<path d="M320.1 929.8l4.8 0 2.7-4.3-4.8.3z" fill="#8e82d3"/>
<path d="M388.7 895.9l4.2 8.3 2.5-7.8-4.2-10.2z" fill="#bbbbf8"/>
<path d="M422.8 934.2l4.5-2 2.2-5.4-4.5 1.8z" fill="#897cce"/>
<path d="M456.8 924.4l4.3 3.4 2.6-3.6-4.3-4.2z" fill="#aea6e2"/>
<path d="M490.4 932.2l4.8 1.5 3.2-1.7-4.9-1.7z" fill="#614fbb"/>
<path d="M329.7 926.3l4.7 0 2.5-5.8-4.7.4z" fill="#a49adf"/>
<path d="M398.1 905.1l4.2 8.6 2.6-4.7-4.2-9.9z" fill="#b5b1f2"/>
<path d="M432.1 927.2l4.6.6 2.4-5.5-4.6-1.4z" fill="#b1a9e3"/>
<path d="M364 900.9l4.5 3.6 2.3-12-4.5-4.7z" fill="#c0c0f8"/>
<path d="M466.1 927.3l4.4 2.9 2.8-2.6-4.5-3.5z" fill="#9f94da"/>
<path d="M305.1 933l4.5.6 2.6-2.4-4.5-.5z" fill="#614ebb"/>
<path d="M339.3 921.4l4.6.1 2.4-7.5-4.7 0z" fill="#b3ace9"/>
<path d="M373.5 897.2l4.4 5.8 2.3-11.6-4.3-6.8z" fill="#bfc0f9"/>
<path d="M407.5 916.6l4 7 3-.8-4.2-8.3z" fill="#978ddf"/>
<path d="M441.6 924.5l4.4 2.4 2.5-4.9-4.4-3.3z" fill="#b6aee6"/>
<path d="M475.4 930l4.6 2.3 2.9-2.1-4.6-2.6z" fill="#887ace"/>
<path d="M314.2 932l4.9.2 2.9-3.3-4.9 0z" fill="#7b6bc8"/>
<path d="M348.8 915.1l4.5 1 2.3-9.3-4.5-1.1z" fill="#bcb7f1"/>
<path d="M382.9 898l4.3 7 2.5-9.2-4.3-8.7z" fill="#bdbef8"/>
<path d="M417 927.7l3.9 4.9 2.9 1.5-3.9-5.1z" fill="#3f28af"/>
<path d="M451 925l4.4 3.1 2.6-3.9-4.4-3.9z" fill="#b1a8e3"/>
<path d="M484.7 932l4.7 1.7 3.1-1.7-4.8-1.9z" fill="#6d5bc0"/>
<path d="M323.8 929.8l4.8.1 2.6-4.5-4.7.2z" fill="#9589d6"/>
<path d="M358.2 908.7l4.5 2.4 2.3-10.6-4.5-3z" fill="#c0bdf5"/>
<path d="M426.2 932.5l4.7-1 2.6-5.2-4.8.5z" fill="#9b90d7"/>
<path d="M460.4 927.2l4.4 2.9 2.7-2.9-4.4-3.6z" fill="#a59bdd"/>
<path d="M392.4 903.6l4.2 8.1 2.5-6.6-4.2-9.4z" fill="#bab8f5"/>
<path d="M494.5 933.3l4.4 1.3 2.7-1.6-4.4-1.4z" fill="#5641b5"/>
<path d="M299.3 933.9l4.5.7 2.6-2-4.4-.6z" fill="#533eb3"/>
<path d="M333.4 926.3l4.7.1 2.5-5.9-4.7.1z" fill="#a89fe1"/>
<path d="M401.8 912.7l4.1 7.3 2.7-3.2-4.2-8.8z" fill="#afa9eb"/>
<path d="M367.7 903.8l4.5 4.2 2.2-11-4.4-5.4z" fill="#c0c0f7"/>
<path d="M435.8 927.6l4.5 1.3 2.5-4.8-4.5-2.1z" fill="#b1a8e2"/>
<path d="M469.7 929.8l4.5 2.4 2.8-2.3-4.5-2.8z" fill="#9185d3"/>
<path d="M377.2 902.1l4.3 5.9 2.4-10.1-4.3-7.1z" fill="#bfbff7"/>
<path d="M411 922.9l4.2 5.6 3.1 0-4.3-6.5z" fill="#7b6dcf"/>
<path d="M445.2 926.5l4.5 2.4 2.5-4.1-4.4-3.3z" fill="#b1a8e3"/>
<path d="M308.8 933.3l4.5.6 2.5-2.6-4.4-.4z" fill="#6755be"/>
<path d="M342.9 921.4l4.6.6 2.4-7.6-4.6-.4z" fill="#b6afea"/>
<path d="M479 931.9l4.7 1.8 3-1.9-4.7-2z" fill="#7868c6"/>
<path d="M318 932.1l4.8.3 2.8-3.5-4.8 0z" fill="#8273cb"/>
<path d="M352.4 915.8l4.6 1.5 2.3-9.1-4.5-1.7z" fill="#bdb9f1"/>
<path d="M386.6 904.4l4.3 7.1 2.4-8-4.2-8.3z" fill="#bdbbf6"/>
<path d="M420.6 931.8l4.4 4.1 2.4-4.5-4.1 1.8z" fill="#3e27a9"/>
<path d="M454.7 927.6l4.4 2.7 2.6-3.3-4.4-3.4z" fill="#a89fde"/>
<path d="M488.2 933.4l4.9 1.4 2.7-1.7-4.4-1.6z" fill="#5f4cb9"/>
<path d="M327.6 929.8l4.7.2 2.6-4.6-4.7 0z" fill="#9a8fd8"/>
<path d="M361.9 910.6l4.5 2.8 2.3-9.9-4.5-3.6z" fill="#c0bdf5"/>
<path d="M429.9 931.5l4.7.1 2.5-4.6-4.6-.6z" fill="#a298da"/>
<path d="M396 910.7l4.2 7.1 2.6-5.1-4.2-8.8z" fill="#b8b3f0"/>
<path d="M464 929.7l4.5 2.4 2.7-2.5-4.5-3z" fill="#998dd6"/>
<path d="M303 934.3l4.5.7 2.6-2.1-4.5-.6z" fill="#5743b5"/>
<path d="M337.1 926.3l4.6.4 2.5-6.1-4.6-.1z" fill="#aca3e3"/>
<path d="M371.4 907.3l4.4 4.4 2.3-9.9-4.4-5.8z" fill="#c1bff6"/>
<path d="M405.4 919.2l4.1 6.1 2.8-2.1-4.2-7.2z" fill="#a59ce3"/>
<path d="M439.4 928.6l4.5 1.7 2.6-4.2-4.5-2.4z" fill="#ada4e0"/>
<path d="M473.3 931.7l4.6 2 2.9-2-4.6-2.3z" fill="#8274cb"/>
<path d="M346.6 921.8l4.6.9 2.4-7.5-4.6-.9z" fill="#b8b1eb"/>
<path d="M380.8 907.1l4.4 5.9 2.4-8.7-4.3-7z" fill="#bfbdf5"/>
<path d="M414.4 927.7l4.5 4.6 2.9.3-4.1-5z" fill="#503cb9"/>
<path d="M312 933.8l5 .4 3-2.9-4.9-.2z" fill="#6e5cc1"/>
<path d="M448.9 928.5l4.4 2.3 2.6-3.5-4.4-3z" fill="#a9a0df"/>
<path d="M482.6 933.4l4.7 1.5 3.2-1.8-4.8-1.7z" fill="#6957be"/>
<path d="M321.7 932.3l4.8.4 2.7-3.7-4.8-.1z" fill="#887ace"/>
<path d="M458.3 929.9l4.4 2.3 2.7-2.7-4.4-3z" fill="#9e93d9"/>
<path d="M356.1 917l4.5 1.8 2.4-8.6-4.5-2.4z" fill="#beb9f0"/>
<path d="M390.3 910.5l4.2 6.5 2.5-6.4-4.2-7.7z" fill="#bcb8f2"/>
<path d="M424.3 935.6l4.5-.9 2.4-4-4.5.7z" fill="#8071c8"/>
<path d="M331.3 930l4.6.3 2.6-4.8-4.7-.1z" fill="#9e94db"/>
<path d="M365.6 912.9l4.5 3.2 2.3-9.1-4.5-4.2z" fill="#c0bdf3"/>
<path d="M399.7 916.9l4.2 6.2 2.6-3.8-4.2-7.5z" fill="#b3adea"/>
<path d="M433.6 931.5l4.6.7 2.6-4.1-4.6-1.3z" fill="#a399db"/>
<path d="M467.6 931.7l4.5 2.1 2.9-2.2-4.6-2.5z" fill="#8b7dcf"/>
<path d="M306.7 934.7l4.5.7 2.6-2.2-4.5-.6z" fill="#5c49b8"/>
<path d="M340.8 926.6l4.6.5 2.5-6-4.6-.5z" fill="#afa7e4"/>
<path d="M375.1 911l4.4 4.6 2.3-8.7-4.4-6z" fill="#c0bdf4"/>
<path d="M409 924.6l4.2 4.9 2.9-1.2-4.3-5.8z" fill="#9488d8"/>
<path d="M443.1 930l4.5 1.8 2.6-3.6-4.5-2.5z" fill="#a79edd"/>
<path d="M476.9 933.4l4.7 1.6 3-1.9-4.7-1.8z" fill="#7262c3"/>
<path d="M315.8 934.1l4.8.4 3-2.9-4.9-.3z" fill="#7463c4"/>
<path d="M350.3 922.5l4.6 1.2 2.3-7.3-4.5-1.4z" fill="#b9b3eb"/>
<path d="M384.5 912l4.3 5.7 2.5-7.3-4.4-7.2z" fill="#bebbf2"/>
<path d="M418.5 931.6l4.1 3.5 2.9.4-4.1-3.7z" fill="#3e28ac"/>
<path d="M452.5 930.4l4.5 2.2 2.7-3-4.5-2.8z" fill="#a095da"/>
<path d="M486.6 934.5l4.4 1.4 2.7-1.7-4.4-1.5z" fill="#5c48b7"/>
<path d="M325.4 932.6l4.7.3 2.8-3.7-4.8-.2z" fill="#8d80d1"/>
<path d="M359.8 918.4l4.5 2.2 2.3-8.1-4.4-2.8z" fill="#beb9ef"/>
<path d="M393.9 916.1l4.3 5.9 2.5-5.1-4.3-7.3z" fill="#b9b4ed"/>
<path d="M427.7 934.8l4.8-.3 2.7-3.8-4.8-.1z" fill="#8d80cf"/>
<path d="M461.9 931.8l4.5 2.1 2.8-2.4-4.6-2.5z" fill="#9184d2"/>
<path d="M369.3 915.5l4.4 3.5 2.4-8.3-4.5-4.5z" fill="#c0bcf1"/>
<path d="M335 930.2l4.6.5 2.6-4.9-4.7-.3z" fill="#a298dc"/>
<path d="M403.3 922.3l4.2 5.1 2.7-2.7-4.2-6.2z" fill="#aba2e4"/>
<path d="M437.3 932l4.5 1.1 2.7-3.6-4.6-1.7z" fill="#a096d9"/>
<path d="M471.2 933.4l4.6 1.7 3-2-4.7-2z" fill="#7b6cc7"/>
<path d="M344.5 927l4.6.8 2.4-6-4.6-.8z" fill="#b1a9e5"/>
<path d="M310.4 935.1l4.4.7 2.6-2.3-4.4-.6z" fill="#614eba"/>
<path d="M378.7 914.8l4.4 4.6 2.4-7.5-4.4-6z" fill="#bfbbf1"/>
<path d="M412.5 928.8l4.4 4.1 3.1-.7-4.5-4.6z" fill="#796aca"/>
<path d="M446.7 931.4l4.5 1.9 2.7-3.2-4.5-2.4z" fill="#9f95d9"/>
<path d="M480.4 934.7l4.9 1.4 3.1-1.8-4.8-1.6z" fill="#6452bc"/>
<path d="M319.5 934.4l4.8.5 2.9-3.1-4.8-.3z" fill="#7969c7"/>
<path d="M354 923.4l4.5 1.5 2.4-7-4.5-1.8z" fill="#bab3ea"/>
<path d="M388.2 916.8l4.3 5.2 2.4-6-4.3-6.6z" fill="#bcb7ef"/>
<path d="M422.1 934.5l4.4 2.8 2.6-3.4-4.2.8z" fill="#3e27a9"/>
<path d="M456.1 932.2l4.5 2 2.8-2.6-4.5-2.4z" fill="#9588d4"/>
<path d="M329.1 932.9l4.7.4 2.7-3.9-4.7-.3z" fill="#9185d3"/>
<path d="M397.6 921.2l4.2 5 2.6-3.9-4.3-6.3z" fill="#b4ade8"/>
<path d="M431.4 934.5l4.7.4 2.7-3.5-4.7-.8z" fill="#9184d1"/>
<path d="M465.4 933.5l4.7 1.8 2.9-2.1-4.7-2.2z" fill="#8274cb"/>
<path d="M363.5 920.2l4.5 2.5 2.3-7.5-4.4-3.2z" fill="#beb9ee"/>
<path d="M372.9 918.4l4.5 3.5 2.3-7.3-4.4-4.6z" fill="#bfbaef"/>
<path d="M338.7 930.5l4.6.6 2.5-4.8-4.6-.6z" fill="#a59bdd"/>
<path d="M406.9 926.8l4.3 4.2 2.8-1.9-4.3-5.1z" fill="#9d93db"/>
<path d="M440.9 932.9l4.6 1.3 2.7-3.2-4.6-1.8z" fill="#9a8fd6"/>
<path d="M474.7 934.8l4.8 1.5 3.1-1.9-4.8-1.7z" fill="#6c5bc0"/>
<path d="M314.1 935.6l4.4.6 2.6-2.3-4.4-.6z" fill="#6654bd"/>
<path d="M348.2 927.6l4.5 1.1 2.5-5.9-4.6-1.2z" fill="#b2aae5"/>
<path d="M415.9 932.1l4.7 3.3 2.8-.5-4.2-3.5z" fill="#5541b8"/>
<path d="M382.4 918.7l4.4 4.3 2.4-6.4-4.4-5.6z" fill="#beb8ee"/>
<path d="M450.3 932.9l4.6 1.8 2.7-2.8-4.5-2.2z" fill="#9589d4"/>
<path d="M484.5 935.7l4.4 1.3 2.7-1.7-4.4-1.4z" fill="#5844b6"/>
<path d="M323.2 934.8l4.8.5 2.9-3.2-4.8-.4z" fill="#7e6fc9"/>
<path d="M357.7 924.6l4.5 1.7 2.4-6.5-4.5-2.2z" fill="#bab3ea"/>
<path d="M391.8 921.2l4.3 4.7 2.5-4.8-4.3-5.9z" fill="#b9b2ea"/>
<path d="M425.8 937l4.5-.1 2.5-3.1-4.5.1z" fill="#7261c1"/>
<path d="M459.7 933.8l4.6 1.7 2.9-2.2-4.7-2.1z" fill="#8779cd"/>
<path d="M332.8 933.2l4.7.5 2.7-3.9-4.7-.5z" fill="#9589d5"/>
<path d="M401.2 925.5l4.3 4.3 2.6-3-4.3-5.3z" fill="#aca4e3"/>
<path d="M469 934.9l4.7 1.6 3-2-4.7-1.8z" fill="#7463c3"/>
<path d="M367.2 922.2l4.4 2.7 2.4-6.8-4.5-3.5z" fill="#bdb7ec"/>
<path d="M435.1 934.7l4.6.8 2.8-3.1-4.7-1.2z" fill="#8f82d0"/>
<path d="M308.3 936.5l4.4.8 2.7-2.1-4.5-.7z" fill="#5642b5"/>
<path d="M342.4 931l4.6.8 2.5-4.8-4.6-.8z" fill="#a69dde"/>
<path d="M376.6 921.3l4.4 3.6 2.4-6.5-4.4-4.6z" fill="#bdb8ed"/>
<path d="M444.6 933.9l4.5 1.5 2.8-2.8-4.6-1.9z" fill="#9286d2"/>
<path d="M478.3 935.9l4.9 1.3 2.7-1.7-4.4-1.5z" fill="#5f4cb9"/>
<path d="M410.5 930.4l4.4 3.5 2.9-1.4-4.4-4.1z" fill="#897cd1"/>
<path d="M317.3 936.1l4.9.6 3-2.6-4.9-.5z" fill="#6b59bf"/>
<path d="M351.9 928.4l4.5 1.3 2.5-5.6-4.6-1.5z" fill="#b2aae5"/>
<path d="M386.1 922.4l4.3 4 2.5-5.3-4.4-5.3z" fill="#bbb4eb"/>
<path d="M420 934.8l4.3 2.5 2.8-.4-4.2-2.7z" fill="#3e27ab"/>
<path d="M453.9 934.3l4.6 1.6 2.9-2.4-4.6-2z" fill="#897cce"/>
<path d="M395.5 925.2l4.3 4.1 2.6-3.9-4.4-5.1z" fill="#b3abe6"/>
<path d="M429.1 936.8l4.9.2 2.9-3-4.9-.4z" fill="#7a6ac6"/>
<path d="M463.3 935.2l4.7 1.5 2.9-2-4.7-1.8z" fill="#7969c6"/>
<path d="M326.9 935.1l4.8.6 2.8-3.2-4.8-.5z" fill="#8274cb"/>
<path d="M361.4 926l4.4 1.9 2.5-6.1-4.5-2.5z" fill="#b9b2e9"/>
<path d="M336.5 933.6l4.7.6 2.6-3.9-4.7-.6z" fill="#978cd6"/>
<path d="M370.8 924.4l4.5 2.8 2.4-6.2-4.5-3.5z" fill="#bbb5ea"/>
<path d="M404.8 929.2l4.3 3.6 2.8-2.3-4.4-4.4z" fill="#a096db"/>
<path d="M438.7 935.3l4.7 1 2.8-2.8-4.7-1.4z" fill="#8a7dce"/>
<path d="M472.6 936.1l4.8 1.4 3.1-1.9-4.8-1.5z" fill="#6654bc"/>
<path d="M312 936.9l4.4.8 2.6-2.1-4.4-.7z" fill="#5a46b7"/>
<path d="M346 931.6l4.6.9 2.6-4.7-4.6-1z" fill="#a79ede"/>
<path d="M380.3 924.3l4.4 3.4 2.4-5.6-4.4-4.4z" fill="#bbb4ea"/>
<path d="M414 933.3l4.5 2.8 3.2-1-4.7-3.3z" fill="#6f5ec3"/>
<path d="M448.2 935.1l4.6 1.4 2.8-2.5-4.6-1.8z" fill="#887bcd"/>
<path d="M321 936.5l4.9.6 3-2.7-4.9-.5z" fill="#6f5ec1"/>
<path d="M355.5 929.4l4.6 1.4 2.4-5.3-4.5-1.7z" fill="#b2aae4"/>
<path d="M389.7 925.8l4.4 3.7 2.5-4.4-4.4-4.8z" fill="#b6afe7"/>
<path d="M457.5 935.6l4.7 1.5 3-2.2-4.7-1.8z" fill="#7c6dc7"/>
<path d="M399.1 928.7l4.3 3.5 2.7-3.1-4.4-4.3z" fill="#aba2e0"/>
<path d="M330.6 935.5l4.8.7 2.8-3.3-4.8-.5z" fill="#8577cc"/>
<path d="M365 927.6l4.5 2 2.4-5.6-4.4-2.6z" fill="#b7b0e7"/>
<path d="M432.8 936.9l4.8.6 2.9-2.8-4.8-.8z" fill="#7b6cc6"/>
<path d="M466.9 936.4l4.7 1.4 3.1-2-4.8-1.5z" fill="#6b5abf"/>
<path d="M340.2 934.1l4.6.7 2.7-3.9-4.7-.7z" fill="#998ed6"/>
<path d="M476.7 937.1l4.4 1.2 2.7-1.6-4.4-1.4z" fill="#5a46b6"/>
<path d="M374.5 926.7l4.4 2.7 2.5-5.4-4.5-3.6z" fill="#b9b2e8"/>
<path d="M408.4 932.3l4.4 2.9 2.9-1.8-4.5-3.5z" fill="#8f82d2"/>
<path d="M442.4 936.1l4.6 1.1 2.9-2.5-4.7-1.5z" fill="#8375ca"/>
<path d="M315.6 937.4l4.5.8 2.6-2.2-4.4-.7z" fill="#5e4ab8"/>
<path d="M349.7 932.3l4.6 1.1 2.5-4.5-4.5-1.3z" fill="#a79ede"/>
<path d="M383.9 927.1l4.4 3.2 2.5-4.7-4.4-4.1z" fill="#b7afe7"/>
<path d="M417.9 935.6l4.3 2.3 2.8-1-4.3-2.5z" fill="#523eb4"/>
<path d="M451.8 936.2l4.7 1.3 2.9-2.2-4.7-1.7z" fill="#7d6ec8"/>
<path d="M324.7 937l4.9.6 2.9-2.7-4.8-.6z" fill="#7261c3"/>
<path d="M359.2 930.5l4.5 1.6 2.5-5-4.5-1.9z" fill="#b0a8e3"/>
<path d="M393.3 928.9l4.4 3.3 2.6-3.6-4.4-4.2z" fill="#afa7e3"/>
<path d="M427.4 938.5l4.5.3 2.5-2.5-4.4-.3z" fill="#624fb9"/>
<path d="M461.1 936.8l4.8 1.3 3-2-4.8-1.6z" fill="#6f5ec1"/>
<path d="M368.7 929.3l4.5 2.1 2.4-5.1-4.4-2.7z" fill="#b5ade5"/>
<path d="M402.7 931.7l4.4 3 2.7-2.5-4.4-3.7z" fill="#9e94da"/>
<path d="M436.5 937.3l4.8.8 2.9-2.5-4.8-1.1z" fill="#7869c5"/>
<path d="M470.9 937.4l4.4 1.3 2.7-1.8-4.4-1.4z" fill="#5f4cb9"/>
<path d="M334.3 936l4.7.7 2.8-3.3-4.7-.6z" fill="#887acd"/>
<path d="M343.9 934.7l4.6.8 2.6-3.8-4.6-.9z" fill="#9a8ed7"/>
<path d="M378.1 928.9l4.5 2.7 2.5-4.8-4.5-3.4z" fill="#b5ade6"/>
<path d="M411.9 934.7l4.6 2.5 3-1.5-4.6-2.9z" fill="#796ac7"/>
<path d="M446 936.9l4.7 1.2 2.9-2.3-4.7-1.4z" fill="#7a6ac6"/>
<path d="M319.3 937.9l4.5.8 2.6-2.2-4.5-.8z" fill="#614eba"/>
<path d="M387.6 929.8l4.4 2.9 2.5-4-4.4-3.7z" fill="#b1a9e3"/>
<path d="M353.4 933.2l4.6 1.1 2.5-4.3-4.6-1.4z" fill="#a79ddd"/>
<path d="M421.6 937.4l4.3 1.8 2.8-.9-4.3-1.9z" fill="#3e27aa"/>
<path d="M455.4 937.2l4.7 1.3 3.1-2.1-4.8-1.5z" fill="#7160c2"/>
<path d="M328.4 937.4l4.8.7 3-2.7-4.8-.7z" fill="#7565c4"/>
<path d="M362.9 931.8l4.5 1.6 2.5-4.6-4.5-2z" fill="#aea6e1"/>
<path d="M397 931.7l4.4 2.9 2.6-3-4.4-3.6z" fill="#a69cdd"/>
<path d="M431.1 938.5l4.4.6 2.6-2.3-4.4-.7z" fill="#6754bc"/>
<path d="M464.7 937.8l4.9 1.2 3.1-1.9-4.9-1.4z" fill="#6351bb"/>
<path d="M338 936.5l4.7.8 2.8-3.3-4.7-.7z" fill="#897bce"/>
<path d="M372.3 931l4.5 2.1 2.5-4.5-4.4-2.8z" fill="#b1a9e3"/>
<path d="M406.3 934.2l4.5 2.5 2.8-2-4.5-3.1z" fill="#8f82d1"/>
<path d="M440.1 937.9l4.8.9 3-2.3-4.8-1.2z" fill="#7362c2"/>
<path d="M347.5 935.3l4.7 1 2.6-3.7-4.6-1.1z" fill="#998ed6"/>
<path d="M415.4 936.7l4.8 2 3.2-1.3-4.8-2.3z" fill="#624fbb"/>
<path d="M449.6 937.8l4.8 1.2 3-2.1-4.8-1.4z" fill="#705fc1"/>
<path d="M381.8 931.1l4.4 2.5 2.6-4.1-4.5-3.2z" fill="#b0a7e2"/>
<path d="M323 938.4l4.4.8 2.7-2.3-4.5-.7z" fill="#6351bb"/>
<path d="M391.2 932.2l4.4 2.6 2.6-3.3-4.4-3.3z" fill="#a9a0df"/>
<path d="M357.1 934.1l4.5 1.3 2.6-4.1-4.6-1.6z" fill="#a59bdc"/>
<path d="M458.9 938.2l4.9 1.2 3.1-2-4.9-1.3z" fill="#6653bc"/>
<path d="M366.5 933.1l4.6 1.7 2.5-4.2-4.5-2.1z" fill="#aba2df"/>
<path d="M434.3 938.9l4.9.7 3.1-2.3-4.9-.8z" fill="#6654bc"/>
<path d="M332.1 937.9l4.8.7 2.9-2.7-4.8-.7z" fill="#7767c5"/>
<path d="M400.6 934.1l4.4 2.5 2.8-2.5-4.5-3.1z" fill="#9a8ed7"/>
<path d="M341.7 937.1l4.7.8 2.8-3.2-4.8-.8z" fill="#897cce"/>
<path d="M376 932.7l4.5 2.1 2.5-4-4.4-2.7z" fill="#aca4e0"/>
<path d="M409.8 936.3l4.6 2.1 3-1.7-4.6-2.5z" fill="#7b6cc8"/>
<path d="M443.8 938.6l4.8.9 3.1-2.1-4.9-1.2z" fill="#6c5abf"/>
<path d="M351.2 936.1l4.6 1 2.7-3.6-4.6-1.1z" fill="#988dd5"/>
<path d="M419.5 938.2l4.4 1.7 2.7-1.2-4.3-1.8z" fill="#4c37b1"/>
<path d="M385.4 933.2l4.5 2.3 2.6-3.5-4.5-3z" fill="#a9a0de"/>
<path d="M453.2 938.7l4.8 1.1 3.2-2-4.9-1.3z" fill="#6654bc"/>
<path d="M326.7 938.9l4.4.8 2.6-2.3-4.4-.8z" fill="#6653bc"/>
<path d="M360.7 935.1l4.6 1.3 2.6-3.8-4.6-1.6z" fill="#a297da"/>
<path d="M394.8 934.4l4.5 2.3 2.7-2.8-4.5-2.9z" fill="#9f94d9"/>
<path d="M463 939l4.5 1.2 2.7-1.8-4.5-1.3z" fill="#5b48b7"/>
<path d="M335.8 938.5l4.8.7 2.9-2.7-4.8-.8z" fill="#7868c5"/>
<path d="M370.2 934.5l4.5 1.6 2.6-3.8-4.5-2.1z" fill="#a79ddd"/>
<path d="M404.2 936.1l4.5 2.2 2.9-2.2-4.6-2.5z" fill="#8a7dcf"/>
<path d="M438.4 939.3l4.4.9 2.7-2-4.5-1.1z" fill="#6351bb"/>
<path d="M413.4 938l4.7 1.7 3.2-1.5-4.8-2z" fill="#6755be"/>
<path d="M447.4 939.3l4.9 1 3.1-2-4.9-1.2z" fill="#6451bb"/>
<path d="M345.3 937.7l4.7.9 2.8-3.1-4.7-1z" fill="#897bce"/>
<path d="M379.6 934.4l4.5 2 2.6-3.5-4.5-2.6z" fill="#a69cdd"/>
<path d="M354.9 936.9l4.6 1.1 2.7-3.4-4.6-1.3z" fill="#968ad4"/>
<path d="M389.1 935.1l4.4 2.1 2.7-3.1-4.5-2.6z" fill="#a095d9"/>
<path d="M457.3 939.4l4.4 1.2 2.7-1.8-4.4-1.3z" fill="#5d49b8"/>
<path d="M329.9 939.5l4.9.7 3.1-2.3-4.9-.8z" fill="#6755bd"/>
<path d="M364.4 936.2l4.5 1.3 2.7-3.5-4.6-1.7z" fill="#9e93d8"/>
<path d="M398.4 936.3l4.5 2.1 2.8-2.5-4.5-2.5z" fill="#9286d2"/>
<path d="M339.5 939l4.8.8 2.9-2.7-4.8-.8z" fill="#7868c5"/>
<path d="M373.8 935.8l4.6 1.7 2.6-3.4-4.5-2.1z" fill="#a196da"/>
<path d="M407.7 937.9l4.7 1.8 3-1.9-4.7-2.1z" fill="#7969c6"/>
<path d="M442.1 939.9l4.4 1 2.7-2-4.5-1.1z" fill="#5e4bb8"/>
<path d="M417.4 939.3l4.4 1.6 2.7-1.5-4.4-1.7z" fill="#5541b4"/>
<path d="M349 938.4l4.7.9 2.8-3-4.7-1z" fill="#887acd"/>
<path d="M383.3 936l4.5 1.9 2.7-3.1-4.6-2.4z" fill="#9e93d8"/>
<path d="M358.5 937.7l4.7 1.1 2.7-3.1-4.6-1.4z" fill="#9386d2"/>
<path d="M392.7 936.8l4.5 1.9 2.8-2.6-4.6-2.4z" fill="#9589d4"/>
<path d="M333.6 940l4.9.8 3-2.4-4.9-.7z" fill="#6856bd"/>
<path d="M368 937.3l4.6 1.3 2.7-3.2-4.6-1.7z" fill="#998dd6"/>
<path d="M402 938l4.6 1.8 2.9-2.1-4.6-2.2z" fill="#8375cb"/>
<path d="M343.1 939.6l4.8.8 3-2.6-4.8-.9z" fill="#7868c5"/>
<path d="M377.5 937.2l4.5 1.5 2.7-3-4.5-2z" fill="#9a8ed6"/>
<path d="M411.3 939.3l4.7 1.6 3.2-1.7-4.8-1.8z" fill="#6755bd"/>
<path d="M386.9 937.5l4.5 1.8 2.8-2.8-4.6-2.1z" fill="#9588d3"/>
<path d="M352.7 939.1l4.7.9 2.8-2.8-4.7-1.1z" fill="#8577cc"/>
<path d="M362.2 938.6l4.6 1.2 2.8-3-4.7-1.4z" fill="#8e81d0"/>
<path d="M396.3 938.4l4.6 1.7 2.8-2.4-4.6-2.1z" fill="#887bcd"/>
<path d="M337.2 940.6l4.9.8 3.1-2.4-4.9-.8z" fill="#6856bd"/>
<path d="M405.6 939.4l4.7 1.6 3-1.9-4.7-1.9z" fill="#7363c3"/>
<path d="M371.7 938.3l4.6 1.4 2.7-2.9-4.6-1.7z" fill="#9286d2"/>
<path d="M346.8 940.2l4.8.9 3-2.6-4.9-.9z" fill="#7666c4"/>
<path d="M381.1 938.4l4.6 1.5 2.8-2.7-4.6-1.9z" fill="#9184d2"/>
<path d="M415.3 940.5l4.4 1.4 2.7-1.6-4.4-1.5z" fill="#5844b6"/>
<path d="M390.5 938.9l4.6 1.6 2.8-2.5-4.6-1.9z" fill="#897cce"/>
<path d="M356.3 939.8l4.7 1 2.9-2.7-4.7-1.1z" fill="#8273ca"/>
<path d="M365.8 939.5l4.7 1.2 2.8-2.8-4.7-1.4z" fill="#897bcd"/>
<path d="M399.9 939.7l4.6 1.5 3-2-4.7-1.9z" fill="#7a6bc6"/>
<path d="M340.9 941.2l4.9.8 3.1-2.3-4.9-.9z" fill="#6755bd"/>
<path d="M375.3 939.4l4.6 1.3 2.8-2.7-4.6-1.6z" fill="#8b7dce"/>
<path d="M409.1 940.6l4.9 1.4 3.1-1.7-4.8-1.6z" fill="#6452bc"/>
<path d="M384.7 939.6l4.7 1.5 2.8-2.5-4.7-1.8z" fill="#8779cd"/>
<path d="M350.5 940.9l4.8.9 2.9-2.5-4.8-1z" fill="#7463c3"/>
<path d="M360 940.6l4.7 1 2.9-2.6-4.7-1.2z" fill="#7d6ec8"/>
<path d="M394.1 940.2l4.7 1.4 2.9-2.2-4.7-1.7z" fill="#7d6ec8"/>
<path d="M369.5 940.4l4.7 1.2 2.8-2.6-4.7-1.4z" fill="#8274ca"/>
<path d="M403.4 940.9l4.8 1.4 3.1-1.9-4.8-1.6z" fill="#6c5bbf"/>
<path d="M344.6 941.8l4.9.8 3.1-2.3-4.9-.8z" fill="#6654bc"/>
<path d="M378.9 940.5l4.7 1.2 2.9-2.4-4.7-1.6z" fill="#8274ca"/>
<path d="M413.2 941.6l4.4 1.3 2.7-1.6-4.4-1.4z" fill="#5743b5"/>
<path d="M388.3 940.8l4.7 1.3 2.9-2.3-4.7-1.6z" fill="#7c6dc7"/>
<path d="M354.1 941.5l4.8 1 3-2.4-4.8-1z" fill="#7160c1"/>
<path d="M363.6 941.4l4.8 1 2.9-2.5-4.7-1.1z" fill="#7868c5"/>
<path d="M397.7 941.3l4.7 1.3 3.1-2-4.8-1.6z" fill="#705fc1"/>
<path d="M373.1 941.3l4.7 1.1 3-2.4-4.8-1.3z" fill="#7b6cc7"/>
<path d="M407 942l4.9 1.2 2.7-1.7-4.4-1.5z" fill="#5f4cb9"/>
<path d="M348.2 942.4l5 .8 2.6-2.1-4.4-1z" fill="#6452bb"/>
<path d="M382.5 941.4l4.8 1.3 2.9-2.3-4.7-1.5z" fill="#7969c5"/>
<path d="M357.8 942.2l4.8.9 3.1-2.2-4.9-1.1z" fill="#6d5cc0"/>
<path d="M391.9 941.8l4.8 1.2 3-2-4.8-1.5z" fill="#7160c2"/>
<path d="M367.3 942.1l4.7 1 3.1-2.2-4.9-1.2z" fill="#7262c2"/>
<path d="M401.3 942.3l4.8 1.2 3.2-1.9-4.9-1.4z" fill="#6452bb"/>
<path d="M376.7 942.2l4.8 1.1 3-2.3-4.8-1.3z" fill="#7363c3"/>
<path d="M352.4 942.9l4.4 1 2.7-2.1-4.5-1z" fill="#624fba"/>
<path d="M386.1 942.4l4.8 1.1 3.1-2.1-4.9-1.3z" fill="#6f5ec1"/>
<path d="M361.4 942.9l4.9.9 3.1-2.1-4.9-1.1z" fill="#6857bd"/>
<path d="M395.5 942.8l4.8 1.1 3.2-1.9-4.9-1.4z" fill="#6654bc"/>
<path d="M370.9 942.9l4.8 1 3.1-2.2-4.9-1.1z" fill="#6c5abf"/>
<path d="M380.3 943l4.9 1.1 3-2.1-4.8-1.3z" fill="#6b59bf"/>
<path d="M356.1 943.5l4.4 1 2.7-2-4.5-1z" fill="#5f4cb9"/>
<path d="M389.7 943.3l4.9 1 3.1-1.9-4.9-1.3z" fill="#6653bc"/>
<path d="M365 943.6l4.9.9 3.2-2.1-4.9-1z" fill="#6451bb"/>
<path d="M399.6 943.5l4.4 1.2 2.7-1.8-4.4-1.3z" fill="#5c49b7"/>
<path d="M374.5 943.7l4.9.9 3.1-2-4.9-1.1z" fill="#6553bc"/>
<path d="M383.9 943.8l4.9 1 3.2-1.9-4.9-1.2z" fill="#6350bb"/>
<path d="M393.8 944l4.5 1.1 2.6-1.8-4.4-1.2z" fill="#5d49b8"/>
<path d="M369.2 944.2l4.4 1 2.7-1.9-4.5-1.1z" fill="#5f4bb8"/>
<path d="M378.6 944.3l4.5 1.1 2.6-1.9-4.4-1.2z" fill="#5f4bb8"/></g>
<g stroke-linecap="butt"><line x1="168.8" y1="927.5" x2="168.8" y2="678.8" stroke="#505050" stroke-width="1.40"/>
<line x1="168.8" y1="927.5" x2="462.9" y2="971.5" stroke="#262626" stroke-width="0.90"/>
<line x1="462.9" y1="971.5" x2="630.2" y2="894.5" stroke="#262626" stroke-width="0.90"/>
<line x1="168.8" y1="927.5" x2="160.6" y2="931.3" stroke="#262626" stroke-width="1.00"/>
<line x1="315.8" y1="949.5" x2="307.7" y2="953.3" stroke="#262626" stroke-width="1.00"/>
<line x1="462.9" y1="971.5" x2="454.7" y2="975.3" stroke="#262626" stroke-width="1.00"/>
<line x1="462.9" y1="971.5" x2="470.8" y2="972.7" stroke="#262626" stroke-width="1.00"/>
<line x1="546.5" y1="933.0" x2="554.5" y2="934.2" stroke="#262626" stroke-width="1.00"/>
<line x1="630.2" y1="894.5" x2="638.1" y2="895.7" stroke="#262626" stroke-width="1.00"/>
<line x1="168.8" y1="854.5" x2="160.8" y2="854.5" stroke="#404040" stroke-width="1.00"/>
<line x1="168.8" y1="781.5" x2="160.8" y2="781.5" stroke="#404040" stroke-width="1.00"/>
<line x1="168.8" y1="708.5" x2="160.8" y2="708.5" stroke="#404040" stroke-width="1.00"/></g>
<g><line x1="846.7" y1="833.4" x2="977.4" y2="750.2" stroke="#e0e0e0" stroke-width="1.10"/>
<line x1="977.4" y1="750.2" x2="1307.1" y2="784.0" stroke="#e0e0e0" stroke-width="1.10"/>
<line x1="846.7" y1="733.4" x2="977.4" y2="650.2" stroke="#e0e0e0" stroke-width="1.10"/>
<line x1="977.4" y1="650.2" x2="1307.1" y2="684.0" stroke="#e0e0e0" stroke-width="1.10"/>
<line x1="912.1" y1="891.8" x2="912.1" y2="643.2" stroke="#e0e0e0" stroke-width="1.10"/>
<line x1="977.4" y1="850.2" x2="977.4" y2="601.6" stroke="#e0e0e0" stroke-width="1.10"/>
<line x1="1142.2" y1="867.1" x2="1142.2" y2="618.5" stroke="#e0e0e0" stroke-width="1.10"/>
<line x1="1307.1" y1="884.0" x2="1307.1" y2="635.4" stroke="#e0e0e0" stroke-width="1.10"/></g>
<g><path d="M846.7 933.4 L1176.4 967.2 L1307.1 884.0 L977.4 850.2 Z" fill="#3d26a7"/>
<path d="M1187.9 884.9l4.9 1.1 2.2-1.1-4.8-1z" fill="#3e27ab"/>
<path d="M1192 885.6l4.9 1.1 2.2-1.3-4.8-.9z" fill="#3e27aa"/>
<path d="M961.6 886.4l4.9.1 2.1-1.6-4.9-.1z" fill="#3e27ab"/>
<path d="M1190.4 886l4.8 1.2 2.3-1.1-4.8-1z" fill="#3e27ab"/>
<path d="M1194.5 886.8l4.9 1.1 2.2-1.1-4.8-1.1z" fill="#3e27ab"/>
<path d="M959.9 887.4l4.9.1 2.2-1.6-4.9-.1z" fill="#3e27ab"/>
<path d="M1198.6 887.5l4.9 1.1 2.2-1.3-4.8-.9z" fill="#3e27aa"/>
<path d="M1188.8 886l4.7 1.5 2.4-.8-4.8-1.2z" fill="#3e28ad"/>
<path d="M954.2 888.4l4.9.2 2.1-1.6-4.9-.3z" fill="#3e27aa"/>
<path d="M1192.9 887l4.8 1.4 2.3-1-4.8-1.1z" fill="#3e27ac"/>
<path d="M958.3 888.4l4.9 0 2.1-1.6-4.9 0z" fill="#3e27ab"/>
<path d="M1197 887.9l4.8 1.3 2.3-1.1-4.8-1.1z" fill="#3e27ab"/>
<path d="M952.5 889.4l4.9.3 2.2-1.7-4.9-.3z" fill="#3e27aa"/>
<path d="M1201.1 888.8l4.9 1.1 2.2-1.2-4.8-1z" fill="#3e27aa"/>
<path d="M1191.3 886.9l4.7 1.7 2.4-.7-4.8-1.3z" fill="#3f28ad"/>
<path d="M956.7 889.4l4.9 0 2.1-1.6-4.9 0z" fill="#3e27ab"/>
<path d="M1195.4 888.1l4.8 1.5 2.3-.9-4.8-1.3z" fill="#3e28ac"/>
<path d="M960.8 889.2l4.9-.3 2.1-1.6-4.9.3z" fill="#3f28ad"/>
<path d="M950.9 890.4l4.9.3 2.2-1.7-4.9-.2z" fill="#3e27aa"/>
<path d="M1199.5 889.1l4.8 1.4 2.3-1.1-4.8-1.1z" fill="#3e27ab"/>
<path d="M955 890.4l4.9 0 2.2-1.6-4.9 0z" fill="#3e27ab"/>
<path d="M1203.6 890.1l4.9 1.2 2.2-1.2-4.8-1.1z" fill="#3e27ab"/>
<path d="M1193.8 887.9l4.7 1.8 2.3-.5-4.7-1.5z" fill="#3f28ae"/>
<path d="M959.2 890.2l4.9-.2 2.1-1.7-4.9.3z" fill="#3f28ad"/>
<path d="M1207.7 890.9l4.9 1.2 2.2-1.4-4.8-1z" fill="#3e27aa"/>
<path d="M949.3 891.4l4.9.3 2.1-1.7-4.9-.2z" fill="#3e27aa"/>
<path d="M1197.9 889.2l4.7 1.7 2.4-.9-4.8-1.3z" fill="#3e28ad"/>
<path d="M953.4 891.4l4.9.1 2.1-1.7-4.9 0z" fill="#3e27ab"/>
<path d="M1202 890.4l4.8 1.5 2.3-1.1-4.8-1.2z" fill="#3e27ac"/>
<path d="M1192.1 887.3l4.7 2.2 2.4-.1-4.7-1.8z" fill="#3f29b0"/>
<path d="M957.5 891.3l4.9-.3 2.2-1.7-5 .3z" fill="#3f28ad"/>
<path d="M1206.1 891.4l4.8 1.3 2.3-1.2-4.8-1.1z" fill="#3e27ab"/>
<path d="M947.6 892.5l4.9.2 2.2-1.6-4.9-.3z" fill="#3e27aa"/>
<path d="M1196.2 889l4.8 2 2.3-.5-4.7-1.7z" fill="#3f28ae"/>
<path d="M1033.3 731.7l4.3-21.7 2.7-1.3-4.4 21.9z" fill="#cebb59"/>
<path d="M1210.2 892.3l4.9 1.2 2.2-1.4-4.8-1z" fill="#3e27aa"/>
<path d="M951.8 892.5l4.9 0 2.1-1.7-4.9 0z" fill="#3e27ab"/>
<path d="M1200.4 890.4l4.7 1.8 2.4-.8-4.8-1.5z" fill="#3f28ad"/>
<path d="M1037.4 711.1l4.4-19.5 2.6-1-4.3 19.2z" fill="#f8bd40"/>
<path d="M955.9 892.3l4.9-.3 2.1-1.7-4.9.3z" fill="#3f28ad"/>
<path d="M1051.5 669.4l5 .3 1.8 9.6-5-1z" fill="#f9f045"/>
<path d="M1204.5 891.7l4.8 1.6 2.3-1.1-4.8-1.3z" fill="#3e27ac"/>
<path d="M946 893.5l4.9.3 2.2-1.7-4.9-.3z" fill="#3e27aa"/>
<path d="M1041.5 692.7l4.4-15.3 2.6-.5-4.3 14.7z" fill="#fbd32b"/>
<path d="M1194.6 888.3l4.7 2.5 2.4-.1-4.7-2z" fill="#3f29b1"/>
<path d="M1032.1 737.6l3.9-20.3 2.2-7.7-3.9 21.5z" fill="#c9bc5c"/>
<path d="M1055.9 669.5l4.8 9.4 1.4 9.3-4.8-9.3z" fill="#f8e326"/>
<path d="M1208.6 892.8l4.8 1.4 2.3-1.2-4.8-1.2z" fill="#3e27ab"/>
<path d="M950.1 893.5l4.9.1 2.2-1.7-4.9-.1z" fill="#3e27ab"/>
<path d="M1045.5 678.3l4.6-9.3 2.6.6-4.5 8.3z" fill="#f8ef1a"/>
<path d="M1198.7 890.2l4.7 2.2 2.4-.6-4.7-1.7z" fill="#3f29af"/>
<path d="M1036.2 718l4.8-18 1.3-8.7-4.7 18.9z" fill="#f6bb43"/>
<path d="M1060.1 678.4l4.7 18 1.4 8.4-4.7-17.1z" fill="#fec436"/>
<path d="M1212.7 893.8l4.9 1.2 2.2-1.4-4.8-1z" fill="#3e27aa"/>
<path d="M954.3 893.4l4.9-.3 2.1-1.7-4.9.2z" fill="#3f28ad"/>
<path d="M1049.7 669.5l4.9-1 2.2 1.8-4.8.1z" fill="#f9fa15"/>
<path d="M1202.8 891.8l4.8 1.9 2.3-.9-4.7-1.5z" fill="#3f28ad"/>
<path d="M944.4 894.6l4.9.2 2.1-1.7-4.9-.2z" fill="#3e27aa"/>
<path d="M1040.4 700.6l4.7-14.3 1.3-9.2-4.7 14.7z" fill="#fccb31"/>
<path d="M1194.2 887.9l3.4 2.4 2.4.3-4.5-2.4z" fill="#402ab4"/>
<path d="M1064.3 695.8l3.8 25.3 2.2 6.3-3.8-23.4z" fill="#e9bb4b"/>
<path d="M958.4 892.9l4.9-.6 2.1-1.8-4.9.7z" fill="#3f29af"/>
<path d="M1054.1 668.5l4.2 9.1 2.3 2-4.1-9.8z" fill="#f8f119"/>
<path d="M1207 893.2l4.8 1.6 2.3-1.1-4.8-1.4z" fill="#3e28ac"/>
<path d="M948.5 894.6l4.9 0 2.1-1.7-4.9 0z" fill="#3e27ab"/>
<path d="M1044.4 686.8l4.8-8.7 1.4-9.2-4.8 8.7z" fill="#f8e924"/>
<path d="M1197.1 889.6l4.7 2.7 2.4-.3-4.7-2.1z" fill="#3f29b1"/>
<path d="M1034.6 731l4.7-16.1 1.3-15.6-4.6 18z" fill="#e1bb50"/>
<path d="M1058.3 676.7l4 18.2 2.4 2.2-4-18.3z" fill="#fbd32c"/>
<path d="M1211.1 894.3l4.8 1.4 2.3-1.3-4.8-1.1z" fill="#3e27ab"/>
<path d="M952.6 894.4l4.9-.2 2.2-1.7-5 .2z" fill="#3f28ad"/>
<path d="M1048.2 678.5l5.1-1.5 1.8-8.5-5.1.6z" fill="#faf63f"/>
<path d="M1201.2 891.7l4.7 2.2 2.4-.6-4.7-1.8z" fill="#3f29af"/>
<path d="M942.7 895.6l4.9.3 2.2-1.7-4.9-.3z" fill="#3e27aa"/>
<path d="M1038.7 715.5l4.7-12.8 1.4-17.2-4.7 14.3z" fill="#fac44d"/>
<path d="M1062.5 694.1l4 26.2 2.6 1.6-4.3-25.6z" fill="#f5bb44"/>
<path d="M1215.2 895.3l4.9 1.2 2.2-1.4-4.9-1.1z" fill="#3e27aa"/>
<path d="M956.8 894l4.9-.5 2.1-1.8-5 .6z" fill="#3f29af"/>
<path d="M1052.4 676.8l4.7 7.8 2-7.3-4.7-9z" fill="#f9f145"/>
<path d="M1205.3 893.4l4.8 1.8 2.3-.9-4.7-1.6z" fill="#3f28ad"/>
<path d="M946.9 895.6l4.9.1 2.1-1.7-4.9-.1z" fill="#3e27ab"/>
<path d="M1042.8 703.3l4.8-8.1 1.3-17.9-4.7 8.8z" fill="#fdd452"/>
<path d="M1195.5 888.7l4.6 3.2 2.4.1-4.5-2.5z" fill="#402ab4"/>
<path d="M1033 748.4l4.7-13.1 1.3-21.1-4.7 16z" fill="#c7c575"/>
<path d="M1056.5 683.9l4.6 16.9 2.1-6.1-4.6-18.1z" fill="#fcd84d"/>
<path d="M1209.4 894.8l4.9 1.5 2.2-1.1-4.8-1.4z" fill="#3e27ac"/>
<path d="M951 895.5l4.9-.2 2.1-1.8-4.9.3z" fill="#3e28ad"/>
<path d="M1046.6 695.7l5.1-1.8 1.7-17.8-5.1 1.5z" fill="#fbe158"/>
<path d="M1199.6 891.2l4.7 2.7 2.4-.4-4.7-2.1z" fill="#3f29b1"/>
<path d="M941.1 896.6l4.9.3 2.2-1.7-4.9-.2z" fill="#3e27aa"/>
<path d="M1037.1 735.8l4.7-10.2 1.3-23.7-4.7 12.8z" fill="#e1c873"/>
<path d="M1189.9 883.6l4.9 3.8 1.9 2-5-3z" fill="#412dbd"/>
<path d="M1060.7 700.1l4.5 25.3 2.1-5.3-4.5-26z" fill="#f6c35c"/>
<path d="M1213.6 895.9l4.8 1.4 2.3-1.4-4.9-1.1z" fill="#3e27ab"/>
<path d="M955.1 895.1l4.9-.6 2.1-1.7-4.9.5z" fill="#3f29af"/>
<path d="M1050.8 693.7l4.7 6.5 2-16.4-4.8-7.8z" fill="#fcde5e"/>
<path d="M1203.7 893.3l4.7 2.2 2.4-.7-4.7-1.8z" fill="#3f28af"/>
<path d="M945.2 896.6l4.9.1 2.2-1.6-4.9-.1z" fill="#3e27ab"/>
<path d="M1041.1 726.1l4.8-6.3 1.4-25.4-4.7 8.1z" fill="#f6ca71"/>
<path d="M1195 888.2l3.4 3 2.4.6-4.4-3.2z" fill="#402cb8"/>
<path d="M1064.8 724.7l4.5 31.5 2.2-5.6-4.6-31.2z" fill="#c0c576"/>
<path d="M1054.9 699.6l4.6 14.8 2.1-14.3-4.6-16.9z" fill="#fcd068"/>
<path d="M1207.8 895l4.8 1.9 2.3-1.1-4.8-1.5z" fill="#3e28ad"/>
<path d="M949.4 896.4l4.9-.2 2.1-1.6-4.9.2z" fill="#3f28ad"/>
<path d="M1045 720.2l5-1.1 1.7-26.2-5 1.8z" fill="#f9cf75"/>
<path d="M1198 890.5l4.6 3.2 2.4-.1-4.6-2.6z" fill="#402ab4"/>
<path d="M939.5 897.6l4.9.3 2.1-1.7-4.9-.2z" fill="#3e27aa"/>
<path d="M1035.4 759.4l4.8-7 1.3-27.6-4.7 10.3z" fill="#c5cf91"/>
<path d="M1059 713.7l4.6 23.1 2.1-12-4.6-25.3z" fill="#e8ca77"/>
<path d="M1211.9 896.4l4.9 1.6 2.2-1.3-4.8-1.3z" fill="#3e27ab"/>
<path d="M953.5 896l4.9-.6 2.1-1.5-4.9.5z" fill="#3f29af"/>
<path d="M1049.2 718.9l4.7 5.5 1.9-25-4.7-6.5z" fill="#f9cf79"/>
<path d="M1202.1 893.1l4.7 2.6 2.4-.5-4.7-2.2z" fill="#3f29b0"/>
<path d="M943.6 897.6l4.9 0 2.1-1.6-4.9 0z" fill="#3e27ac"/>
<path d="M1039.2 753.2l5.1-3.9 1.4-30.3-4.8 6.3z" fill="#d0d192"/>
<path d="M1193.3 886.6l3.4 3.6 2.5 1-4.4-3.8z" fill="#412dbc"/>
<path d="M1063.2 736.1l4.5 29.7 2.1-10.3-4.6-31.4z" fill="#bfcc89"/>
<path d="M1216.1 897.5l4.8 1.3 2.3-1.3-4.9-1.2z" fill="#3e27aa"/>
<path d="M1053.3 723.9l4.6 12.3 2-22.5-4.6-14.8z" fill="#ecce81"/>
<path d="M1206.2 895.2l4.7 2.1 2.4-.9-4.8-1.8z" fill="#3f28ae"/>
<path d="M947.7 897.4l4.9-.3 2.2-1.5-4.9.2z" fill="#3f28ad"/>
<path d="M1043.4 749.4l5 .8 1.7-32-5 1.1z" fill="#d5d395"/>
<path d="M1196.4 889.5l4.5 3.8 2.5.2-4.6-3.1z" fill="#402bb7"/>
<path d="M937.8 898.6l4.9.2 2.2-1.6-4.9-.2z" fill="#3e27ab"/>
<path d="M1057.4 735.6l4.6 19.5 2.1-19-4.6-23.1z" fill="#d3d08e"/>
<path d="M1210.3 896.8l4.8 1.8 2.3-1.2-4.8-1.5z" fill="#3e28ac"/>
<path d="M951.8 896.9l5-.6 2.1-1.5-4.9.5z" fill="#3f29af"/>
<path d="M1047.5 749.8l4.8 5.5 1.9-31.7-4.8-5.5z" fill="#d3d397"/>
<path d="M1200.5 892.6l4.6 3.1 2.4-.3-4.6-2.6z" fill="#3f2ab3"/>
<path d="M942 898.6l4.9 0 2.1-1.6-4.9 0z" fill="#3e27ac"/>
<path d="M1037.6 780.2l5.1-.2 1.7-31.9-5.1 3.9z" fill="#a9d7b0"/>
<path d="M1191.7 884.6l3.3 4.4 2.5 1.3-4.3-4.5z" fill="#422fc1"/>
<path d="M1061.5 754.5l4.6 25.9 2.1-15.3-4.6-29.7z" fill="#afd29d"/>
<path d="M1214.4 898.1l4.9 1.5 2.2-1.3-4.8-1.3z" fill="#3e27ab"/>
<path d="M1051.6 754.7l4.7 10.4 2-29.6-4.7-12.4z" fill="#ccd49c"/>
<path d="M1204.6 895.1l4.7 2.5 2.3-.7-4.7-2.1z" fill="#3f29b0"/>
<path d="M946.1 898.4l4.9-.4 2.1-1.5-4.9.2z" fill="#3f28ad"/>
<path d="M1041.8 779.8l5 3.4 1.6-33.9-5-.8z" fill="#acd8b2"/>
<path d="M1194.8 888.2l4.4 4.5 2.5.5-4.5-3.7z" fill="#412cba"/>
<path d="M1218.5 899.2l4.9 1.2 2.2-1.4-4.8-1.1z" fill="#3e27aa"/>
<path d="M936.2 899.6l4.9.2 2.2-1.6-4.9-.2z" fill="#3e27ab"/>
<path d="M1055.8 764.5l4.6 15.6 2-25.7-4.6-19.5z" fill="#b9d6a5"/>
<path d="M1208.7 897.1l4.8 2 2.3-1-4.8-1.7z" fill="#3f28ad"/>
<path d="M950.2 897.8l4.9-.7 2.1-1.5-4.9.7z" fill="#3f29b0"/>
<path d="M1045.9 782.5l4.8 6.3 1.9-34.3-4.8-5.5z" fill="#a8d9b5"/>
<path d="M1198.9 892l4.5 3.6 2.5-.1-4.6-3z" fill="#402bb5"/>
<path d="M940.3 899.6l4.9-.1 2.2-1.6-4.9 0z" fill="#3e28ac"/>
<path d="M1190 882.4l3.4 5.1 2.4 1.6-4.2-5.3z" fill="#4331c7"/>
<path d="M1212.8 898.7l4.8 1.6 2.3-1.2-4.8-1.5z" fill="#3e28ac"/>
<path d="M954.3 897l5-1.3 2.1-1.4-5 1.1z" fill="#3f2ab3"/>
<path d="M1179.5 861.6l4.7 9.8 1.6 4.4-4.9-8.4z" fill="#4742e5"/>
<path d="M1050 788.2l4.7 9.5 2-33.4-4.7-10.4z" fill="#9cd8bc"/>
<path d="M1202.9 895l4.7 2.9 2.4-.6-4.7-2.5z" fill="#3f29b1"/>
<path d="M944.5 899.3l4.9-.3 2.1-1.6-4.9.3z" fill="#3f28ad"/>
<path d="M1040.1 807.7l4.8 5.5 1.9-31.1-5-3.3z" fill="#85d6d3"/>
<path d="M1193.2 886.8l4.4 5.1 2.4.7-4.4-4.3z" fill="#412ebe"/>
<path d="M1216.9 899.9l4.9 1.4 2.2-1.4-4.8-1.2z" fill="#3e27ab"/>
<path d="M934.6 900.7l4.9.1 2.1-1.6-4.9-.2z" fill="#3e27ab"/>
<path d="M1159.8 785.8l4.7 19.1 1.3 10.7-4.7-16.9z" fill="#14b0b6"/>
<path d="M1183.5 871l4.8 8.1.9 2.2-4.1-5.9z" fill="#453ada"/>
<path d="M1054.1 797.1l4.7 12.5 2-30.2-4.7-15.7z" fill="#8bd6c8"/>
<path d="M1207 897.3l4.8 2.3 2.3-.9-4.7-2z" fill="#3f28af"/>
<path d="M948.6 898.8l4.9-.8 2.1-1.5-4.9.7z" fill="#3f29b0"/>
<path d="M1173.8 844.1l4.7 13.1 1.4 5.7-4.7-11.4z" fill="#445bf6"/>
<path d="M1044.3 812.6l4.7 7.7 1.9-32.3-4.7-6.3z" fill="#81d5d7"/>
<path d="M1197.3 891.2l4.5 4.2 2.4 0-4.5-3.5z" fill="#402cb8"/>
<path d="M938.7 900.6l4.9-.1 2.1-1.6-4.9 0z" fill="#3e28ac"/>
<path d="M1163.9 804.3l4.7 18.2 1.4 8.7-4.7-16.2z" fill="#06a4ca"/>
<path d="M1187.6 878.8l4.1 7.2 2.5 1.7-4.2-6.1z" fill="#4434cd"/>
<path d="M1211.2 899.1l4.8 1.9 2.3-1.2-4.8-1.6z" fill="#3e28ad"/>
<path d="M952.7 897.8l4.9-1.3 2.1-1.4-4.9 1.2z" fill="#402ab3"/>
<path d="M1154.1 755.1l4.7 21.1 1.3 11-4.7-19.2z" fill="#67be85"/>
<path d="M1177.8 856.7l4.8 11.1 1 3.2-4.3-8.6z" fill="#4748eb"/>
<path d="M1048.4 819.8l4.7 9.4 1.9-32.3-4.7-9.4z" fill="#7ed3dd"/>
<path d="M1201.3 894.7l4.7 3.3 2.4-.5-4.7-2.8z" fill="#402ab4"/>
<path d="M942.8 900.3l4.9-.4 2.2-1.6-5 .4z" fill="#3f28ae"/>
<path d="M1120 701l4.3-17.8 2.4 2.8-4.4 17.8z" fill="#fbd539"/>
<path d="M1144.2 707.2l4.7 18.7 1.3 11.2-4.7-17.2z" fill="#dfbb50"/>
<path d="M1168 821.9l4.8 16.6 1.3 6.9-4.7-14.8z" fill="#1c8be1"/>
<path d="M1191.6 885.2l4.3 5.9 2.5.8-4.4-5z" fill="#422fc3"/>
<path d="M1215.3 900.6l4.8 1.5 2.3-1.4-4.9-1.3z" fill="#3e27ab"/>
<path d="M932.9 901.7l4.9.2 2.2-1.7-4.9-.2z" fill="#3e27ab"/>
<path d="M1110.4 760.7l3.9-30.7 2.2-5.2-3.9 30.5z" fill="#b7bd63"/>
<path d="M1158.2 775.6l4.7 20.9 1.3 9.2-4.7-19.1z" fill="#2cb7a5"/>
<path d="M1182.5 868.6l3.4 8.5 2.4 2.9-4.1-8.6z" fill="#463ee1"/>
<path d="M1205.4 897.4l4.7 2.7 2.4-.9-4.7-2.3z" fill="#3f29b0"/>
<path d="M947 899.7l4.9-.8 2.1-1.6-5 .8z" fill="#3f29b0"/>
<path d="M1124 684.3l4.6-8.4 2.3 1.9-4.6 9.1z" fill="#f9f22a"/>
<path d="M1148.3 725.3l4.7 21.5 1.3 9.6-4.7-19.9z" fill="#b9bd62"/>
<path d="M1172.1 838l4.8 14.5 1 4.2-4.4-11.8z" fill="#3a6cf7"/>
<path d="M1195.6 890.3l4.5 4.8 2.5.1-4.5-4z" fill="#412dbb"/>
<path d="M1219.4 901.7l4.9 1.2 2.2-1.4-4.9-1.2z" fill="#3e27aa"/>
<path d="M937.1 901.6l4.9 0 2.1-1.7-4.9.1z" fill="#3e28ac"/>
<path d="M1114.5 730.7l3.9-24.7 2.2-5.8-3.8 25.4z" fill="#f4ba45"/>
<path d="M1138.4 686.2l4.7 15.2 1.4 7.1-4.7-14.2z" fill="#fdc933"/>
<path d="M1162.3 796l4.7 19.8 1 6.1-4.4-16.8z" fill="#09abbf"/>
<path d="M1186 876.3l4.1 8.1 2.4 1.8-4.2-7.1z" fill="#4437d3"/>
<path d="M1209.5 899.5l4.8 2.1 2.3-1.1-4.8-1.8z" fill="#3f28ae"/>
<path d="M951.1 898.8l4.9-1.4 2.1-1.5-4.9 1.3z" fill="#402ab3"/>
<path d="M1128.1 676.3l4.9 1.2 2.1 1.1-5-.3z" fill="#f9fa15"/>
<path d="M1152.7 747.5l3.5 21.4 2.3 8-3.9-21.2z" fill="#8abf76"/>
<path d="M1176.2 852l3.9 12.8 2.4 3.8-4-11.5z" fill="#474ff1"/>
<path d="M1199.7 894.4l4.6 3.7 2.4-.4-4.6-3.2z" fill="#402bb6"/>
<path d="M941.2 901.4l4.9-.5 2.1-1.6-4.9.4z" fill="#3f28ae"/>
<path d="M1118.6 706.8l3.9-16.4 2.2-6.9-3.8 17.5z" fill="#fbd02d"/>
<path d="M1142.5 700.9l3.9 19.8 2.2 5.9-3.8-18.9z" fill="#f6bb44"/>
<path d="M1166.4 815.2l3.9 18.3 2.2 5.8-3.9-16.8z" fill="#0c99d5"/>
<path d="M1190 883.6l4.3 6.6 2.4.9-4.3-5.7z" fill="#4331c7"/>
<path d="M1213.6 901.2l4.9 1.6 2.2-1.3-4.8-1.5z" fill="#3e28ac"/>
<path d="M931.3 902.8l4.9.1 2.2-1.7-5-.1z" fill="#3e27ab"/>
<path d="M1132 677.1l4.7 10.3 2.6-.1-4.5-9.2z" fill="#f8ef1a"/>
<path d="M1156.6 768.2l3.8 22.5 2.2 6.6-3.8-21.2z" fill="#46bb96"/>
<path d="M1180.3 864.1l4 10.7 2.4 2.7-4.1-9.7z" fill="#4743e6"/>
<path d="M1203.8 897.5l4.7 3 2.4-.8-4.7-2.6z" fill="#3f29b2"/>
<path d="M945.3 900.8l4.9-.9 2.1-1.7-4.9.9z" fill="#3f29b0"/>
<path d="M1122.7 691.2l4.8-7 1.4-8.2-4.7 8z" fill="#f8ee1f"/>
<path d="M1146.7 720l3.8 22.5 2.3 5-3.9-21.6z" fill="#c8bc5c"/>
<path d="M1170.5 832.8l3.9 16.1 2.3 4.4-3.9-14.8z" fill="#2d7bef"/>
<path d="M1194 889.4l4.5 5.3 2.4.2-4.4-4.6z" fill="#412ebf"/>
<path d="M1217.8 902.4l4.8 1.4 2.3-1.4-4.9-1.3z" fill="#3e27ab"/>
<path d="M935.4 902.7l4.9-.1 2.2-1.7-4.9.1z" fill="#3e28ac"/>
<path d="M1113 741.8l4.6-22.3 1.3-14.1-4.6 24.6z" fill="#e2bb4f"/>
<path d="M1136.4 686.5l4.3 16.1 2.5-.8-4.3-15.4z" fill="#fbd32b"/>
<path d="M1160.7 789.9l3.8 21.3 2.2 5.3-3.8-20z" fill="#14b0b5"/>
<path d="M1184.3 874.1l4.1 8.9 2.5 1.6-4.2-7.9z" fill="#453ad9"/>
<path d="M1207.9 899.9l4.8 2.3 2.3-1.1-4.8-2z" fill="#3f28af"/>
<path d="M949.5 899.7l4.9-1.4 2-1.6-4.9 1.4z" fill="#402ab4"/>
<path d="M1126.5 684.3l5 2.4 1.8-9.1-4.9-1.6z" fill="#faf744"/>
<path d="M1150.8 741.7l3.8 23.5 2.3 4.3-3.9-22.8z" fill="#a2be6c"/>
<path d="M1174.6 848.1l3.9 14 2.3 3.2-3.9-12.8z" fill="#4459f5"/>
<path d="M1198.1 894l4.6 4.2 2.4-.3-4.6-3.7z" fill="#402cb8"/>
<path d="M939.6 902.4l4.9-.4 2.1-1.7-4.9.4z" fill="#3f28ae"/>
<path d="M1117 720.1l4.7-14.1 1.4-16.1-4.7 16.1z" fill="#fcc440"/>
<path d="M1140.5 701.7l4.4 20.2 2.4-1-4.3-20z" fill="#f8bd40"/>
<path d="M1164.8 810.4l3.8 19.4 2.3 4.3-3.9-18.3z" fill="#06a2cb"/>
<path d="M1188.4 882.2l4.2 7.2 2.5.9-4.3-6.5z" fill="#4334cc"/>
<path d="M1212 901.8l4.8 1.8 2.3-1.3-4.8-1.6z" fill="#3e28ad"/>
<path d="M929.7 903.8l4.9.2 2.1-1.7-4.9-.2z" fill="#3e27ab"/>
<path d="M1130.7 686.1l4.7 9.7 2-8.9-4.7-9.7z" fill="#f9ed48"/>
<path d="M1154.9 764.4l3.8 23.2 2.3 3.6-3.9-22.5z" fill="#5abd8b"/>
<path d="M1178.6 861.3l4.1 11.7 2.3 2.2-4-10.7z" fill="#4747ea"/>
<path d="M1202.2 897.6l4.6 3.2 2.4-.7-4.7-2.9z" fill="#402ab3"/>
<path d="M943.7 901.8l4.9-.9 2.1-1.7-4.9.9z" fill="#3f29b0"/>
<path d="M1121.1 706.5l4.8-5.6 1.4-17.5-4.8 7z" fill="#fbdc51"/>
<path d="M1144.7 721l4.3 22.6 2.4-1-4.2-22.6z" fill="#cebb5a"/>
<path d="M1168.8 829l4 17.1 2.3 3.3-4-16.1z" fill="#2285e6"/>
<path d="M1192.4 888.7l4.4 5.8 2.5.1-4.5-5.1z" fill="#422fc2"/>
<path d="M1216.1 903.2l4.9 1.5 2.2-1.5-4.8-1.3z" fill="#3e27ab"/>
<path d="M933.8 903.8l4.9-.1 2.1-1.8-4.9.1z" fill="#3e28ac"/>
<path d="M1111.3 760l4.7-18.9 1.3-22.3-4.7 22.3z" fill="#c4bf67"/>
<path d="M1134.8 695.2l4.6 15.3 2.1-8.5-4.6-15.8z" fill="#fdd557"/>
<path d="M1159 786.9l3.9 21.9 2.3 2.9-4-21.3z" fill="#1fb3ae"/>
<path d="M1182.7 872.2l4.1 9.6 2.4 1.4-4.1-8.8z" fill="#463ddf"/>
<path d="M1206.3 900.3l4.7 2.5 2.4-1-4.8-2.3z" fill="#3f29b0"/>
<path d="M947.8 900.8l5-1.5 2-1.7-4.9 1.4z" fill="#402ab4"/>
<path d="M1125 700.9l4.9 2.8 1.8-17.9-5-2.4z" fill="#fbe25a"/>
<path d="M1148.8 742.7l4.3 23.5 2.5-.8-4.3-23.7z" fill="#a7be6a"/>
<path d="M1172.9 845.3l4 14.8 2.3 2.4-4-13.9z" fill="#4163f8"/>
<path d="M1196.4 893.8l4.6 4.5 2.4-.3-4.5-4.1z" fill="#412cba"/>
<path d="M1220.3 904.3l4.8 1.2 2.2-1.5-4.8-1.1z" fill="#3e27aa"/>
<path d="M937.9 903.5l4.9-.5 2.1-1.7-4.9.4z" fill="#3f28ae"/>
<path d="M1115.4 741.7l4.7-11.7 1.3-24.7-4.7 14.1z" fill="#eac76d"/>
<path d="M1139 709.8l4.5 19.2 2.1-7.7-4.5-20z" fill="#f8c866"/>
<path d="M1163 808l4 19.9 2.4 2.4-4-19.4z" fill="#06a6c7"/>
<path d="M1186.7 881l4.3 7.8 2.5.7-4.4-7.1z" fill="#4436d0"/>
<path d="M1210.4 902.3l4.8 2 2.3-1.2-4.8-1.8z" fill="#3f28ad"/>
<path d="M928 904.9l4.9.2 2.2-1.8-4.9-.1z" fill="#3e27ab"/>
<path d="M952 899.2l4.9-2.3 2-1.6-4.9 2.2z" fill="#402cb8"/>
<path d="M1129.1 703l4.7 9 2-16.9-4.7-9.7z" fill="#fdd962"/>
<path d="M1152.9 765.3l4.3 23 2.5-.5-4.3-23.3z" fill="#62be87"/>
<path d="M1177 859.3l4 12.3 2.4 1.7-4.1-11.7z" fill="#474aed"/>
<path d="M1200.5 897.7l4.7 3.5 2.9-.6-5.2-3.3z" fill="#402bb5"/>
<path d="M942.1 902.9l4.9-.9 2.1-1.8-5 .9z" fill="#3f29b0"/>
<path d="M1119.4 730.6l4.8-4.8 1.5-25.7-4.8 5.6z" fill="#f9cd71"/>
<path d="M1143.1 728.3l4.5 21.3 2.2-6.6-4.6-22.4z" fill="#d3c87a"/>
<path d="M1167.1 827.1l4 17.6 2.4 1.8-4-17.1z" fill="#1a8ce0"/>
<path d="M1190.8 888.1l4.4 6.2 2.4.1-4.4-5.7z" fill="#4230c5"/>
<path d="M1214.5 903.9l4.8 1.6 2.3-1.4-4.8-1.5z" fill="#3e27ac"/>
<path d="M932.2 904.8l4.9 0 2.1-1.8-4.9.1z" fill="#3e28ac"/>
<path d="M1133.2 711.4l4.7 13.9 2-15.5-4.7-15.3z" fill="#fbcf6d"/>
<path d="M1157 787.5l4.3 21.7 2.5-.2-4.3-22z" fill="#24b5aa"/>
<path d="M1181 870.8l4.2 10.2 2.4 1-4.2-9.6z" fill="#473fe2"/>
<path d="M1204.6 900.7l4.8 2.7 2.8-1-5.2-2.5z" fill="#3f29b1"/>
<path d="M946.2 901.9l4.9-1.6 2.1-1.8-5 1.6z" fill="#402ab4"/>
<path d="M1123.3 725.9l5 2.1 1.7-25.3-5-2.7z" fill="#fad076"/>
<path d="M1147.2 748.9l4.5 22.2 2.2-5.5-4.6-23.3z" fill="#b4ca86"/>
<path d="M1171.2 843.9l4.1 15.2 2.4 1.3-4.1-14.7z" fill="#3b6bf7"/>
<path d="M1194.8 893.6l4.6 4.9 2.8-.3-5-4.6z" fill="#412dbc"/>
<path d="M1218.6 905.1l4.9 1.3 2.2-1.5-4.8-1.2z" fill="#3e27aa"/>
<path d="M936.3 904.6l4.9-.4 2.1-1.8-4.9.4z" fill="#3f28ae"/>
<path d="M1113.8 770.3l4.7-9.7 1.3-31.3-4.7 11.7z" fill="#c6cf8f"/>
<path d="M1137.3 724.6l4.7 17.2 2-13.5-4.6-19.1z" fill="#e9cc7c"/>
<path d="M1161.1 808.4l4.3 19.8 2.6-.1-4.3-20z" fill="#06a8c5"/>
<path d="M1185 880.3l4.4 8.2 2.8.6-4.7-7.9z" fill="#4537d4"/>
<path d="M1208.7 902.9l4.8 2.2 2.3-1.3-4.8-1.9z" fill="#3f28ae"/>
<path d="M926.4 906l4.9.2 2.1-1.8-4.9-.2z" fill="#3e27ab"/>
<path d="M950.3 900.3l5-2.3 2-1.8-5 2.3z" fill="#402cb9"/>
<path d="M1127.5 727.5l4.7 7.2 1.9-23.4-4.7-9z" fill="#f8ce7b"/>
<path d="M1151.3 770.4l4.5 21.8 2.2-4.3-4.5-23z" fill="#7ac99d"/>
<path d="M1175.2 858.3l4.2 12.8 2.8 1.1-4.5-12.6z" fill="#484df0"/>
<path d="M1198.9 897.9l4.7 3.8 2.7-.8-5-3.5z" fill="#402bb6"/>
<path d="M940.4 904l5-.9 2-1.8-4.9.9z" fill="#3f29b0"/>
<path d="M1117.8 761.1l4.8-4.6 1.5-31.5-4.9 4.7z" fill="#d2d192"/>
<path d="M1141.5 741.1l4.6 19.2 2-11.4-4.6-21.3z" fill="#cdce8b"/>
<path d="M1165.2 827.4l4.4 17.6 2.5-.1-4.3-17.7z" fill="#1690dd"/>
<path d="M1189.1 887.8l4.5 6.6 2.7-.1-4.7-6.2z" fill="#4331c8"/>
<path d="M1212.9 904.6l4.8 1.8 2.3-1.4-4.9-1.6z" fill="#3e28ac"/>
<path d="M930.5 905.9l4.9 0 2.2-1.8-4.9.1z" fill="#3e27ac"/>
<path d="M1131.6 734.1l4.7 11.4 1.9-21-4.6-13.8z" fill="#e6cf85"/>
<path d="M1155.4 791.5l4.5 20.8 2.2-3.5-4.5-21.7z" fill="#45c0b9"/>
<path d="M1179.3 870.3l4.3 10.5 2.7.5-4.5-10.3z" fill="#4741e4"/>
<path d="M1203 901.1l4.7 3 2.8-1.1-5.2-2.7z" fill="#3f2ab2"/>
<path d="M944.6 903l4.9-1.5 2-1.9-4.9 1.6z" fill="#402ab4"/>
<path d="M1121.7 756.7l5 .3 1.7-30-5-2z" fill="#d6d395"/>
<path d="M1145.6 759.7l4.6 20.1 2-9.4-4.5-22.1z" fill="#aed099"/>
<path d="M1169.3 844.1l4.4 15.3 2.6-.2-4.4-15.2z" fill="#3770f6"/>
<path d="M1192.8 893.5l4.9 5.3 2.8-.5-4.9-4.9z" fill="#412ebe"/>
<path d="M1217 906l4.8 1.3 2.3-1.5-4.9-1.3z" fill="#3e27ab"/>
<path d="M934.7 905.7l4.9-.4 2.1-1.8-4.9.4z" fill="#3f28ad"/>
<path d="M1135.7 744.9l4.6 14.3 2.1-18.1-4.7-17.2z" fill="#d3d190"/>
<path d="M1159.6 811.5l4.3 19.4 2.4-3-4.5-19.8z" fill="#28b3cd"/>
<path d="M1183.1 879.8l4.7 8.8 2.6 0-4.6-8.3z" fill="#4539d7"/>
<path d="M1207.1 903.6l4.8 2.3 2.8-1.3-5.3-2.1z" fill="#3f28af"/>
<path d="M924.8 907.1l4.9.2 2.1-1.8-4.9-.2z" fill="#3e27aa"/>
<path d="M948.7 901.5l5-2.3 1.9-2-4.9 2.4z" fill="#402cb8"/>
<path d="M1125.8 756.7l5 5 1.7-27.7-4.7-7.3z" fill="#d3d397"/>
<path d="M1149.7 779.1l4.6 20 2.1-7.5-4.6-21.9z" fill="#7dceaf"/>
<path d="M1173.4 858.5l4.4 12.9 2.6-.3-4.4-12.7z" fill="#4750f1"/>
<path d="M1196.9 898.1l5 4.1 2.7-.8-4.9-3.8z" fill="#402cb8"/>
<path d="M938.8 905.2l4.9-.9 2.1-1.9-4.9.9z" fill="#3f29b0"/>
<path d="M1116.2 794.5l4.8-5.5 1.4-33.3-4.8 4.6z" fill="#a4d6b0"/>
<path d="M1139.8 758.5l4.6 16.3 2.1-15.2-4.6-19.2z" fill="#c0d39a"/>
<path d="M1163.7 829.8l4.3 17.2 2.4-2.3-4.4-17.9z" fill="#309de1"/>
<path d="M1187.2 887.7l4.7 6.9 2.7-.4-4.7-6.5z" fill="#4332ca"/>
<path d="M1211.2 905.4l4.9 1.8 2.2-1.4-4.8-1.7z" fill="#3e28ad"/>
<path d="M928.9 907.1l4.9 0 2.1-1.9-4.9.1z" fill="#3e27ac"/>
<path d="M1129.9 760.8l4.8 8.1 1.9-24.2-4.7-11.3z" fill="#cbd49b"/>
<path d="M1153.8 798.4l4.6 19.1 2.1-5.9-4.6-20.7z" fill="#56c6c5"/>
<path d="M1177.5 870.5l4.5 10.7 2.5-.4-4.4-10.5z" fill="#4743e6"/>
<path d="M1200.9 901.6l5.2 3.1 2.7-1.1-5.1-2.9z" fill="#3f2ab3"/>
<path d="M942.9 904.2l5-1.4 2-2-5 1.5z" fill="#402ab3"/>
<path d="M1120 789.5l5.1-2.3 1.7-31.1-5.1-.3z" fill="#add8af"/>
<path d="M1143.9 774.1l4.7 17.3 2-12.3-4.6-20.1z" fill="#9cd3ab"/>
<path d="M1167.8 846l4.3 14.8 2.4-1.7-4.4-15.4z" fill="#497df7"/>
<path d="M1191.3 893.8l4.8 5.5 2.6-.7-4.8-5.2z" fill="#422ec0"/>
<path d="M1215.4 906.8l4.8 1.5 2.2-1.5-4.8-1.4z" fill="#3e27ab"/>
<path d="M933 906.9l5-.4 2-1.9-4.9.4z" fill="#3f28ad"/>
<path d="M1134.1 768.3l4.6 10.8 2-20.7-4.6-14.3z" fill="#bfd5a2"/>
<path d="M1157.9 816.8l4.6 17.7 2.1-4.6-4.5-19z" fill="#43bcd5"/>
<path d="M1181.6 880.3l4.6 8.7 2.5-.6-4.5-8.5z" fill="#453ad9"/>
<path d="M1205 904.2l5.3 2.4 2.7-1.3-5.2-2.2z" fill="#3f29af"/>
<path d="M923.1 908.2l4.9.2 2.2-1.7-4.9-.3z" fill="#3e27aa"/>
<path d="M947.1 902.8l4.9-2.3 2-2.1-5 2.3z" fill="#402cb8"/>
<path d="M1124.2 787.2l5 1.5 1.7-28.2-5-5z" fill="#add8b1"/>
<path d="M1148.1 790.8l4.6 17.4 2-9.8-4.6-20z" fill="#77d0bf"/>
<path d="M1171.9 859.9l4.4 12.6 2.4-1.4-4.4-12.9z" fill="#535df2"/>
<path d="M1195.3 898.6l5 4.2 2.6-.9-4.9-4z" fill="#402cb9"/>
<path d="M937.2 906.4l4.9-.8 2-2-4.9.9z" fill="#3f29af"/>
<path d="M1138.2 778.5l4.6 12.8 2.1-17.2-4.7-16.3z" fill="#a4d6ae"/>
<path d="M1162 833.8l4.6 15.9 2.2-3.5-4.6-17z" fill="#4da7e7"/>
<path d="M1185.7 888.2l4.6 7 2.6-.8-4.7-6.8z" fill="#4333cb"/>
<path d="M1209.6 906.2l4.8 1.9 2.8-1.5-5.3-1.7z" fill="#3f28ad"/>
<path d="M927.3 908.2l4.9.1 2.1-1.9-4.9 0z" fill="#3e27ab"/>
<path d="M951.2 900.5l5-3.2 1.9-2.2-5 3.3z" fill="#412ebe"/>
<path d="M1128.3 788.3l5 4.9 1.7-25.1-4.7-8z" fill="#a6d8b5"/>
<path d="M1152.2 807.6l4.6 17 2.1-7.8-4.6-19.1z" fill="#5dc8d0"/>
<path d="M1175.9 871.7l4.5 10.4 2.4-1.2-4.4-10.7z" fill="#504ce7"/>
<path d="M1199.4 902.2l5.1 3.3 2.6-1.2-5-3.1z" fill="#402ab4"/>
<path d="M941.3 905.5l4.9-1.3 2-2.2-4.9 1.5z" fill="#3f2ab3"/>
<path d="M1142.3 790.7l4.6 14.1 2.1-14.1-4.6-17.3z" fill="#88d4be"/>
<path d="M1166.2 849l4.4 14.3 2.3-3.1-4.6-14.8z" fill="#618cf8"/>
<path d="M1189.7 894.4l4.8 5.5 2.5-.9-4.7-5.4z" fill="#422fc1"/>
<path d="M1213.7 907.7l4.9 1.5 2.2-1.5-4.8-1.5z" fill="#3e27ab"/>
<path d="M931.4 908.1l4.9-.3 2.1-1.9-4.9.3z" fill="#3e28ad"/>
<path d="M1132.4 792.3l4.8 7.2 1.9-21.1-4.7-10.8z" fill="#99d8bc"/>
<path d="M1156.3 823.9l4.6 16 2.1-6.1-4.6-17.7z" fill="#54bfdc"/>
<path d="M1180 881.3l4.6 8.6 2.4-1.2-4.5-8.6z" fill="#4c41db"/>
<path d="M1203.4 905l5.2 2.5 2.7-1.4-5.2-2.3z" fill="#3f29b0"/>
<path d="M945.5 904.1l4.9-2.1 1.9-2.3-4.9 2.3z" fill="#402bb7"/>
<path d="M1122.5 815.4l5.1-2 1.6-25.7-5-1.4z" fill="#85d5cf"/>
<path d="M1146.4 804.2l4.7 14.6 2-11.2-4.6-17.5z" fill="#71cfcd"/>
<path d="M1170.3 862.2l4.4 12.2 2.3-2.5-4.5-12.8z" fill="#676ff4"/>
<path d="M1193.8 899.3l4.9 4.3 2.5-1.2-4.8-4.1z" fill="#412cba"/>
<path d="M1217.8 908.8l4.9 1.3 2.2-1.6-4.8-1.2z" fill="#3e27aa"/>
<path d="M935.5 907.6l5-.6 2-2.1-4.9.8z" fill="#3f29af"/>
<path d="M1136.6 798.9l4.6 9.4 2-17.7-4.6-12.8z" fill="#8ad6c5"/>
<path d="M1160.4 839.2l4.6 14.6 2.1-4.7-4.6-16z" fill="#63abec"/>
<path d="M1184.1 889.1l4.6 6.9 2.5-1.2-4.7-6.9z" fill="#4737cd"/>
<path d="M1207.5 907l5.3 2 2.7-1.5-5.3-1.8z" fill="#3f28ad"/>
<path d="M925.6 909.3l4.9.2 2.2-1.9-4.9-.1z" fill="#3e27ab"/>
<path d="M949.6 902l5-3.1 1.8-2.4-4.9 3.3z" fill="#412ebd"/>
<path d="M1126.7 813.5l5 1.2 1.7-22.7-5-4.9z" fill="#86d6d0"/>
<path d="M1150.5 818.2l4.7 14.6 2-8.9-4.6-17z" fill="#62c9d9"/>
<path d="M1174.3 873.4l4.5 10.2 2.4-2-4.5-10.6z" fill="#625fea"/>
<path d="M1197.8 903l5 3.3 2.6-1.3-5-3.2z" fill="#402ab4"/>
<path d="M939.7 906.9l4.9-1.3 2-2.2-4.9 1.4z" fill="#3f2ab2"/>
<path d="M1140.7 807.7l4.6 10.9 2-14.5-4.6-14.1z" fill="#7ad2cf"/>
<path d="M1164.5 853.1l4.5 13.4 2.2-4.2-4.5-13.9z" fill="#7292fa"/>
<path d="M1188.2 895.3l4.7 5.5 2.5-1.2-4.8-5.5z" fill="#422fc2"/>
<path d="M1212.1 908.6l4.8 1.5 2.3-1.5-4.9-1.5z" fill="#3e27ac"/>
<path d="M929.8 909.3l4.9-.2 2.1-2-4.9.3z" fill="#3e28ac"/>
<path d="M954.7 898.1l4-3.4 1.8-2.6-4.9 4.5z" fill="#4331c6"/>
<path d="M1130.8 814.3l5 4.3 1.7-19.9-4.8-7.2z" fill="#82d5d3"/>
<path d="M1154.7 832.2l4.6 14 2.1-7-4.7-16z" fill="#64bee4"/>
<path d="M1178.4 882.8l4.6 8.3 2.3-1.7-4.5-8.6z" fill="#5c52de"/>
<path d="M1201.9 905.8l5.1 2.5 2.6-1.3-5.1-2.5z" fill="#3f29b0"/>
<path d="M943.8 905.6l5-2 1.9-2.4-4.9 2.2z" fill="#402bb6"/>
<path d="M1144.8 818l4.6 11.8 2.1-11.7-4.7-14.6z" fill="#6eced9"/>
<path d="M1168.6 865.3l4.5 11.5 2.3-3.2-4.6-12.4z" fill="#7579f4"/>
<path d="M1192.2 900.1l4.9 4.3 2.4-1.3-4.8-4.2z" fill="#412cba"/>
<path d="M1216.2 909.7l4.9 1.3 2.2-1.5-4.9-1.3z" fill="#3e27aa"/>
<path d="M933.9 908.9l4.9-.6 2.1-2.1-4.9.7z" fill="#3f28ae"/>
<path d="M958 895l4.2-6.3 2.4-2.3-4.2 6.5z" fill="#4436d1"/>
<path d="M1134.9 817.8l4.8 6.3 1.9-16.6-4.7-9.3z" fill="#7bd3d7"/>
<path d="M1158.8 845.5l4.6 13.1 2.1-5.5-4.6-14.6z" fill="#73abf2"/>
<path d="M1182.5 890.3l4.6 6.8 2.4-1.5-4.6-6.9z" fill="#5547d1"/>
<path d="M1205.9 907.9l5.3 2 2.6-1.5-5.2-1.9z" fill="#3f28ae"/>
<path d="M924 910.5l4.9.2 2.1-1.9-4.9-.1z" fill="#3e27ab"/>
<path d="M948 903.7l4.9-3 1.9-2.6-5 3.2z" fill="#412dbc"/>
<path d="M1148.9 829.2l4.6 12.2 2.1-9.3-4.6-14.6z" fill="#6bc7e0"/>
<path d="M1172.7 875.8l4.6 9.7 2.2-2.5-4.5-10.4z" fill="#6f6ceb"/>
<path d="M1196.2 903.8l5 3.4 2.6-1.4-5-3.3z" fill="#402bb5"/>
<path d="M938 908.2l5-1.1 2-2.2-5 1.2z" fill="#3f29b1"/>
<path d="M1139 823.5l4.7 8.1 2-13.7-4.7-11z" fill="#75d0dc"/>
<path d="M1162.9 857.9l4.6 11.7 2.1-4.2-4.6-13z" fill="#7f93fa"/>
<path d="M1186.6 896.4l4.7 5.4 2.4-1.5-4.7-5.5z" fill="#4e3cc6"/>
<path d="M1210 909.5l5.3 1.6 2.7-1.6-5.3-1.5z" fill="#3e28ac"/>
<path d="M928.1 910.5l4.9-.1 2.1-2-4.9.2z" fill="#3e28ac"/>
<path d="M952.2 900.9l4.9-4.1 1.7-2.9-4.9 4.4z" fill="#4230c4"/>
<path d="M1129.1 832.8l5 1.4 1.7-16.7-4.9-4.3z" fill="#7cd0e1"/>
<path d="M1153 840.8l4.7 12.1 2-7.4-4.6-14z" fill="#74baec"/>
<path d="M1176.8 884.6l4.6 8 2.3-2.1-4.6-8.4z" fill="#685fe0"/>
<path d="M1200.3 906.7l5.1 2.6 2.6-1.5-5.1-2.5z" fill="#3f29b1"/>
<path d="M942.2 907.1l4.9-1.8 2-2.5-5 2z" fill="#402bb5"/>
<path d="M1143.2 831l4.6 9.4 2-11.3-4.6-11.9z" fill="#73cbe2"/>
<path d="M1167 869l4.6 10.6 2.1-3.7-4.5-11.7z" fill="#7e80f3"/>
<path d="M1190.6 901.1l4.8 4.3 2.5-1.4-4.8-4.3z" fill="#4532bc"/>
<path d="M1214.6 910.7l4.8 1.3 2.3-1.6-4.9-1.2z" fill="#3e27ab"/>
<path d="M932.3 910.2l4.9-.4 2-2.2-4.9.6z" fill="#3f28ae"/>
<path d="M956.3 897l4.9-5.4 1.7-3.2-4.9 5.8z" fill="#4435cf"/>
<path d="M1133.3 833.8l4.9 4.1 1.8-14.6-4.8-6.3z" fill="#7ccfe3"/>
<path d="M1157.1 852.2l4.7 11.5 2-5.8-4.6-13.1z" fill="#80a9f9"/>
<path d="M1180.9 891.9l4.6 6.5 2.4-1.8-4.7-6.8z" fill="#6052d4"/>
<path d="M1204.3 908.8l5.2 2.1 2.7-1.6-5.2-2z" fill="#3f28ae"/>
<path d="M922.4 911.6l4.9.3 2.1-1.9-4.9-.2z" fill="#3e27ab"/>
<path d="M946.4 905.4l4.9-2.7 1.8-2.8-4.9 3z" fill="#412dbb"/>
<path d="M1147.3 839.8l4.6 10 2.1-9.1-4.7-12.2z" fill="#77c2ea"/>
<path d="M1171.1 878.6l4.6 9.1 2.2-3-4.6-9.8z" fill="#7873eb"/>
<path d="M1194.6 904.8l5 3.3 2.5-1.4-5-3.4z" fill="#402bb5"/>
<path d="M936.4 909.6l4.9-.9 2-2.3-4.9 1.1z" fill="#3f29b0"/>
<path d="M960.5 891.9l4.1-7.5 2.4-3.1-4.1 7.9z" fill="#463bdc"/>
<path d="M1137.4 837.2l4.9 6.3 1.8-12.7-4.7-8z" fill="#7bcce5"/>
<path d="M1161.3 863l4.6 10.6 2.1-4.6-4.6-11.8z" fill="#8794f8"/>
<path d="M1185 897.7l4.7 5.2 2.3-1.6-4.7-5.4z" fill="#5746c9"/>
<path d="M1208.4 910.5l5.3 1.6 2.7-1.6-5.3-1.6z" fill="#3e28ac"/>
<path d="M926.5 911.7l4.9 0 2.1-2-4.9.1z" fill="#3e27ac"/>
<path d="M950.5 902.9l5-3.8 1.7-3.1-4.9 4.1z" fill="#422fc2"/>
<path d="M1151.4 849.2l4.6 10.3 2.1-7.3-4.7-12.1z" fill="#82b4f3"/>
<path d="M1175.2 886.8l4.6 7.6 2.2-2.4-4.6-8.1z" fill="#7067e1"/>
<path d="M1198.7 907.6l5 2.6 2.6-1.5-5.1-2.6z" fill="#3f29b1"/>
<path d="M940.6 908.7l4.9-1.6 1.9-2.5-4.9 1.8z" fill="#402ab4"/>
<path d="M964.7 885.2l4-9.2 2.3-3.7-4 9.8z" fill="#4744e7"/>
<path d="M1141.5 842.5l4.7 7.3 2-10.2-4.7-9.3z" fill="#7fc5eb"/>
<path d="M1165.4 872.9l4.6 9.8 2.1-4-4.6-10.4z" fill="#8484f2"/>
<path d="M1189 902.3l4.8 4.2 2.4-1.6-4.8-4.3z" fill="#4d3abf"/>
<path d="M1212.9 911.7l4.9 1.3 2.2-1.6-4.8-1.3z" fill="#3e27ab"/>
<path d="M930.6 911.5l5-.3 2-2.1-4.9.4z" fill="#3f28ad"/>
<path d="M954.7 899.4l4.9-5.1 1.7-3.5-4.9 5.4z" fill="#4333cc"/>
<path d="M1131.6 846.5l5 2.2 1.7-11.8-4.9-4.1z" fill="#85c7ed"/>
<path d="M1155.5 858.8l4.6 10.1 2.1-5.9-4.6-11.5z" fill="#8aa4fb"/>
<path d="M1179.3 893.6l4.6 6.3 2.3-2.1-4.7-6.6z" fill="#675ad5"/>
<path d="M1202.7 909.8l5.2 2 2.6-1.5-5.2-2z" fill="#3f28ae"/>
<path d="M920.7 912.8l4.9.3 2.2-1.9-4.9-.2z" fill="#3e27aa"/>
<path d="M944.7 907.2l5-2.4 1.8-2.9-4.9 2.7z" fill="#412cb9"/>
<path d="M968.8 876.8l4-11.2 2.3-4.2-3.9 11.7z" fill="#4652f2"/>
<path d="M1145.6 849.2l4.7 8.3 2-8.4-4.6-10.1z" fill="#85bbf2"/>
<path d="M1169.5 881.7l4.6 8.4 2.2-3.2-4.7-9.2z" fill="#7d78eb"/>
<path d="M1193 905.9l5 3.3 2.4-1.6-4.9-3.3z" fill="#422db6"/>
<path d="M934.8 911.1l4.9-.8 2-2.3-4.9.9z" fill="#3f29b0"/>
<path d="M958.9 894.6l4.8-6.5 1.6-4-4.8 7z" fill="#453ad9"/>
<path d="M1135.8 848.2l4.9 4.5 1.8-10.5-4.9-6.3z" fill="#87c3ef"/>
<path d="M1159.6 868.2l4.7 9.9 2-5.2-4.6-10.6z" fill="#8c92f7"/>
<path d="M1183.3 899.2l4.8 5 2.3-1.8-4.8-5.3z" fill="#5d4dca"/>
<path d="M1206.7 911.5l5.3 1.6 2.7-1.7-5.3-1.5z" fill="#3e28ac"/>
<path d="M924.9 912.9l4.9.1 2.1-2-4.9 0z" fill="#3e27ab"/>
<path d="M948.9 904.9l4.9-3.3 1.8-3.3-4.9 3.8z" fill="#422ec0"/>
<path d="M973 866.4l3.9-13.2 2.3-4.9-3.9 13.9z" fill="#3671f6"/>
<path d="M1149.8 856.9l4.6 8.7 2.1-6.8-4.7-10.3z" fill="#8caefa"/>
<path d="M1173.6 889.2l4.6 7.1 2.2-2.6-4.6-7.7z" fill="#756ce0"/>
<path d="M1044.8 781.7l4.6 27.3 1.3 14.9-4.7-23.3z" fill="#2bb6a6"/>
<path d="M1197.1 908.7l5 2.6 2.5-1.6-5-2.6z" fill="#3f29b1"/>
<path d="M938.9 910.3l5-1.3 1.9-2.6-4.9 1.5z" fill="#3f2ab3"/>
<path d="M963.1 888.5l4.8-8.2 1.5-4.7-4.8 8.8z" fill="#4742e5"/>
<path d="M987 817.1l3.9-19.6 2.3-4.5-3.9 20.1z" fill="#26b5a9"/>
<path d="M1139.9 851.9l4.8 6.3 1.9-9.2-4.7-7.3z" fill="#8bbcf3"/>
<path d="M1163.7 877l4.6 8.8 2.2-4.1-4.7-9.9z" fill="#8786f0"/>
<path d="M1187.4 903.6l4.8 4 2.4-1.7-4.9-4.1z" fill="#5240c1"/>
<path d="M1211.3 912.7l4.9 1.3 2.2-1.6-4.9-1.3z" fill="#3e27ab"/>
<path d="M929 912.8l4.9-.2 2.1-2.1-4.9.3z" fill="#3e28ad"/>
<path d="M953.1 901.8l4.9-4.5 1.6-3.8-4.8 5.1z" fill="#4332c9"/>
<path d="M977.1 854l3.9-15.3 2.3-5.6-3.9 16z" fill="#1690de"/>
<path d="M1153.9 865l4.6 8.8 2.1-5.6-4.7-10.1z" fill="#909efa"/>
<path d="M1177.6 895.6l4.7 5.9 2.3-2.2-4.7-6.3z" fill="#6c5fd5"/>
<path d="M1201.1 910.8l5.2 2.1 2.6-1.7-5.2-2z" fill="#3f28ae"/>
<path d="M943.1 909l4.9-2 1.9-3-4.9 2.4z" fill="#402bb7"/>
<path d="M967.2 880.7l4.8-10.1 1.5-5.4-4.8 10.8z" fill="#484cef"/>
<path d="M991.2 798.2l3.8-20.7 2.3-4.8-3.9 21.1z" fill="#61be88"/>
<path d="M1144 857.2l4.8 7.4 1.9-7.8-4.7-8.4z" fill="#8fb3f9"/>
<path d="M1014.8 701.1l4.6-9.7 2.1 8-4.7 9.7z" fill="#fae54e"/>
<path d="M1167.8 884.8l4.7 7.8 2.1-3.3-4.6-8.6z" fill="#807aea"/>
<path d="M1039 743.3l4.7 25.8 1.3 13.9-4.7-22.7z" fill="#a7be6a"/>
<path d="M1191.4 907.1l4.9 3.2 2.5-1.6-5-3.3z" fill="#4732b8"/>
<path d="M933.1 912.5l5-.6 2-2.3-4.9.7z" fill="#3f28af"/>
<path d="M957.2 897.6l4.9-5.9 1.6-4.4-4.8 6.5z" fill="#4537d4"/>
<path d="M981.3 839.5l3.9-17.2 2.2-6.5-3.9 18z" fill="#06a6c6"/>
<path d="M1004.8 733.2l4.3-18.6 2.6.4-4.4 18.6z" fill="#f6bc42"/>
<path d="M1158 873.1l4.6 8.8 2.1-5-4.6-9.4z" fill="#8e90f5"/>
<path d="M1029.1 700.1l4.7 13.4 1.3 12.5-4.7-11.4z" fill="#fdc642"/>
<path d="M1181.7 900.8l4.7 4.8 2.4-1.9-4.8-5.1z" fill="#6252cb"/>
<path d="M1205.1 912.5l5.3 1.6 2.7-1.7-5.3-1.5z" fill="#3e28ac"/>
<path d="M923.2 914.1l4.9.2 2.1-2-4.9-.1z" fill="#3e27ab"/>
<path d="M947.2 907.1l5-2.9 1.7-3.4-4.9 3.4z" fill="#412dbd"/>
<path d="M971.4 871.1l4.8-12 1.4-6.4-4.8 13z" fill="#3d67f8"/>
<path d="M995.3 778.3l3.9-21 2.2-5.3-3.9 21.5z" fill="#a3be6c"/>
<path d="M1148.1 863.5l4.8 8 1.9-6.6-4.6-8.8z" fill="#93a6fb"/>
<path d="M1018.8 691.8l5-2.8 1.8 7.5-4.9 3.6z" fill="#f9f147"/>
<path d="M1171.9 891.8l4.7 6.6 2.2-2.8-4.7-7.2z" fill="#786edf"/>
<path d="M1043.1 768.5l4.7 29.7 1.3 11.5-4.7-27.3z" fill="#57bd8d"/>
<path d="M1195.5 909.8l5 2.5 2.5-1.6-5.1-2.6z" fill="#3f29b1"/>
<path d="M937.3 911.8l4.9-1 2-2.6-5 1.3z" fill="#3f29b1"/>
<path d="M961.4 892.1l4.9-7.4 1.5-5.2-4.8 8.2z" fill="#463fe2"/>
<path d="M985.4 823.1l3.9-18.7 2.2-7.5-3.8 19.7z" fill="#1db3af"/>
<path d="M1138.2 858.6l4.9 5.2 1.9-6.8-4.9-6.2z" fill="#90b3fa"/>
<path d="M1008.9 715.5l4.4-14.7 2.5-.1-4.4 15.2z" fill="#fccc30"/>
<path d="M1162.1 880.9l4.6 8 2.2-4.1-4.7-8.9z" fill="#8885ef"/>
<path d="M1033.2 712.9l4.7 21.4 1.3 10.3-4.7-19.2z" fill="#f1ba47"/>
<path d="M1185.8 905l4.8 3.9 2.3-1.8-4.8-4.1z" fill="#5644c2"/>
<path d="M1209.7 913.7l4.8 1.4 2.3-1.7-4.9-1.3z" fill="#3e27ab"/>
<path d="M927.3 914.1l5-.1 2.1-2.1-5 .2z" fill="#3e28ac"/>
<path d="M951.4 904.4l4.9-3.9 1.7-4-4.9 4.5z" fill="#4230c5"/>
<path d="M975.5 859.6l4.8-13.9 1.4-7.5-4.8 15z" fill="#2187e5"/>
<path d="M999.4 758.1l3.9-20 2.2-6-3.8 20.7z" fill="#c8bc5c"/>
<path d="M1152.2 870.5l4.7 8.1 2.1-5.6-4.7-8.7z" fill="#9298f7"/>
<path d="M1023.2 689.1l4.8 6.1 1.6 6.2-4.9-4.9z" fill="#f8ed26"/>
<path d="M1176 897.6l4.7 5.6 2.2-2.4-4.7-5.9z" fill="#6f62d5"/>
<path d="M1047.2 797.6l3.8 29.8 2.2 10-3.8-28.4z" fill="#0faeb9"/>
<path d="M1199.5 911.9l5.1 2 2.6-1.6-5.2-2.1z" fill="#3f28ae"/>
<path d="M941.4 910.8l5-1.6 1.9-3-5 2z" fill="#402bb5"/>
<path d="M965.6 885.1l4.8-9.1 1.4-6.2-4.7 10.1z" fill="#4748ec"/>
<path d="M989.6 805.1l3.8-19.6 1.9-7.2-3.5 19.4z" fill="#51bd8f"/>
<path d="M1142.3 863l4.8 6.4 2-6-4.8-7.4z" fill="#92a8fb"/>
<path d="M1012.9 701.7l4.5-9.4 2.4-.7-4.3 10z" fill="#f8e91d"/>
<path d="M1166.2 888l4.6 7.1 2.2-3.3-4.7-7.9z" fill="#817ae8"/>
<path d="M1037.4 733.7l3.7 27.8 2.2 8.3-3.8-25.9z" fill="#bdbc61"/>
<path d="M1189.8 908.4l4.9 3.1 2.4-1.8-4.9-3.2z" fill="#4a36b9"/>
<path d="M931.5 913.9l4.9-.4 2.1-2.3-5 .6z" fill="#3f28ae"/>
<path d="M955.6 900.7l4.9-5.1 1.6-4.7-4.9 5.9z" fill="#4435cf"/>
<path d="M979.7 846.2l4.7-15.7 1.4-8.7-4.8 16.9z" fill="#06a2cc"/>
<path d="M1003.5 738.8l3.9-17.7 2.2-6.6-3.8 18.4z" fill="#f5bb44"/>
<path d="M1156.3 877.6l4.7 7.8 2.1-4.6-4.7-8.8z" fill="#8e8ef2"/>
<path d="M1027.4 694.7l3.9 15 2.3 4.5-3.9-13.5z" fill="#fad728"/>
<path d="M1180.1 902.5l4.7 4.6 2.3-2.1-4.8-4.8z" fill="#6454cb"/>
<path d="M1203.5 913.6l5.3 1.5 2.6-1.7-5.2-1.5z" fill="#3e28ac"/>
<path d="M921.6 915.3l4.9.3 2.1-2-4.9-.2z" fill="#3e27aa"/>
<path d="M945.6 909.2l4.9-2.4 1.8-3.4-4.9 2.9z" fill="#412cba"/>
<path d="M969.7 876.5l4.8-10.9 1.4-7.3-4.7 12z" fill="#435bf6"/>
<path d="M993.7 786.2l4.7-19.6 1.3-9.8-4.7 20.7z" fill="#96bf71"/>
<path d="M1146.5 868.5l4.7 7.1 2-5.2-4.7-8z" fill="#919df9"/>
<path d="M1017.1 692.9l5-1.3 1.9-2.3-4.8 2.4z" fill="#f9f716"/>
<path d="M1170.3 894.3l4.6 6.1 2.3-2.8-4.7-6.7z" fill="#796fde"/>
<path d="M1041.5 760.8l3.8 30.9 2.2 7.3-3.8-29.9z" fill="#79bf7d"/>
<path d="M1193.8 911l5.1 2.4 2.5-1.6-5.1-2.6z" fill="#3f29b1"/>
<path d="M935.6 913.4l5-.7 1.9-2.6-4.9 1z" fill="#3f29b0"/>
<path d="M959.8 895.9l4.8-6.5 1.5-5.5-4.8 7.4z" fill="#463bdd"/>
<path d="M983.8 831l4.7-17.1 1.4-10.1-4.7 18.5z" fill="#10afb8"/>
<path d="M1007.7 721.9l4.7-13.6 1.4-7.8-4.8 14.5z" fill="#fdc734"/>
<path d="M1160.4 884.5l4.7 7.3 2.1-3.9-4.7-8.1z" fill="#8883ed"/>
<path d="M1031.5 708.9l3.9 22.9 2.3 3.2-3.9-21.6z" fill="#f8be3f"/>
<path d="M1184.1 906.5l4.9 3.7 2.3-1.9-4.8-3.9z" fill="#5846c2"/>
<path d="M1207.6 914.8l5.3 1.3 2.7-1.7-5.3-1.3z" fill="#3e27ab"/>
<path d="M925.7 915.3l4.9.1 2.1-2.1-4.9.1z" fill="#3e27ab"/>
<path d="M949.8 907l4.9-3.4 1.7-4-4.9 4z" fill="#422fc1"/>
<path d="M973.9 866.1l4.7-12.6 1.4-8.6-4.7 13.9z" fill="#2d7bef"/>
<path d="M997.8 767.2l4.7-18.6 1.3-11.1-4.6 19.8z" fill="#bdbc61"/>
<path d="M1150.6 874.7l4.7 7.3 2-4.5-4.7-8.1z" fill="#8e91f5"/>
<path d="M1021.3 691.1l4.6 7.4 2.2-3.2-4.6-6.3z" fill="#f9f52c"/>
<path d="M1174.4 899.7l4.7 5.2 2.2-2.4-4.7-5.6z" fill="#7062d4"/>
<path d="M1045.6 790.9l3.8 29.8 2.2 7.3-3.8-29.8z" fill="#21b4ac"/>
<path d="M1197.9 913l5.1 2 2.6-1.7-5.2-2z" fill="#3f28ae"/>
<path d="M939.8 912.6l4.9-1.3 1.9-2.9-4.9 1.6z" fill="#402ab3"/>
<path d="M963.9 889.8l4.9-8 1.4-6.6-4.8 9.1z" fill="#4744e7"/>
<path d="M988 814.5l4.7-18 1.3-11.6-4.7 19.5z" fill="#3ab99d"/>
<path d="M1011.7 708.8l4.8-8.1 1.4-8.6-4.7 8.9z" fill="#f8e323"/>
<path d="M1164.5 890.9l4.7 6.6 2.2-3.2-4.7-7.2z" fill="#8179e5"/>
<path d="M1035.6 731l3.9 28.6 2.4 2.5-4-27.9z" fill="#c8bc5c"/>
<path d="M1188.2 909.7l4.9 2.9 2.4-1.7-4.9-3.1z" fill="#4c38b9"/>
<path d="M929.8 915.2l5-.1 2-2.3-4.9.4z" fill="#3e28ad"/>
<path d="M953.9 903.9l4.9-4.4 1.6-4.7-4.8 5.1z" fill="#4333ca"/>
<path d="M978 854l4.8-14.1 1.3-10.2-4.7 15.7z" fill="#0e97d7"/>
<path d="M1001.9 749.2l4.7-16.3 1.4-12.3-4.7 17.5z" fill="#e4bb4e"/>
<path d="M1154.7 881.1l4.7 7.2 2.1-3.8-4.7-7.9z" fill="#8987f0"/>
<path d="M1025.5 697.6l4.5 15.7 2.2-3.7-4.4-15.3z" fill="#fadf39"/>
<path d="M1178.4 904.3l4.8 4.3 2.3-2.1-4.8-4.6z" fill="#6555cb"/>
<path d="M1201.9 914.6l5.2 1.6 2.7-1.7-5.3-1.6z" fill="#3e28ac"/>
<path d="M943.9 911.4l5-2 1.8-3.4-4.9 2.4z" fill="#402cb8"/>
<path d="M968.1 882.2l4.8-9.5 1.4-7.9-4.8 10.9z" fill="#4750f1"/>
<path d="M992.1 797.1l4.7-17.9 1.3-13.3-4.7 19.6z" fill="#75bf7e"/>
<path d="M1144.9 866.4l4.2 7.6 2.5 1.1-4.3-7z" fill="#4556f4"/>
<path d="M1015.5 701.1l5.1-.9 1.8-9.7-5.1 1.9z" fill="#f9f142"/>
<path d="M1168.6 896.7l4.7 5.7 2.2-2.7-4.7-6.2z" fill="#796edc"/>
<path d="M1039.7 758.8l3.9 30.8 2.4 2.6-4-30.9z" fill="#8cbf75"/>
<path d="M1192.2 912.2l5 2.4 2.5-1.7-5-2.5z" fill="#3f2ab1"/>
<path d="M934 914.9l4.9-.5 2-2.5-4.9.8z" fill="#3f29af"/>
<path d="M958.1 899.8l4.9-5.6 1.5-5.6-4.8 6.5z" fill="#4538d6"/>
<path d="M982.2 840.4l4.7-15.3 1.3-11.9-4.7 17.1z" fill="#07a9c3"/>
<path d="M1006 733.5l4.8-12.4 1.3-13.6-4.7 13.6z" fill="#fac243"/>
<path d="M1158.8 887.5l4.7 6.7 2.1-3.3-4.7-7.3z" fill="#837deb"/>
<path d="M1029.6 712.5l4.5 23.2 2.2-4-4.5-22.8z" fill="#fac550"/>
<path d="M1182.5 908l4.8 3.5 2.4-1.9-4.9-3.7z" fill="#5947c2"/>
<path d="M1205.9 915.9l5.4 1.2 2.7-1.7-5.4-1.2z" fill="#3e27ab"/>
<path d="M924.1 916.6l4.9.2 2.1-2.1-4.9 0z" fill="#3e27ab"/>
<path d="M948.1 909.5l4.9-2.7 1.8-4-4.9 3.4z" fill="#412ebe"/>
<path d="M972.3 873.2l4.7-11.1 1.4-9.4-4.7 12.6z" fill="#3b6bf7"/>
<path d="M996.2 779.8l4.7-16.9 1.3-15.1-4.7 18.6z" fill="#aabe69"/>
<path d="M1149 873.2l4.3 7.8 2.4.5-4.3-7.2z" fill="#474aed"/>
<path d="M1019.7 699.9l4.7 7.5 2-9.8-4.7-7.1z" fill="#f9ee4b"/>
<path d="M1172.7 901.7l4.7 4.9 2.3-2.4-4.8-5.2z" fill="#7062d3"/>
<path d="M1043.8 788.8l4 29 2.2 3.5-3.9-29.9z" fill="#2fb7a3"/>
<path d="M1196.2 914.2l5.2 1.9 2.5-1.7-5.1-2z" fill="#3f28ae"/>
<path d="M938.1 914.4l5-1 1.9-2.9-4.9 1.3z" fill="#3f29b2"/>
<path d="M962.3 894.6l4.8-6.9 1.5-6.7-4.8 8z" fill="#473fe2"/>
<path d="M986.3 825.6l4.7-16 1.3-13.8-4.7 17.9z" fill="#20b4ad"/>
<path d="M1010.1 721.6l4.8-7.1 1.4-14.6-4.8 8.1z" fill="#fdd34e"/>
<path d="M1162.9 893.4l4.7 6.1 2.2-2.8-4.7-6.6z" fill="#7c73e2"/>
<path d="M1033.7 734.9l4.5 28.4 2.2-3.8-4.5-28.6z" fill="#cec26b"/>
<path d="M1186.5 911l5 2.9 2.4-1.8-5-3z" fill="#4d39b9"/>
<path d="M928.2 916.6l4.9 0 2.1-2.2-4.9.1z" fill="#3e28ac"/>
<path d="M952.3 907l4.9-3.7 1.6-4.6-4.8 4.4z" fill="#4230c5"/>
<path d="M976.4 862.6l4.7-12.4 1.4-11.1-4.7 14.2z" fill="#2087e4"/>
<path d="M1000.3 763.4l4.7-14.6 1.3-16.6-4.7 16.2z" fill="#cabf65"/>
<path d="M1153 880.2l4.4 7.6 2.8.1-4.7-7.2z" fill="#4743e7"/>
<path d="M1023.9 706.8l4.6 15.4 2-9.6-4.6-15.6z" fill="#fcd956"/>
<path d="M1176.8 906l4.8 4.1 2.3-2.1-4.8-4.4z" fill="#6555ca"/>
<path d="M1200.3 915.7l5.2 1.5 2.6-1.7-5.2-1.5z" fill="#3e28ac"/>
<path d="M942.3 913.4l4.9-1.5 1.9-3.3-4.9 2z" fill="#402bb5"/>
<path d="M966.5 888.1l4.7-8.2 1.5-8-4.8 9.5z" fill="#4748eb"/>
<path d="M990.4 810.2l4.7-16 1.3-15.8-4.6 18z" fill="#4fbd92"/>
<path d="M1013.9 714.8l5.1-.2 1.7-15.4-5 1z" fill="#fbdf5a"/>
<path d="M1167 898.8l4.7 5.4 2.2-2.5-4.7-5.7z" fill="#7468d9"/>
<path d="M1037.9 762.6l4.4 30.1 2.2-3.2-4.4-30.8z" fill="#98c480"/>
<path d="M1190.6 913.4l5 2.3 2.5-1.7-5.1-2.4z" fill="#402ab1"/>
<path d="M932.3 916.4l5-.3 2-2.4-4.9.5z" fill="#3f28ae"/>
<path d="M956.5 903.6l4.8-4.7 1.6-5.5-4.8 5.6z" fill="#4435cf"/>
<path d="M980.5 850.7l4.8-13.4 1.3-13-4.7 15.4z" fill="#06a1cd"/>
<path d="M1004.4 749.4l4.7-11 1.4-18.1-4.7 12.5z" fill="#ebc464"/>
<path d="M1156.8 886.9l4.8 7.2 2.6-.4-4.6-6.7z" fill="#463de0"/>
<path d="M1028 721.6l4.6 22.4 2.1-9-4.6-23.1z" fill="#f8c866"/>
<path d="M1180.8 909.5l4.9 3.4 2.4-2-4.9-3.5z" fill="#5947c1"/>
<path d="M1204.3 917l5.3 1.2 2.7-1.7-5.3-1.3z" fill="#3e27ab"/>
<path d="M922.4 917.8l5 .3 2.1-2-4.9-.2z" fill="#3e27aa"/>
<path d="M946.4 912l5-2.2 1.8-3.8-4.9 2.7z" fill="#412cba"/>
<path d="M970.6 880.4l4.8-9.5 1.4-9.6-4.8 11.1z" fill="#4459f5"/>
<path d="M994.6 794.8l4.7-15 1.3-17.7-4.7 16.9z" fill="#8cc482"/>
<path d="M1147.5 870.1l4.1 8.7 2.3 2.4-4.1-7.7z" fill="#474ff1"/>
<path d="M1018.1 714.2l4.7 7.5 2-15.1-4.7-7.5z" fill="#fcda60"/>
<path d="M1171.1 903.5l4.7 4.7 2.3-2.2-4.8-4.9z" fill="#6b5cd0"/>
<path d="M1042 791.9l4.2 28.2 2.5-2.3-4.5-29z" fill="#40bda7"/>
<path d="M1194.6 915.3l5.1 1.9 2.6-1.8-5.2-1.9z" fill="#3f28ae"/>
<path d="M936.5 916l4.9-.6 2-2.8-4.9 1z" fill="#3f29b0"/>
<path d="M960.6 899.3l4.9-5.8 1.5-6.6-4.8 6.9z" fill="#463bdb"/>
<path d="M984.7 837.8l4.7-13.9 1.3-15.1-4.7 16.1z" fill="#12afbf"/>
<path d="M1008.5 738.9l4.8-6.1 1.4-19.1-4.8 7.2z" fill="#f9cb69"/>
<path d="M1161 893.3l4.8 6.5 2.5-.8-4.7-6.1z" fill="#4538d5"/>
<path d="M1032.1 743.4l4.6 27.4 2.1-8.2-4.6-28.3z" fill="#cdc97d"/>
<path d="M1184.9 912.4l4.9 2.7 2.5-1.8-5-2.9z" fill="#4d39b8"/>
<path d="M926.6 917.9l4.9.1 2.1-2.1-4.9 0z" fill="#3e27ab"/>
<path d="M950.6 910l4.9-3 1.7-4.5-4.8 3.7z" fill="#422ec0"/>
<path d="M974.8 871.4l4.7-10.6 1.4-11.4-4.8 12.4z" fill="#3677f4"/>
<path d="M998.7 780.4l4.7-12.8 1.3-19.5-4.7 14.6z" fill="#b8c77d"/>
<path d="M1151.6 878l4.1 8.3 2.4 1.6-4.2-7.5z" fill="#4746e9"/>
<path d="M1022.2 721l4.7 14.6 2-14.1-4.6-15.4z" fill="#fbcf69"/>
<path d="M1175.1 907.6l4.8 3.9 2.4-2-4.9-4.1z" fill="#6050c7"/>
<path d="M1046.1 819l4.2 19.6 2.3 2-4.1-23.8z" fill="#06a8c4"/>
<path d="M1198.6 916.9l5.3 1.4 2.6-1.7-5.3-1.5z" fill="#3e28ac"/>
<path d="M940.6 915.3l5-1.1 1.9-3.1-4.9 1.5z" fill="#3f2ab3"/>
<path d="M964.8 893.9l4.8-6.8 1.5-8-4.8 8.2z" fill="#4944e6"/>
<path d="M988.8 824.4l4.7-13.8 1.3-17.2-4.7 16z" fill="#3bbcb0"/>
<path d="M1141.8 857l4.8 9.7 1.5 4.6-4.8-8.3z" fill="#396df7"/>
<path d="M1012.3 733l5 .1 1.8-19.4-5.1.2z" fill="#fbd071"/>
<path d="M1165.1 899l4.8 5.7 2.5-1-4.7-5.4z" fill="#4333cb"/>
<path d="M1036.2 770.1l4.6 29.2 2.1-7.2-4.6-30.1z" fill="#98cc94"/>
<path d="M1188.9 914.7l5.1 2.2 2.5-1.8-5.1-2.3z" fill="#402ab1"/>
<path d="M930.7 917.8l4.9 0 2.1-2.4-4.9.3z" fill="#3e28ad"/>
<path d="M954.8 907.3l4.9-3.8 1.6-5.4-4.9 4.7z" fill="#4534c9"/>
<path d="M978.9 861.3l4.7-11.4 1.4-13.4-4.7 13.5z" fill="#2595e1"/>
<path d="M1002.8 768.2l4.7-9.6 1.3-21-4.7 11z" fill="#ceca80"/>
<path d="M1155.6 885.5l4.3 7.8 2.4.8-4.3-7z" fill="#473fe2"/>
<path d="M1026.4 735l4.6 20.9 2-12.5-4.6-22.5z" fill="#e8cb79"/>
<path d="M1179.2 910.9l4.9 3.3 2.3-1.9-4.9-3.4z" fill="#5543bf"/>
<path d="M1202.7 918l5.3 1.3 2.7-1.8-5.3-1.2z" fill="#3e27ab"/>
<path d="M944.8 914.3l4.9-1.7 1.9-3.6-5 2.2z" fill="#402bb7"/>
<path d="M968.9 887.5l4.8-7.9 1.4-9.5-4.7 9.5z" fill="#4f53ef"/>
<path d="M992.9 811.2l4.7-12.9 1.3-19.2-4.6 14.9z" fill="#6bc7a1"/>
<path d="M1146.5 867.5l3.4 8.7 2.4 2.9-4.1-8.6z" fill="#4558f4"/>
<path d="M1016.5 732.8l4.7 6.8 2-18.7-4.8-7.4z" fill="#facf75"/>
<path d="M1169.3 904l4.8 4.9 2.5-1.2-4.8-4.7z" fill="#422fc3"/>
<path d="M1040.4 798.7l4.5 27.1 2.1-6.6-4.5-27.8z" fill="#59c6ba"/>
<path d="M1193 916.5l5.1 1.8 2.6-1.7-5.2-1.9z" fill="#3f28ae"/>
<path d="M934.8 917.6l5-.3 2-2.7-4.9.7z" fill="#3f28ae"/>
<path d="M959 903.8l4.8-4.7 1.6-6.4-4.9 5.8z" fill="#4c3ed4"/>
<path d="M983 850.4l4.7-11.9 1.4-15.4-4.7 14z" fill="#21add0"/>
<path d="M1006.8 759.1l4.8-5.3 1.4-21.8-4.7 6.1z" fill="#dccd84"/>
<path d="M1159.7 892.5l4.3 7 2.9.4-4.8-6.6z" fill="#4539d7"/>
<path d="M1030.5 755.2l4.6 25.6 2-10.7-4.5-27.4z" fill="#c5cd8a"/>
<path d="M1183.2 913.7l5 2.6 2.4-1.8-5-2.7z" fill="#4935b7"/>
<path d="M924.9 919.1l4.9.3 2.1-2.1-4.9-.1z" fill="#3e27ab"/>
<path d="M948.9 912.7l5-2.2 1.7-4.3-4.9 2.9z" fill="#4531bd"/>
<path d="M973.1 880.1l4.8-8.9 1.3-11.2-4.7 10.6z" fill="#526bf8"/>
<path d="M997 798.8l4.7-10.9 1.4-21.1-4.7 12.9z" fill="#96cc98"/>
<path d="M1150 875.4l4.1 9.3 2.4 1.9-4.2-8.3z" fill="#4749ed"/>
<path d="M1020.6 739l4.7 13.1 2-17.2-4.7-14.6z" fill="#efcd7d"/>
<path d="M1173.3 908.2l4.9 4.1 2.5-1.3-4.8-4z" fill="#412dbc"/>
<path d="M1044.5 825.1l4.4 16.4 2.3-3-4.6-20z" fill="#45bdd4"/>
<path d="M1197 918l5.3 1.4 2.6-1.7-5.3-1.5z" fill="#3e28ac"/>
<path d="M939 917.2l4.9-.8 2-2.9-5 1.1z" fill="#3f29b1"/>
<path d="M963.1 899.5l4.9-5.6 1.5-7.6-4.8 6.8z" fill="#534ae1"/>
<path d="M987.2 839.1l4.7-11.7 1.3-17.6-4.7 13.9z" fill="#33bac7"/>
<path d="M1010.7 754.1l5 .2 1.7-22.1-5-.1z" fill="#e4d088"/>
<path d="M1163.7 898.7l4.5 6.1 2.8-.2-4.8-5.7z" fill="#4434cd"/>
<path d="M1034.6 780.1l4.6 27.7 2.1-9.1-4.6-29.3z" fill="#8dcea2"/>
<path d="M1187.3 915.9l5.1 2.1 2.4-1.7-5.1-2.2z" fill="#3f29b0"/>
<path d="M929.1 919.2l4.9.1 2.1-2.2-5 0z" fill="#3e27ac"/>
<path d="M953.1 910.7l4.9-3 1.7-5-4.9 3.7z" fill="#4c3ac5"/>
<path d="M977.2 871.7l4.8-9.5 1.4-13.1-4.8 11.4z" fill="#4a8af3"/>
<path d="M1001.1 788.4l4.8-8.1 1.3-22.5-4.7 9.6z" fill="#b7cf94"/>
<path d="M1154 883.9l4.2 8.5 2.5 1-4.3-7.7z" fill="#4741e5"/>
<path d="M1024.7 751.4l4.6 18.5 2.1-14.7-4.6-20.9z" fill="#d4cf8b"/>
<path d="M1177.4 911.7l5 3.4 2.5-1.5-4.9-3.2z" fill="#402bb7"/>
<path d="M1201 919.1l5.4 1.2 2.7-1.7-5.4-1.2z" fill="#3e27ab"/>
<path d="M943.1 916.4l5-1.1 1.9-3.5-5 1.7z" fill="#402ab4"/>
<path d="M967.3 894.3l4.8-6.5 1.4-9-4.7 7.9z" fill="#5b58e9"/>
<path d="M991.3 827.9l4.7-10.8 1.3-19.6-4.7 12.9z" fill="#52c5be"/>
<path d="M1144.8 863.4l3.5 9.9 2.3 3.3-4-9.8z" fill="#4162f8"/>
<path d="M1014.8 753.9l4.8 6 1.9-21.1-4.7-6.8z" fill="#e0d08c"/>
<path d="M1167.5 904l4.9 5.3 2.7-.7-4.9-4.9z" fill="#4230c4"/>
<path d="M1038.7 807.1l4.6 26.7 2.1-8.7-4.6-27.1z" fill="#57c7c5"/>
<path d="M1191.3 917.7l5.2 1.7 2.5-1.7-5.1-1.8z" fill="#3f28ad"/>
<path d="M933.2 919.1l4.9-.1 2.1-2.5-5 .4z" fill="#3f28ad"/>
<path d="M957.3 908l4.9-3.7 1.6-6-4.9 4.7z" fill="#5344cf"/>
<path d="M981.4 862.7l4.7-9.8 1.4-15.1-4.8 11.8z" fill="#41a3e5"/>
<path d="M1005.1 780.7l4.9-4.4 1.4-23.3-4.8 5.3z" fill="#c5d297"/>
<path d="M1158.1 891.6l4.3 7.5 2.5.3-4.4-6.8z" fill="#463adb"/>
<path d="M1028.8 769.3l4.6 22.4 2.1-11.6-4.6-25.5z" fill="#b9d096"/>
<path d="M1181.5 914.6l5.1 2.7 2.5-1.5-5.1-2.7z" fill="#3f2ab3"/>
<path d="M923.3 920.4l4.9.3 2.1-2-4.9-.2z" fill="#3e27aa"/>
<path d="M947.3 915.3l4.9-1.7 1.8-3.9-4.9 2.2z" fill="#4834bb"/>
<path d="M971.4 888.3l4.8-7.2 1.4-10.7-4.7 8.9z" fill="#6367f2"/>
<path d="M995.4 817.6l4.7-9.2 1.4-21.3-4.8 11z" fill="#72cdb5"/>
<path d="M1148.4 872.5l4 10.4 2.4 2.1-4.1-9.2z" fill="#474df0"/>
<path d="M1019 759.3l4.6 11.1 2-19-4.6-13.1z" fill="#d5d191"/>
<path d="M1171.6 908.5l5 4.4 2.6-1-4.9-4.1z" fill="#412dbd"/>
<path d="M1042.8 833.1l4.6 14.3 2.1-6.9-4.6-16.1z" fill="#5ec3de"/>
<path d="M1195.4 919.1l5.2 1.4 2.6-1.7-5.2-1.5z" fill="#3e28ac"/>
<path d="M937.3 918.9l5-.4 2-2.8-5 .7z" fill="#3f29af"/>
<path d="M961.4 904.6l4.9-4.4 1.6-7.1-4.9 5.6z" fill="#5b50d9"/>
<path d="M985.5 853.4l4.7-9.7 1.4-17.1-4.7 11.7z" fill="#3fb6d8"/>
<path d="M1138.6 844.9l4.7 13.3 1 3.9-4.3-10.2z" fill="#2087e4"/>
<path d="M1009.1 776.5l5 .1 1.7-23.2-5-.2z" fill="#cbd49b"/>
<path d="M1162.1 898.4l4.5 6.5 2.7-.2-4.7-6.1z" fill="#4435cf"/>
<path d="M1033 791.1l4.5 24.4 2.1-8.3-4.5-27.8z" fill="#7cceaf"/>
<path d="M1185.6 916.8l5.1 2.2 2.6-1.5-5.2-2.2z" fill="#3f29b0"/>
<path d="M927.4 920.5l4.9.3 2.1-2.2-4.9-.1z" fill="#3e27ab"/>
<path d="M951.4 913.8l5-2.3 1.7-4.6-4.9 2.9z" fill="#503ec2"/>
<path d="M975.6 881.5l4.8-7.7 1.3-12.4-4.7 9.5z" fill="#677df9"/>
<path d="M999.5 808.9l4.7-6.8 1.4-22.6-4.7 8.1z" fill="#8ed2af"/>
<path d="M1152.4 882.1l4.2 9.4 2.4 1-4.2-8.3z" fill="#4744e7"/>
<path d="M1023.1 769.8l4.6 15.5 2.1-16.1-4.7-18.5z" fill="#c5d399"/>
<path d="M1175.7 912.3l5 3.5 2.6-1.2-4.9-3.3z" fill="#402bb7"/>
<path d="M1199.4 920.2l5.3 1.2 2.7-1.8-5.3-1.1z" fill="#3e27ab"/>
<path d="M941.5 918.4l4.9-.7 2-3.2-5 1.1z" fill="#3f29b1"/>
<path d="M1094.7 701l4.8-6.8 1.9 8.1-4.8 5.9z" fill="#f9f146"/>
<path d="M965.6 900.5l4.9-5.1 1.4-8.4-4.8 6.5z" fill="#645ce5"/>
<path d="M989.6 844.3l4.8-9 1.3-19-4.7 10.9z" fill="#4bc1d3"/>
<path d="M1142.7 857.7l3.9 12.8 2.4 3.3-4-11.2z" fill="#386ff6"/>
<path d="M1013.2 776.3l5 5.3 1.7-22.5-4.8-5.9z" fill="#cad59d"/>
<path d="M1165.9 904l4.9 5.7 2.6-.7-4.8-5.1z" fill="#4330c6"/>
<path d="M1037.1 814.9l4.5 23.4 2.2-5.1-4.6-26.7z" fill="#47c1ca"/>
<path d="M1189.6 918.7l5.2 1.7 2.7-1.6-5.3-1.8z" fill="#3f28ad"/>
<path d="M931.5 920.6l5 0 2-2.3-4.9.1z" fill="#3e28ac"/>
<path d="M955.6 911.7l4.9-2.8 1.7-5.4-4.9 3.6z" fill="#5948cb"/>
<path d="M979.7 874.3l4.8-8 1.4-14.2-4.8 9.8z" fill="#6396f6"/>
<path d="M1132.9 823.1l4.7 16.3 1.4 6.8-4.8-14z" fill="#06a6c7"/>
<path d="M1003.3 803l5-4.2 1.5-23.3-4.8 4.4z" fill="#a1d5ae"/>
<path d="M1156.4 890.7l4.3 8.1 2.9.6-4.7-7.7z" fill="#463cde"/>
<path d="M1027.2 784.7l4.6 18.6 2.1-12.2-4.6-22.5z" fill="#a1d3a7"/>
<path d="M1179.8 915.3l5.1 2.8 2.6-1.3-5.1-2.8z" fill="#402ab3"/>
<path d="M945.6 917.6l5-1.1 1.8-3.7-4.9 1.7z" fill="#4834b8"/>
<path d="M1098.9 694.7l4.9 2.9 1.6 8.4-4.9-3.5z" fill="#f9f337"/>
<path d="M969.8 895.8l4.8-5.7 1.4-9.8-4.7 7.2z" fill="#6c69ec"/>
<path d="M1123 778.2l4.7 19.6 1.4 10.3-4.7-16.8z" fill="#5ebe89"/>
<path d="M993.7 835.8l4.8-7.5 1.3-20.6-4.7 9.2z" fill="#5ec9cd"/>
<path d="M1146.7 869.7l4.1 11.5 2.4 2-4.1-10.3z" fill="#4555f3"/>
<path d="M1017.3 780.7l4.7 9.1 2-20.1-4.7-11.1z" fill="#c1d5a1"/>
<path d="M1170 908.9l4.9 4.6 2.6-1-4.8-4.2z" fill="#412ebe"/>
<path d="M1041.2 837.7l4.3 8.9 2.6.8-4.8-15z" fill="#2da8da"/>
<path d="M1193.7 920.1l5.3 1.4 2.7-1.6-5.4-1.5z" fill="#3e27ac"/>
<path d="M935.7 920.5l4.9-.2 2-2.6-4.9.4z" fill="#3f28ad"/>
<path d="M1088.9 711.9l4.3-9.9 2.4-1.5-4.4 15.1z" fill="#f9de24"/>
<path d="M959.8 909.2l4.9-3.4 1.6-6.5-4.9 4.5z" fill="#6154d3"/>
<path d="M1113.2 729.9l4.6 19.2 1.4 12.1-4.7-17.2z" fill="#d6bb55"/>
<path d="M983.8 866.8l4.8-7.8 1.4-16-4.8 9.6z" fill="#5ea9eb"/>
<path d="M1137.3 840.2l3.6 14.3 2.2 4.5-3.9-13.6z" fill="#1194da"/>
<path d="M1007.4 799l5.1 0 1.7-23.3-5.1-.1z" fill="#aad8b0"/>
<path d="M1160.5 898.1l4.4 6.9 2.7-.2-4.7-6.5z" fill="#4436d1"/>
<path d="M1031.3 802.7l4.6 19.9 2.1-7.7-4.6-24.5z" fill="#70cdbc"/>
<path d="M1183.9 917.7l5.2 2.3 2.6-1.5-5.2-2.2z" fill="#3f29b0"/>
<path d="M925.8 921.8l4.9.3 2.1-2-4.9-.3z" fill="#3e27aa"/>
<path d="M949.8 916.6l4.9-1.6 1.8-4.3-4.9 2.2z" fill="#523fbf"/>
<path d="M973.9 890.5l4.8-6.1 1.4-11.4-4.7 7.8z" fill="#7477f2"/>
<path d="M1127.2 797.2l4.6 19.4 1.4 7.8-4.7-16.9z" fill="#2bb6a6"/>
<path d="M997.8 828.8l4.8-5.6 1.4-21.9-4.8 6.9z" fill="#71cfca"/>
<path d="M1150.8 880.4l4.1 10.2 2.5 1-4.2-9.2z" fill="#4747ea"/>
<path d="M1021.5 789.2l4.6 12.5 2-17.1-4.6-15.5z" fill="#aad6ab"/>
<path d="M1174.1 912.9l5 3.7 2.6-1.2-5-3.5z" fill="#402cb8"/>
<path d="M1198.2 921.2l4.9 1.2 2.2-1.6-4.8-1.3z" fill="#3e27ab"/>
<path d="M939.8 920.2l5-.4 1.9-2.9-4.9.7z" fill="#3f29af"/>
<path d="M1093.1 702.8l4.2-6.2 2.4-1.9-4.2 6.7z" fill="#f9f517"/>
<path d="M963.9 906.1l4.9-4 1.6-7.5-4.9 5.1z" fill="#6a5fdd"/>
<path d="M1117.3 748.5l4.7 21.2 1.3 9.8-4.7-18.9z" fill="#b3bd65"/>
<path d="M987.9 859.5l4.8-7.2 1.4-17.8-4.7 9z" fill="#5bb9e3"/>
<path d="M1141.1 853.7l3.9 14.2 2.3 3-4-12.7z" fill="#2e7af0"/>
<path d="M1011.6 798.8l4.9 4.2 1.8-22.6-5-5.3z" fill="#a8d8b3"/>
<path d="M1164.3 904.2l4.8 5.9 2.6-.7-4.7-5.4z" fill="#4331c7"/>
<path d="M1035.4 822l4.4 18.1 2.3-2.3-4.5-23.6z" fill="#3ebdcc"/>
<path d="M1187.9 919.6l5.3 1.8 2.7-1.6-5.3-1.8z" fill="#3f28ae"/>
<path d="M929.9 921.9l4.9.3 2.1-2.3-4.9 0z" fill="#3e27ab"/>
<path d="M953.9 915.1l5-2 1.7-5-4.9 2.8z" fill="#5b4ac7"/>
<path d="M1107.4 707.3l4.7 16.4 1.4 7.5-4.8-15.7z" fill="#fec436"/>
<path d="M978 884.8l4.8-6.3 1.5-13-4.8 8z" fill="#7988f8"/>
<path d="M1131.3 816l3.8 18.7 2.2 5.5-3.8-16.5z" fill="#0aacbe"/>
<path d="M1001.6 823.9l5.1-3.4 1.7-22.9-5 4.1z" fill="#80d3c8"/>
<path d="M1154.8 889.8l4.3 8.8 2.8.4-4.7-8.2z" fill="#463ee1"/>
<path d="M1025.6 801.1l4.6 14.8 2-13.3-4.6-18.6z" fill="#8bd4ba"/>
<path d="M1178.2 916l5.1 3 2.5-1.4-5-2.8z" fill="#402ab4"/>
<path d="M1073.3 702.1l4.8-5.3 1.9 6.1-4.8 4.7z" fill="#f9f242"/>
<path d="M944 919.7l4.9-.6 1.9-3.4-4.9 1.2z" fill="#4632b5"/>
<path d="M1096.9 697l4.9 2.6 2.4-1.7-5-3.2z" fill="#f9fb1f"/>
<path d="M968.1 902.5l4.8-4.4 1.5-8.8-4.8 5.7z" fill="#736be6"/>
<path d="M1121.7 770.5l3.5 20.6 2.2 7.4-3.8-19.7z" fill="#81bf7a"/>
<path d="M992 852.8l4.8-6.1 1.4-19.2-4.7 7.6z" fill="#60c4de"/>
<path d="M1145.1 867.1l4 12.7 2.4 1.7-4.1-11.4z" fill="#435cf6"/>
<path d="M1015.7 802.2l4.7 7.2 2-20.4-4.7-9.1z" fill="#9ed8b8"/>
<path d="M1168.4 909.4l4.9 4.8 2.6-1-4.9-4.5z" fill="#412ebf"/>
<path d="M1040.9 839l3.6 1 1.5 6.9-4.5-8.5z" fill="#079fcf"/>
<path d="M1192 921.1l5.3 1.4 2.7-1.6-5.3-1.5z" fill="#3e28ac"/>
<path d="M1063.6 742.2l4-23.2 2.3-2.9-3.9 24.2z" fill="#f8be3f"/>
<path d="M934 922l5 0 2-2.4-4.9.2z" fill="#3e28ac"/>
<path d="M1087 710.2l4.5-2.2 1.8-5-3.7 9.6z" fill="#f9dc25"/>
<path d="M958.1 913.2l4.9-2.5 1.7-5.7-4.9 3.4z" fill="#6555ce"/>
<path d="M1111.5 723.1l3.8 20.5 2.3 6.3-3.9-19.4z" fill="#f1ba47"/>
<path d="M982.2 879l4.8-6.2 1.4-14.6-4.8 7.8z" fill="#7a9bfa"/>
<path d="M1135.3 834l3.9 17.2 2.3 3.8-3.9-15.6z" fill="#089ed0"/>
<path d="M1005.8 820.7l5-.1 1.7-22.5-5 0z" fill="#89d6c9"/>
<path d="M1158.5 897.6l4.8 7.7 2.6-.4-4.6-6.9z" fill="#4537d4"/>
<path d="M1029.7 815.3l4.6 15.7 2.1-9.1-4.6-19.9z" fill="#6dceca"/>
<path d="M1182.3 918.5l5.1 2.4 2.6-1.5-5.1-2.3z" fill="#3f29b0"/>
<path d="M948.1 919l5-1 1.8-3.8-4.9 1.5z" fill="#513dbb"/>
<path d="M1101.2 698.9l4.5 10.3 2.4-1-4.5-11z" fill="#f8ed20"/>
<path d="M972.2 898.5l4.9-4.8 1.4-10.1-4.8 6.1z" fill="#7b77ec"/>
<path d="M1125.5 790.3l3.8 21.6 2.3 5.4-3.9-19.5z" fill="#41ba98"/>
<path d="M996.1 847.1l4.9-4.5 1.4-20.2-4.8 5.6z" fill="#69cadc"/>
<path d="M1149.1 879l4.2 11 2.5.8-4.3-10.1z" fill="#4749ec"/>
<path d="M1019.8 808.8l4.7 9.9 2-17.7-4.7-12.6z" fill="#8ed6c1"/>
<path d="M1172.5 913.5l5 3.9 2.5-1.2-4.9-3.7z" fill="#402cb9"/>
<path d="M1196.6 922.2l4.9 1.2 2.2-1.6-4.9-1.2z" fill="#3e27ab"/>
<path d="M1067.7 719.8l4-15 2.3-3.2-3.9 15.4z" fill="#f9dc25"/>
<path d="M938.2 921.9l4.9-.1 2-2.7-4.9.4z" fill="#3f28ae"/>
<path d="M1091.5 708.9l4.9-3.1 1.5-9.5-4.8 5.8z" fill="#f9ee33"/>
<path d="M962.2 911l5-3 1.6-6.7-4.9 4z" fill="#6e61d6"/>
<path d="M1115.6 742.8l3.9 22.6 2.2 5-3.9-21.3z" fill="#c2bc5f"/>
<path d="M986.3 873.3l4.8-5.7 1.4-16.1-4.8 7.2z" fill="#79abf4"/>
<path d="M1139.4 850.4l4 15.6 2.3 2.3-4-14.1z" fill="#2682e9"/>
<path d="M1009.9 820.3l5 3.2 1.7-21.6-4.9-4.2z" fill="#8ad6cb"/>
<path d="M1162.7 904.4l4.8 6.3 2.5-.9-4.7-5.7z" fill="#4332c9"/>
<path d="M1033.8 830.3l4.6 13 2.1-4-4.6-18z" fill="#53c3d5"/>
<path d="M1186.3 920.5l5.3 1.9 2.6-1.6-5.2-1.8z" fill="#3f28ae"/>
<path d="M1057.9 773.8l3.9-26.4 2.2-6.5-3.8 28.9z" fill="#c1bc5f"/>
<path d="M928.3 923.2l4.9.4 2.1-2.1-4.9-.3z" fill="#3e27aa"/>
<path d="M1082.3 702.5l3.6 8.4 2.9-.2-4.8-4.5z" fill="#f8e122"/>
<path d="M952.3 918l4.9-1.3 1.8-4.5-4.9 2.1z" fill="#5b49c2"/>
<path d="M1105.4 708.4l4.3 16.3 2.5-.6-4.4-16.7z" fill="#fcce2f"/>
<path d="M976.4 894.1l4.8-4.8 1.5-11.6-4.8 6.3z" fill="#8283f2"/>
<path d="M1129.6 811.1l3.9 20.4 2.3 3.7-4-18.6z" fill="#13b0b6"/>
<path d="M1000 843.2l5.1-2.7 1.7-21.2-5.1 3.4z" fill="#73cfdb"/>
<path d="M1153.1 889.2l4.4 9.4 2.6.1-4.5-8.8z" fill="#473fe3"/>
<path d="M1023.9 818.1l4.7 11.6 2-14.5-4.6-14.8z" fill="#7cd3cc"/>
<path d="M1176.6 916.8l5 3.1 2.6-1.4-5-2.9z" fill="#402ab4"/>
<path d="M1071.8 705.6l4.8-5 1.7-3.5-4.9 4.9z" fill="#f8f318"/>
<path d="M942.3 921.6l5-.3 1.9-3-4.9.7z" fill="#432db1"/>
<path d="M1095.5 705.8l5 2.7 1.8-9.7-5-2.6z" fill="#faf348"/>
<path d="M966.4 908.3l4.9-3.3 1.6-7.7-4.9 4.4z" fill="#766cde"/>
<path d="M1119.7 764.6l3.9 23.3 2.3 3.7-3.9-21.9z" fill="#9bbf6f"/>
<path d="M990.4 868l4.8-4.8 1.4-17.3-4.8 6.1z" fill="#78b7ef"/>
<path d="M1143.4 865.2l4.1 13.7 2.5 1.1-4.2-12.5z" fill="#4162f8"/>
<path d="M1014.1 822.9l4.7 5.6 1.9-19.9-4.7-7.2z" fill="#85d5cf"/>
<path d="M1166.8 909.9l4.9 5 2.5-1.1-4.8-4.7z" fill="#422ec0"/>
<path d="M1038 843.2l4.5-3.5 1 .4-3.7-1.4z" fill="#06a2cc"/>
<path d="M1190.4 922l5.3 1.5 2.7-1.6-5.3-1.5z" fill="#3e28ac"/>
<path d="M1062.1 748.1l3.9-21.1 2.2-8.5-3.9 23.2z" fill="#f6bc42"/>
<path d="M932.4 923.4l4.9.2 2.1-2.3-4.9 0z" fill="#3e27ab"/>
<path d="M1085.3 710l5.1 7.2 2.1-9.6-4.8 2.3z" fill="#fbdd4e"/>
<path d="M956.4 916.8l5-1.8 1.7-5.1-4.9 2.5z" fill="#6555c9"/>
<path d="M1109.5 723.9l4.3 20.5 2.5-.6-4.3-20.6z" fill="#f6bc43"/>
<path d="M980.5 889.7l4.8-4.8 1.5-12.9-4.8 6.2z" fill="#898ef6"/>
<path d="M1133.7 830.7l3.9 18.6 2.4 2.4-4.1-17.3z" fill="#06a3ca"/>
<path d="M1004.2 840.7l5-.2 1.7-20.8-5 .1z" fill="#79d2db"/>
<path d="M1157 897.7l4.7 8 2.5-.6-4.5-7.3z" fill="#4538d6"/>
<path d="M1028.1 829.1l4.6 12.1 2-10.9-4.6-15.7z" fill="#6dced7"/>
<path d="M1180.7 919.4l5.1 2.5 2.6-1.6-5.1-2.3z" fill="#3f29b0"/>
<path d="M1052.1 803.2l4-24.3 2.2-6.4-3.9 29z" fill="#76bf7e"/>
<path d="M1075.7 700.4l4.8 4.7 2.1-3.3-4.8-4.9z" fill="#f9f632"/>
<path d="M946.4 921.2l5-.6 1.9-3.4-4.9 1z" fill="#4d38b7"/>
<path d="M1099.7 707.9l4.6 9.5 2.1-8.8-4.7-10.2z" fill="#f9e94c"/>
<path d="M970.5 905.3l4.9-3.5 1.6-8.9-4.9 4.7z" fill="#7e77e6"/>
<path d="M1123.8 787.1l3.9 22.8 2.4 2.5-4-21.6z" fill="#52bd8f"/>
<path d="M994.2 864l5.1-3.9 1.5-18.3-4.8 4.5z" fill="#79c1eb"/>
<path d="M1147.4 878.1l4.3 11.8 2.7.3-4.5-11z" fill="#484bee"/>
<path d="M1018.2 827.9l4.7 7.7 2-17.7-4.7-9.8z" fill="#7dd3d4"/>
<path d="M1170.9 914.3l4.9 4 2.5-1.3-4.8-3.9z" fill="#412cb9"/>
<path d="M1195 923.2l4.8 1.3 2.3-1.7-4.9-1.2z" fill="#3e27ab"/>
<path d="M1066.2 727.8l4.8-13.4 1.3-10-4.7 14.6z" fill="#fbd02e"/>
<path d="M936.5 923.4l5 .1 2-2.5-4.9.2z" fill="#3e28ac"/>
<path d="M1089.8 716.8l5 2.7 1.8-14.9-5.1 3.5z" fill="#fbdf56"/>
<path d="M960.6 915.2l4.9-2.1 1.7-5.9-4.9 2.9z" fill="#6e60d0"/>
<path d="M1113.6 743.5l4.3 23 2.5-.9-4.3-22.7z" fill="#c8bc5c"/>
<path d="M984.6 885.3l4.8-4.3 1.5-14.2-4.8 5.7z" fill="#8d9cfa"/>
<path d="M1137.7 848.5l4 16.7 2.5 1.1-4.1-15.4z" fill="#1f88e4"/>
<path d="M1008.3 840.3l5 2.4 1.7-20.2-5-3.2z" fill="#7cd2dd"/>
<path d="M1161.1 904.9l4.8 6.4 2.5-1-4.7-6z" fill="#4333ca"/>
<path d="M1032.2 840.6l4.6 8.8 2.1-6.8-4.7-13z" fill="#69c8df"/>
<path d="M1184.7 921.4l5.2 2 2.7-1.6-5.3-1.9z" fill="#3f28ae"/>
<path d="M1056.4 779.6l3.8-22.6 2.2-10.2-3.8 26.5z" fill="#b8bd63"/>
<path d="M1079.9 704.3l4.6 10.9 2.1-4.8-4.5-9.4z" fill="#f9e739"/>
<path d="M950.2 920.9l5.4-1.1 1.8-3.9-4.9 1.3z" fill="#5745be"/>
<path d="M1103.8 716.7l4.6 15.4 2.1-7.9-4.6-16.2z" fill="#fed15a"/>
<path d="M974.7 902.1l4.9-3.6 1.5-10-4.9 4.8z" fill="#8681ec"/>
<path d="M1127.9 809.1l4 21.5 2.7 1.7-4.4-20.7z" fill="#1bb2b0"/>
<path d="M998.4 860.6l5-2.2 1.8-19-5.1 2.7z" fill="#7dc7e9"/>
<path d="M1151.3 888.9l4.6 10.1 2.5-.5-4.5-9.2z" fill="#4741e4"/>
<path d="M1022.3 835.1l4.7 9 2-15.1-4.7-11.7z" fill="#76d0db"/>
<path d="M1175 917.7l5 3.2 2.5-1.5-5-3z" fill="#402ab4"/>
<path d="M1046 825.4l4.3-18.6 2.3-4.8-3.9 23z" fill="#29b6a7"/>
<path d="M1070.2 714.9l4.9-4.8 1.5-10.4-4.9 5.1z" fill="#f8ea3c"/>
<path d="M940.7 923.4l4.9-.1 2-2.7-4.9.3z" fill="#3f28ae"/>
<path d="M1093.9 718.9l5 4.4 1.7-15.7-4.9-2.8z" fill="#fbe05c"/>
<path d="M964.7 913.3l4.9-2.4 1.7-6.7-4.9 3.3z" fill="#776bd7"/>
<path d="M1117.8 765.6l4.3 23.8 2.4-1.4-4.3-23.3z" fill="#a1be6c"/>
<path d="M988.7 881.3l4.9-3.6 1.5-15.3-4.9 4.8z" fill="#90a8fb"/>
<path d="M1141.7 864.4l4.2 14.4 2.6.3-4.4-13.6z" fill="#3c69f8"/>
<path d="M1012.4 842.2l5 4.6 1.7-19.1-4.8-5.6z" fill="#7cd2df"/>
<path d="M1165.2 910.6l4.8 5.2 2.5-1.3-4.7-4.9z" fill="#422fc1"/>
<path d="M1036.5 849.3l4.8-6.3 1.6-4.4-4.9 3.8z" fill="#06a1cd"/>
<path d="M1188.8 923l5.3 1.5 2.6-1.6-5.3-1.5z" fill="#3e28ac"/>
<path d="M1060.5 757.8l4.7-17.9 1.3-13.4-4.7 20.9z" fill="#e6bb4d"/>
<path d="M930.8 924.7l4.9.3 2.1-2.1-4.9-.2z" fill="#3e27aa"/>
<path d="M1084 714.5l4.7 12.1 2-10.2-4.7-6.9z" fill="#fdd658"/>
<path d="M954.4 920.1l5.3-1.4 1.8-4.5-4.9 1.7z" fill="#6251c4"/>
<path d="M1107.9 731.4l4.6 19.5 2.1-7-4.6-20.4z" fill="#f6c666"/>
<path d="M978.8 898.8l4.9-3.5 1.5-11.2-4.8 4.8z" fill="#8d8bf0"/>
<path d="M1131.9 829.7l4.1 19.6 2.6.4-4.3-18.7z" fill="#06a5c8"/>
<path d="M1002.5 858.6l5-.2 1.8-18.8-5.1.2z" fill="#81cbe9"/>
<path d="M1155.4 898.1l4.6 8.2 2.5-.9-4.5-7.7z" fill="#4539d7"/>
<path d="M1026.4 843.5l4.7 9.3 2-12.3-4.7-12.1z" fill="#74cce1"/>
<path d="M1179 920.4l5.1 2.4 2.6-1.5-5.1-2.4z" fill="#3f29b1"/>
<path d="M1050.6 807.6l3.8-19.8 2.2-9.5-3.8 24.4z" fill="#69be84"/>
<path d="M1074.1 710.1l5 4.5 1.8-10.4-4.9-4.8z" fill="#f9ed4d"/>
<path d="M944.8 923.2l5-.3 1.9-3-4.9.6z" fill="#4731b3"/>
<path d="M1098 722.4l4.7 9.1 2-14.9-4.7-9.4z" fill="#fdd663"/>
<path d="M968.8 911.2l5-2.6 1.6-7.6-4.9 3.5z" fill="#7f75de"/>
<path d="M1121.9 788.5l4.3 23.3 2.4-1.9-4.3-22.8z" fill="#5bbf8e"/>
<path d="M992.6 878.3l5.1-3 1.8-16.5-5.2 4z" fill="#91b3fa"/>
<path d="M1145.6 877.9l4.5 12.4 2.5-.5-4.4-11.6z" fill="#484cf0"/>
<path d="M1016.5 846l4.8 5.9 1.9-17-4.7-7.7z" fill="#7cd0e2"/>
<path d="M1169.3 915.1l4.9 4.1 2.5-1.4-4.9-3.9z" fill="#412cba"/>
<path d="M1040.6 843.4l4-13.5 2.2-5.7-3.9 15.1z" fill="#07aac1"/>
<path d="M1193.3 924.2l4.9 1.3 2.2-1.6-4.8-1.3z" fill="#3e27ab"/>
<path d="M1064.6 740.4l4.7-11.5 1.4-15.3-4.7 13.4z" fill="#fbc549"/>
<path d="M934.9 924.8l4.9.3 2.1-2.3-4.9-.1z" fill="#3e27ab"/>
<path d="M1088.2 726l4.7 8.8 2-16.3-5-2.6z" fill="#fdd16b"/>
<path d="M958.6 919l5.2-1.7 1.8-5-4.9 2z" fill="#6c5ccb"/>
<path d="M1112 750.3l4.6 21.9 2.1-6.3-4.5-22.7z" fill="#cfc87b"/>
<path d="M982.6 896l5.2-3.6 1.5-12.2-4.8 4.3z" fill="#9394f3"/>
<path d="M1135.8 848.4l4.4 17.4 2.5-.6-4.3-16.5z" fill="#1b8ce1"/>
<path d="M1006.7 858.2l4.9 1.8 1.8-18.3-5-2.3z" fill="#84cce9"/>
<path d="M1159.5 905.6l4.7 6.6 2.5-1.3-4.7-6.3z" fill="#4333cb"/>
<path d="M1030.5 852.3l4.9 5.5 1.8-9.1-4.7-8.8z" fill="#7bc7e8"/>
<path d="M1183.1 922.4l5.2 2 2.6-1.6-5.2-1.9z" fill="#3f28ae"/>
<path d="M1054.7 788.5l4.7-18.2 1.3-13.8-4.6 22.4z" fill="#a9be69"/>
<path d="M1078.3 713.7l4.6 10.9 2.1-10.1-4.7-10.8z" fill="#fbe054"/>
<path d="M948.5 923.1l5.4-.7 2.3-3.7-5.3 1.1z" fill="#513db9"/>
<path d="M1102.2 730.8l4.6 14.2 2-13.6-4.6-15.3z" fill="#face6c"/>
<path d="M972.7 909.2l5.2-2.9 1.6-8.6-4.9 3.6z" fill="#877fe4"/>
<path d="M1126 810.8l4.3 21.9 2.4-2.2-4.3-21.6z" fill="#28b7b2"/>
<path d="M996.7 875.7l5.1-1.7 1.7-16.6-5 2.1z" fill="#94b9f8"/>
<path d="M1149.7 889.5l4.6 10.2 2.4-1-4.4-9.8z" fill="#4742e5"/>
<path d="M1020.7 851.3l4.7 7 1.9-15-4.7-9z" fill="#7dcde6"/>
<path d="M1173.4 918.6l5 3.3 2.5-1.6-5-3.1z" fill="#402ab4"/>
<path d="M1045.2 829.4l4.4-14 1.3-9.1-4.7 18.4z" fill="#21b4ac"/>
<path d="M1068.6 729.4l4.8-4 1.5-16.1-4.8 4.8z" fill="#fdd65a"/>
<path d="M939 924.9l5 .2 2-2.5-4.9 0z" fill="#3e28ac"/>
<path d="M1092.3 734.2l4.7 6.9 2-18.9-5-4.4z" fill="#fbd171"/>
<path d="M962.7 917.7l5.3-1.8 1.7-5.8-4.9 2.3z" fill="#7567d1"/>
<path d="M1116.2 771.6l4.5 22.8 2.1-5.7-4.5-23.5z" fill="#aeca89"/>
<path d="M986.8 893l5.1-3 1.6-13.1-4.9 3.6z" fill="#999cf6"/>
<path d="M1139.9 864.9l4.4 14.9 2.5-1.1-4.4-14.4z" fill="#3a6cf7"/>
<path d="M1010.8 859.6l4.9 3.4 1.8-17.3-5-4.7z" fill="#87caec"/>
<path d="M1163.6 911.5l4.8 5.2 2.4-1.4-4.7-5.1z" fill="#4634c3"/>
<path d="M1034.9 857.5l4.8-7.4 1.5-8-4.9 6.4z" fill="#149dd6"/>
<path d="M1187.2 924l5.2 1.6 2.7-1.7-5.3-1.5z" fill="#3e28ac"/>
<path d="M1058.9 770.9l4.7-14.6 1.3-17.2-4.7 17.9z" fill="#cbbe61"/>
<path d="M1082.4 724l4.6 14.2 2.1-12.3-4.6-12z" fill="#fccf65"/>
<path d="M952.7 922.6l5.3-.9 2.3-4.1-5.3 1.4z" fill="#5c49bf"/>
<path d="M1106.3 744.3l4.6 18.2 2.1-12.3-4.6-19.5z" fill="#e6cc7c"/>
<path d="M976.9 906.8l5.1-2.8 1.6-9.5-4.9 3.5z" fill="#8e88ea"/>
<path d="M1130.1 831.6l4.4 19.9 2.4-2.5-4.4-19.6z" fill="#1aadcc"/>
<path d="M1000.9 874.2l5-.2 1.7-16.5-5 .2z" fill="#96bdf7"/>
<path d="M1153.9 898.9l4.5 8.4 2.5-1.4-4.6-8z" fill="#4c40d9"/>
<path d="M1024.8 857.8l4.7 7 2-12.7-4.7-9.4z" fill="#84c6ec"/>
<path d="M1177.4 921.4l5.1 2.5 2.6-1.6-5.1-2.5z" fill="#3f29b1"/>
<path d="M1049 816l4.7-15.7 1.3-13.1-4.7 19.6z" fill="#51bc90"/>
<path d="M1072.5 725.4l5 4.2 1.7-16.1-4.9-4.5z" fill="#fdd963"/>
<path d="M943.1 924.9l5 0 2.4-2.9-5.3.4z" fill="#4029ae"/>
<path d="M1096.4 740.6l4.7 9.1 2-19-4.7-9z" fill="#f9ce76"/>
<path d="M966.9 916.3l5.2-2 1.7-6.5-4.9 2.5z" fill="#7e71d7"/>
<path d="M1120.3 793.7l4.5 22.5 2.2-5.2-4.6-23z" fill="#73c9a4"/>
<path d="M991 890.4l5-2.2 1.8-14-5.1 3z" fill="#9da4f8"/>
<path d="M1144.1 879l4.4 12.5 2.4-1.5-4.4-12.2z" fill="#5056f1"/>
<path d="M1014.9 862.4l4.9 4.9 1.8-16.2-4.8-5.9z" fill="#8bc7ef"/>
<path d="M1167.7 916.1l4.9 4.1 2.4-1.5-4.8-4z" fill="#4531bc"/>
<path d="M1039.1 850.6l4.7-11.5 1.4-9.7-4.8 13.2z" fill="#06a6c7"/>
<path d="M1191.7 925.2l4.9 1.3 2.2-1.6-4.9-1.3z" fill="#3e27ab"/>
<path d="M1062.9 756.8l4.8-9.3 1.3-19.3-4.7 11.5z" fill="#edc669"/>
<path d="M933.2 926.1l5 .5 2.1-2.2-4.9-.3z" fill="#3e27aa"/>
<path d="M1086.5 737.6l4.7 13.2 2-16.8-4.7-8.7z" fill="#f8cc75"/>
<path d="M956.9 922l5.3-1.1 2.1-4.6-5.2 1.6z" fill="#6655c5"/>
<path d="M1110.4 761.8l4.6 20.6 2.1-10.8-4.6-22z" fill="#c9ce8b"/>
<path d="M981 904.5l5.2-2.6 1.5-10.4-4.8 3.3z" fill="#9590ee"/>
<path d="M1134.2 850.5l4.4 17.5 2.4-2.6-4.4-17.4z" fill="#3499e4"/>
<path d="M1005 873.9l5 1.2 1.7-16.1-5-1.7z" fill="#99bff7"/>
<path d="M1158 906.5l4.6 6.7 2.4-1.5-4.6-6.5z" fill="#5041cf"/>
<path d="M1028.9 864.4l4.9 2.4 1.8-10.1-4.9-5.6z" fill="#8dc1f2"/>
<path d="M1181.5 923.5l5.2 1.9 2.6-1.6-5.2-2z" fill="#3f28ae"/>
<path d="M1053.1 800.8l4.7-14.4 1.3-16.8-4.7 18.2z" fill="#8ac07a"/>
<path d="M1076.7 728.8l4.6 10.3 2-15.2-4.6-10.9z" fill="#fdd169"/>
<path d="M946.9 925l5.3-.3 2.4-3.3-5.3.7z" fill="#4934b3"/>
<path d="M1100.5 749.1l4.7 13 2-17.8-4.6-14.2z" fill="#e9ce81"/>
<path d="M971.1 914.7l5.1-2 2-7.7-5.2 3z" fill="#867bdc"/>
<path d="M1124.4 815.5l4.5 21.1 2.2-4.8-4.5-21.5z" fill="#48c1c1"/>
<path d="M995.1 888.5l5.1-1.2 1.7-14.3-5.1 1.7z" fill="#a1aaf9"/>
<path d="M1148.2 890.7l4.5 10.3 2.4-1.7-4.5-10.2z" fill="#5853e7"/>
<path d="M1019 866.4l4.9 5.8 1.8-14.7-4.7-6.9z" fill="#91c2f3"/>
<path d="M1171.8 919.7l4.9 3.2 2.5-1.6-4.9-3.2z" fill="#402bb5"/>
<path d="M1043.2 839.7l4.7-12.5 1.4-12.5-4.7 15.2z" fill="#12afb7"/>
<path d="M1066.7 748.3l5.1-3.4 1.5-20.3-4.9 4z" fill="#f8cd72"/>
<path d="M937.4 926.3l4.9.4 2.1-2.3-4.9-.2z" fill="#3e27ab"/>
<path d="M1090.7 750.2l4.6 10.5 2-20.3-4.7-6.9z" fill="#e9cf84"/>
<path d="M961.1 921.2l5.2-1.2 2.1-5.2-5.2 1.8z" fill="#7061cb"/>
<path d="M1114.5 781.7l4.6 21.5 2.1-9.5-4.6-22.8z" fill="#a5d09c"/>
<path d="M985.2 902.3l5.1-2.1 1.8-11.4-5.1 3z" fill="#9a97f0"/>
<path d="M1138.4 866.9l4.4 15.1 2.3-2.7-4.4-15z" fill="#5680f8"/>
<path d="M1009.1 874.8l5 2.6 1.8-15.4-5-3.5z" fill="#9cbef9"/>
<path d="M1162.1 912.5l4.7 5.3 2.4-1.6-4.7-5.2z" fill="#503fc6"/>
<path d="M1033.3 866.8l4.7-7.2 1.5-10.3-4.8 7.4z" fill="#3b9ce5"/>
<path d="M1185.5 925.1l5.3 1.5 2.6-1.7-5.2-1.5z" fill="#3e28ac"/>
<path d="M1057.2 786.9l4.7-11.5 1.3-19.9-4.6 14.6z" fill="#bbc77e"/>
<path d="M1080.8 738.5l4.6 14.3 2.1-15.3-4.7-14.2z" fill="#f8cc74"/>
<path d="M951.1 924.8l5.3-.5 2.3-3.6-5.3.9z" fill="#5340b9"/>
<path d="M1104.7 761.5l4.6 16.4 2-16.1-4.6-18.1z" fill="#d3d08e"/>
<path d="M975.2 913.1l5.2-2 1.9-8.3-5.2 2.9z" fill="#8d83e1"/>
<path d="M1128.5 835.8l4.5 19.1 2.2-4.2-4.5-19.6z" fill="#3bb8d5"/>
<path d="M999.2 887.4l5.1-.1 1.7-14.2-5 .1z" fill="#a4aefa"/>
<path d="M1152.3 900.2l4.5 8.4 2.4-1.8-4.6-8.3z" fill="#5c51dd"/>
<path d="M1023.1 871.3l4.9 5.5 1.8-12.7-4.7-7.1z" fill="#97bdf7"/>
<path d="M1175.8 922.4l5.1 2.5 2.5-1.6-5.1-2.5z" fill="#3f29b1"/>
<path d="M1047.3 827.7l4.8-12.5 1.3-15.7-4.7 15.7z" fill="#3dbca7"/>
<path d="M1070.9 744.8l5 4.2 1.7-20.5-5-4.3z" fill="#f9cf77"/>
<path d="M941.5 926.5l4.9.2 2.1-2.5-4.9 0z" fill="#3e28ac"/>
<path d="M1094.8 760.1l4.7 10.1 2-21.2-4.7-9.2z" fill="#dcd18e"/>
<path d="M965.2 920.2l5.3-1.3 2-5.7-5.2 2z" fill="#796bd0"/>
<path d="M1118.7 802.5l4.5 21.2 2.1-8.2-4.6-22.4z" fill="#75cdb5"/>
<path d="M989.3 900.5l5.1-1.5 1.8-11.8-5.1 2.2z" fill="#9f9df2"/>
<path d="M1142.5 880.9l4.4 12.6 2.4-2.5-4.5-12.7z" fill="#666af2"/>
<path d="M1013.3 876.9l4.9 3.7 1.8-14.5-5-4.8z" fill="#9fbbfb"/>
<path d="M1166.1 917.2l4.9 4.2 2.4-1.7-4.9-4.1z" fill="#4d3abe"/>
<path d="M1037.4 860.1l4.8-9.6 1.3-12.1-4.7 11.4z" fill="#1ba5d4"/>
<path d="M1189.6 926.3l5.3 1.3 2.7-1.8-5.3-1.2z" fill="#3e27ab"/>
<path d="M1061.3 776l4.8-7.3 1.3-22-4.7 9.4z" fill="#d0cc86"/>
<path d="M1084.9 752.2l4.6 15.2 2.1-17.3-4.7-13.3z" fill="#dfce86"/>
<path d="M955.2 924.5l5.3-.6 2.2-4-5.2 1z" fill="#5e4bbf"/>
<path d="M1108.8 777.2l4.6 18.7 2-14.2-4.6-20.6z" fill="#bed299"/>
<path d="M979.4 911.4l5.1-1.7 1.9-8.9-5.2 2.6z" fill="#938be6"/>
<path d="M1132.6 854.2l4.6 16.8 2.1-3.9-4.5-17.2z" fill="#51a4e9"/>
<path d="M1003.4 887.2l5 .9 1.7-13.9-5-1.2z" fill="#a6b0fa"/>
<path d="M1156.4 907.8l4.6 6.8 2.4-1.9-4.7-6.7z" fill="#5c4ed2"/>
<path d="M1027.2 876.2l5 .2 1.8-10.5-5-2.4z" fill="#99b7fa"/>
<path d="M1179.9 924.5l5.1 2 2.6-1.7-5.2-1.9z" fill="#3f28ae"/>
<path d="M1051.5 815.8l4.7-11.3 1.3-18.9-4.7 14.5z" fill="#73c89e"/>
<path d="M1075 748.1l4.7 9.5 2-19.2-4.7-10.3z" fill="#f2ce7d"/>
<path d="M945.2 926.7l5.4 0 2.4-3-5.3.4z" fill="#412aae"/>
<path d="M1098.9 769.6l4.7 12.1 2-20.3-4.7-13z" fill="#d1d294"/>
<path d="M969.4 919.2l5.2-1.3 2-6.3-5.2 2z" fill="#8174d5"/>
<path d="M1122.8 823l4.5 20 2.2-7.1-4.6-21.1z" fill="#55c6cc"/>
<path d="M993.5 899.1l5-.8 1.8-12-5.1 1.2z" fill="#a3a2f4"/>
<path d="M1146.6 892.6l4.5 10.3 2.3-2.5-4.5-10.4z" fill="#6964e9"/>
<path d="M1017.4 879.9l4.9 4.3 1.8-13.2-4.9-5.8z" fill="#a2b7fb"/>
<path d="M1170.2 920.8l4.9 3.2 2.4-1.6-4.9-3.3z" fill="#4631b7"/>
<path d="M1041.6 851l4.7-10.1 1.3-14.5-4.7 12.5z" fill="#26b3cb"/>
<path d="M1065.1 769.3l5.1-2.2 1.7-23.3-5.1 3.3z" fill="#dad08c"/>
<path d="M935.7 927.7l4.9.4 2.2-2.1-5-.4z" fill="#3e27aa"/>
<path d="M1089 766.8l4.7 13.4 2-20.2-4.7-10.5z" fill="#d1d294"/>
<path d="M959.4 924l5.3-.7 2.1-4.4-5.2 1.2z" fill="#6857c4"/>
<path d="M1112.9 795.2l4.6 19.6 2.1-12.3-4.6-21.5z" fill="#95d3ac"/>
<path d="M983.5 910l5.1-1.5 1.9-9.4-5.1 2.2z" fill="#9992e9"/>
<path d="M1136.7 870.3l4.5 14.8 2.3-4-4.6-14.7z" fill="#6c8bfa"/>
<path d="M1007.5 887.9l5 1.9 1.7-13.3-4.9-2.6z" fill="#a8b0fa"/>
<path d="M1160.4 913.8l4.8 5.3 2.3-1.8-4.7-5.3z" fill="#5a49c9"/>
<path d="M1031.6 876.5l4.8-6.4 1.4-11.3-4.7 7.2z" fill="#5c97f3"/>
<path d="M1183.9 926.1l5.3 1.6 2.6-1.7-5.3-1.6z" fill="#3e28ac"/>
<path d="M1055.6 805l4.7-8.9 1.3-21.4-4.7 11.5z" fill="#9dce9a"/>
<path d="M1079.2 756.9l4.6 13.4 2-18.2-4.6-14.3z" fill="#decf89"/>
<path d="M949.4 926.7l5.3-.2 2.4-3.1-5.3.4z" fill="#4a35b3"/>
<path d="M1103 781.1l4.7 14.6 2-18.5-4.6-16.5z" fill="#c2d49d"/>
<path d="M973.6 918.1l5.1-1.2 2-6.9-5.2 2z" fill="#887dda"/>
<path d="M1126.9 842.3l4.6 18.1 2.1-6.1-4.6-19.1z" fill="#4fbcdb"/>
<path d="M997.6 898.4l5-.1 1.8-11.9-5 .1z" fill="#a6a6f5"/>
<path d="M1150.7 902l4.5 8.3 2.3-2.3-4.5-8.4z" fill="#695fdf"/>
<path d="M1021.5 883.5l4.9 3.9 1.8-11.7-4.9-5.6z" fill="#a5b2fb"/>
<path d="M1174.2 923.5l5.1 2.5 2.4-1.6-5-2.6z" fill="#3f29b1"/>
<path d="M1045.7 841.4l4.7-9.8 1.4-17.2-4.7 12.5z" fill="#40bfc4"/>
<path d="M1069.3 767l4.9 3.9 1.8-23-5-4.2z" fill="#dbd190"/>
<path d="M939.9 927.9l4.9.4 2.1-2.3-4.9-.2z" fill="#3e27ab"/>
<path d="M1093.1 779.6l4.7 11.5 2-21.7-4.7-10z" fill="#c7d49d"/>
<path d="M963.6 923.5l5.2-.8 2.1-4.8-5.2 1.3z" fill="#7161c9"/>
<path d="M1117 814.2l4.6 19.4 2.1-10.6-4.6-21.2z" fill="#70cec4"/>
<path d="M987.7 908.7l5-1 1.9-9.7-5.1 1.5z" fill="#9d97ec"/>
<path d="M1140.9 883.9l4.5 12.3 2.2-3.5-4.5-12.7z" fill="#7578f3"/>
<path d="M1011.6 889.4l5 2.7 1.7-12.6-4.9-3.6z" fill="#a9aff9"/>
<path d="M1164.5 918.5l4.8 4.1 2.4-1.8-4.8-4.1z" fill="#5441c1"/>
<path d="M1035.8 870.6l4.7-7.8 1.4-13.1-4.7 9.6z" fill="#49a2e7"/>
<path d="M1188 927.4l5.3 1.2 2.7-1.7-5.3-1.3z" fill="#3e27ab"/>
<path d="M1059.6 796.6l4.8-5.4 1.4-23.3-4.8 7.3z" fill="#bad29a"/>
<path d="M1083.3 769.7l4.6 15.3 2-18.3-4.6-15.2z" fill="#cdd194"/>
<path d="M953.6 926.6l5.3-.3 2.2-3.4-5.2.6z" fill="#5340b8"/>
<path d="M1107.1 795.1l4.7 16.6 2-16.5-4.6-18.7z" fill="#a3d5ac"/>
<path d="M977.7 917.1l5.1-1.1 2-7.4-5.2 1.8z" fill="#8f84de"/>
<path d="M1131 859.7l4.6 15.9 2.1-5.3-4.6-16.7z" fill="#67a8ef"/>
<path d="M1001.7 898.3l5 .7 1.8-11.8-5-.9z" fill="#a8a8f5"/>
<path d="M1154.8 909.5l4.6 6.6 2.3-2.1-4.7-6.8z" fill="#675ad4"/>
<path d="M1025.6 887.2l5-1.3 1.8-10.4-5-.2z" fill="#9da8fa"/>
<path d="M1178.3 925.6l5.1 2 2.6-1.7-5.2-2z" fill="#3f28ae"/>
<path d="M1049.8 832.1l4.7-8.7 1.4-19.7-4.7 11.3z" fill="#60c9bd"/>
<path d="M1073.4 770.1l4.7 8.5 2-21.8-4.7-9.4z" fill="#d5d294"/>
<path d="M944 928l4.9.4 2.5-2.7-5.3.1z" fill="#3e27ac"/>
<path d="M1097.3 790.5l4.6 11.7 2-21.2-4.6-12.2z" fill="#b9d6a5"/>
<path d="M967.7 922.9l5.2-.8 2.1-5.2-5.2 1.3z" fill="#796bce"/>
<path d="M1121.1 832.9l4.6 18.4 2.1-9-4.6-20z" fill="#5cc7d6"/>
<path d="M991.8 907.8l5.1-.5 1.8-9.9-5.1.8z" fill="#a19cee"/>
<path d="M1145 895.2l4.5 10 2.2-3.1-4.5-10.4z" fill="#7671ea"/>
<path d="M1015.7 891.7l5 3.1 1.8-11.6-5-4.4z" fill="#a9acf8"/>
<path d="M1168.6 922l4.9 3.2 2.4-1.7-4.9-3.3z" fill="#4b37b9"/>
<path d="M1039.9 863.3l4.8-8 1.3-15.2-4.7 10.1z" fill="#44b3dd"/>
<path d="M1063.5 791.6l5-1.2 1.7-24.3-5 2.2z" fill="#c4d59f"/>
<path d="M1087.4 784.3l4.6 14.7 2.1-19.5-4.7-13.4z" fill="#bed5a0"/>
<path d="M957.7 926.4l5.3-.3 2.2-3.8-5.2.7z" fill="#5d4abd"/>
<path d="M1111.3 811l4.6 17.4 2-14.3-4.6-19.6z" fill="#82d3bf"/>
<path d="M981.9 916.1l5.1-.9 1.9-7.7-5.2 1.5z" fill="#948be1"/>
<path d="M1135.1 874.9l4.6 13.6 2.1-4.5-4.6-14.4z" fill="#7d91fa"/>
<path d="M1005.9 898.8l4.9 1.5 1.8-11.4-5-1.9z" fill="#a9a8f5"/>
<path d="M1158.8 915.4l4.8 5.2 2.3-2.1-4.8-5.2z" fill="#6252cb"/>
<path d="M1029.9 886.1l4.9-5.3 1.4-11.5-4.8 6.4z" fill="#768ffa"/>
<path d="M1182.3 927.2l5.2 1.6 2.7-1.8-5.3-1.5z" fill="#3e28ac"/>
<path d="M1053.9 823.9l4.8-6.7 1.3-21.8-4.7 8.8z" fill="#7dd0b8"/>
<path d="M1077.5 778l4.7 12 2-20.4-4.7-13.4z" fill="#cad39a"/>
<path d="M947.7 928.3l5.4.1 2.4-2.8-5.3.2z" fill="#4029ad"/>
<path d="M1101.4 801.6l4.6 13.1 2.1-19.7-4.7-14.7z" fill="#a1d7b2"/>
<path d="M971.9 922.2l5.2-.7 2-5.6-5.2 1.2z" fill="#8174d3"/>
<path d="M1125.3 850.6l4.6 16.7 2-7.6-4.6-18.1z" fill="#62bce5"/>
<path d="M995.9 907.4l5.1 0 1.8-10-5.1.1z" fill="#a49fef"/>
<path d="M1149.1 904.3l4.6 8.1 2.2-2.8-4.6-8.4z" fill="#746ae0"/>
<path d="M1019.9 894.3l4.9 2.5 1.8-10.4-4.9-3.9z" fill="#a9aaf7"/>
<path d="M1172.6 924.8l5 2.4 2.5-1.7-5-2.5z" fill="#412bb1"/>
<path d="M1044 855.8l4.8-7.7 1.4-17.3-4.8 9.8z" fill="#4cbfd7"/>
<path d="M1067.6 790.3l5 3.7 1.7-24.2-5-3.9z" fill="#c5d6a1"/>
<path d="M938.2 929.2l4.9.5 2.1-2.1-4.9-.4z" fill="#3e27aa"/>
<path d="M1091.5 798.4l4.7 12.8 2-20.8-4.7-11.5z" fill="#a7d7af"/>
<path d="M961.9 926.2l5.2-.4 2.2-4.1-5.2.8z" fill="#6655c2"/>
<path d="M1115.4 827.8l4.6 17.3 2.1-12.2-4.7-19.4z" fill="#6bcdd1"/>
<path d="M986 915.4l5.1-.6 1.9-8-5.1 1z" fill="#9990e4"/>
<path d="M1139.2 887.8l4.6 11.8 2.2-4.3-4.6-12z" fill="#8182f2"/>
<path d="M1010 900l4.9 2 1.8-10.8-4.9-2.7z" fill="#a9a8f4"/>
<path d="M1162.9 919.9l4.8 4 2.4-1.9-4.9-4.1z" fill="#5a48c2"/>
<path d="M1034.1 881.2l4.8-6.2 1.4-13-4.7 7.8z" fill="#6c9cf7"/>
<path d="M1186.3 928.5l5.4 1.2 2.7-1.8-5.4-1.2z" fill="#3e27ab"/>
<path d="M1057.9 817.7l4.9-3.9 1.4-23.4-4.8 5.4z" fill="#92d5b6"/>
<path d="M1081.6 789.4l4.7 14.1 2-19.2-4.6-15.3z" fill="#b8d5a4"/>
<path d="M951.9 928.4l5.3 0 2.4-3-5.3.2z" fill="#4833b1"/>
<path d="M1105.5 814l4.7 14.5 2-17.6-4.7-16.5z" fill="#89d5c1"/>
<path d="M976.1 921.6l5.1-.6 2-6-5.2 1.1z" fill="#877bd6"/>
<path d="M1129.4 866.6l4.6 14.7 2.1-6.4-4.6-15.9z" fill="#79a8f6"/>
<path d="M1000.1 907.3l5 .6 1.8-9.8-5-.7z" fill="#a6a1f0"/>
<path d="M1153.1 911.6l4.7 6.3 2.2-2.4-4.6-6.7z" fill="#7063d6"/>
<path d="M1023.9 896.8l5.1-1.8 1.8-10.1-5.1 1.3z" fill="#9a9bf5"/>
<path d="M1176.6 926.8l5.2 1.9 2.5-1.7-5.1-2z" fill="#3f28ae"/>
<path d="M1048.1 848.6l4.8-6.5 1.4-19.5-4.8 8.7z" fill="#5ac7d3"/>
<path d="M1071.8 793.3l4.7 7.4 1.9-22.9-4.7-8.4z" fill="#bed6a5"/>
<path d="M942.3 929.4l5 .5 2.1-2.2-5-.3z" fill="#3e27ab"/>
<path d="M1095.6 810.6l4.7 11.6 2-20.8-4.7-11.6z" fill="#95d7bc"/>
<path d="M966.1 925.9l5.2-.4 2.1-4.4-5.2.8z" fill="#6f5fc7"/>
<path d="M1119.5 844.4l4.6 16.4 2.1-10.2-4.6-18.4z" fill="#66c7de"/>
<path d="M990.1 914.8l5.1-.2 1.9-8.2-5.1.5z" fill="#9c94e6"/>
<path d="M1143.3 898.5l4.6 9.6 2.2-3.7-4.6-10.2z" fill="#807aeb"/>
<path d="M1014.1 901.6l5 2.4 1.7-10.1-4.9-3.2z" fill="#a9a7f3"/>
<path d="M1166.9 923.4l5 3.1 2.3-1.9-4.9-3.1z" fill="#503cba"/>
<path d="M1038.2 875.5l4.8-6.2 1.4-14.8-4.7 8z" fill="#68aaef"/>
<path d="M1061.9 814l5-.4 1.7-24.1-5 1.2z" fill="#9ed7b7"/>
<path d="M1085.8 802.9l4.6 14.4 2-19-4.6-14.7z" fill="#9cd6b4"/>
<path d="M956 928.4l5.3 0 2.3-3.3-5.2.4z" fill="#513db6"/>
<path d="M1109.6 827.9l4.7 15.1 2-15.3-4.6-17.4z" fill="#75d1d1"/>
<path d="M980.2 921.1l5.1-.5 1.9-6.3-5.1.9z" fill="#8d81d9"/>
<path d="M1133.5 880.6l4.6 12.5 2.1-5.3-4.6-13.6z" fill="#8894f8"/>
<path d="M1004.2 907.8l5 1.1 1.8-9.5-5-1.5z" fill="#a7a2ef"/>
<path d="M1157.2 917.2l4.7 5 2.3-2.2-4.7-5.2z" fill="#695acc"/>
<path d="M1028.3 895.2l4.8-4.3 1.5-10.9-4.8 5.3z" fill="#8489f5"/>
<path d="M1180.7 928.4l5.2 1.5 2.6-1.8-5.2-1.5z" fill="#3e28ac"/>
<path d="M1052.2 842.5l4.8-4.9 1.4-21.2-4.7 6.7z" fill="#6bcdd1"/>
<path d="M1075.9 800.1l4.7 10.5 2-21.3-4.7-12.1z" fill="#abd7ae"/>
<path d="M946.5 929.7l4.9.4 2.5-2.6-5.3 0z" fill="#3e27ab"/>
<path d="M1099.8 821.6l4.6 11.8 2-19.5-4.6-13.1z" fill="#85d5c9"/>
<path d="M970.2 925.6l5.2-.4 2.1-4.7-5.2.8z" fill="#7667cb"/>
<path d="M1123.6 860.2l4.6 14.9 2.1-8.5-4.6-16.7z" fill="#76b8ee"/>
<path d="M994.3 914.6l5 .1 1.9-8.2-5.1 0z" fill="#9f98e7"/>
<path d="M1147.4 907.1l4.7 7.6 2.1-3.1-4.6-8.1z" fill="#7c73e0"/>
<path d="M1018.2 903.6l5 1.5 1.8-9.2-5-2.5z" fill="#a7a4f2"/>
<path d="M1171 926l5 2.4 2.5-1.8-5.1-2.5z" fill="#442eb2"/>
<path d="M1042.3 869.8l4.8-5.8 1.5-16.6-4.8 7.6z" fill="#66b8e8"/>
<path d="M1066 813.4l5 3.5 1.7-24-5-3.7z" fill="#9fd8ba"/>
<path d="M1089.9 816.7l4.6 13.2 2.1-19.4-4.7-12.8z" fill="#88d5c4"/>
<path d="M960.2 928.4l5.3-.1 2.2-3.4-5.2.3z" fill="#5946ba"/>
<path d="M1113.8 842.4l4.6 15 2-13-4.6-17.3z" fill="#6ccbdd"/>
<path d="M984.3 920.7l5.1-.3 1.9-6.6-5 .6z" fill="#9287dc"/>
<path d="M1137.6 892.5l4.6 11 2.1-5-4.6-11.4z" fill="#8988f1"/>
<path d="M1008.3 908.7l5 1.5 1.8-9.1-5-2z" fill="#a7a2ef"/>
<path d="M1161.3 921.6l4.8 3.8 2.3-2.1-4.8-4z" fill="#5f4ec4"/>
<path d="M1032.4 891.3l4.9-4.7 1.4-12.4-4.8 6.2z" fill="#8392f9"/>
<path d="M1184.7 929.6l5.3 1.2 2.7-1.8-5.3-1.2z" fill="#3e27ab"/>
<path d="M1056.1 838.2l5-2.9 1.5-22.3-4.8 3.8z" fill="#79d2cf"/>
<path d="M1080 810l4.7 12.5 2-19.7-4.7-14.2z" fill="#96d6ba"/>
<path d="M950.2 930l5.3.2 2.5-2.7-5.3 0z" fill="#3e27ac"/>
<path d="M1103.9 832.8l4.6 12.5 2-17.5-4.6-14.5z" fill="#78d2d4"/>
<path d="M974.4 925.3l5.1-.3 2.1-5-5.2.7z" fill="#7d6fcf"/>
<path d="M1127.7 874.5l4.7 13.2 2-7.1-4.6-14.7z" fill="#89a5fa"/>
<path d="M998.4 914.6l5 .6 1.9-8.1-5.1-.6z" fill="#a19ae7"/>
<path d="M1151.5 913.9l4.7 6 2.2-2.7-4.7-6.4z" fill="#776ad6"/>
<path d="M1022.2 905.2l5.2-1.9 1.8-9.4-5.1 1.9z" fill="#9693f0"/>
<path d="M1175 928l5.1 1.9 2.6-1.8-5.2-1.9z" fill="#3f28ad"/>
<path d="M1046.4 864.5l4.9-4.9 1.4-18.3-4.8 6.5z" fill="#67c2e3"/>
<path d="M1070.1 816.2l4.8 6.4 1.9-22.7-4.7-7.4z" fill="#97d8be"/>
<path d="M1094 829.3l4.7 11.6 2-19.4-4.7-11.6z" fill="#7ed3d1"/>
<path d="M964.4 928.3l5.2 0 2.2-3.7-5.2.3z" fill="#6250bf"/>
<path d="M1117.9 856.8l4.6 14.3 2-11-4.6-16.4z" fill="#75c1e9"/>
<path d="M988.5 920.4l5.1-.1 1.8-6.6-5 .2z" fill="#958bde"/>
<path d="M1141.7 902.3l4.6 8.9 2.2-4.1-4.7-9.7z" fill="#8780e9"/>
<path d="M1012.4 909.9l5 1.7 1.8-8.6-4.9-2.3z" fill="#a6a1ed"/>
<path d="M1165.3 924.9l4.9 2.9 2.4-1.9-4.9-3.1z" fill="#5340bb"/>
<path d="M1036.5 887l4.9-4.6 1.4-13.9-4.8 6.2z" fill="#849ffa"/>
<path d="M1060.2 835.5l5 .1 1.8-22.9-5.1.4z" fill="#82d5d0"/>
<path d="M1084.1 821.8l4.7 13.2 2-18.4-4.7-14.4z" fill="#82d4c9"/>
<path d="M954.3 930.2l5.4.1 2.4-2.8-5.3 0z" fill="#452faf"/>
<path d="M1108 844.7l4.7 13 2-15.4-4.7-15.2z" fill="#72cede"/>
<path d="M978.5 925l5.1-.2 2.1-5.2-5.2.5z" fill="#8375d2"/>
<path d="M1131.9 887l4.6 11.3 2.1-5.8-4.7-12.6z" fill="#9194f6"/>
<path d="M1002.5 915l5 .9 1.9-7.9-5-1.1z" fill="#a29be8"/>
<path d="M1155.6 919.2l4.7 4.7 2.3-2.4-4.8-5z" fill="#6e5fcd"/>
<path d="M1026.6 903.5l4.9-3.3 1.5-10.1-4.8 4.3z" fill="#8a88f0"/>
<path d="M1179 929.5l5.3 1.5 2.6-1.8-5.3-1.5z" fill="#3e27ac"/>
<path d="M1050.3 860.4l5.1-3.9 1.5-19.7-4.9 4.9z" fill="#6ec9e0"/>
<path d="M1074.2 822.1l4.8 8.9 1.9-21.2-4.7-10.4z" fill="#8bd6c6"/>
<path d="M944.8 931l4.9.5 2.2-2.1-5-.4z" fill="#3e27aa"/>
<path d="M1098.1 840.3l4.7 10.8 2-18.4-4.7-11.8z" fill="#77d1da"/>
<path d="M968.5 928.3l5.2-.1 2.2-3.9-5.2.3z" fill="#6958c3"/>
<path d="M1122 870.5l4.6 13.1 2.1-9.1-4.7-15z" fill="#88b2f7"/>
<path d="M992.6 920.3l5.1.2 1.9-6.7-5.1-.1z" fill="#988edf"/>
<path d="M1145.8 910.3l4.7 7 2.1-3.4-4.7-7.7z" fill="#8279df"/>
<path d="M1016.5 911.4l5.1.7 1.8-7.9-5-1.5z" fill="#a39dec"/>
<path d="M1169.4 927.4l5 2.2 2.4-1.8-5-2.4z" fill="#4631b3"/>
<path d="M1040.7 882.8l4.8-4.3 1.5-15.3-4.8 5.8z" fill="#83acf8"/>
<path d="M1064.4 835.4l4.9 3.2 1.8-22.7-5-3.5z" fill="#83d5d2"/>
<path d="M1088.2 834.4l4.7 12.6 2-17.8-4.6-13.2z" fill="#77d1d5"/>
<path d="M958.5 930.3l5.3.1 2.4-3-5.3.1z" fill="#4c37b3"/>
<path d="M1112.1 857l4.7 12.9 2-13.2-4.6-15z" fill="#78c6e8"/>
<path d="M982.7 924.8l5.1 0 1.9-5.4-5 .3z" fill="#877bd4"/>
<path d="M1136 897.7l4.6 9.9 2.1-5.3-4.6-10.5z" fill="#8f8cef"/>
<path d="M1006.7 915.7l5 1.2 1.8-7.6-5-1.5z" fill="#a29be7"/>
<path d="M1159.7 923.3l4.8 3.6 2.3-2.1-4.9-3.9z" fill="#6352c4"/>
<path d="M1030.7 900.6l4.9-3.5 1.5-11.3-4.8 4.7z" fill="#8d8ef3"/>
<path d="M1183.1 930.7l5.3 1.2 2.7-1.8-5.4-1.2z" fill="#3e27aa"/>
<path d="M1054.4 856.9l5.1-1.8 1.7-20.9-5 2.9z" fill="#76cee0"/>
<path d="M1078.4 830.4l4.7 10.7 1.9-19.4-4.6-12.5z" fill="#7fd4d0"/>
<path d="M948.9 931.3l5 .5 2.1-2.3-4.9-.4z" fill="#3e27ab"/>
<path d="M1102.2 850.5l4.7 10.8 2-16.7-4.6-12.5z" fill="#78cee1"/>
<path d="M972.7 928.2l5.2 0 2.1-4.1-5.2.2z" fill="#7060c6"/>
<path d="M1126.1 882.9l4.6 11.6 2.1-7.5-4.6-13.2z" fill="#94a1f9"/>
<path d="M996.8 920.5l5 .4 1.9-6.6-5.1-.5z" fill="#9a90e0"/>
<path d="M1149.9 916.5l4.7 5.6 2.2-2.9-4.8-6.1z" fill="#7c6fd6"/>
<path d="M1020.6 912.3l5.1-1.7 1.9-8.4-5.1 2z" fill="#928be9"/>
<path d="M1173.4 929.3l5.1 1.7 2.5-1.8-5.1-1.8z" fill="#3f28ad"/>
<path d="M1044.5 879.3l5.1-3.9 1.5-16.6-4.8 4.8z" fill="#84b6f3"/>
<path d="M1068.5 837.9l4.8 5.5 1.9-21.5-4.8-6.5z" fill="#80d4d5"/>
<path d="M1092.4 846.4l4.6 11.2 2-17.5-4.6-11.6z" fill="#76cfdf"/>
<path d="M962.7 930.4l5.2.1 2.3-3.2-5.2.1z" fill="#533fb7"/>
<path d="M1116.2 869.2l4.7 12.3 2-11.1-4.6-14.3z" fill="#89b9f4"/>
<path d="M986.8 924.8l5.1.1 2-5.5-5.1.1z" fill="#8b7fd6"/>
<path d="M1140.1 906.5l4.6 8.1 2.1-4.4-4.7-9z" fill="#8c85e7"/>
<path d="M1010.8 916.7l5 1.2 1.8-7.2-5-1.7z" fill="#a199e6"/>
<path d="M1163.7 926.4l4.9 2.8 2.4-2-5-3z" fill="#5642bb"/>
<path d="M1034.9 897.4l4.8-3.4 1.6-12.4-4.9 4.6z" fill="#9196f6"/>
<path d="M1058.6 855.2l5 .5 1.7-21-5-.1z" fill="#7bd0e1"/>
<path d="M1082.5 840.5l4.7 11.5 2-17.7-4.7-13.2z" fill="#76d1da"/>
<path d="M952.6 931.7l5.4.3 2.5-2.6-5.3-.1z" fill="#3e27ab"/>
<path d="M1106.4 860.7l4.6 11 2-14.8-4.6-12.9z" fill="#7fc7ea"/>
<path d="M976.8 928.2l5.2 0 2.1-4.3-5.2.2z" fill="#7666c9"/>
<path d="M1130.2 893.9l4.7 9.9 2-6.1-4.6-11.4z" fill="#9696f3"/>
<path d="M1000.9 920.8l5 .8 1.9-6.6-5-.8z" fill="#9b91e0"/>
<path d="M1154 921.4l4.7 4.4 2.2-2.6-4.7-4.7z" fill="#7263cd"/>
<path d="M1024.7 911.1l5.1-2.7 1.6-9-4.8 3.3z" fill="#8d87eb"/>
<path d="M1177.4 930.7l5.3 1.4 2.5-1.8-5.2-1.4z" fill="#3e27ab"/>
<path d="M1048.7 876l5-2.6 1.8-18.1-5.1 3.9z" fill="#86bef0"/>
<path d="M1072.6 842.9l4.7 7.5 2-20.1-4.7-9z" fill="#7bd3da"/>
<path d="M1096.5 857.1l4.7 10 2-16.7-4.7-10.9z" fill="#7ccce6"/>
<path d="M966.8 930.5l5.3.1 2.2-3.3-5.2.1z" fill="#5a47ba"/>
<path d="M1120.4 880.8l4.6 11.2 2-9.1-4.6-13.1z" fill="#97aafb"/>
<path d="M990.9 924.8l5.1.3 2-5.5-5.1-.2z" fill="#8e82d7"/>
<path d="M1144.2 913.7l4.7 6.4 2.1-3.6-4.7-7.2z" fill="#877cde"/>
<path d="M1014.9 917.8l5 .3 1.9-6.8-5.1-.8z" fill="#9c93e4"/>
<path d="M1167.7 928.8l5.1 2.1 2.4-1.9-5.1-2.3z" fill="#4732b3"/>
<path d="M1038.7 894.7l5.2-3.3 1.5-13.7-4.9 4.3z" fill="#95a0f9"/>
<path d="M1062.7 855.4l5 2.9 1.7-20.8-5-3.1z" fill="#7ed1e2"/>
<path d="M1086.6 851.4l4.7 11.3 2-16.4-4.7-12.6z" fill="#77cde2"/>
<path d="M956.8 931.9l5.3.3 2.5-2.7-5.3-.1z" fill="#3f29ac"/>
<path d="M1110.5 871l4.7 10.8 2-12.6-4.7-12.9z" fill="#8dbcf4"/>
<path d="M981 928.2l5.1.1 2.1-4.4-5.1 0z" fill="#7a6ccc"/>
<path d="M1134.3 903.2l4.7 8.8 2.1-5.5-4.7-9.5z" fill="#948fee"/>
<path d="M1005 921.4l5 .9 1.9-6.3-5-1.1z" fill="#9b91e0"/>
<path d="M1158 925.2l4.9 3.3 2.2-2.2-4.8-3.6z" fill="#6554c4"/>
<path d="M1028.8 909l5.2-2.8 1.6-10-4.9 3.5z" fill="#918dee"/>
<path d="M1181.5 931.9l5.3 1.1 2.6-1.8-5.3-1.2z" fill="#3e27aa"/>
<path d="M1052.8 873.7l5.1-1.1 1.7-18.5-5.1 1.8z" fill="#88c3ef"/>
<path d="M1076.7 849.8l4.7 8.9 2-18.3-4.7-10.7z" fill="#79d0e0"/>
<path d="M1100.6 866.5l4.7 9.4 2-15.3-4.7-10.8z" fill="#88c5ef"/>
<path d="M971 930.6l5.2.1 2.2-3.4-5.2 0z" fill="#614ebe"/>
<path d="M1124.5 891.4l4.6 10 2.1-7.6-4.7-11.6z" fill="#9b9df6"/>
<path d="M995.1 925.1l5 .4 2-5.4-5.1-.5z" fill="#9084d8"/>
<path d="M1148.3 919.3l4.7 5.1 2.1-3-4.7-5.7z" fill="#7f72d5"/>
<path d="M1018.9 918.3l5.2-1.3 1.9-7.4-5.2 1.7z" fill="#8e85e1"/>
<path d="M1171.7 930.6l5.2 1.6 2.5-1.8-5.2-1.8z" fill="#3e28ad"/>
<path d="M1042.9 891.9l5.1-2.6 1.8-15.1-5.1 3.9z" fill="#99a8fb"/>
<path d="M1066.9 857.7l4.9 5 1.7-20.1-4.7-5.5z" fill="#7fd0e4"/>
<path d="M1090.7 862.1l4.7 10.4 2-15.6-4.7-11.2z" fill="#81c7eb"/>
<path d="M961 932.1l5.3.3 2.4-2.8-5.3-.1z" fill="#4630af"/>
<path d="M1114.6 881.2l4.7 10.2 2-10.6-4.7-12.3z" fill="#9ab0fb"/>
<path d="M985.1 928.3l5.1.2 2.1-4.5-5.1-.1z" fill="#7e70ce"/>
<path d="M1138.4 910.9l4.7 7.2 2.1-4.5-4.7-8.2z" fill="#9088e4"/>
<path d="M1009.1 922.2l5 .9 1.9-6-5-1.3z" fill="#998fdf"/>
<path d="M1162.1 928.1l4.9 2.5 2.3-2-4.9-2.8z" fill="#5744bb"/>
<path d="M1033 906.7l5.1-2.6 1.6-10.9-4.9 3.4z" fill="#9694f1"/>
<path d="M1057 872.6l5 .8 1.7-18.6-5-.5z" fill="#8cc6ef"/>
<path d="M1080.9 858.1l4.6 9.7 2-16.5-4.6-11.5z" fill="#7ccce5"/>
<path d="M951.4 932.9l5 .5 2.1-2.1-5-.5z" fill="#3e27aa"/>
<path d="M1104.7 875.3l4.7 9.2 2-13.6-4.7-10.9z" fill="#94bcf7"/>
<path d="M975.1 930.7l5.2.2 2.2-3.6-5.2 0z" fill="#6655c0"/>
<path d="M1128.6 900.8l4.6 8.5 2.1-6.2-4.7-9.9z" fill="#9a97f1"/>
<path d="M999.2 925.4l5 .7 2-5.4-5-.7z" fill="#9085d8"/>
<path d="M1152.3 923.7l4.8 4 2.2-2.6-4.8-4.4z" fill="#7465cc"/>
<path d="M1023 917.3l5.2-1.8 1.9-8.2-5.2 2.7z" fill="#8d85e4"/>
<path d="M1175.8 931.9l5.2 1.4 2.6-1.9-5.2-1.4z" fill="#3e27ab"/>
<path d="M1047 889.6l5.1-1.6 1.8-15.7-5.1 2.6z" fill="#9bb0fb"/>
<path d="M1071 861.8l4.7 6.2 2-18.4-4.8-7.5z" fill="#81cde7"/>
<path d="M1094.9 871.9l4.6 9.2 2-14.8-4.7-10z" fill="#90c0f3"/>
<path d="M965.1 932.3l5.3.3 2.4-2.9-5.3-.1z" fill="#4b36b2"/>
<path d="M1118.7 890.8l4.7 9.4 2-8.9-4.6-11.2z" fill="#9fa4f8"/>
<path d="M989.3 928.4l5 .4 2.1-4.5-5.1-.3z" fill="#8173cf"/>
<path d="M1142.5 917.2l4.8 5.7 2.1-3.7-4.8-6.5z" fill="#897edc"/>
<path d="M1013.2 923l5.1.1 1.9-5.9-5.1-.3z" fill="#9288dc"/>
<path d="M1166.1 930.2l5 2 2.5-1.9-5.1-2.2z" fill="#4832b2"/>
<path d="M1037.1 904.6l5.1-2.2 1.8-12.2-5.1 3.3z" fill="#9a9af3"/>
<path d="M1061.1 873.1l5 2.5 1.7-18.3-5-2.8z" fill="#8fc6f0"/>
<path d="M1085 867.2l4.7 9.8 2-15-4.7-11.4z" fill="#88c4ef"/>
<path d="M955.1 933.4l5.4.3 2.5-2.4-5.3-.2z" fill="#3e27aa"/>
<path d="M1108.8 883.9l4.7 8.9 2-11.7-4.6-10.8z" fill="#9fb1fc"/>
<path d="M979.3 930.8l5.1.3 2.2-3.7-5.1-.1z" fill="#6b5ac3"/>
<path d="M1132.7 908.7l4.7 7.6 2-5.4-4.6-8.4z" fill="#9790ea"/>
<path d="M1003.3 925.9l5.1.8 1.9-5.2-5-1z" fill="#9085d8"/>
<path d="M1156.4 927.1l4.8 3.1 2.3-2.3-4.9-3.4z" fill="#6655c3"/>
<path d="M1027.2 915.8l5.1-1.8 1.9-8.9-5.1 2.7z" fill="#928ae7"/>
<path d="M1179.8 933l5.4 1.1 2.6-1.8-5.3-1.2z" fill="#3e27aa"/>
<path d="M1051.2 888.2l5-.5 1.8-16-5.1 1z" fill="#9eb5fb"/>
<path d="M1075.1 867.5l4.7 7.3 2-16.8-4.7-8.9z" fill="#88c8ed"/>
<path d="M1099 880.5l4.7 8.2 2-13.5-4.7-9.5z" fill="#9bb9fa"/>
<path d="M969.3 932.5l5.2.3 2.3-3-5.2-.1z" fill="#513db5"/>
<path d="M1122.8 899.6l4.7 8.4 2-7.3-4.6-10z" fill="#9e9df3"/>
<path d="M993.4 928.7l5.1.5 2-4.5-5.1-.5z" fill="#8375d0"/>
<path d="M1146.6 922.2l4.8 4.5 2.1-3.1-4.8-5.1z" fill="#8073d4"/>
<path d="M1017.3 923.2l5.1-.9 2-6.3-5.2 1.3z" fill="#897dda"/>
<path d="M1170.1 931.9l5.2 1.6 2.5-1.9-5.2-1.7z" fill="#3e28ac"/>
<path d="M1041.3 902.7l5-1.7 1.8-12.8-5.1 2.6z" fill="#9fa0f5"/>
<path d="M1065.2 875.1l5 4.1 1.7-17.7-4.9-5z" fill="#93c4f2"/>
<path d="M1089.1 876.4l4.7 9.1 2-13.7-4.7-10.4z" fill="#95bcf7"/>
<path d="M959.3 933.6l5.3.4 2.5-2.5-5.3-.2z" fill="#3e27ab"/>
<path d="M1113 892.2l4.7 8.5 2-10-4.7-10.2z" fill="#a2a7f8"/>
<path d="M983.4 931l5.2.3 2.1-3.7-5.1-.2z" fill="#6f5ec5"/>
<path d="M1136.8 915.4l4.7 6.1 2.1-4.4-4.8-7.2z" fill="#9288e1"/>
<path d="M1007.4 926.6l5.1.7 1.9-5.1-5-.9z" fill="#8e82d7"/>
<path d="M1160.4 929.7l5 2.4 2.3-2.1-5-2.6z" fill="#5643ba"/>
<path d="M1031.3 914.3l5.1-1.7 1.9-9.6-5.1 2.6z" fill="#9791eb"/>
<path d="M1055.3 887.7l5 .8 1.8-16-5.1-.7z" fill="#a0b8fb"/>
<path d="M1079.2 874.2l4.7 8 2-15.1-4.7-9.7z" fill="#92c1f4"/>
<path d="M1103.1 888.2l4.7 7.7 2-12.1-4.7-9.2z" fill="#a3b0fb"/>
<path d="M973.4 932.8l5.2.3 2.3-3.1-5.2-.2z" fill="#5642b8"/>
<path d="M1126.9 907.4l4.8 7.7 2-6.5-4.7-8.6z" fill="#9c97ed"/>
<path d="M997.5 929.1l5.1.5 2-4.4-5.1-.6z" fill="#8376d0"/>
<path d="M1150.7 926.1l4.8 3.5 2.2-2.6-4.9-4z" fill="#7465cb"/>
<path d="M1021.4 922.6l5.1-1.2 2-7-5.2 1.9z" fill="#8b80dd"/>
<path d="M1174.1 933.2l5.3 1.2 2.6-1.8-5.3-1.3z" fill="#3e27ab"/>
<path d="M1045.4 901.2l5.1-.9 1.7-13.3-5 1.6z" fill="#a3a5f7"/>
<path d="M1069.3 878.5l5 5.4 1.7-16.7-4.7-6.2z" fill="#98c1f6"/>
<path d="M1093.2 884.9l4.7 8.2 2-12.8-4.7-9.1z" fill="#a0b3fc"/>
<path d="M963.4 933.9l5.3.4 2.5-2.6-5.3-.2z" fill="#3e27ab"/>
<path d="M1117.1 900.1l4.7 7.8 2-8.4-4.7-9.4z" fill="#a2a1f4"/>
<path d="M987.6 931.3l5.1.4 2.1-3.8-5.1-.3z" fill="#7161c6"/>
<path d="M1140.9 920.8l4.7 4.9 2.1-3.6-4.7-5.8z" fill="#8a7fda"/>
<path d="M1011.5 927.2l5.1.1 2-5.1-5.1-.1z" fill="#877ad4"/>
<path d="M1164.4 931.7l5.1 1.8 2.4-1.9-5.1-2z" fill="#4731b1"/>
<path d="M1035.5 912.9l5.1-1.4 1.8-10.2-5.1 2.2z" fill="#9b96ee"/>
<path d="M1059.4 888.3l5 2.1 1.8-15.7-5-2.5z" fill="#a3b8fb"/>
<path d="M1083.3 881.6l4.8 8.1 1.9-13.5-4.7-9.7z" fill="#9cb9fa"/>
<path d="M1107.2 895.3l4.7 7.3 2-10.5-4.7-8.9z" fill="#a6a8f8"/>
<path d="M977.6 933l5.2.3 2.2-3.1-5.2-.2z" fill="#5a47ba"/>
<path d="M1131.1 914.1l4.7 6.4 2-5.3-4.8-7.6z" fill="#9890e6"/>
<path d="M1001.6 929.5l5.1.7 2-4.4-5-.7z" fill="#8375d0"/>
<path d="M1154.7 929.1l4.9 2.7 2.3-2.3-4.9-3z" fill="#6554c2"/>
<path d="M1025.5 921.6l5.2-1.1 1.9-7.6-5.2 1.9z" fill="#9086e0"/>
<path d="M1049.5 900.4l5.1-.1 1.7-13.5-5 .4z" fill="#a6a9f7"/>
<path d="M1073.5 883l4.7 5.9 1.9-14.9-4.7-7.3z" fill="#9ebcfa"/>
<path d="M1097.3 892.5l4.8 7.2 1.9-11.7-4.7-8.3z" fill="#a6adf9"/>
<path d="M967.6 934.2l5.3.4 2.4-2.6-5.3-.3z" fill="#422cad"/>
<path d="M1121.2 907.3l4.8 7.3 1.9-7.3-4.7-8.4z" fill="#a19cf0"/>
<path d="M991.7 931.6l5.1.5 2.1-3.8-5.1-.5z" fill="#7363c7"/>
<path d="M1145 925.1l4.8 3.9 2.1-3.1-4.8-4.5z" fill="#8072d2"/>
<path d="M1015.6 927.3l5.2-.5 2-5.4-5.2.9z" fill="#8174d3"/>
<path d="M1168.5 933.2l5.1 1.5 2.6-1.9-5.2-1.6z" fill="#3e28ac"/>
<path d="M1039.6 911.7l5.1-.9 1.8-10.8-5.1 1.7z" fill="#a09bf0"/>
<path d="M1063.6 890l4.9 3.3 1.8-15.2-5-4.1z" fill="#a6b6fc"/>
<path d="M1087.5 889.1l4.7 7.8 1.9-12.1-4.6-9.2z" fill="#a3affb"/>
<path d="M1111.3 902.1l4.7 6.9 2-9-4.7-8.5z" fill="#a5a4f4"/>
<path d="M981.7 933.3l5.2.4 2.2-3.2-5.1-.3z" fill="#5d4bbb"/>
<path d="M1135.2 919.7l4.7 5.2 2.1-4.3-4.8-6.2z" fill="#9288de"/>
<path d="M1005.8 930.1l5 .5 2.1-4.2-5.1-.7z" fill="#8173cf"/>
<path d="M1158.8 931.4l5 2.1 2.3-2.1-5-2.3z" fill="#5441b8"/>
<path d="M1029.7 920.7l5.1-1 1.9-8.1-5.1 1.7z" fill="#948ce3"/>
<path d="M1053.7 900.3l5 .9 1.7-13.6-5-.8z" fill="#a9abf8"/>
<path d="M1077.6 888.4l4.7 6.4 2-13.4-4.7-7.9z" fill="#a4b4fc"/>
<path d="M1101.5 899.2l4.7 6.5 1.9-10.6-4.7-7.7z" fill="#a7a8f6"/>
<path d="M971.7 934.5l5.3.4 2.4-2.7-5.3-.3z" fill="#4630af"/>
<path d="M1125.3 913.6l4.8 6.4 1.9-6-4.7-7.8z" fill="#9d96e8"/>
<path d="M995.8 932l5.1.5 2.1-3.7-5.1-.6z" fill="#7464c7"/>
<path d="M1149 928.5l4.9 3 2.2-2.6-4.9-3.5z" fill="#7263c9"/>
<path d="M1019.7 926.9l5.2-.6 2-5.9-5.2 1.2z" fill="#8579d6"/>
<path d="M1172.5 934.4l5.3 1.2 2.6-1.9-5.3-1.2z" fill="#3e27ab"/>
<path d="M1043.8 910.9l5-.4 1.8-11.1-5.1.9z" fill="#a3a0f1"/>
<path d="M1067.7 892.7l4.9 4.4 1.8-14.4-4.9-5.4z" fill="#a8b3fb"/>
<path d="M1091.6 896.3l4.7 7 2-10.9-4.7-8.2z" fill="#a7a9f8"/>
<path d="M961.7 935.3l5.4.5 2.5-2.3-5.3-.4z" fill="#3e27aa"/>
<path d="M1115.4 908.4l4.9 6.7 1.9-8-4.8-7.7z" fill="#a49ff0"/>
<path d="M985.9 933.6l5.1.4 2.2-3.2-5.1-.4z" fill="#604ebd"/>
<path d="M1139.2 924.2l4.8 4.2 2.1-3.5-4.8-5z" fill="#897dd7"/>
<path d="M1009.8 930.6l5.2.1 2-4.3-5.1-.1z" fill="#7a6bcc"/>
<path d="M1162.8 933.2l5.1 1.7 2.4-2-5.1-1.9z" fill="#452fb0"/>
<path d="M1033.8 919.8l5.1-.8 1.9-8.5-5.1 1.4z" fill="#9991e6"/>
<path d="M1057.8 900.9l5 1.9 1.7-13.3-4.9-2.2z" fill="#aaacf8"/>
<path d="M1081.7 894.3l4.7 6.5 2-11.9-4.7-8z" fill="#a7adf9"/>
<path d="M1105.6 905.1l4.8 6.5 1.9-9.7-4.8-7.3z" fill="#a7a5f3"/>
<path d="M975.9 934.8l5.2.4 2.4-2.7-5.3-.4z" fill="#4a34b1"/>
<path d="M1129.4 919.1l4.8 5.3 2-4.9-4.8-6.5z" fill="#988fe2"/>
<path d="M999.9 932.4l5.1.6 2.2-3.7-5.1-.6z" fill="#7363c7"/>
<path d="M1153.1 931.1l4.9 2.4 2.3-2.3-5-2.8z" fill="#6250c0"/>
<path d="M1023.9 926.4l5.1-.6 2-6.3-5.2 1.1z" fill="#8a7fd9"/>
<path d="M1047.9 910.5l5 .2 1.8-11.3-5 .1z" fill="#a6a3f2"/>
<path d="M1071.8 896.3l4.9 5.1 1.8-13.2-4.7-6z" fill="#a9aff9"/>
<path d="M1095.7 902.8l4.8 6.6 1.9-10.4-4.7-7.2z" fill="#a7a7f4"/>
<path d="M965.8 935.7l5.4.4 2.5-2.4-5.3-.3z" fill="#3e27aa"/>
<path d="M1119.6 914.2l4.8 5.9 1.9-6.6-4.8-7.4z" fill="#a19aea"/>
<path d="M990 933.9l5.1.5 2.3-3.2-5.2-.5z" fill="#624fbd"/>
<path d="M1143.3 927.9l4.8 3.3 2.2-3-4.9-3.9z" fill="#7d6fcf"/>
<path d="M1013.9 930.7l5.2-.2 2.1-4.6-5.2.5z" fill="#7869cc"/>
<path d="M1166.8 934.6l5.2 1.3 2.5-1.9-5.2-1.5z" fill="#3e27ab"/>
<path d="M1038 919.1l5-.4 1.9-8.9-5.1 1z" fill="#9d96e8"/>
<path d="M1061.9 902.4l5 2.7 1.8-12.8-5-3.3z" fill="#abacf7"/>
<path d="M1085.8 900.3l4.8 6.3 1.9-10.5-4.7-7.7z" fill="#a8a8f6"/>
<path d="M1109.7 910.6l4.8 5.9 1.9-8.3-4.7-6.9z" fill="#a6a1f0"/>
<path d="M980 935.1l5.2.5 2.4-2.8-5.2-.4z" fill="#4d38b2"/>
<path d="M1133.5 923.7l4.8 4.4 2-4.1-4.8-5.3z" fill="#9085db"/>
<path d="M1004.1 932.9l5.1.5 2.1-3.6-5.1-.6z" fill="#7060c5"/>
<path d="M1157.1 933.1l5 1.9 2.4-2.1-5.1-2.2z" fill="#513db6"/>
<path d="M1028 925.9l5.1-.6 2-6.6-5.1 1z" fill="#8f84dc"/>
<path d="M1052 910.6l5 .9 1.8-11.2-5-.9z" fill="#a8a5f2"/>
<path d="M1075.9 900.5l4.9 5.5 1.8-12-4.7-6.4z" fill="#aaabf7"/>
<path d="M1099.8 908.5l4.9 5.8 1.8-9.4-4.7-6.5z" fill="#a8a4f2"/>
<path d="M970 936l5.3.5 2.5-2.4-5.3-.4z" fill="#3e27ab"/>
<path d="M1123.7 919.3l4.8 5.1 1.9-5.5-4.8-6.3z" fill="#9c93e4"/>
<path d="M994.1 934.3l5.2.5 2.2-3.1-5.2-.6z" fill="#6250be"/>
<path d="M1147.4 930.7l4.9 2.7 2.2-2.6-4.9-3.1z" fill="#6e5ec6"/>
<path d="M1018.1 930.5l5.1-.2 2.1-5-5.2.7z" fill="#7d6ecf"/>
<path d="M1170.8 935.7l5.3 1 2.7-1.8-5.4-1.2z" fill="#3e27aa"/>
<path d="M1042.1 918.7l5.1-.1 1.8-9.1-5.1.5z" fill="#a09aea"/>
<path d="M1066.1 904.6l4.9 3.4 1.8-12-5-4.3z" fill="#ababf6"/>
<path d="M1089.9 906.1l4.9 6.3 1.8-9.8-4.7-7.1z" fill="#a7a5f3"/>
<path d="M1113.8 915.6l4.8 5.4 1.9-7-4.8-6.8z" fill="#a39cea"/>
<path d="M984.1 935.5l5.3.4 2.3-2.7-5.2-.5z" fill="#4f3ab3"/>
<path d="M1137.6 927.5l4.8 3.5 2.1-3.4-4.8-4.2z" fill="#8679d3"/>
<path d="M1008.1 933.3l5.2.2 2.1-3.7-5.1-.1z" fill="#6b5ac3"/>
<path d="M1161.1 934.7l5.2 1.5 2.4-2-5.1-1.7z" fill="#422bae"/>
<path d="M1032.2 925.4l5.1-.3 1.9-7-5.1.8z" fill="#948ade"/>
<path d="M1056.2 911.2l4.9 1.6 1.8-11-5-1.8z" fill="#aaa7f2"/>
<path d="M1080.1 905.1l4.8 5.6 1.9-10.6-4.8-6.6z" fill="#a9a8f4"/>
<path d="M1103.9 913.4l4.9 5.2 1.9-8.2-4.9-6.4z" fill="#a6a1ee"/>
<path d="M974.1 936.4l5.4.4 2.4-2.4-5.3-.4z" fill="#3e27ab"/>
<path d="M1127.8 923.7l4.8 4.3 2-4.5-4.9-5.4z" fill="#958bdd"/>
<path d="M998.2 934.7l5.2.6 2.2-3.1-5.1-.6z" fill="#624fbd"/>
<path d="M1151.4 933l5 2.1 2.3-2.3-5-2.4z" fill="#5e4bbd"/>
<path d="M1022.2 930.3l5.1-.3 2.1-5.2-5.2.6z" fill="#8275d2"/>
<path d="M1046.2 918.6l5.1.4 1.8-9.2-5-.2z" fill="#a39deb"/>
<path d="M1070.2 907.4l4.9 3.9 1.8-11.1-4.9-5z" fill="#aba9f4"/>
<path d="M1094.1 911.4l4.8 5.6 1.9-8.8-4.9-6.6z" fill="#a7a3f0"/>
<path d="M1117.9 920.2l4.8 4.7 2-5.8-4.9-6z" fill="#9f97e5"/>
<path d="M988.3 935.8l5.2.5 2.3-2.7-5.2-.5z" fill="#503cb4"/>
<path d="M1141.7 930.5l4.8 2.8 2.2-2.8-4.9-3.4z" fill="#796acb"/>
<path d="M1012.3 933.5l5.1 0 2.2-3.9-5.2.2z" fill="#6c5bc4"/>
<path d="M1165.2 935.9l5.2 1.2 2.5-1.9-5.2-1.3z" fill="#3e27ab"/>
<path d="M1036.3 925.1l5.1-.1 1.9-7.3-5.1.5z" fill="#988ee0"/>
<path d="M1060.3 912.5l5 2.1 1.7-10.5-4.9-2.7z" fill="#aaa7f2"/>
<path d="M1084.2 909.8l4.8 5.5 1.9-9.4-4.8-6.4z" fill="#a8a5f2"/>
<path d="M1108 917.8l4.9 4.7 1.9-7.1-4.9-5.9z" fill="#a49de9"/>
<path d="M978.3 936.7l5.3.5 2.4-2.5-5.2-.4z" fill="#3e27ab"/>
<path d="M1131.8 927.4l4.9 3.6 2-3.8-4.8-4.4z" fill="#8c80d7"/>
<path d="M1002.3 935.2l5.2.5 2.2-3.2-5.1-.5z" fill="#5f4cbc"/>
<path d="M1155.4 934.8l5.1 1.6 2.4-2.1-5.1-1.9z" fill="#4d38b4"/>
<path d="M1026.4 930.1l5.1-.2 2-5.5-5.2.5z" fill="#877ad5"/>
<path d="M1050.4 918.9l5 .8 1.8-9.1-5-.9z" fill="#a59feb"/>
<path d="M1074.3 910.7l4.9 4.2 1.8-10.1-4.9-5.4z" fill="#aaa7f2"/>
<path d="M1098.2 916.2l4.8 4.8 1.9-7.8-4.9-5.9z" fill="#a6a0eb"/>
<path d="M1122 924.3l4.8 4.1 2-4.9-4.8-5.2z" fill="#998fdf"/>
<path d="M992.4 936.2l5.2.6 2.3-2.8-5.2-.5z" fill="#513cb4"/>
<path d="M1145.7 932.9l4.9 2.3 2.3-2.5-5-2.7z" fill="#6958c2"/>
<path d="M1016.4 933.5l5.2 0 2.1-4.2-5.2.3z" fill="#7161c7"/>
<path d="M1169.2 936.9l5.3 1 2.6-1.9-5.3-1.1z" fill="#3e27aa"/>
<path d="M1040.5 925l5 .1 1.9-7.4-5.1.1z" fill="#9b92e2"/>
<path d="M1064.4 914.2l5 2.7 1.8-9.9-5-3.4z" fill="#aaa6f0"/>
<path d="M1088.3 914.4l4.9 5.1 1.8-8.3-4.8-6.3z" fill="#a7a1ee"/>
<path d="M1112.1 921.8l4.9 4.2 1.9-6-4.8-5.4z" fill="#a098e4"/>
<path d="M982.4 937.1l5.3.5 2.5-2.5-5.3-.5z" fill="#4029ac"/>
<path d="M1135.9 930.5l4.9 2.9 2.1-3.2-4.9-3.5z" fill="#8173cf"/>
<path d="M1006.4 935.6l5.2.3 2.3-3.3-5.2-.1z" fill="#5c49bb"/>
<path d="M1159.5 936.1l5.1 1.4 2.5-2-5.2-1.5z" fill="#3e28ac"/>
<path d="M1030.5 929.9l5.1 0 2-5.8-5.1.4z" fill="#8c80d7"/>
<path d="M1054.5 919.5l5 1.3 1.8-8.9-5-1.5z" fill="#a6a0eb"/>
<path d="M1078.4 914.2l4.9 4.3 1.8-8.9-4.8-5.6z" fill="#a9a4ef"/>
<path d="M1102.3 920.3l4.8 4.1 1.9-6.9-4.8-5.1z" fill="#a39ce7"/>
<path d="M1126.1 927.8l4.8 3.4 2.1-4-4.9-4.4z" fill="#9185d9"/>
<path d="M996.5 936.7l5.2.5 2.4-2.7-5.3-.6z" fill="#503cb4"/>
<path d="M1149.7 934.8l5.1 1.8 2.3-2.2-5.1-2.1z" fill="#5844b9"/>
<path d="M1020.5 933.5l5.2 0 2.1-4.4-5.2.3z" fill="#7767ca"/>
<path d="M1044.6 925.1l5 .4 1.9-7.4-5.1-.4z" fill="#9d95e3"/>
<path d="M1068.5 916.4l5 3.1 1.8-9.2-4.9-3.9z" fill="#a9a4ee"/>
<path d="M1092.4 918.7l4.9 4.5 1.8-7.3-4.8-5.6z" fill="#a59ee9"/>
<path d="M1116.2 925.4l4.9 3.7 2-5.1-4.9-4.8z" fill="#9b91df"/>
<path d="M986.5 937.5l5.3.5 2.5-2.5-5.3-.5z" fill="#412aac"/>
<path d="M1140 933l4.9 2.4 2.2-2.8-5-2.8z" fill="#7262c7"/>
<path d="M1010.6 935.8l5.2.2 2.2-3.4-5.2 0z" fill="#5e4cbc"/>
<path d="M1163.5 937.2l5.2 1.1 2.6-1.9-5.3-1.2z" fill="#3e27ab"/>
<path d="M1034.7 929.9l5 .1 2-5.9-5.1.1z" fill="#8f84d9"/>
<path d="M1058.6 920.6l5 1.7 1.8-8.6-4.9-2.1z" fill="#a7a0ea"/>
<path d="M1082.5 917.8l4.9 4.3 1.9-7.9-4.9-5.5z" fill="#a7a1eb"/>
<path d="M1106.4 923.8l4.9 3.7 1.9-6-4.9-4.7z" fill="#a097e3"/>
<path d="M1130.2 930.7l4.8 2.9 2.1-3.4-4.9-3.6z" fill="#8679d2"/>
<path d="M1000.6 937.1l5.2.5 2.4-2.8-5.2-.5z" fill="#4e39b3"/>
<path d="M1153.8 936.3l5.1 1.5 2.4-2.1-5.1-1.7z" fill="#4732b0"/>
<path d="M1024.7 933.5l5.1 0 2.1-4.5-5.2.2z" fill="#7c6dcd"/>
<path d="M1048.7 925.4l5 .8 1.9-7.4-5-.8z" fill="#9f96e3"/>
<path d="M1072.6 918.9l5 3.3 1.8-8.3-4.9-4.3z" fill="#a8a2eb"/>
<path d="M1096.5 922.5l4.9 4 1.9-6.5-4.9-4.9z" fill="#a29ae5"/>
<path d="M1120.3 928.6l4.9 3.2 2-4.3-4.9-4.1z" fill="#9388da"/>
<path d="M990.7 937.9l5.2.5 2.5-2.5-5.3-.5z" fill="#412bac"/>
<path d="M1144 935l5 1.9 2.3-2.4-5-2.3z" fill="#614fbe"/>
<path d="M1014.7 936l5.2.1 2.2-3.5-5.2 0z" fill="#6352bf"/>
<path d="M1038.8 929.9l5 .3 2-6-5.1-.1z" fill="#9287da"/>
<path d="M1062.8 922l4.9 2 1.8-8-4.9-2.7z" fill="#a69fe9"/>
<path d="M1086.6 921.4l4.9 4 1.9-7-4.9-5z" fill="#a49ce7"/>
<path d="M1110.5 927l4.9 3.3 1.9-5.2-4.9-4.2z" fill="#9b91de"/>
<path d="M1134.3 933.2l4.9 2.4 2.1-2.9-4.9-3z" fill="#796aca"/>
<path d="M1004.7 937.5l5.3.3 2.3-2.8-5.2-.3z" fill="#4d38b3"/>
<path d="M1157.8 937.5l5.2 1.2 2.5-1.9-5.2-1.4z" fill="#3e27ab"/>
<path d="M1028.8 933.5l5.1.2 2.1-4.7-5.1 0z" fill="#8072cf"/>
<path d="M1052.8 926l5 1.1 1.9-7.2-5-1.3z" fill="#a097e3"/>
<path d="M1076.8 921.7l4.9 3.3 1.8-7.5-4.9-4.3z" fill="#a69fe8"/>
<path d="M1100.6 925.9l4.9 3.4 1.9-5.8-4.9-4.2z" fill="#9e95e1"/>
<path d="M1124.4 931.3l4.9 2.8 2.1-3.7-4.9-3.5z" fill="#8a7dd3"/>
<path d="M994.8 938.3l5.3.5 2.4-2.4-5.3-.6z" fill="#412aac"/>
<path d="M1148.1 936.6l5 1.5 2.4-2.1-5.1-1.9z" fill="#513cb5"/>
<path d="M1018.9 936.1l5.1.2 2.2-3.7-5.2 0z" fill="#6958c2"/>
<path d="M1042.9 930.1l5.1.6 1.9-6.1-5.1-.4z" fill="#958adb"/>
<path d="M1066.9 923.7l4.9 2.3 1.9-7.5-5-3z" fill="#a59de7"/>
<path d="M1090.8 924.8l4.8 3.5 1.9-6.1-4.8-4.5z" fill="#a098e3"/>
<path d="M1114.6 929.8l4.9 2.9 2-4.4-4.9-3.8z" fill="#9489d9"/>
<path d="M1138.3 935.3l5 1.9 2.2-2.6-5-2.4z" fill="#6958c2"/>
<path d="M1008.9 937.8l5.2.3 2.3-3-5.2-.2z" fill="#503bb5"/>
<path d="M1161.8 938.5l5.3 1 2.6-1.9-5.3-1.1z" fill="#3e27aa"/>
<path d="M1033 933.6l5.1.3 2-4.8-5.1-.1z" fill="#8476d1"/>
<path d="M1057 926.9l5 1.4 1.8-6.9-5-1.7z" fill="#a097e2"/>
<path d="M1080.9 924.4l4.9 3.3 1.9-6.6-4.9-4.2z" fill="#a39ae5"/>
<path d="M1104.7 928.7l4.9 3 2-5.1-4.9-3.7z" fill="#998fdd"/>
<path d="M1128.5 933.7l4.9 2.3 2.1-3.1-4.9-3z" fill="#7e6fcc"/>
<path d="M998.9 938.7l5.3.5 2.4-2.5-5.2-.4z" fill="#3f28ac"/>
<path d="M1152.1 937.9l5.1 1.3 2.5-2.1-5.2-1.5z" fill="#412bad"/>
<path d="M1023 936.2l5.1.3 2.2-3.8-5.2-.1z" fill="#6e5dc4"/>
<path d="M1047.1 930.5l5 .8 1.9-6-5-.8z" fill="#968bdc"/>
<path d="M1071 925.6l4.9 2.5 1.9-6.8-4.9-3.3z" fill="#a39be4"/>
<path d="M1094.9 927.8l4.8 3.1 2-5.4-4.9-3.9z" fill="#9c92df"/>
<path d="M1118.7 932.3l4.9 2.5 2-3.8-4.9-3.3z" fill="#8b7fd4"/>
<path d="M1142.4 936.9l5 1.6 2.3-2.3-5.1-1.9z" fill="#5945b9"/>
<path d="M1013 938l5.2.3 2.3-3.1-5.2-.1z" fill="#5541b7"/>
<path d="M1037.1 933.8l5.1.4 2-4.9-5.1-.3z" fill="#877ad2"/>
<path d="M1061.1 928.1l5 1.6 1.8-6.5-4.9-2.1z" fill="#9f96e1"/>
<path d="M1085 927.2l4.9 3 1.9-5.8-4.9-3.9z" fill="#9f95e1"/>
<path d="M1108.8 931.2l4.9 2.6 2-4.4-4.9-3.3z" fill="#9387d8"/>
<path d="M1132.6 935.7l4.9 1.9 2.2-2.7-5-2.4z" fill="#6f5fc4"/>
<path d="M1003 939.1l5.3.4 2.5-2.5-5.3-.4z" fill="#3f28ac"/>
<path d="M1156.1 938.9l5.3 1.1 2.5-2-5.2-1.2z" fill="#3e27ab"/>
<path d="M1027.1 936.4l5.2.3 2.1-3.9-5.1-.2z" fill="#7262c6"/>
<path d="M1051.2 931.1l5 1 1.9-5.8-5-1.1z" fill="#978cdb"/>
<path d="M1075.1 927.7l4.9 2.5 1.9-6.1-4.9-3.4z" fill="#a097e1"/>
<path d="M1099 930.5l4.9 2.7 1.9-4.8-4.9-3.4z" fill="#968cdb"/>
<path d="M1122.8 934.4l4.9 2.2 2.1-3.3-5-2.8z" fill="#8072cd"/>
<path d="M1146.4 938.2l5.1 1.4 2.4-2.2-5.1-1.5z" fill="#4933b1"/>
<path d="M1017.1 938.2l5.3.3 2.2-3.1-5.2-.2z" fill="#5946b9"/>
<path d="M1041.2 934.1l5.1.6 2-4.9-5.1-.5z" fill="#897cd3"/>
<path d="M1065.2 929.4l5 1.8 1.9-6.1-5-2.3z" fill="#9e94df"/>
<path d="M1089.1 929.8l4.9 2.8 1.9-5.2-4.9-3.5z" fill="#9a8fdd"/>
<path d="M1112.9 933.4l4.9 2.3 2.1-3.8-5-3z" fill="#8a7ed3"/>
<path d="M1136.6 937.3l5 1.7 2.3-2.5-5-2z" fill="#5f4dbc"/>
<path d="M1007.1 939.4l5.3.4 2.5-2.6-5.3-.3z" fill="#422cad"/>
<path d="M1031.3 936.6l5.1.4 2.1-4-5.1-.2z" fill="#7566c8"/>
<path d="M1055.3 931.9l5 1.1 1.9-5.5-5-1.4z" fill="#968cdb"/>
<path d="M1079.2 929.8l4.9 2.5 2-5.5-5-3.3z" fill="#9c92de"/>
<path d="M1103.1 932.8l4.9 2.3 2-4.2-5-3z" fill="#9084d6"/>
<path d="M1126.8 936.3l5 1.9 2.2-2.9-5-2.4z" fill="#7262c6"/>
<path d="M1150.4 939.3l5.2 1.2 2.5-2.1-5.2-1.3z" fill="#3e27ab"/>
<path d="M1021.3 938.5l5.2.3 2.2-3.2-5.2-.2z" fill="#5e4bbb"/>
<path d="M1045.4 934.6l5 .7 2-4.9-5-.7z" fill="#8a7dd3"/>
<path d="M1069.3 930.9l5 1.9 1.9-5.6-5-2.5z" fill="#9b90dd"/>
<path d="M1093.2 932.1l4.9 2.5 2-4.5-4.9-3.2z" fill="#9388d8"/>
<path d="M1117 935.4l4.9 2 2.1-3.4-4.9-2.5z" fill="#8072cd"/>
<path d="M1140.7 938.7l5 1.3 2.4-2.2-5.1-1.6z" fill="#4f3bb4"/>
<path d="M1011.3 939.7l5.3.4 2.4-2.7-5.3-.3z" fill="#4630af"/>
<path d="M1035.4 936.9l5.1.5 2.1-4-5.1-.4z" fill="#7869c9"/>
<path d="M1059.4 932.8l5 1.3 1.9-5.3-4.9-1.6z" fill="#958ad9"/>
<path d="M1083.3 931.9l4.9 2.3 2-4.8-4.9-3.1z" fill="#978cda"/>
<path d="M1107.1 934.8l5 2 2-3.8-4.9-2.6z" fill="#887ad1"/>
<path d="M1130.9 937.9l5 1.6 2.2-2.6-5-2z" fill="#6452be"/>
<path d="M1001.3 940.5l5.4.5 2.5-2.3-5.3-.4z" fill="#3e27aa"/>
<path d="M1154.4 940.2l5.3 1 2.6-1.9-5.3-1.1z" fill="#3e27aa"/>
<path d="M1025.4 938.7l5.2.4 2.2-3.3-5.1-.3z" fill="#614fbd"/>
<path d="M1049.5 935.1l5 .8 2-4.7-5-.9z" fill="#8a7dd3"/>
<path d="M1073.4 932.5l5 1.9 1.9-5.1-4.9-2.5z" fill="#978cda"/>
<path d="M1097.3 934.2l4.9 2.2 2-4-4.9-2.8z" fill="#8c7fd4"/>
<path d="M1121.1 937.1l4.9 1.7 2.2-2.9-5-2.3z" fill="#7464c6"/>
<path d="M1144.7 939.8l5.2 1.1 2.4-2-5.2-1.4z" fill="#412aac"/>
<path d="M1015.4 940l5.3.4 2.4-2.7-5.3-.3z" fill="#4a35b1"/>
<path d="M1039.5 937.3l5.1.5 2.1-4-5.1-.5z" fill="#7a6bca"/>
<path d="M1063.5 933.9l5 1.4 2-4.9-5-1.9z" fill="#9387d8"/>
<path d="M1087.4 933.8l4.9 2.2 2-4.3-4.9-2.8z" fill="#9084d6"/>
<path d="M1111.2 936.5l5 1.8 2.1-3.3-5-2.4z" fill="#7e6fcc"/>
<path d="M1134.9 939.2l5.1 1.4 2.3-2.4-5.1-1.6z" fill="#5440b6"/>
<path d="M1005.4 940.9l5.4.4 2.5-2.3-5.3-.4z" fill="#3e27aa"/>
<path d="M1029.6 939l5.1.5 2.2-3.4-5.1-.3z" fill="#6453bf"/>
<path d="M1053.6 935.8l5 .9 2-4.5-5-1.2z" fill="#897cd2"/>
<path d="M1077.5 934.1l5 1.9 2-4.6-5-2.5z" fill="#9286d7"/>
<path d="M1101.4 936.1l4.9 1.8 2.1-3.6-5-2.4z" fill="#8376cf"/>
<path d="M1125.1 938.5l5 1.6 2.3-2.7-5.1-1.9z" fill="#6654bf"/>
<path d="M1148.7 940.7l5.3 1 2.5-2-5.2-1.1z" fill="#3e27aa"/>
<path d="M1019.6 940.3l5.2.5 2.4-2.8-5.3-.4z" fill="#4d39b3"/>
<path d="M1043.7 937.7l5 .7 2.1-4-5-.7z" fill="#7a6cca"/>
<path d="M1067.6 935l5 1.5 2-4.5-5-2z" fill="#8f83d5"/>
<path d="M1091.5 935.7l4.9 1.9 2.1-3.8-5-2.5z" fill="#887bd1"/>
<path d="M1115.3 938l5 1.6 2.1-3-5-2z" fill="#7262c6"/>
<path d="M1139 940.3l5.1 1.2 2.4-2.2-5.1-1.4z" fill="#4630af"/>
<path d="M1009.6 941.2l5.3.5 2.5-2.4-5.3-.4z" fill="#3e27ab"/>
<path d="M1033.7 939.4l5.1.5 2.2-3.4-5.1-.4z" fill="#6755c0"/>
<path d="M1057.7 936.6l5 1 2.1-4.3-5.1-1.3z" fill="#877ad1"/>
<path d="M1081.6 935.7l5 1.8 2-4.1-4.9-2.4z" fill="#8b7ed3"/>
<path d="M1105.5 937.6l4.9 1.7 2.1-3.3-4.9-2.1z" fill="#7a6bc9"/>
<path d="M1129.2 939.8l5.1 1.3 2.3-2.4-5.1-1.6z" fill="#5743b8"/>
<path d="M1023.7 940.7l5.2.4 2.4-2.8-5.2-.4z" fill="#513cb4"/>
<path d="M1047.8 938.2l5.1.8 2-3.9-5-.8z" fill="#7a6bca"/>
<path d="M1071.8 936.3l4.9 1.5 2-4.2-4.9-2z" fill="#8a7dd2"/>
<path d="M1095.6 937.3l5 1.8 2-3.5-4.9-2.2z" fill="#7f70cc"/>
<path d="M1119.4 939.3l5 1.5 2.2-2.7-5-1.8z" fill="#6554bf"/>
<path d="M1143 941.3l5.2 1 2.6-2.1-5.3-1.1z" fill="#3e27ab"/>
<path d="M1013.7 941.6l5.3.4 2.5-2.4-5.3-.4z" fill="#3e27ab"/>
<path d="M1037.8 939.8l5.2.5 2.2-3.3-5.2-.6z" fill="#6857c0"/>
<path d="M1061.8 937.4l5.1 1.1 2-4-5-1.5z" fill="#8477cf"/>
<path d="M1085.7 937.2l5 1.7 2.1-3.7-5-2.2z" fill="#8375ce"/>
<path d="M1109.5 939l5 1.5 2.2-3-5-1.8z" fill="#6f5ec4"/>
<path d="M1133.2 940.9l5.2 1.1 2.4-2.2-5.2-1.4z" fill="#4933b0"/>
<path d="M1027.9 941l5.2.5 2.3-2.9-5.2-.4z" fill="#533fb6"/>
<path d="M1051.9 938.8l5.1.8 2.1-3.7-5.1-1z" fill="#796ac9"/>
<path d="M1075.9 937.5l4.9 1.5 2.1-3.8-5-2z" fill="#8476cf"/>
<path d="M1099.7 938.8l5 1.5 2.1-3.1-5-1.9z" fill="#7565c7"/>
<path d="M1123.4 940.5l5.1 1.3 2.3-2.5-5.1-1.5z" fill="#5844b8"/>
<path d="M1017.9 941.9l5.3.5 2.4-2.5-5.3-.4z" fill="#3f28ab"/>
<path d="M1042 940.2l5.1.6 2.2-3.3-5.2-.6z" fill="#6957c1"/>
<path d="M1066 938.3l5 1.2 2-3.8-5-1.5z" fill="#8072cd"/>
<path d="M1089.8 938.6l5 1.6 2.1-3.3-5-2z" fill="#7a6bc9"/>
<path d="M1113.6 940.2l5 1.3 2.3-2.6-5.1-1.7z" fill="#6351bd"/>
<path d="M1137.3 941.8l5.2 1 2.5-2.1-5.3-1.1z" fill="#3e27ab"/>
<path d="M1032 941.4l5.2.5 2.3-2.9-5.2-.5z" fill="#5541b6"/>
<path d="M1056 939.5l5.1.9 2.1-3.6-5.1-1.1z" fill="#7767c8"/>
<path d="M1079.9 938.7l5 1.5 2.1-3.5-5-1.9z" fill="#7c6ecb"/>
<path d="M1103.8 940l5 1.4 2.2-2.9-5.1-1.6z" fill="#6a59c1"/>
<path d="M1127.5 941.5l5.1 1.1 2.4-2.2-5.2-1.4z" fill="#4a35b1"/>
<path d="M1022 942.3l5.3.5 2.4-2.5-5.3-.5z" fill="#412bac"/>
<path d="M1046.1 940.7l5.1.7 2.2-3.3-5.1-.7z" fill="#6856c0"/>
<path d="M1070.1 939.3l5 1.2 2.1-3.5-5.1-1.6z" fill="#7a6bca"/>
<path d="M1093.9 939.9l5 1.4 2.2-3-5-1.8z" fill="#6f5fc4"/>
<path d="M1117.7 941.3l5.1 1.2 2.3-2.5-5.1-1.4z" fill="#5643b7"/>
<path d="M1141.3 942.6l5.3.9 2.6-2-5.3-1z" fill="#3e27aa"/>
<path d="M1036.1 941.8l5.2.6 2.3-2.9-5.2-.6z" fill="#5642b7"/>
<path d="M1060.1 940.2l5.1.9 2.1-3.4-5-1.1z" fill="#7363c6"/>
<path d="M1084 939.9l5 1.4 2.2-3.2-5-1.7z" fill="#7464c6"/>
<path d="M1107.8 941.2l5.1 1.2 2.3-2.7-5.1-1.5z" fill="#5f4cbb"/>
<path d="M1131.5 942.4l5.2 1 2.5-2.1-5.2-1.2z" fill="#3e27ab"/>
<path d="M1026.1 942.7l5.3.5 2.4-2.5-5.2-.5z" fill="#432dad"/>
<path d="M1050.2 941.2l5.1.8 2.2-3.2-5.1-.8z" fill="#6655bf"/>
<path d="M1074.2 940.3l5 1.1 2.1-3.2-5-1.5z" fill="#7464c6"/>
<path d="M1098 941l5 1.3 2.3-2.8-5.1-1.5z" fill="#6452be"/>
<path d="M1121.7 942.3l5.2 1 2.4-2.3-5.2-1.2z" fill="#4a35b1"/>
<path d="M1040.2 942.2l5.2.6 2.3-2.8-5.2-.6z" fill="#5642b7"/>
<path d="M1064.2 941l5.1.9 2.2-3.2-5.1-1.2z" fill="#6e5dc3"/>
<path d="M1088.1 941l5.1 1.3 2.2-2.9-5.1-1.6z" fill="#6958c1"/>
<path d="M1111.9 942.1l5.1 1.1 2.3-2.4-5.1-1.3z" fill="#533fb5"/>
<path d="M1135.6 943.2l5.2.9 2.6-2-5.3-1z" fill="#3e27aa"/>
<path d="M1030.3 943.1l5.2.5 2.4-2.5-5.2-.5z" fill="#442eae"/>
<path d="M1054.3 941.8l5.1.8 2.2-3-5.1-.9z" fill="#6452be"/>
<path d="M1078.2 941.2l5.1 1.2 2.2-3-5.1-1.5z" fill="#6b5ac2"/>
<path d="M1102 942.1l5.1 1.1 2.3-2.6-5.1-1.3z" fill="#5946b8"/>
<path d="M1125.8 943.1l5.2.9 2.5-2.1-5.3-1.1z" fill="#3f28ab"/>
<path d="M1044.4 942.7l5.1.6 2.3-2.7-5.1-.7z" fill="#5541b6"/>
<path d="M1068.3 941.7l5.1 1 2.2-3-5.1-1.2z" fill="#6857c0"/>
<path d="M1092.2 942l5.1 1.2 2.2-2.7-5.1-1.4z" fill="#5f4cbb"/>
<path d="M1115.9 943l5.2 1 2.4-2.3-5.2-1.2z" fill="#4832b0"/>
<path d="M1034.4 943.5l5.2.6 2.5-2.6-5.3-.5z" fill="#452fae"/>
<path d="M1058.4 942.4l5.1.8 2.3-2.9-5.1-.9z" fill="#604dbc"/>
<path d="M1082.3 942.2l5.1 1.1 2.2-2.8-5.1-1.4z" fill="#6250bd"/>
<path d="M1106.1 943l5.1 1 2.4-2.4-5.2-1.2z" fill="#4f3ab3"/>
<path d="M1129.8 943.9l5.3.8 2.5-2-5.3-1z" fill="#3e27aa"/>
<path d="M1048.5 943.2l5.2.7 2.3-2.7-5.2-.8z" fill="#533fb5"/>
<path d="M1072.4 942.5l5.1 1 2.3-2.8-5.1-1.2z" fill="#614fbc"/>
<path d="M1096.3 943l5.1 1 2.3-2.5-5.1-1.2z" fill="#5440b6"/>
<path d="M1120 943.8l5.2.9 2.5-2.1-5.2-1.1z" fill="#3e27ab"/>
<path d="M1038.5 943.9l5.3.6 2.4-2.5-5.3-.6z" fill="#452fae"/>
<path d="M1062.5 943.1l5.2.8 2.2-2.8-5.1-1z" fill="#5b48b9"/>
<path d="M1086.4 943.1l5.1 1 2.3-2.6-5.1-1.3z" fill="#5845b8"/>
<path d="M1110.2 943.8l5.2.9 2.4-2.2-5.2-1.1z" fill="#452fae"/>
<path d="M1028.5 944.5l5.4.6 2.5-2.3-5.3-.5z" fill="#3e27aa"/>
<path d="M1052.6 943.7l5.2.7 2.3-2.6-5.2-.8z" fill="#513cb4"/>
<path d="M1076.5 943.3l5.1.9 2.3-2.6-5.1-1.2z" fill="#5946b8"/>
<path d="M1100.3 943.8l5.2 1 2.4-2.4-5.2-1.1z" fill="#4a34b1"/>
<path d="M1124.1 944.5l5.2.8 2.6-2-5.3-1z" fill="#3e27aa"/>
<path d="M1042.6 944.4l5.3.6 2.4-2.5-5.2-.6z" fill="#442eae"/>
<path d="M1066.6 943.7l5.2.9 2.3-2.7-5.2-1z" fill="#5642b6"/>
<path d="M1090.5 943.9l5.1.9 2.4-2.4-5.2-1.1z" fill="#4e3ab3"/>
<path d="M1114.2 944.5l5.3.9 2.5-2.1-5.3-1.1z" fill="#3e27aa"/>
<path d="M1032.7 945l5.3.5 2.5-2.3-5.3-.5z" fill="#3e27aa"/>
<path d="M1056.7 944.3l5.2.7 2.3-2.6-5.1-.8z" fill="#4d38b2"/>
<path d="M1080.6 944.1l5.1.9 2.4-2.5-5.2-1.1z" fill="#513cb4"/>
<path d="M1104.4 944.6l5.2.9 2.5-2.3-5.3-1z" fill="#412aac"/>
<path d="M1046.7 944.9l5.3.6 2.4-2.4-5.2-.7z" fill="#422cad"/>
<path d="M1070.7 944.4l5.2.8 2.3-2.5-5.1-1z" fill="#4f3ab3"/>
<path d="M1094.5 944.6l5.2.9 2.5-2.2-5.3-1.1z" fill="#452fae"/>
<path d="M1060.8 944.8l5.2.8 2.4-2.5-5.2-.8z" fill="#4934b0"/>
<path d="M1084.7 944.8l5.2.9 2.4-2.4-5.2-1z" fill="#4833b0"/>
<path d="M1108.5 945.3l5.2.8 2.5-2.1-5.2-1z" fill="#3e27aa"/>
<path d="M1050.9 945.3l5.2.7 2.5-2.4-5.3-.7z" fill="#4029ac"/>
<path d="M1074.8 945l5.2.8 2.4-2.3-5.2-1z" fill="#4833b0"/>
<path d="M1098.6 945.4l5.2.8 2.5-2.2-5.2-1z" fill="#3e27ab"/>
<path d="M1064.9 945.4l5.2.7 2.4-2.3-5.2-.9z" fill="#442eae"/>
<path d="M1088.7 945.5l5.3.8 2.4-2.2-5.2-1z" fill="#4029ac"/>
<path d="M1055 945.8l5.2.7 2.5-2.3-5.3-.7z" fill="#3e27ab"/>
<path d="M1078.9 945.7l5.2.8 2.5-2.3-5.3-.9z" fill="#412bac"/>
<path d="M1069 946l5.2.7 2.5-2.3-5.3-.8z" fill="#3f28ab"/>
<path d="M1092.8 946.1l5.3.8 2.5-2.1-5.3-.9z" fill="#3e27aa"/>
<path d="M1059.1 946.4l5.2.6 2.6-2.2-5.3-.8z" fill="#3e27aa"/>
<path d="M1083 946.3l5.2.8 2.5-2.2-5.3-.9z" fill="#3e27aa"/>
<path d="M1073.1 946.6l5.2.7 2.6-2.2-5.3-.8z" fill="#3e27aa"/></g>
<g stroke-linecap="butt"><line x1="846.7" y1="933.4" x2="846.7" y2="684.8" stroke="#a8a8a8" stroke-width="2.00"/>
<line x1="846.7" y1="933.4" x2="1176.4" y2="967.2" stroke="#262626" stroke-width="0.90"/>
<line x1="1176.4" y1="967.2" x2="1307.1" y2="884.0" stroke="#262626" stroke-width="0.90"/>
<line x1="846.7" y1="933.4" x2="839.1" y2="938.2" stroke="#262626" stroke-width="1.00"/>
<line x1="1011.6" y1="950.3" x2="1004.0" y2="955.1" stroke="#262626" stroke-width="1.00"/>
<line x1="1176.4" y1="967.2" x2="1168.8" y2="972.0" stroke="#262626" stroke-width="1.00"/>
<line x1="1176.4" y1="967.2" x2="1184.4" y2="968.0" stroke="#262626" stroke-width="1.00"/>
<line x1="1241.8" y1="925.6" x2="1249.7" y2="926.4" stroke="#262626" stroke-width="1.00"/>
<line x1="1307.1" y1="884.0" x2="1315.1" y2="884.8" stroke="#262626" stroke-width="1.00"/>
<line x1="846.7" y1="833.4" x2="838.7" y2="833.4" stroke="#404040" stroke-width="1.00"/>
<line x1="846.7" y1="733.4" x2="838.7" y2="733.4" stroke="#404040" stroke-width="1.00"/></g>
<g fill="#000"><text class="s" x="47.4" y="148.7" font-size="36.9">0.4</text>
<text class="s" x="47.5" y="204.9" font-size="37.1">0.3</text>
<text class="s" x="47.8" y="260.7" font-size="37.5">0.2</text>
<text class="s" x="47.5" y="314.9" font-size="35.4">0.1</text>
<text class="s" x="63.9" y="402.4" font-size="36.3">-5</text>
<text class="s" x="233.7" y="427.3" font-size="37.5">0</text>
<text class="s" x="388.6" y="450.8" font-size="36.8">5</text>
<text class="s" x="444.3" y="445.6" font-size="36.1">-5</text>
<text class="s" x="533.8" y="403.7" font-size="38.0">0</text>
<text class="s" x="623.2" y="362.2" font-size="35.8">5</text>
<text class="s i" x="241.3" y="490.6" font-size="40.5">x</text>
<text class="s i" x="559.0" y="479.7" font-size="37.1">y</text>
<text class="b" x="316.0" y="529.6" font-size="23.6">(a)</text>
<text class="s" x="726.5" y="127.0" font-size="41.0">0.6</text>
<text class="s" x="726.8" y="208.1" font-size="40.2">0.4</text>
<text class="s" x="727.6" y="288.6" font-size="40.1">0.2</text>
<text class="s" x="746.4" y="400.5" font-size="39.3">-5</text>
<text class="s" x="912.5" y="424.4" font-size="41.1">0</text>
<text class="s" x="1066.2" y="445.6" font-size="38.4">5</text>
<text class="s" x="1124.8" y="440.6" font-size="38.5">-5</text>
<text class="s" x="1212.6" y="401.5" font-size="39.1">0</text>
<text class="s" x="1301.1" y="361.9" font-size="38.4">5</text>
<text class="s i" x="915.1" y="489.1" font-size="43.6">x</text>
<text class="s i" x="1245.0" y="480.3" font-size="39.8">y</text>
<text class="b" x="992.0" y="529.6" font-size="23.7">(b)</text>
<text class="s" x="76.5" y="721.7" font-size="40.7">0.15</text>
<text class="s" x="97.3" y="794.9" font-size="39.5">0.1</text>
<text class="s" x="76.9" y="867.5" font-size="40.2">0.05</text>
<text class="s" x="116.6" y="972.5" font-size="38.3">-5</text>
<text class="s" x="277.0" y="996.1" font-size="39.7">0</text>
<text class="s" x="422.6" y="1017.2" font-size="37.1">5</text>
<text class="s" x="479.9" y="1013.3" font-size="38.0">-5</text>
<text class="s" x="565.5" y="974.1" font-size="39.1">0</text>
<text class="s" x="648.8" y="934.7" font-size="38.3">5</text>
<text class="s i" x="275.3" y="1061.4" font-size="44.3">x</text>
<text class="s i" x="598.6" y="1052.2" font-size="39.6">y</text>
<text class="b" x="341.6" y="1101.2" font-size="22.5">(c)</text>
<text class="s" x="752.1" y="747.6" font-size="42.2">0.04</text>
<text class="s" x="753.4" y="847.4" font-size="41.4">0.02</text>
<text class="s" x="795.3" y="982.7" font-size="38.8">-5</text>
<text class="s" x="973.6" y="999.3" font-size="39.9">0</text>
<text class="s" x="1136.5" y="1015.5" font-size="38.0">5</text>
<text class="s" x="1194.4" y="1006.7" font-size="38.4">-5</text>
<text class="s" x="1261.7" y="965.9" font-size="38.5">0</text>
<text class="s" x="1327.5" y="923.0" font-size="37.0">5</text>
<text class="s i" x="978.4" y="1060.7" font-size="44.4">x</text>
<text class="s i" x="1304.8" y="1046.9" font-size="39.2">y</text>
<text class="b" x="1017.2" y="1101.5" font-size="23.1">(d)</text><text class="s" transform="translate(33.2 227.2) rotate(-90)" text-anchor="middle" font-size="41.5">|<tspan class="i">U</tspan>|</text>
<text class="s" transform="translate(711.9 231.6) rotate(-90)" text-anchor="middle" font-size="44.5">|<tspan class="i">U</tspan>|</text>
<text class="s" transform="translate(60.5 804.1) rotate(-90)" text-anchor="middle" font-size="45.2">|<tspan class="i">U</tspan>|</text>
<text class="s" transform="translate(737.5 810.3) rotate(-90)" text-anchor="middle" font-size="45.3">|<tspan class="i">U</tspan>|</text></g>
</svg></body></html>
